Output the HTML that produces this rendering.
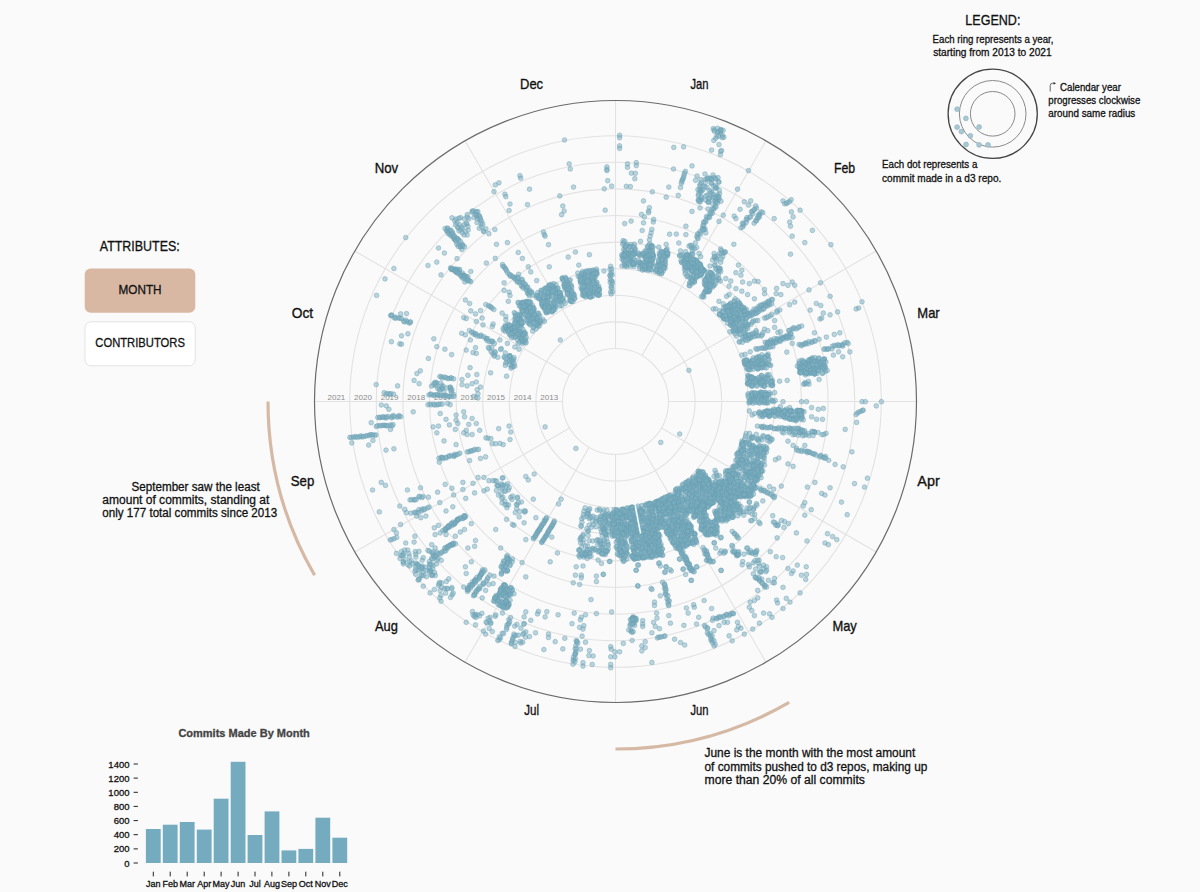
<!DOCTYPE html><html><head><meta charset="utf-8"><style>html,body{margin:0;padding:0;background:#fafafa;}svg{display:block}text{font-family:"Liberation Sans", sans-serif;}</style></head><body>
<svg width="1200" height="892" viewBox="0 0 1200 892">
<rect width="1200" height="892" fill="#fafafa"/>
<circle cx="615.5" cy="401.5" r="53" fill="none" stroke="#e2e2e2" stroke-width="1.1"/>
<circle cx="615.5" cy="401.5" r="79.6" fill="none" stroke="#e2e2e2" stroke-width="1.1"/>
<circle cx="615.5" cy="401.5" r="106.2" fill="none" stroke="#e2e2e2" stroke-width="1.1"/>
<circle cx="615.5" cy="401.5" r="132.8" fill="none" stroke="#e2e2e2" stroke-width="1.1"/>
<circle cx="615.5" cy="401.5" r="159.4" fill="none" stroke="#e2e2e2" stroke-width="1.1"/>
<circle cx="615.5" cy="401.5" r="186" fill="none" stroke="#e2e2e2" stroke-width="1.1"/>
<circle cx="615.5" cy="401.5" r="212.6" fill="none" stroke="#e2e2e2" stroke-width="1.1"/>
<circle cx="615.5" cy="401.5" r="239.2" fill="none" stroke="#e2e2e2" stroke-width="1.1"/>
<circle cx="615.5" cy="401.5" r="265.8" fill="none" stroke="#e2e2e2" stroke-width="1.1"/>
<line x1="615.5" y1="348.5" x2="615.5" y2="100.5" stroke="#e2e2e2" stroke-width="1.1"/>
<line x1="642" y1="355.6" x2="766" y2="140.8" stroke="#e2e2e2" stroke-width="1.1"/>
<line x1="661.4" y1="375" x2="876.2" y2="251" stroke="#e2e2e2" stroke-width="1.1"/>
<line x1="668.5" y1="401.5" x2="916.5" y2="401.5" stroke="#e2e2e2" stroke-width="1.1"/>
<line x1="661.4" y1="428" x2="876.2" y2="552" stroke="#e2e2e2" stroke-width="1.1"/>
<line x1="642" y1="447.4" x2="766" y2="662.2" stroke="#e2e2e2" stroke-width="1.1"/>
<line x1="615.5" y1="454.5" x2="615.5" y2="702.5" stroke="#e2e2e2" stroke-width="1.1"/>
<line x1="589" y1="447.4" x2="465" y2="662.2" stroke="#e2e2e2" stroke-width="1.1"/>
<line x1="569.6" y1="428" x2="354.8" y2="552" stroke="#e2e2e2" stroke-width="1.1"/>
<line x1="562.5" y1="401.5" x2="314.5" y2="401.5" stroke="#e2e2e2" stroke-width="1.1"/>
<line x1="569.6" y1="375" x2="354.8" y2="251" stroke="#e2e2e2" stroke-width="1.1"/>
<line x1="589" y1="355.6" x2="465" y2="140.8" stroke="#e2e2e2" stroke-width="1.1"/>
<circle cx="615.5" cy="401.5" r="301" fill="none" stroke="#6b6b6b" stroke-width="1.2"/>
<text x="549.2" y="400" font-size="8" fill="#8a8a8a" text-anchor="middle">2013</text>
<text x="522.6" y="400" font-size="8" fill="#8a8a8a" text-anchor="middle">2014</text>
<text x="496" y="400" font-size="8" fill="#8a8a8a" text-anchor="middle">2015</text>
<text x="469.4" y="400" font-size="8" fill="#8a8a8a" text-anchor="middle">2016</text>
<text x="442.8" y="400" font-size="8" fill="#8a8a8a" text-anchor="middle">2017</text>
<text x="416.2" y="400" font-size="8" fill="#8a8a8a" text-anchor="middle">2018</text>
<text x="389.6" y="400" font-size="8" fill="#8a8a8a" text-anchor="middle">2019</text>
<text x="363" y="400" font-size="8" fill="#8a8a8a" text-anchor="middle">2020</text>
<text x="336.4" y="400" font-size="8" fill="#8a8a8a" text-anchor="middle">2021</text>
<g fill="#7aadc0" fill-opacity="0.5" stroke="#6a9fb2" stroke-opacity="0.55" stroke-width="0.8"><circle cx="495.3" cy="184.9" r="2.35"/><circle cx="499.0" cy="182.8" r="2.35"/><circle cx="494.0" cy="191.7" r="2.35"/><circle cx="504.9" cy="194.2" r="2.35"/><circle cx="505.8" cy="196.7" r="2.35"/><circle cx="510.0" cy="204.0" r="2.35"/><circle cx="509.1" cy="210.5" r="2.35"/><circle cx="405.7" cy="237.6" r="2.35"/><circle cx="494.8" cy="229.5" r="2.35"/><circle cx="488.9" cy="233.7" r="2.35"/><circle cx="496.5" cy="244.3" r="2.35"/><circle cx="507.4" cy="242.6" r="2.35"/><circle cx="438.5" cy="248.0" r="2.35"/><circle cx="445.0" cy="228.5" r="2.35"/><circle cx="446.8" cy="230.3" r="2.35"/><circle cx="446.9" cy="231.2" r="2.35"/><circle cx="448.3" cy="232.3" r="2.35"/><circle cx="448.4" cy="233.9" r="2.35"/><circle cx="450.3" cy="234.6" r="2.35"/><circle cx="451.2" cy="236.1" r="2.35"/><circle cx="453.0" cy="236.7" r="2.35"/><circle cx="454.1" cy="238.4" r="2.35"/><circle cx="454.1" cy="239.1" r="2.35"/><circle cx="455.5" cy="240.3" r="2.35"/><circle cx="455.8" cy="241.1" r="2.35"/><circle cx="456.8" cy="244.1" r="2.35"/><circle cx="459.0" cy="244.8" r="2.35"/><circle cx="458.1" cy="246.3" r="2.35"/><circle cx="460.8" cy="247.1" r="2.35"/><circle cx="460.4" cy="246.9" r="2.35"/><circle cx="461.9" cy="249.6" r="2.35"/><circle cx="447.4" cy="228.0" r="2.35"/><circle cx="447.7" cy="228.7" r="2.35"/><circle cx="449.6" cy="230.4" r="2.35"/><circle cx="450.8" cy="230.4" r="2.35"/><circle cx="451.9" cy="231.5" r="2.35"/><circle cx="452.8" cy="233.3" r="2.35"/><circle cx="452.5" cy="234.5" r="2.35"/><circle cx="454.2" cy="236.4" r="2.35"/><circle cx="454.2" cy="235.9" r="2.35"/><circle cx="457.1" cy="238.4" r="2.35"/><circle cx="456.4" cy="238.3" r="2.35"/><circle cx="458.2" cy="239.3" r="2.35"/><circle cx="458.7" cy="240.3" r="2.35"/><circle cx="460.5" cy="241.5" r="2.35"/><circle cx="462.1" cy="244.3" r="2.35"/><circle cx="462.6" cy="245.1" r="2.35"/><circle cx="462.8" cy="246.1" r="2.35"/><circle cx="464.6" cy="246.8" r="2.35"/><circle cx="459.1" cy="230.9" r="2.35"/><circle cx="462.5" cy="228.3" r="2.35"/><circle cx="467.2" cy="235.0" r="2.35"/><circle cx="462.4" cy="232.9" r="2.35"/><circle cx="466.9" cy="224.0" r="2.35"/><circle cx="454.7" cy="220.7" r="2.35"/><circle cx="467.3" cy="214.7" r="2.35"/><circle cx="457.0" cy="222.7" r="2.35"/><circle cx="464.4" cy="224.6" r="2.35"/><circle cx="452.0" cy="217.8" r="2.35"/><circle cx="460.5" cy="217.6" r="2.35"/><circle cx="468.2" cy="230.1" r="2.35"/><circle cx="458.3" cy="228.0" r="2.35"/><circle cx="465.4" cy="231.6" r="2.35"/><circle cx="469.0" cy="218.8" r="2.35"/><circle cx="464.1" cy="234.9" r="2.35"/><circle cx="455.6" cy="224.7" r="2.35"/><circle cx="459.0" cy="218.3" r="2.35"/><circle cx="466.3" cy="223.4" r="2.35"/><circle cx="459.5" cy="224.7" r="2.35"/><circle cx="464.5" cy="219.0" r="2.35"/><circle cx="457.5" cy="227.2" r="2.35"/><circle cx="460.8" cy="229.7" r="2.35"/><circle cx="456.0" cy="219.0" r="2.35"/><circle cx="467.3" cy="217.4" r="2.35"/><circle cx="461.3" cy="227.1" r="2.35"/><circle cx="468.0" cy="226.6" r="2.35"/><circle cx="479.4" cy="216.3" r="2.35"/><circle cx="477.6" cy="218.8" r="2.35"/><circle cx="480.9" cy="223.4" r="2.35"/><circle cx="475.7" cy="212.2" r="2.35"/><circle cx="481.4" cy="226.7" r="2.35"/><circle cx="479.3" cy="228.3" r="2.35"/><circle cx="480.2" cy="219.4" r="2.35"/><circle cx="476.6" cy="216.5" r="2.35"/><circle cx="481.6" cy="221.0" r="2.35"/><circle cx="472.2" cy="211.1" r="2.35"/><circle cx="483.8" cy="231.6" r="2.35"/><circle cx="482.8" cy="224.2" r="2.35"/><circle cx="477.8" cy="211.6" r="2.35"/><circle cx="476.9" cy="214.8" r="2.35"/><circle cx="475.2" cy="214.6" r="2.35"/><circle cx="483.6" cy="231.1" r="2.35"/><circle cx="485.9" cy="228.8" r="2.35"/><circle cx="474.0" cy="217.5" r="2.35"/><circle cx="476.7" cy="211.7" r="2.35"/><circle cx="472.2" cy="212.3" r="2.35"/><circle cx="479.2" cy="215.7" r="2.35"/><circle cx="473.3" cy="210.8" r="2.35"/><circle cx="477.0" cy="222.6" r="2.35"/><circle cx="480.3" cy="218.0" r="2.35"/><circle cx="564.5" cy="140.0" r="2.35"/><circle cx="619.6" cy="135.3" r="2.35"/><circle cx="619.6" cy="137.8" r="2.35"/><circle cx="619.6" cy="145.8" r="2.35"/><circle cx="619.6" cy="148.4" r="2.35"/><circle cx="673.8" cy="147.4" r="2.35"/><circle cx="683.6" cy="146.8" r="2.35"/><circle cx="711.6" cy="150.1" r="2.35"/><circle cx="713.3" cy="128.6" r="2.35"/><circle cx="713.8" cy="140.4" r="2.35"/><circle cx="569.2" cy="163.9" r="2.35"/><circle cx="570.3" cy="169.0" r="2.35"/><circle cx="606.9" cy="166.9" r="2.35"/><circle cx="606.9" cy="169.3" r="2.35"/><circle cx="606.9" cy="170.6" r="2.35"/><circle cx="519.9" cy="175.7" r="2.35"/><circle cx="520.7" cy="178.2" r="2.35"/><circle cx="529.5" cy="189.2" r="2.35"/><circle cx="573.5" cy="187.1" r="2.35"/><circle cx="607.7" cy="180.7" r="2.35"/><circle cx="611.6" cy="186.1" r="2.35"/><circle cx="604.3" cy="188.8" r="2.35"/><circle cx="627.5" cy="163.9" r="2.35"/><circle cx="627.5" cy="167.3" r="2.35"/><circle cx="636.3" cy="162.7" r="2.35"/><circle cx="636.3" cy="165.6" r="2.35"/><circle cx="631.4" cy="173.2" r="2.35"/><circle cx="635.4" cy="173.3" r="2.35"/><circle cx="634.8" cy="178.7" r="2.35"/><circle cx="626.4" cy="186.3" r="2.35"/><circle cx="630.4" cy="186.6" r="2.35"/><circle cx="652.3" cy="191.8" r="2.35"/><circle cx="668.8" cy="187.1" r="2.35"/><circle cx="666.2" cy="197.2" r="2.35"/><circle cx="680.5" cy="187.5" r="2.35"/><circle cx="678.3" cy="195.4" r="2.35"/><circle cx="673.5" cy="169.0" r="2.35"/><circle cx="692.0" cy="165.9" r="2.35"/><circle cx="685.4" cy="171.4" r="2.35"/><circle cx="684.5" cy="173.2" r="2.35"/><circle cx="684.0" cy="175.3" r="2.35"/><circle cx="683.6" cy="177.4" r="2.35"/><circle cx="682.9" cy="178.9" r="2.35"/><circle cx="682.1" cy="180.1" r="2.35"/><circle cx="682.0" cy="181.8" r="2.35"/><circle cx="681.3" cy="183.3" r="2.35"/><circle cx="559.8" cy="195.9" r="2.35"/><circle cx="562.8" cy="206.0" r="2.35"/><circle cx="564.1" cy="211.0" r="2.35"/><circle cx="561.6" cy="214.7" r="2.35"/><circle cx="527.5" cy="204.6" r="2.35"/><circle cx="605.2" cy="210.2" r="2.35"/><circle cx="643.5" cy="200.9" r="2.35"/><circle cx="649.4" cy="207.7" r="2.35"/><circle cx="648.6" cy="211.0" r="2.35"/><circle cx="648.6" cy="212.7" r="2.35"/><circle cx="641.5" cy="214.4" r="2.35"/><circle cx="644.4" cy="216.9" r="2.35"/><circle cx="653.6" cy="219.4" r="2.35"/><circle cx="653.3" cy="222.0" r="2.35"/><circle cx="643.5" cy="222.8" r="2.35"/><circle cx="624.7" cy="223.6" r="2.35"/><circle cx="631.1" cy="221.1" r="2.35"/><circle cx="642.2" cy="230.5" r="2.35"/><circle cx="651.9" cy="229.5" r="2.35"/><circle cx="651.1" cy="232.9" r="2.35"/><circle cx="650.2" cy="236.2" r="2.35"/><circle cx="649.4" cy="239.9" r="2.35"/><circle cx="640.5" cy="241.3" r="2.35"/><circle cx="692.0" cy="211.4" r="2.35"/><circle cx="685.9" cy="226.2" r="2.35"/><circle cx="669.6" cy="234.2" r="2.35"/><circle cx="676.3" cy="234.1" r="2.35"/><circle cx="685.9" cy="234.6" r="2.35"/><circle cx="705.8" cy="232.9" r="2.35"/><circle cx="543.4" cy="232.0" r="2.35"/><circle cx="544.3" cy="234.6" r="2.35"/><circle cx="545.1" cy="236.2" r="2.35"/><circle cx="548.5" cy="244.7" r="2.35"/><circle cx="715.1" cy="206.3" r="2.35"/><circle cx="713.6" cy="209.0" r="2.35"/><circle cx="714.0" cy="208.4" r="2.35"/><circle cx="711.9" cy="208.9" r="2.35"/><circle cx="712.4" cy="213.3" r="2.35"/><circle cx="710.5" cy="214.1" r="2.35"/><circle cx="711.2" cy="212.0" r="2.35"/><circle cx="709.9" cy="213.1" r="2.35"/><circle cx="708.7" cy="217.2" r="2.35"/><circle cx="707.3" cy="217.3" r="2.35"/><circle cx="706.5" cy="216.5" r="2.35"/><circle cx="709.5" cy="217.5" r="2.35"/><circle cx="705.8" cy="221.9" r="2.35"/><circle cx="705.8" cy="220.1" r="2.35"/><circle cx="704.3" cy="222.3" r="2.35"/><circle cx="703.6" cy="222.2" r="2.35"/><circle cx="703.7" cy="225.3" r="2.35"/><circle cx="702.9" cy="225.8" r="2.35"/><circle cx="702.6" cy="228.4" r="2.35"/><circle cx="705.1" cy="229.2" r="2.35"/><circle cx="704.1" cy="228.7" r="2.35"/><circle cx="703.7" cy="230.1" r="2.35"/><circle cx="700.0" cy="231.6" r="2.35"/><circle cx="702.2" cy="229.7" r="2.35"/><circle cx="699.0" cy="233.8" r="2.35"/><circle cx="700.7" cy="234.0" r="2.35"/><circle cx="697.6" cy="233.9" r="2.35"/><circle cx="697.4" cy="237.8" r="2.35"/><circle cx="696.8" cy="236.4" r="2.35"/><circle cx="698.1" cy="238.6" r="2.35"/><circle cx="630.0" cy="246.7" r="2.35"/><circle cx="634.7" cy="249.2" r="2.35"/><circle cx="623.0" cy="240.7" r="2.35"/><circle cx="635.3" cy="249.2" r="2.35"/><circle cx="626.9" cy="244.3" r="2.35"/><circle cx="630.9" cy="244.5" r="2.35"/><circle cx="623.4" cy="242.8" r="2.35"/><circle cx="626.5" cy="245.9" r="2.35"/><circle cx="625.1" cy="247.4" r="2.35"/><circle cx="634.3" cy="244.1" r="2.35"/><circle cx="630.0" cy="246.6" r="2.35"/><circle cx="633.0" cy="246.5" r="2.35"/><circle cx="629.6" cy="247.4" r="2.35"/><circle cx="623.6" cy="249.5" r="2.35"/><circle cx="634.5" cy="247.1" r="2.35"/><circle cx="625.3" cy="246.5" r="2.35"/><circle cx="622.7" cy="244.3" r="2.35"/><circle cx="625.3" cy="245.8" r="2.35"/><circle cx="624.8" cy="241.3" r="2.35"/><circle cx="651.6" cy="245.4" r="2.35"/><circle cx="649.8" cy="243.9" r="2.35"/><circle cx="650.5" cy="248.7" r="2.35"/><circle cx="651.6" cy="245.9" r="2.35"/><circle cx="647.4" cy="247.6" r="2.35"/><circle cx="648.3" cy="245.6" r="2.35"/><circle cx="647.8" cy="246.3" r="2.35"/><circle cx="651.0" cy="246.3" r="2.35"/><circle cx="651.0" cy="248.3" r="2.35"/><circle cx="652.0" cy="247.4" r="2.35"/><circle cx="653.1" cy="246.9" r="2.35"/><circle cx="692.6" cy="247.5" r="2.35"/><circle cx="696.6" cy="247.5" r="2.35"/><circle cx="695.3" cy="242.9" r="2.35"/><circle cx="691.6" cy="247.9" r="2.35"/><circle cx="694.5" cy="248.7" r="2.35"/><circle cx="690.5" cy="245.3" r="2.35"/><circle cx="691.6" cy="245.6" r="2.35"/><circle cx="689.0" cy="246.1" r="2.35"/><circle cx="658.7" cy="247.2" r="2.35"/><circle cx="667.1" cy="248.9" r="2.35"/><circle cx="666.2" cy="244.3" r="2.35"/><circle cx="678.8" cy="243.0" r="2.35"/><circle cx="722.5" cy="135.7" r="2.35"/><circle cx="716.8" cy="135.9" r="2.35"/><circle cx="720.6" cy="129.8" r="2.35"/><circle cx="714.1" cy="130.0" r="2.35"/><circle cx="723.8" cy="137.2" r="2.35"/><circle cx="717.8" cy="131.7" r="2.35"/><circle cx="720.2" cy="131.5" r="2.35"/><circle cx="714.4" cy="131.2" r="2.35"/><circle cx="720.6" cy="133.0" r="2.35"/><circle cx="717.7" cy="132.7" r="2.35"/><circle cx="715.8" cy="138.1" r="2.35"/><circle cx="718.8" cy="136.2" r="2.35"/><circle cx="722.2" cy="137.7" r="2.35"/><circle cx="720.8" cy="129.6" r="2.35"/><circle cx="717.5" cy="128.3" r="2.35"/><circle cx="721.0" cy="130.5" r="2.35"/><circle cx="723.1" cy="130.3" r="2.35"/><circle cx="719.0" cy="144.6" r="2.35"/><circle cx="720.7" cy="151.3" r="2.35"/><circle cx="720.4" cy="154.7" r="2.35"/><circle cx="721.6" cy="150.5" r="2.35"/><circle cx="748.5" cy="170.6" r="2.35"/><circle cx="737.5" cy="189.2" r="2.35"/><circle cx="723.3" cy="215.2" r="2.35"/><circle cx="719.0" cy="221.4" r="2.35"/><circle cx="744.3" cy="201.8" r="2.35"/><circle cx="750.7" cy="200.9" r="2.35"/><circle cx="748.5" cy="205.1" r="2.35"/><circle cx="740.1" cy="209.3" r="2.35"/><circle cx="740.9" cy="227.8" r="2.35"/><circle cx="742.8" cy="226.9" r="2.35"/><circle cx="743.9" cy="224.8" r="2.35"/><circle cx="742.5" cy="223.2" r="2.35"/><circle cx="743.3" cy="223.5" r="2.35"/><circle cx="746.2" cy="222.4" r="2.35"/><circle cx="747.4" cy="219.3" r="2.35"/><circle cx="746.2" cy="219.7" r="2.35"/><circle cx="746.9" cy="217.5" r="2.35"/><circle cx="749.6" cy="217.2" r="2.35"/><circle cx="750.7" cy="216.8" r="2.35"/><circle cx="752.7" cy="213.7" r="2.35"/><circle cx="751.6" cy="211.6" r="2.35"/><circle cx="752.0" cy="211.6" r="2.35"/><circle cx="754.5" cy="209.7" r="2.35"/><circle cx="753.8" cy="209.8" r="2.35"/><circle cx="756.5" cy="208.1" r="2.35"/><circle cx="755.8" cy="205.9" r="2.35"/><circle cx="754.1" cy="223.2" r="2.35"/><circle cx="755.7" cy="220.9" r="2.35"/><circle cx="756.6" cy="220.6" r="2.35"/><circle cx="757.2" cy="218.4" r="2.35"/><circle cx="758.3" cy="217.7" r="2.35"/><circle cx="758.1" cy="215.4" r="2.35"/><circle cx="759.3" cy="214.7" r="2.35"/><circle cx="759.7" cy="213.8" r="2.35"/><circle cx="761.3" cy="211.9" r="2.35"/><circle cx="734.2" cy="216.1" r="2.35"/><circle cx="735.9" cy="218.6" r="2.35"/><circle cx="762.8" cy="212.7" r="2.35"/><circle cx="759.4" cy="216.9" r="2.35"/><circle cx="774.2" cy="218.6" r="2.35"/><circle cx="784.6" cy="203.8" r="2.35"/><circle cx="786.6" cy="203.5" r="2.35"/><circle cx="787.4" cy="202.6" r="2.35"/><circle cx="789.5" cy="201.7" r="2.35"/><circle cx="791.2" cy="199.7" r="2.35"/><circle cx="783.0" cy="200.9" r="2.35"/><circle cx="800.1" cy="210.2" r="2.35"/><circle cx="791.4" cy="211.9" r="2.35"/><circle cx="793.1" cy="216.9" r="2.35"/><circle cx="789.7" cy="222.0" r="2.35"/><circle cx="790.5" cy="226.2" r="2.35"/><circle cx="812.4" cy="230.4" r="2.35"/><circle cx="792.2" cy="236.2" r="2.35"/><circle cx="804.8" cy="242.6" r="2.35"/><circle cx="830.9" cy="244.7" r="2.35"/><circle cx="733.8" cy="244.3" r="2.35"/><circle cx="720.7" cy="248.9" r="2.35"/><circle cx="444.4" cy="253.0" r="2.35"/><circle cx="457.0" cy="258.7" r="2.35"/><circle cx="428.0" cy="265.5" r="2.35"/><circle cx="436.8" cy="262.1" r="2.35"/><circle cx="441.0" cy="274.9" r="2.35"/><circle cx="470.8" cy="271.5" r="2.35"/><circle cx="486.4" cy="263.1" r="2.35"/><circle cx="495.3" cy="258.4" r="2.35"/><circle cx="455.9" cy="272.3" r="2.35"/><circle cx="452.0" cy="269.6" r="2.35"/><circle cx="461.7" cy="275.4" r="2.35"/><circle cx="456.2" cy="269.2" r="2.35"/><circle cx="451.3" cy="269.3" r="2.35"/><circle cx="459.5" cy="269.4" r="2.35"/><circle cx="463.5" cy="275.1" r="2.35"/><circle cx="468.5" cy="280.7" r="2.35"/><circle cx="462.4" cy="278.1" r="2.35"/><circle cx="459.3" cy="272.7" r="2.35"/><circle cx="455.7" cy="270.2" r="2.35"/><circle cx="464.8" cy="282.0" r="2.35"/><circle cx="457.5" cy="269.8" r="2.35"/><circle cx="459.3" cy="270.0" r="2.35"/><circle cx="463.8" cy="275.6" r="2.35"/><circle cx="462.4" cy="273.0" r="2.35"/><circle cx="468.0" cy="276.8" r="2.35"/><circle cx="455.0" cy="269.0" r="2.35"/><circle cx="453.3" cy="269.1" r="2.35"/><circle cx="466.0" cy="279.0" r="2.35"/><circle cx="465.2" cy="276.2" r="2.35"/><circle cx="457.2" cy="271.4" r="2.35"/><circle cx="466.2" cy="276.5" r="2.35"/><circle cx="463.4" cy="275.2" r="2.35"/><circle cx="450.6" cy="267.8" r="2.35"/><circle cx="451.2" cy="268.4" r="2.35"/><circle cx="452.5" cy="269.2" r="2.35"/><circle cx="454.5" cy="270.6" r="2.35"/><circle cx="455.4" cy="271.2" r="2.35"/><circle cx="456.5" cy="271.7" r="2.35"/><circle cx="457.8" cy="273.1" r="2.35"/><circle cx="458.9" cy="273.9" r="2.35"/><circle cx="460.9" cy="275.3" r="2.35"/><circle cx="461.1" cy="276.2" r="2.35"/><circle cx="463.2" cy="277.0" r="2.35"/><circle cx="464.5" cy="277.1" r="2.35"/><circle cx="464.9" cy="278.6" r="2.35"/><circle cx="467.0" cy="278.8" r="2.35"/><circle cx="467.3" cy="280.7" r="2.35"/><circle cx="469.7" cy="280.8" r="2.35"/><circle cx="470.8" cy="281.7" r="2.35"/><circle cx="393.9" cy="268.5" r="2.35"/><circle cx="385.0" cy="278.9" r="2.35"/><circle cx="376.6" cy="295.4" r="2.35"/><circle cx="502.6" cy="264.5" r="2.35"/><circle cx="502.9" cy="266.3" r="2.35"/><circle cx="504.1" cy="266.8" r="2.35"/><circle cx="505.2" cy="268.2" r="2.35"/><circle cx="505.7" cy="269.3" r="2.35"/><circle cx="506.6" cy="270.7" r="2.35"/><circle cx="507.5" cy="272.8" r="2.35"/><circle cx="509.5" cy="274.4" r="2.35"/><circle cx="510.2" cy="276.2" r="2.35"/><circle cx="510.9" cy="275.2" r="2.35"/><circle cx="512.8" cy="277.0" r="2.35"/><circle cx="514.6" cy="278.3" r="2.35"/><circle cx="504.1" cy="282.8" r="2.35"/><circle cx="504.1" cy="290.4" r="2.35"/><circle cx="509.1" cy="292.1" r="2.35"/><circle cx="510.0" cy="295.4" r="2.35"/><circle cx="508.3" cy="301.3" r="2.35"/><circle cx="465.4" cy="300.0" r="2.35"/><circle cx="469.6" cy="303.5" r="2.35"/><circle cx="470.8" cy="310.9" r="2.35"/><circle cx="475.5" cy="313.9" r="2.35"/><circle cx="480.5" cy="310.6" r="2.35"/><circle cx="485.8" cy="304.5" r="2.35"/><circle cx="488.5" cy="305.7" r="2.35"/><circle cx="489.8" cy="306.5" r="2.35"/><circle cx="491.1" cy="307.2" r="2.35"/><circle cx="492.1" cy="308.2" r="2.35"/><circle cx="493.9" cy="309.5" r="2.35"/><circle cx="502.1" cy="313.1" r="2.35"/><circle cx="505.8" cy="316.4" r="2.35"/><circle cx="505.8" cy="319.8" r="2.35"/><circle cx="463.7" cy="317.6" r="2.35"/><circle cx="466.2" cy="318.6" r="2.35"/><circle cx="476.3" cy="321.5" r="2.35"/><circle cx="482.2" cy="318.1" r="2.35"/><circle cx="483.0" cy="324.9" r="2.35"/><circle cx="492.3" cy="326.5" r="2.35"/><circle cx="493.1" cy="324.0" r="2.35"/><circle cx="390.7" cy="315.7" r="2.35"/><circle cx="391.2" cy="315.1" r="2.35"/><circle cx="391.9" cy="315.2" r="2.35"/><circle cx="394.4" cy="318.0" r="2.35"/><circle cx="395.2" cy="317.1" r="2.35"/><circle cx="396.1" cy="318.2" r="2.35"/><circle cx="398.7" cy="317.9" r="2.35"/><circle cx="400.0" cy="318.3" r="2.35"/><circle cx="401.5" cy="318.5" r="2.35"/><circle cx="403.8" cy="321.3" r="2.35"/><circle cx="405.8" cy="320.1" r="2.35"/><circle cx="404.5" cy="321.9" r="2.35"/><circle cx="407.2" cy="321.7" r="2.35"/><circle cx="409.2" cy="323.1" r="2.35"/><circle cx="410.2" cy="322.4" r="2.35"/><circle cx="410.5" cy="321.8" r="2.35"/><circle cx="400.6" cy="313.9" r="2.35"/><circle cx="406.5" cy="313.6" r="2.35"/><circle cx="401.5" cy="335.8" r="2.35"/><circle cx="407.9" cy="333.8" r="2.35"/><circle cx="391.4" cy="341.7" r="2.35"/><circle cx="399.8" cy="343.9" r="2.35"/><circle cx="401.5" cy="344.2" r="2.35"/><circle cx="433.8" cy="338.8" r="2.35"/><circle cx="436.8" cy="346.7" r="2.35"/><circle cx="444.9" cy="349.2" r="2.35"/><circle cx="451.6" cy="354.6" r="2.35"/><circle cx="428.4" cy="358.5" r="2.35"/><circle cx="469.4" cy="330.5" r="2.35"/><circle cx="473.0" cy="332.4" r="2.35"/><circle cx="471.6" cy="332.2" r="2.35"/><circle cx="474.0" cy="334.3" r="2.35"/><circle cx="475.3" cy="334.0" r="2.35"/><circle cx="476.1" cy="333.9" r="2.35"/><circle cx="476.9" cy="335.9" r="2.35"/><circle cx="479.4" cy="336.3" r="2.35"/><circle cx="480.9" cy="335.0" r="2.35"/><circle cx="481.3" cy="336.2" r="2.35"/><circle cx="484.1" cy="336.9" r="2.35"/><circle cx="486.0" cy="338.8" r="2.35"/><circle cx="486.4" cy="338.6" r="2.35"/><circle cx="487.7" cy="338.6" r="2.35"/><circle cx="487.2" cy="340.7" r="2.35"/><circle cx="489.6" cy="341.6" r="2.35"/><circle cx="491.7" cy="341.0" r="2.35"/><circle cx="492.0" cy="341.9" r="2.35"/><circle cx="492.8" cy="341.5" r="2.35"/><circle cx="494.3" cy="343.5" r="2.35"/><circle cx="461.7" cy="333.3" r="2.35"/><circle cx="465.4" cy="334.9" r="2.35"/><circle cx="470.4" cy="340.0" r="2.35"/><circle cx="466.2" cy="350.1" r="2.35"/><circle cx="475.5" cy="347.6" r="2.35"/><circle cx="476.3" cy="353.4" r="2.35"/><circle cx="473.0" cy="352.6" r="2.35"/><circle cx="507.8" cy="324.5" r="2.35"/><circle cx="505.5" cy="331.4" r="2.35"/><circle cx="509.1" cy="327.7" r="2.35"/><circle cx="513.7" cy="330.0" r="2.35"/><circle cx="511.1" cy="329.2" r="2.35"/><circle cx="508.9" cy="333.1" r="2.35"/><circle cx="506.7" cy="326.5" r="2.35"/><circle cx="509.8" cy="335.1" r="2.35"/><circle cx="511.7" cy="326.2" r="2.35"/><circle cx="512.5" cy="335.5" r="2.35"/><circle cx="506.7" cy="329.4" r="2.35"/><circle cx="512.4" cy="328.6" r="2.35"/><circle cx="513.2" cy="327.7" r="2.35"/><circle cx="503.8" cy="330.1" r="2.35"/><circle cx="506.8" cy="327.0" r="2.35"/><circle cx="512.0" cy="327.9" r="2.35"/><circle cx="513.5" cy="329.9" r="2.35"/><circle cx="513.7" cy="330.6" r="2.35"/><circle cx="505.2" cy="326.9" r="2.35"/><circle cx="513.5" cy="332.7" r="2.35"/><circle cx="507.8" cy="327.4" r="2.35"/><circle cx="503.1" cy="328.5" r="2.35"/><circle cx="510.4" cy="334.6" r="2.35"/><circle cx="507.7" cy="330.2" r="2.35"/><circle cx="509.5" cy="325.3" r="2.35"/><circle cx="508.2" cy="327.4" r="2.35"/><circle cx="507.9" cy="329.7" r="2.35"/><circle cx="504.9" cy="326.8" r="2.35"/><circle cx="510.0" cy="328.8" r="2.35"/><circle cx="513.7" cy="337.6" r="2.35"/><circle cx="509.2" cy="325.0" r="2.35"/><circle cx="511.6" cy="333.2" r="2.35"/><circle cx="509.7" cy="329.9" r="2.35"/><circle cx="512.0" cy="328.8" r="2.35"/><circle cx="508.1" cy="331.1" r="2.35"/><circle cx="513.1" cy="329.0" r="2.35"/><circle cx="512.5" cy="328.1" r="2.35"/><circle cx="505.4" cy="325.3" r="2.35"/><circle cx="499.9" cy="340.0" r="2.35"/><circle cx="507.4" cy="343.4" r="2.35"/><circle cx="511.6" cy="337.5" r="2.35"/><circle cx="506.9" cy="361.8" r="2.35"/><circle cx="489.2" cy="348.6" r="2.35"/><circle cx="509.1" cy="360.6" r="2.35"/><circle cx="509.9" cy="355.7" r="2.35"/><circle cx="491.4" cy="347.4" r="2.35"/><circle cx="511.9" cy="361.8" r="2.35"/><circle cx="504.3" cy="357.5" r="2.35"/><circle cx="494.5" cy="355.2" r="2.35"/><circle cx="509.8" cy="361.2" r="2.35"/><circle cx="509.8" cy="364.8" r="2.35"/><circle cx="504.6" cy="356.7" r="2.35"/><circle cx="505.7" cy="363.1" r="2.35"/><circle cx="497.8" cy="357.3" r="2.35"/><circle cx="511.8" cy="358.9" r="2.35"/><circle cx="501.3" cy="348.7" r="2.35"/><circle cx="505.3" cy="352.9" r="2.35"/><circle cx="511.1" cy="368.2" r="2.35"/><circle cx="513.6" cy="359.6" r="2.35"/><circle cx="494.9" cy="351.7" r="2.35"/><circle cx="509.4" cy="356.2" r="2.35"/><circle cx="509.6" cy="356.5" r="2.35"/><circle cx="509.9" cy="355.9" r="2.35"/><circle cx="512.6" cy="360.6" r="2.35"/><circle cx="512.1" cy="365.4" r="2.35"/><circle cx="513.1" cy="366.4" r="2.35"/><circle cx="506.1" cy="358.7" r="2.35"/><circle cx="494.2" cy="356.1" r="2.35"/><circle cx="488.4" cy="347.4" r="2.35"/><circle cx="495.2" cy="352.6" r="2.35"/><circle cx="492.8" cy="353.5" r="2.35"/><circle cx="500.6" cy="349.4" r="2.35"/><circle cx="513.8" cy="363.2" r="2.35"/><circle cx="505.3" cy="365.4" r="2.35"/><circle cx="491.1" cy="351.7" r="2.35"/><circle cx="511.9" cy="366.9" r="2.35"/><circle cx="490.6" cy="372.8" r="2.35"/><circle cx="506.6" cy="376.2" r="2.35"/><circle cx="470.1" cy="367.7" r="2.35"/><circle cx="467.9" cy="375.3" r="2.35"/><circle cx="476.8" cy="374.5" r="2.35"/><circle cx="462.0" cy="379.5" r="2.35"/><circle cx="467.1" cy="385.9" r="2.35"/><circle cx="472.1" cy="383.7" r="2.35"/><circle cx="476.3" cy="382.0" r="2.35"/><circle cx="480.5" cy="387.1" r="2.35"/><circle cx="477.2" cy="389.6" r="2.35"/><circle cx="478.0" cy="393.8" r="2.35"/><circle cx="462.0" cy="384.6" r="2.35"/><circle cx="439.8" cy="376.5" r="2.35"/><circle cx="441.3" cy="376.7" r="2.35"/><circle cx="442.3" cy="378.0" r="2.35"/><circle cx="444.5" cy="377.1" r="2.35"/><circle cx="445.8" cy="377.6" r="2.35"/><circle cx="447.5" cy="378.4" r="2.35"/><circle cx="448.9" cy="378.6" r="2.35"/><circle cx="450.9" cy="377.9" r="2.35"/><circle cx="451.5" cy="378.1" r="2.35"/><circle cx="453.6" cy="378.9" r="2.35"/><circle cx="450.4" cy="387.3" r="2.35"/><circle cx="447.2" cy="387.8" r="2.35"/><circle cx="443.1" cy="386.0" r="2.35"/><circle cx="452.0" cy="389.9" r="2.35"/><circle cx="450.2" cy="387.2" r="2.35"/><circle cx="436.7" cy="382.9" r="2.35"/><circle cx="442.4" cy="388.6" r="2.35"/><circle cx="436.2" cy="385.8" r="2.35"/><circle cx="451.4" cy="392.4" r="2.35"/><circle cx="453.7" cy="394.6" r="2.35"/><circle cx="439.8" cy="390.2" r="2.35"/><circle cx="450.5" cy="388.6" r="2.35"/><circle cx="431.6" cy="386.1" r="2.35"/><circle cx="443.9" cy="391.7" r="2.35"/><circle cx="439.6" cy="389.3" r="2.35"/><circle cx="433.7" cy="384.8" r="2.35"/><circle cx="442.2" cy="388.1" r="2.35"/><circle cx="441.5" cy="385.9" r="2.35"/><circle cx="437.7" cy="388.6" r="2.35"/><circle cx="435.5" cy="382.3" r="2.35"/><circle cx="434.1" cy="383.0" r="2.35"/><circle cx="440.7" cy="383.2" r="2.35"/><circle cx="435.7" cy="383.7" r="2.35"/><circle cx="450.9" cy="390.5" r="2.35"/><circle cx="428.9" cy="395.0" r="2.35"/><circle cx="430.3" cy="394.2" r="2.35"/><circle cx="431.7" cy="394.3" r="2.35"/><circle cx="433.3" cy="395.6" r="2.35"/><circle cx="434.6" cy="395.2" r="2.35"/><circle cx="436.1" cy="394.7" r="2.35"/><circle cx="437.7" cy="394.8" r="2.35"/><circle cx="438.5" cy="395.1" r="2.35"/><circle cx="440.5" cy="395.3" r="2.35"/><circle cx="441.6" cy="395.6" r="2.35"/><circle cx="443.5" cy="396.1" r="2.35"/><circle cx="445.1" cy="395.5" r="2.35"/><circle cx="445.7" cy="395.4" r="2.35"/><circle cx="447.2" cy="396.2" r="2.35"/><circle cx="448.7" cy="396.4" r="2.35"/><circle cx="450.0" cy="396.4" r="2.35"/><circle cx="451.8" cy="396.4" r="2.35"/><circle cx="453.9" cy="396.5" r="2.35"/><circle cx="414.1" cy="380.4" r="2.35"/><circle cx="419.1" cy="383.7" r="2.35"/><circle cx="416.9" cy="373.6" r="2.35"/><circle cx="420.3" cy="370.8" r="2.35"/><circle cx="376.2" cy="384.6" r="2.35"/><circle cx="397.6" cy="385.9" r="2.35"/><circle cx="384.1" cy="392.7" r="2.35"/><circle cx="386.2" cy="394.0" r="2.35"/><circle cx="388.0" cy="393.4" r="2.35"/><circle cx="389.7" cy="394.3" r="2.35"/><circle cx="391.0" cy="393.7" r="2.35"/><circle cx="393.6" cy="394.2" r="2.35"/><circle cx="473.8" cy="396.3" r="2.35"/><circle cx="478.0" cy="398.0" r="2.35"/><circle cx="610.6" cy="266.3" r="2.35"/><circle cx="610.0" cy="269.4" r="2.35"/><circle cx="611.8" cy="269.1" r="2.35"/><circle cx="611.6" cy="272.6" r="2.35"/><circle cx="610.7" cy="274.2" r="2.35"/><circle cx="609.8" cy="275.3" r="2.35"/><circle cx="612.2" cy="275.0" r="2.35"/><circle cx="610.5" cy="276.6" r="2.35"/><circle cx="610.2" cy="279.7" r="2.35"/><circle cx="611.9" cy="281.1" r="2.35"/><circle cx="611.8" cy="281.1" r="2.35"/><circle cx="610.2" cy="282.5" r="2.35"/><circle cx="612.4" cy="283.3" r="2.35"/><circle cx="611.7" cy="285.7" r="2.35"/><circle cx="611.0" cy="287.3" r="2.35"/><circle cx="612.0" cy="288.3" r="2.35"/><circle cx="610.7" cy="291.8" r="2.35"/><circle cx="612.6" cy="291.8" r="2.35"/><circle cx="611.1" cy="294.0" r="2.35"/><circle cx="599.2" cy="289.8" r="2.35"/><circle cx="594.6" cy="286.5" r="2.35"/><circle cx="594.2" cy="288.7" r="2.35"/><circle cx="592.9" cy="270.0" r="2.35"/><circle cx="597.4" cy="292.5" r="2.35"/><circle cx="593.1" cy="273.7" r="2.35"/><circle cx="591.8" cy="274.9" r="2.35"/><circle cx="598.2" cy="288.6" r="2.35"/><circle cx="592.2" cy="277.8" r="2.35"/><circle cx="591.3" cy="281.8" r="2.35"/><circle cx="599.4" cy="288.9" r="2.35"/><circle cx="596.2" cy="270.6" r="2.35"/><circle cx="599.6" cy="293.2" r="2.35"/><circle cx="595.5" cy="272.3" r="2.35"/><circle cx="599.4" cy="295.0" r="2.35"/><circle cx="596.5" cy="282.8" r="2.35"/><circle cx="594.7" cy="293.2" r="2.35"/><circle cx="594.6" cy="277.9" r="2.35"/><circle cx="589.5" cy="270.5" r="2.35"/><circle cx="595.3" cy="277.0" r="2.35"/><circle cx="590.9" cy="278.2" r="2.35"/><circle cx="595.5" cy="292.2" r="2.35"/><circle cx="592.9" cy="272.9" r="2.35"/><circle cx="597.9" cy="286.9" r="2.35"/><circle cx="596.4" cy="293.4" r="2.35"/><circle cx="593.4" cy="279.9" r="2.35"/><circle cx="591.6" cy="288.8" r="2.35"/><circle cx="597.2" cy="294.6" r="2.35"/><circle cx="590.3" cy="281.3" r="2.35"/><circle cx="593.7" cy="280.6" r="2.35"/><circle cx="592.0" cy="292.0" r="2.35"/><circle cx="591.4" cy="287.3" r="2.35"/><circle cx="592.8" cy="281.1" r="2.35"/><circle cx="596.0" cy="274.3" r="2.35"/><circle cx="593.7" cy="276.5" r="2.35"/><circle cx="595.6" cy="283.8" r="2.35"/><circle cx="594.3" cy="271.6" r="2.35"/><circle cx="596.2" cy="286.9" r="2.35"/><circle cx="592.7" cy="296.2" r="2.35"/><circle cx="598.5" cy="290.1" r="2.35"/><circle cx="596.8" cy="282.3" r="2.35"/><circle cx="596.4" cy="272.8" r="2.35"/><circle cx="598.4" cy="295.2" r="2.35"/><circle cx="591.5" cy="287.5" r="2.35"/><circle cx="596.8" cy="272.4" r="2.35"/><circle cx="596.5" cy="293.4" r="2.35"/><circle cx="591.6" cy="275.4" r="2.35"/><circle cx="597.4" cy="290.4" r="2.35"/><circle cx="598.7" cy="286.2" r="2.35"/><circle cx="592.1" cy="292.2" r="2.35"/><circle cx="593.0" cy="284.9" r="2.35"/><circle cx="598.2" cy="295.3" r="2.35"/><circle cx="593.6" cy="273.2" r="2.35"/><circle cx="594.8" cy="284.3" r="2.35"/><circle cx="595.3" cy="274.1" r="2.35"/><circle cx="593.2" cy="270.6" r="2.35"/><circle cx="596.4" cy="269.1" r="2.35"/><circle cx="593.6" cy="274.0" r="2.35"/><circle cx="592.4" cy="280.5" r="2.35"/><circle cx="591.7" cy="276.8" r="2.35"/><circle cx="593.0" cy="283.1" r="2.35"/><circle cx="597.0" cy="274.2" r="2.35"/><circle cx="590.3" cy="271.0" r="2.35"/><circle cx="599.0" cy="289.7" r="2.35"/><circle cx="595.7" cy="272.8" r="2.35"/><circle cx="594.7" cy="287.5" r="2.35"/><circle cx="586.2" cy="290.7" r="2.35"/><circle cx="584.1" cy="295.8" r="2.35"/><circle cx="586.2" cy="287.3" r="2.35"/><circle cx="585.4" cy="282.8" r="2.35"/><circle cx="578.2" cy="276.3" r="2.35"/><circle cx="582.7" cy="273.3" r="2.35"/><circle cx="584.4" cy="276.0" r="2.35"/><circle cx="586.2" cy="281.6" r="2.35"/><circle cx="585.4" cy="277.8" r="2.35"/><circle cx="582.1" cy="289.5" r="2.35"/><circle cx="586.9" cy="276.2" r="2.35"/><circle cx="582.5" cy="295.2" r="2.35"/><circle cx="588.4" cy="291.2" r="2.35"/><circle cx="587.3" cy="281.8" r="2.35"/><circle cx="590.3" cy="292.0" r="2.35"/><circle cx="589.1" cy="295.9" r="2.35"/><circle cx="589.0" cy="285.5" r="2.35"/><circle cx="581.1" cy="287.7" r="2.35"/><circle cx="582.6" cy="271.5" r="2.35"/><circle cx="584.7" cy="293.4" r="2.35"/><circle cx="587.9" cy="295.9" r="2.35"/><circle cx="586.1" cy="275.6" r="2.35"/><circle cx="585.1" cy="271.9" r="2.35"/><circle cx="587.7" cy="278.3" r="2.35"/><circle cx="587.9" cy="271.5" r="2.35"/><circle cx="585.6" cy="273.3" r="2.35"/><circle cx="589.5" cy="292.4" r="2.35"/><circle cx="585.3" cy="286.2" r="2.35"/><circle cx="581.4" cy="281.3" r="2.35"/><circle cx="580.9" cy="282.2" r="2.35"/><circle cx="582.1" cy="288.7" r="2.35"/><circle cx="584.1" cy="280.6" r="2.35"/><circle cx="585.6" cy="296.9" r="2.35"/><circle cx="590.9" cy="296.6" r="2.35"/><circle cx="581.5" cy="273.5" r="2.35"/><circle cx="583.6" cy="294.8" r="2.35"/><circle cx="581.7" cy="275.2" r="2.35"/><circle cx="588.3" cy="276.3" r="2.35"/><circle cx="585.1" cy="282.1" r="2.35"/><circle cx="580.6" cy="281.7" r="2.35"/><circle cx="587.8" cy="285.2" r="2.35"/><circle cx="586.5" cy="270.9" r="2.35"/><circle cx="580.7" cy="283.3" r="2.35"/><circle cx="585.9" cy="281.9" r="2.35"/><circle cx="584.3" cy="293.3" r="2.35"/><circle cx="588.8" cy="287.9" r="2.35"/><circle cx="582.6" cy="291.6" r="2.35"/><circle cx="586.9" cy="290.6" r="2.35"/><circle cx="587.4" cy="285.8" r="2.35"/><circle cx="585.4" cy="293.8" r="2.35"/><circle cx="590.6" cy="295.9" r="2.35"/><circle cx="581.5" cy="277.0" r="2.35"/><circle cx="582.9" cy="289.9" r="2.35"/><circle cx="588.4" cy="276.7" r="2.35"/><circle cx="584.6" cy="285.8" r="2.35"/><circle cx="584.3" cy="285.9" r="2.35"/><circle cx="584.0" cy="287.0" r="2.35"/><circle cx="590.4" cy="290.8" r="2.35"/><circle cx="589.1" cy="281.6" r="2.35"/><circle cx="579.8" cy="277.1" r="2.35"/><circle cx="583.7" cy="292.2" r="2.35"/><circle cx="582.5" cy="286.6" r="2.35"/><circle cx="588.7" cy="281.6" r="2.35"/><circle cx="584.4" cy="295.4" r="2.35"/><circle cx="588.0" cy="272.1" r="2.35"/><circle cx="589.8" cy="296.7" r="2.35"/><circle cx="582.2" cy="281.0" r="2.35"/><circle cx="580.3" cy="277.4" r="2.35"/><circle cx="587.2" cy="282.5" r="2.35"/><circle cx="582.3" cy="281.2" r="2.35"/><circle cx="590.6" cy="297.2" r="2.35"/><circle cx="581.9" cy="278.5" r="2.35"/><circle cx="584.1" cy="292.5" r="2.35"/><circle cx="587.7" cy="275.5" r="2.35"/><circle cx="580.1" cy="280.6" r="2.35"/><circle cx="589.4" cy="293.3" r="2.35"/><circle cx="588.9" cy="281.6" r="2.35"/><circle cx="577.8" cy="273.0" r="2.35"/><circle cx="587.3" cy="280.6" r="2.35"/><circle cx="580.5" cy="279.2" r="2.35"/><circle cx="569.5" cy="300.7" r="2.35"/><circle cx="568.6" cy="289.6" r="2.35"/><circle cx="567.0" cy="290.8" r="2.35"/><circle cx="570.7" cy="300.8" r="2.35"/><circle cx="573.4" cy="293.7" r="2.35"/><circle cx="571.3" cy="294.9" r="2.35"/><circle cx="564.8" cy="287.2" r="2.35"/><circle cx="574.0" cy="295.5" r="2.35"/><circle cx="566.8" cy="287.0" r="2.35"/><circle cx="562.3" cy="278.1" r="2.35"/><circle cx="570.3" cy="280.0" r="2.35"/><circle cx="569.1" cy="280.4" r="2.35"/><circle cx="569.1" cy="290.5" r="2.35"/><circle cx="564.9" cy="284.9" r="2.35"/><circle cx="562.3" cy="278.2" r="2.35"/><circle cx="570.7" cy="298.1" r="2.35"/><circle cx="566.4" cy="288.5" r="2.35"/><circle cx="568.4" cy="290.0" r="2.35"/><circle cx="563.3" cy="279.0" r="2.35"/><circle cx="571.6" cy="301.6" r="2.35"/><circle cx="569.3" cy="287.9" r="2.35"/><circle cx="569.2" cy="295.3" r="2.35"/><circle cx="567.4" cy="293.1" r="2.35"/><circle cx="565.8" cy="278.6" r="2.35"/><circle cx="567.9" cy="285.3" r="2.35"/><circle cx="565.0" cy="289.5" r="2.35"/><circle cx="563.7" cy="280.5" r="2.35"/><circle cx="570.9" cy="290.1" r="2.35"/><circle cx="569.8" cy="294.7" r="2.35"/><circle cx="571.0" cy="284.8" r="2.35"/><circle cx="572.2" cy="299.0" r="2.35"/><circle cx="566.9" cy="288.8" r="2.35"/><circle cx="567.9" cy="285.9" r="2.35"/><circle cx="571.7" cy="296.3" r="2.35"/><circle cx="571.3" cy="286.0" r="2.35"/><circle cx="569.6" cy="296.6" r="2.35"/><circle cx="569.0" cy="283.1" r="2.35"/><circle cx="566.7" cy="283.2" r="2.35"/><circle cx="567.1" cy="282.0" r="2.35"/><circle cx="563.9" cy="284.8" r="2.35"/><circle cx="564.3" cy="285.6" r="2.35"/><circle cx="566.3" cy="285.2" r="2.35"/><circle cx="574.1" cy="294.7" r="2.35"/><circle cx="570.5" cy="300.0" r="2.35"/><circle cx="565.3" cy="277.3" r="2.35"/><circle cx="565.7" cy="279.1" r="2.35"/><circle cx="571.0" cy="301.3" r="2.35"/><circle cx="573.0" cy="301.3" r="2.35"/><circle cx="567.4" cy="285.4" r="2.35"/><circle cx="565.0" cy="283.9" r="2.35"/><circle cx="571.8" cy="290.8" r="2.35"/><circle cx="571.7" cy="287.7" r="2.35"/><circle cx="574.7" cy="298.3" r="2.35"/><circle cx="567.3" cy="294.7" r="2.35"/><circle cx="564.7" cy="287.0" r="2.35"/><circle cx="567.4" cy="293.7" r="2.35"/><circle cx="562.9" cy="280.3" r="2.35"/><circle cx="572.2" cy="293.1" r="2.35"/><circle cx="574.6" cy="298.6" r="2.35"/><circle cx="573.1" cy="296.9" r="2.35"/><circle cx="567.2" cy="288.9" r="2.35"/><circle cx="568.7" cy="286.6" r="2.35"/><circle cx="568.7" cy="289.0" r="2.35"/><circle cx="545.1" cy="288.1" r="2.35"/><circle cx="547.4" cy="308.8" r="2.35"/><circle cx="554.1" cy="287.5" r="2.35"/><circle cx="539.6" cy="297.5" r="2.35"/><circle cx="557.2" cy="292.7" r="2.35"/><circle cx="559.8" cy="292.6" r="2.35"/><circle cx="546.7" cy="309.1" r="2.35"/><circle cx="545.8" cy="307.5" r="2.35"/><circle cx="563.1" cy="298.1" r="2.35"/><circle cx="555.8" cy="293.1" r="2.35"/><circle cx="538.5" cy="297.9" r="2.35"/><circle cx="561.0" cy="300.7" r="2.35"/><circle cx="548.3" cy="291.0" r="2.35"/><circle cx="554.2" cy="305.9" r="2.35"/><circle cx="548.4" cy="312.2" r="2.35"/><circle cx="545.4" cy="308.6" r="2.35"/><circle cx="546.0" cy="312.2" r="2.35"/><circle cx="547.7" cy="302.0" r="2.35"/><circle cx="544.0" cy="307.8" r="2.35"/><circle cx="557.9" cy="288.0" r="2.35"/><circle cx="552.9" cy="286.6" r="2.35"/><circle cx="543.9" cy="307.9" r="2.35"/><circle cx="548.9" cy="306.1" r="2.35"/><circle cx="537.3" cy="295.8" r="2.35"/><circle cx="547.3" cy="301.2" r="2.35"/><circle cx="540.7" cy="293.5" r="2.35"/><circle cx="541.3" cy="300.4" r="2.35"/><circle cx="542.7" cy="304.8" r="2.35"/><circle cx="541.8" cy="304.8" r="2.35"/><circle cx="541.1" cy="290.6" r="2.35"/><circle cx="542.4" cy="306.2" r="2.35"/><circle cx="550.8" cy="288.8" r="2.35"/><circle cx="546.8" cy="288.4" r="2.35"/><circle cx="553.9" cy="306.0" r="2.35"/><circle cx="544.1" cy="301.6" r="2.35"/><circle cx="555.6" cy="288.4" r="2.35"/><circle cx="550.9" cy="285.6" r="2.35"/><circle cx="549.8" cy="307.4" r="2.35"/><circle cx="555.2" cy="289.4" r="2.35"/><circle cx="546.7" cy="295.9" r="2.35"/><circle cx="542.4" cy="298.6" r="2.35"/><circle cx="558.0" cy="296.1" r="2.35"/><circle cx="558.1" cy="296.0" r="2.35"/><circle cx="554.7" cy="297.6" r="2.35"/><circle cx="544.9" cy="301.9" r="2.35"/><circle cx="544.1" cy="294.5" r="2.35"/><circle cx="552.5" cy="310.1" r="2.35"/><circle cx="565.1" cy="303.5" r="2.35"/><circle cx="548.6" cy="293.0" r="2.35"/><circle cx="545.4" cy="295.7" r="2.35"/><circle cx="563.8" cy="301.2" r="2.35"/><circle cx="556.4" cy="295.5" r="2.35"/><circle cx="553.3" cy="304.0" r="2.35"/><circle cx="560.7" cy="298.7" r="2.35"/><circle cx="560.5" cy="295.5" r="2.35"/><circle cx="558.4" cy="296.8" r="2.35"/><circle cx="555.6" cy="305.1" r="2.35"/><circle cx="553.9" cy="306.9" r="2.35"/><circle cx="552.1" cy="312.0" r="2.35"/><circle cx="551.3" cy="288.9" r="2.35"/><circle cx="551.6" cy="291.6" r="2.35"/><circle cx="537.9" cy="295.4" r="2.35"/><circle cx="555.0" cy="309.3" r="2.35"/><circle cx="546.1" cy="302.7" r="2.35"/><circle cx="545.2" cy="292.0" r="2.35"/><circle cx="552.0" cy="291.8" r="2.35"/><circle cx="546.5" cy="311.8" r="2.35"/><circle cx="550.1" cy="285.2" r="2.35"/><circle cx="547.4" cy="295.1" r="2.35"/><circle cx="551.3" cy="292.5" r="2.35"/><circle cx="548.9" cy="285.9" r="2.35"/><circle cx="560.2" cy="296.9" r="2.35"/><circle cx="552.7" cy="306.9" r="2.35"/><circle cx="553.0" cy="291.4" r="2.35"/><circle cx="544.5" cy="306.6" r="2.35"/><circle cx="553.8" cy="307.7" r="2.35"/><circle cx="548.2" cy="310.1" r="2.35"/><circle cx="553.7" cy="287.7" r="2.35"/><circle cx="547.3" cy="304.1" r="2.35"/><circle cx="546.2" cy="300.9" r="2.35"/><circle cx="549.9" cy="295.8" r="2.35"/><circle cx="540.4" cy="298.4" r="2.35"/><circle cx="560.2" cy="301.5" r="2.35"/><circle cx="545.4" cy="307.7" r="2.35"/><circle cx="559.2" cy="296.4" r="2.35"/><circle cx="560.6" cy="295.0" r="2.35"/><circle cx="548.7" cy="296.8" r="2.35"/><circle cx="554.2" cy="301.1" r="2.35"/><circle cx="556.0" cy="284.6" r="2.35"/><circle cx="552.3" cy="309.4" r="2.35"/><circle cx="551.8" cy="292.0" r="2.35"/><circle cx="546.3" cy="288.0" r="2.35"/><circle cx="537.7" cy="292.7" r="2.35"/><circle cx="552.9" cy="286.1" r="2.35"/><circle cx="545.9" cy="296.3" r="2.35"/><circle cx="549.1" cy="286.6" r="2.35"/><circle cx="536.7" cy="297.4" r="2.35"/><circle cx="550.1" cy="294.5" r="2.35"/><circle cx="539.5" cy="299.0" r="2.35"/><circle cx="549.0" cy="306.5" r="2.35"/><circle cx="548.8" cy="285.2" r="2.35"/><circle cx="552.3" cy="285.6" r="2.35"/><circle cx="547.7" cy="298.1" r="2.35"/><circle cx="536.2" cy="295.7" r="2.35"/><circle cx="557.6" cy="299.9" r="2.35"/><circle cx="561.9" cy="305.6" r="2.35"/><circle cx="555.7" cy="289.3" r="2.35"/><circle cx="555.6" cy="300.2" r="2.35"/><circle cx="548.7" cy="307.6" r="2.35"/><circle cx="559.6" cy="295.6" r="2.35"/><circle cx="553.4" cy="290.2" r="2.35"/><circle cx="555.2" cy="290.5" r="2.35"/><circle cx="547.6" cy="302.4" r="2.35"/><circle cx="552.3" cy="296.4" r="2.35"/><circle cx="560.1" cy="300.3" r="2.35"/><circle cx="555.9" cy="306.8" r="2.35"/><circle cx="547.3" cy="297.3" r="2.35"/><circle cx="557.7" cy="288.5" r="2.35"/><circle cx="548.2" cy="310.8" r="2.35"/><circle cx="552.0" cy="292.2" r="2.35"/><circle cx="558.7" cy="298.8" r="2.35"/><circle cx="550.0" cy="299.8" r="2.35"/><circle cx="559.8" cy="294.0" r="2.35"/><circle cx="542.1" cy="302.1" r="2.35"/><circle cx="552.7" cy="311.1" r="2.35"/><circle cx="548.1" cy="297.1" r="2.35"/><circle cx="559.0" cy="301.3" r="2.35"/><circle cx="544.9" cy="307.6" r="2.35"/><circle cx="559.9" cy="295.1" r="2.35"/><circle cx="551.9" cy="310.8" r="2.35"/><circle cx="542.0" cy="303.7" r="2.35"/><circle cx="545.5" cy="303.5" r="2.35"/><circle cx="553.5" cy="308.2" r="2.35"/><circle cx="541.9" cy="303.0" r="2.35"/><circle cx="541.4" cy="292.5" r="2.35"/><circle cx="559.0" cy="297.7" r="2.35"/><circle cx="548.1" cy="301.1" r="2.35"/><circle cx="544.0" cy="289.4" r="2.35"/><circle cx="541.3" cy="290.3" r="2.35"/><circle cx="547.5" cy="311.1" r="2.35"/><circle cx="553.6" cy="290.6" r="2.35"/><circle cx="546.4" cy="312.8" r="2.35"/><circle cx="538.8" cy="298.2" r="2.35"/><circle cx="558.2" cy="296.0" r="2.35"/><circle cx="553.0" cy="305.6" r="2.35"/><circle cx="559.6" cy="295.2" r="2.35"/><circle cx="553.6" cy="283.7" r="2.35"/><circle cx="553.3" cy="302.5" r="2.35"/><circle cx="557.0" cy="293.8" r="2.35"/><circle cx="550.5" cy="292.3" r="2.35"/><circle cx="556.0" cy="297.5" r="2.35"/><circle cx="560.4" cy="293.2" r="2.35"/><circle cx="548.5" cy="308.8" r="2.35"/><circle cx="545.0" cy="291.0" r="2.35"/><circle cx="559.5" cy="292.8" r="2.35"/><circle cx="540.2" cy="296.0" r="2.35"/><circle cx="551.4" cy="311.0" r="2.35"/><circle cx="551.0" cy="284.3" r="2.35"/><circle cx="552.4" cy="292.3" r="2.35"/><circle cx="552.5" cy="304.7" r="2.35"/><circle cx="543.9" cy="296.5" r="2.35"/><circle cx="562.3" cy="299.8" r="2.35"/><circle cx="559.9" cy="300.0" r="2.35"/><circle cx="562.5" cy="298.7" r="2.35"/><circle cx="552.8" cy="290.9" r="2.35"/><circle cx="559.9" cy="305.9" r="2.35"/><circle cx="554.7" cy="302.6" r="2.35"/><circle cx="543.8" cy="301.8" r="2.35"/><circle cx="554.0" cy="303.3" r="2.35"/><circle cx="547.6" cy="292.5" r="2.35"/><circle cx="559.8" cy="292.3" r="2.35"/><circle cx="547.7" cy="310.7" r="2.35"/><circle cx="553.8" cy="310.2" r="2.35"/><circle cx="545.0" cy="310.0" r="2.35"/><circle cx="556.7" cy="301.2" r="2.35"/><circle cx="513.5" cy="276.9" r="2.35"/><circle cx="515.8" cy="277.5" r="2.35"/><circle cx="515.5" cy="279.7" r="2.35"/><circle cx="517.3" cy="282.0" r="2.35"/><circle cx="517.8" cy="281.4" r="2.35"/><circle cx="520.0" cy="281.9" r="2.35"/><circle cx="519.5" cy="282.9" r="2.35"/><circle cx="522.5" cy="286.2" r="2.35"/><circle cx="521.3" cy="285.9" r="2.35"/><circle cx="523.8" cy="286.5" r="2.35"/><circle cx="523.0" cy="288.1" r="2.35"/><circle cx="526.1" cy="289.5" r="2.35"/><circle cx="526.9" cy="290.4" r="2.35"/><circle cx="527.5" cy="293.2" r="2.35"/><circle cx="528.5" cy="292.9" r="2.35"/><circle cx="528.9" cy="294.3" r="2.35"/><circle cx="529.4" cy="295.8" r="2.35"/><circle cx="518.6" cy="274.3" r="2.35"/><circle cx="518.0" cy="277.3" r="2.35"/><circle cx="518.0" cy="278.5" r="2.35"/><circle cx="521.4" cy="279.2" r="2.35"/><circle cx="522.4" cy="279.9" r="2.35"/><circle cx="522.9" cy="282.8" r="2.35"/><circle cx="523.0" cy="282.3" r="2.35"/><circle cx="525.3" cy="284.3" r="2.35"/><circle cx="524.9" cy="284.6" r="2.35"/><circle cx="526.5" cy="287.5" r="2.35"/><circle cx="526.8" cy="287.2" r="2.35"/><circle cx="527.8" cy="287.2" r="2.35"/><circle cx="529.7" cy="290.4" r="2.35"/><circle cx="530.0" cy="291.5" r="2.35"/><circle cx="531.5" cy="292.0" r="2.35"/><circle cx="531.8" cy="292.6" r="2.35"/><circle cx="532.7" cy="295.0" r="2.35"/><circle cx="527.1" cy="306.0" r="2.35"/><circle cx="521.3" cy="302.8" r="2.35"/><circle cx="531.5" cy="316.5" r="2.35"/><circle cx="532.1" cy="319.4" r="2.35"/><circle cx="529.3" cy="313.9" r="2.35"/><circle cx="528.0" cy="316.8" r="2.35"/><circle cx="523.3" cy="308.0" r="2.35"/><circle cx="532.5" cy="318.0" r="2.35"/><circle cx="527.1" cy="307.0" r="2.35"/><circle cx="535.4" cy="318.4" r="2.35"/><circle cx="521.7" cy="305.2" r="2.35"/><circle cx="533.3" cy="308.1" r="2.35"/><circle cx="531.8" cy="313.2" r="2.35"/><circle cx="528.4" cy="309.2" r="2.35"/><circle cx="529.9" cy="322.0" r="2.35"/><circle cx="540.6" cy="322.9" r="2.35"/><circle cx="536.8" cy="322.8" r="2.35"/><circle cx="539.1" cy="326.2" r="2.35"/><circle cx="524.0" cy="310.4" r="2.35"/><circle cx="533.4" cy="310.3" r="2.35"/><circle cx="538.3" cy="323.0" r="2.35"/><circle cx="520.9" cy="303.6" r="2.35"/><circle cx="527.0" cy="320.7" r="2.35"/><circle cx="532.5" cy="305.5" r="2.35"/><circle cx="530.2" cy="312.1" r="2.35"/><circle cx="536.3" cy="322.1" r="2.35"/><circle cx="537.5" cy="313.1" r="2.35"/><circle cx="537.4" cy="324.5" r="2.35"/><circle cx="527.4" cy="309.2" r="2.35"/><circle cx="533.5" cy="318.2" r="2.35"/><circle cx="531.7" cy="322.5" r="2.35"/><circle cx="522.7" cy="303.1" r="2.35"/><circle cx="540.0" cy="321.5" r="2.35"/><circle cx="544.4" cy="321.3" r="2.35"/><circle cx="532.7" cy="331.1" r="2.35"/><circle cx="542.8" cy="319.5" r="2.35"/><circle cx="527.6" cy="322.4" r="2.35"/><circle cx="533.6" cy="327.3" r="2.35"/><circle cx="521.5" cy="303.3" r="2.35"/><circle cx="535.4" cy="318.0" r="2.35"/><circle cx="530.2" cy="311.5" r="2.35"/><circle cx="529.2" cy="323.4" r="2.35"/><circle cx="526.2" cy="319.6" r="2.35"/><circle cx="525.5" cy="315.3" r="2.35"/><circle cx="528.2" cy="307.2" r="2.35"/><circle cx="530.4" cy="306.7" r="2.35"/><circle cx="534.1" cy="309.1" r="2.35"/><circle cx="532.8" cy="311.5" r="2.35"/><circle cx="522.6" cy="304.1" r="2.35"/><circle cx="525.4" cy="302.4" r="2.35"/><circle cx="529.4" cy="311.7" r="2.35"/><circle cx="524.7" cy="308.5" r="2.35"/><circle cx="537.2" cy="323.7" r="2.35"/><circle cx="531.8" cy="307.6" r="2.35"/><circle cx="534.5" cy="316.5" r="2.35"/><circle cx="536.1" cy="315.3" r="2.35"/><circle cx="520.3" cy="306.3" r="2.35"/><circle cx="531.0" cy="306.7" r="2.35"/><circle cx="524.9" cy="302.5" r="2.35"/><circle cx="528.8" cy="308.2" r="2.35"/><circle cx="518.1" cy="302.5" r="2.35"/><circle cx="528.2" cy="316.1" r="2.35"/><circle cx="526.7" cy="301.6" r="2.35"/><circle cx="528.7" cy="309.7" r="2.35"/><circle cx="535.9" cy="318.1" r="2.35"/><circle cx="522.1" cy="309.3" r="2.35"/><circle cx="538.6" cy="315.0" r="2.35"/><circle cx="527.6" cy="317.2" r="2.35"/><circle cx="524.1" cy="305.6" r="2.35"/><circle cx="530.5" cy="315.3" r="2.35"/><circle cx="539.4" cy="321.9" r="2.35"/><circle cx="536.0" cy="328.9" r="2.35"/><circle cx="531.9" cy="318.7" r="2.35"/><circle cx="529.1" cy="313.3" r="2.35"/><circle cx="537.5" cy="318.3" r="2.35"/><circle cx="518.5" cy="302.7" r="2.35"/><circle cx="526.4" cy="310.1" r="2.35"/><circle cx="537.6" cy="325.8" r="2.35"/><circle cx="524.5" cy="307.8" r="2.35"/><circle cx="527.7" cy="310.1" r="2.35"/><circle cx="530.5" cy="315.2" r="2.35"/><circle cx="530.3" cy="324.0" r="2.35"/><circle cx="537.0" cy="319.1" r="2.35"/><circle cx="525.3" cy="305.9" r="2.35"/><circle cx="540.4" cy="320.8" r="2.35"/><circle cx="539.9" cy="316.0" r="2.35"/><circle cx="523.3" cy="310.4" r="2.35"/><circle cx="526.1" cy="301.9" r="2.35"/><circle cx="526.7" cy="312.3" r="2.35"/><circle cx="527.2" cy="301.4" r="2.35"/><circle cx="530.5" cy="319.2" r="2.35"/><circle cx="522.1" cy="311.5" r="2.35"/><circle cx="533.6" cy="311.5" r="2.35"/><circle cx="530.1" cy="306.5" r="2.35"/><circle cx="528.3" cy="304.6" r="2.35"/><circle cx="537.6" cy="320.0" r="2.35"/><circle cx="522.4" cy="310.4" r="2.35"/><circle cx="535.1" cy="325.4" r="2.35"/><circle cx="524.5" cy="314.2" r="2.35"/><circle cx="530.6" cy="302.3" r="2.35"/><circle cx="529.8" cy="302.0" r="2.35"/><circle cx="531.0" cy="312.4" r="2.35"/><circle cx="530.1" cy="307.7" r="2.35"/><circle cx="536.7" cy="323.5" r="2.35"/><circle cx="533.1" cy="327.5" r="2.35"/><circle cx="521.2" cy="307.1" r="2.35"/><circle cx="528.4" cy="316.8" r="2.35"/><circle cx="528.4" cy="314.4" r="2.35"/><circle cx="522.7" cy="311.0" r="2.35"/><circle cx="519.3" cy="305.8" r="2.35"/><circle cx="534.2" cy="314.2" r="2.35"/><circle cx="523.2" cy="302.0" r="2.35"/><circle cx="527.9" cy="303.1" r="2.35"/><circle cx="532.2" cy="310.4" r="2.35"/><circle cx="529.3" cy="302.8" r="2.35"/><circle cx="522.2" cy="302.7" r="2.35"/><circle cx="538.7" cy="313.4" r="2.35"/><circle cx="523.9" cy="305.9" r="2.35"/><circle cx="533.8" cy="308.2" r="2.35"/><circle cx="526.0" cy="315.5" r="2.35"/><circle cx="534.5" cy="323.3" r="2.35"/><circle cx="529.8" cy="324.8" r="2.35"/><circle cx="528.8" cy="301.9" r="2.35"/><circle cx="537.2" cy="318.0" r="2.35"/><circle cx="540.5" cy="320.5" r="2.35"/><circle cx="533.2" cy="317.9" r="2.35"/><circle cx="531.4" cy="311.9" r="2.35"/><circle cx="515.4" cy="331.1" r="2.35"/><circle cx="518.8" cy="324.1" r="2.35"/><circle cx="523.3" cy="340.4" r="2.35"/><circle cx="518.7" cy="325.2" r="2.35"/><circle cx="520.0" cy="336.6" r="2.35"/><circle cx="517.7" cy="340.2" r="2.35"/><circle cx="521.6" cy="335.0" r="2.35"/><circle cx="518.3" cy="315.3" r="2.35"/><circle cx="522.1" cy="340.2" r="2.35"/><circle cx="522.3" cy="339.3" r="2.35"/><circle cx="515.4" cy="328.1" r="2.35"/><circle cx="523.4" cy="342.3" r="2.35"/><circle cx="514.7" cy="319.5" r="2.35"/><circle cx="516.0" cy="321.2" r="2.35"/><circle cx="520.1" cy="326.0" r="2.35"/><circle cx="524.4" cy="333.4" r="2.35"/><circle cx="522.9" cy="341.2" r="2.35"/><circle cx="520.0" cy="314.5" r="2.35"/><circle cx="518.7" cy="334.1" r="2.35"/><circle cx="523.3" cy="341.0" r="2.35"/><circle cx="516.1" cy="329.4" r="2.35"/><circle cx="521.2" cy="319.2" r="2.35"/><circle cx="514.4" cy="327.2" r="2.35"/><circle cx="515.2" cy="313.7" r="2.35"/><circle cx="518.3" cy="333.7" r="2.35"/><circle cx="522.0" cy="339.9" r="2.35"/><circle cx="516.4" cy="322.0" r="2.35"/><circle cx="520.4" cy="315.4" r="2.35"/><circle cx="518.6" cy="317.5" r="2.35"/><circle cx="519.7" cy="317.0" r="2.35"/><circle cx="521.3" cy="322.3" r="2.35"/><circle cx="524.2" cy="332.2" r="2.35"/><circle cx="520.2" cy="319.7" r="2.35"/><circle cx="521.5" cy="333.6" r="2.35"/><circle cx="518.2" cy="331.0" r="2.35"/><circle cx="520.7" cy="339.8" r="2.35"/><circle cx="526.2" cy="337.4" r="2.35"/><circle cx="517.7" cy="316.3" r="2.35"/><circle cx="522.4" cy="343.5" r="2.35"/><circle cx="515.6" cy="317.2" r="2.35"/><circle cx="515.4" cy="315.6" r="2.35"/><circle cx="518.1" cy="319.5" r="2.35"/><circle cx="525.3" cy="339.9" r="2.35"/><circle cx="523.0" cy="329.4" r="2.35"/><circle cx="519.0" cy="334.5" r="2.35"/><circle cx="518.3" cy="331.3" r="2.35"/><circle cx="514.7" cy="331.5" r="2.35"/><circle cx="518.6" cy="320.0" r="2.35"/><circle cx="515.7" cy="327.5" r="2.35"/><circle cx="526.1" cy="342.8" r="2.35"/><circle cx="520.3" cy="323.5" r="2.35"/><circle cx="518.3" cy="343.4" r="2.35"/><circle cx="516.9" cy="332.7" r="2.35"/><circle cx="520.2" cy="322.0" r="2.35"/><circle cx="521.8" cy="321.1" r="2.35"/><circle cx="525.4" cy="334.1" r="2.35"/><circle cx="519.6" cy="331.5" r="2.35"/><circle cx="525.2" cy="338.9" r="2.35"/><circle cx="514.4" cy="323.5" r="2.35"/><circle cx="514.1" cy="327.1" r="2.35"/><circle cx="520.6" cy="325.3" r="2.35"/><circle cx="518.4" cy="318.3" r="2.35"/><circle cx="515.8" cy="323.9" r="2.35"/><circle cx="516.9" cy="336.6" r="2.35"/><circle cx="520.9" cy="322.8" r="2.35"/><circle cx="521.6" cy="324.1" r="2.35"/><circle cx="523.5" cy="334.5" r="2.35"/><circle cx="520.0" cy="337.6" r="2.35"/><circle cx="520.5" cy="320.2" r="2.35"/><circle cx="522.1" cy="323.8" r="2.35"/><circle cx="514.8" cy="347.0" r="2.35"/><circle cx="525.1" cy="332.9" r="2.35"/><circle cx="514.3" cy="312.7" r="2.35"/><circle cx="522.9" cy="334.3" r="2.35"/><circle cx="525.1" cy="342.1" r="2.35"/><circle cx="521.7" cy="338.6" r="2.35"/><circle cx="517.5" cy="326.2" r="2.35"/><circle cx="519.4" cy="322.9" r="2.35"/><circle cx="522.3" cy="340.6" r="2.35"/><circle cx="519.7" cy="341.8" r="2.35"/><circle cx="520.5" cy="321.4" r="2.35"/><circle cx="514.6" cy="323.4" r="2.35"/><circle cx="520.3" cy="331.4" r="2.35"/><circle cx="515.8" cy="336.0" r="2.35"/><circle cx="517.0" cy="325.5" r="2.35"/><circle cx="515.3" cy="337.0" r="2.35"/><circle cx="516.0" cy="319.5" r="2.35"/><circle cx="522.0" cy="323.5" r="2.35"/><circle cx="519.7" cy="315.3" r="2.35"/><circle cx="519.6" cy="333.7" r="2.35"/><circle cx="520.9" cy="327.6" r="2.35"/><circle cx="515.8" cy="331.1" r="2.35"/><circle cx="521.7" cy="322.4" r="2.35"/><circle cx="518.6" cy="334.6" r="2.35"/><circle cx="517.9" cy="334.2" r="2.35"/><circle cx="517.3" cy="318.3" r="2.35"/><circle cx="517.4" cy="315.0" r="2.35"/><circle cx="514.8" cy="327.3" r="2.35"/><circle cx="519.0" cy="349.2" r="2.35"/><circle cx="514.0" cy="357.7" r="2.35"/><circle cx="514.8" cy="366.1" r="2.35"/><circle cx="604.0" cy="271.0" r="2.35"/><circle cx="518.2" cy="252.5" r="2.35"/><circle cx="522.4" cy="258.4" r="2.35"/><circle cx="528.3" cy="266.8" r="2.35"/><circle cx="530.8" cy="271.9" r="2.35"/><circle cx="536.7" cy="280.6" r="2.35"/><circle cx="549.3" cy="266.8" r="2.35"/><circle cx="568.2" cy="257.1" r="2.35"/><circle cx="575.4" cy="252.0" r="2.35"/><circle cx="589.4" cy="254.7" r="2.35"/><circle cx="578.8" cy="265.1" r="2.35"/><circle cx="560.3" cy="340.0" r="2.35"/><circle cx="626.0" cy="264.4" r="2.35"/><circle cx="622.4" cy="256.4" r="2.35"/><circle cx="629.5" cy="260.0" r="2.35"/><circle cx="629.7" cy="260.1" r="2.35"/><circle cx="634.5" cy="253.8" r="2.35"/><circle cx="628.4" cy="251.3" r="2.35"/><circle cx="631.6" cy="259.4" r="2.35"/><circle cx="634.6" cy="251.9" r="2.35"/><circle cx="628.8" cy="254.7" r="2.35"/><circle cx="627.0" cy="266.5" r="2.35"/><circle cx="624.7" cy="252.4" r="2.35"/><circle cx="627.0" cy="254.8" r="2.35"/><circle cx="631.6" cy="262.3" r="2.35"/><circle cx="625.0" cy="265.2" r="2.35"/><circle cx="624.8" cy="251.1" r="2.35"/><circle cx="623.9" cy="260.5" r="2.35"/><circle cx="631.6" cy="262.3" r="2.35"/><circle cx="623.8" cy="257.2" r="2.35"/><circle cx="632.2" cy="260.9" r="2.35"/><circle cx="631.9" cy="252.6" r="2.35"/><circle cx="632.3" cy="252.9" r="2.35"/><circle cx="622.1" cy="258.9" r="2.35"/><circle cx="630.0" cy="261.0" r="2.35"/><circle cx="628.1" cy="253.2" r="2.35"/><circle cx="629.1" cy="258.3" r="2.35"/><circle cx="621.7" cy="254.9" r="2.35"/><circle cx="626.6" cy="263.1" r="2.35"/><circle cx="633.9" cy="266.5" r="2.35"/><circle cx="629.1" cy="256.2" r="2.35"/><circle cx="632.6" cy="263.6" r="2.35"/><circle cx="634.4" cy="254.3" r="2.35"/><circle cx="634.6" cy="260.0" r="2.35"/><circle cx="630.2" cy="254.1" r="2.35"/><circle cx="634.0" cy="252.5" r="2.35"/><circle cx="630.4" cy="266.1" r="2.35"/><circle cx="632.3" cy="253.7" r="2.35"/><circle cx="634.1" cy="264.2" r="2.35"/><circle cx="634.4" cy="263.5" r="2.35"/><circle cx="634.3" cy="253.7" r="2.35"/><circle cx="624.5" cy="254.3" r="2.35"/><circle cx="628.0" cy="253.2" r="2.35"/><circle cx="633.2" cy="264.2" r="2.35"/><circle cx="626.2" cy="254.6" r="2.35"/><circle cx="623.5" cy="253.8" r="2.35"/><circle cx="625.3" cy="255.7" r="2.35"/><circle cx="631.1" cy="251.0" r="2.35"/><circle cx="628.8" cy="264.2" r="2.35"/><circle cx="624.8" cy="261.4" r="2.35"/><circle cx="625.0" cy="266.2" r="2.35"/><circle cx="628.2" cy="256.5" r="2.35"/><circle cx="633.7" cy="258.7" r="2.35"/><circle cx="626.7" cy="253.3" r="2.35"/><circle cx="623.1" cy="255.7" r="2.35"/><circle cx="622.0" cy="266.0" r="2.35"/><circle cx="633.1" cy="264.3" r="2.35"/><circle cx="628.0" cy="256.3" r="2.35"/><circle cx="625.5" cy="252.5" r="2.35"/><circle cx="625.5" cy="255.6" r="2.35"/><circle cx="628.3" cy="253.4" r="2.35"/><circle cx="628.5" cy="258.8" r="2.35"/><circle cx="623.5" cy="260.6" r="2.35"/><circle cx="633.3" cy="262.8" r="2.35"/><circle cx="628.8" cy="254.3" r="2.35"/><circle cx="631.1" cy="254.1" r="2.35"/><circle cx="632.9" cy="254.7" r="2.35"/><circle cx="624.1" cy="264.1" r="2.35"/><circle cx="624.4" cy="255.1" r="2.35"/><circle cx="630.8" cy="256.6" r="2.35"/><circle cx="644.4" cy="268.9" r="2.35"/><circle cx="651.6" cy="270.1" r="2.35"/><circle cx="646.9" cy="257.8" r="2.35"/><circle cx="647.4" cy="258.4" r="2.35"/><circle cx="653.1" cy="255.3" r="2.35"/><circle cx="651.0" cy="266.0" r="2.35"/><circle cx="642.7" cy="266.2" r="2.35"/><circle cx="649.0" cy="266.3" r="2.35"/><circle cx="646.3" cy="252.9" r="2.35"/><circle cx="645.8" cy="269.7" r="2.35"/><circle cx="652.2" cy="256.5" r="2.35"/><circle cx="648.3" cy="250.6" r="2.35"/><circle cx="649.4" cy="261.9" r="2.35"/><circle cx="644.4" cy="255.6" r="2.35"/><circle cx="639.7" cy="255.0" r="2.35"/><circle cx="645.0" cy="258.8" r="2.35"/><circle cx="640.8" cy="264.5" r="2.35"/><circle cx="638.6" cy="253.8" r="2.35"/><circle cx="642.8" cy="253.7" r="2.35"/><circle cx="650.8" cy="269.4" r="2.35"/><circle cx="645.6" cy="256.9" r="2.35"/><circle cx="651.2" cy="265.4" r="2.35"/><circle cx="648.3" cy="268.9" r="2.35"/><circle cx="639.6" cy="262.4" r="2.35"/><circle cx="642.5" cy="270.1" r="2.35"/><circle cx="639.5" cy="268.6" r="2.35"/><circle cx="652.3" cy="251.2" r="2.35"/><circle cx="651.9" cy="260.3" r="2.35"/><circle cx="652.1" cy="259.5" r="2.35"/><circle cx="653.3" cy="256.4" r="2.35"/><circle cx="641.4" cy="263.2" r="2.35"/><circle cx="653.2" cy="255.2" r="2.35"/><circle cx="648.9" cy="255.4" r="2.35"/><circle cx="644.1" cy="262.7" r="2.35"/><circle cx="650.1" cy="260.1" r="2.35"/><circle cx="652.6" cy="263.2" r="2.35"/><circle cx="639.0" cy="262.9" r="2.35"/><circle cx="639.0" cy="255.1" r="2.35"/><circle cx="646.6" cy="258.4" r="2.35"/><circle cx="648.9" cy="258.3" r="2.35"/><circle cx="650.7" cy="261.3" r="2.35"/><circle cx="647.5" cy="262.6" r="2.35"/><circle cx="646.1" cy="261.0" r="2.35"/><circle cx="638.6" cy="253.1" r="2.35"/><circle cx="643.2" cy="254.7" r="2.35"/><circle cx="641.4" cy="264.4" r="2.35"/><circle cx="645.2" cy="253.3" r="2.35"/><circle cx="648.4" cy="253.6" r="2.35"/><circle cx="643.0" cy="254.2" r="2.35"/><circle cx="648.7" cy="260.3" r="2.35"/><circle cx="638.7" cy="264.8" r="2.35"/><circle cx="641.2" cy="255.5" r="2.35"/><circle cx="640.0" cy="262.5" r="2.35"/><circle cx="646.9" cy="255.2" r="2.35"/><circle cx="653.5" cy="258.1" r="2.35"/><circle cx="640.5" cy="266.7" r="2.35"/><circle cx="646.2" cy="259.6" r="2.35"/><circle cx="647.6" cy="259.7" r="2.35"/><circle cx="645.0" cy="250.9" r="2.35"/><circle cx="650.6" cy="261.2" r="2.35"/><circle cx="649.3" cy="251.2" r="2.35"/><circle cx="645.6" cy="257.1" r="2.35"/><circle cx="646.4" cy="264.3" r="2.35"/><circle cx="642.4" cy="265.3" r="2.35"/><circle cx="649.0" cy="251.5" r="2.35"/><circle cx="651.5" cy="262.7" r="2.35"/><circle cx="642.5" cy="268.6" r="2.35"/><circle cx="639.1" cy="262.1" r="2.35"/><circle cx="651.4" cy="264.7" r="2.35"/><circle cx="652.3" cy="259.8" r="2.35"/><circle cx="652.3" cy="250.9" r="2.35"/><circle cx="651.0" cy="253.9" r="2.35"/><circle cx="648.3" cy="270.3" r="2.35"/><circle cx="646.0" cy="267.4" r="2.35"/><circle cx="648.8" cy="267.3" r="2.35"/><circle cx="638.5" cy="260.2" r="2.35"/><circle cx="648.3" cy="264.9" r="2.35"/><circle cx="652.7" cy="253.7" r="2.35"/><circle cx="646.4" cy="262.8" r="2.35"/><circle cx="644.5" cy="269.0" r="2.35"/><circle cx="646.1" cy="251.5" r="2.35"/><circle cx="648.2" cy="265.3" r="2.35"/><circle cx="649.1" cy="260.0" r="2.35"/><circle cx="645.6" cy="267.6" r="2.35"/><circle cx="649.1" cy="264.4" r="2.35"/><circle cx="650.9" cy="252.1" r="2.35"/><circle cx="649.1" cy="267.5" r="2.35"/><circle cx="649.6" cy="269.3" r="2.35"/><circle cx="644.5" cy="265.6" r="2.35"/><circle cx="650.1" cy="265.2" r="2.35"/><circle cx="646.3" cy="259.9" r="2.35"/><circle cx="652.4" cy="254.4" r="2.35"/><circle cx="643.3" cy="253.5" r="2.35"/><circle cx="663.2" cy="270.9" r="2.35"/><circle cx="660.7" cy="259.7" r="2.35"/><circle cx="663.6" cy="265.9" r="2.35"/><circle cx="659.1" cy="273.1" r="2.35"/><circle cx="663.6" cy="252.3" r="2.35"/><circle cx="661.0" cy="258.5" r="2.35"/><circle cx="657.9" cy="264.9" r="2.35"/><circle cx="661.2" cy="267.2" r="2.35"/><circle cx="666.8" cy="255.3" r="2.35"/><circle cx="659.0" cy="265.3" r="2.35"/><circle cx="662.9" cy="267.1" r="2.35"/><circle cx="656.5" cy="268.6" r="2.35"/><circle cx="660.8" cy="251.7" r="2.35"/><circle cx="667.9" cy="252.9" r="2.35"/><circle cx="667.2" cy="255.4" r="2.35"/><circle cx="657.3" cy="271.8" r="2.35"/><circle cx="661.6" cy="273.7" r="2.35"/><circle cx="656.7" cy="266.1" r="2.35"/><circle cx="661.9" cy="256.7" r="2.35"/><circle cx="659.7" cy="269.5" r="2.35"/><circle cx="659.5" cy="272.7" r="2.35"/><circle cx="665.1" cy="265.2" r="2.35"/><circle cx="659.4" cy="253.1" r="2.35"/><circle cx="660.6" cy="270.2" r="2.35"/><circle cx="665.1" cy="268.1" r="2.35"/><circle cx="655.6" cy="271.4" r="2.35"/><circle cx="664.1" cy="253.1" r="2.35"/><circle cx="661.5" cy="273.2" r="2.35"/><circle cx="659.2" cy="263.8" r="2.35"/><circle cx="662.3" cy="264.9" r="2.35"/><circle cx="659.9" cy="263.2" r="2.35"/><circle cx="665.2" cy="263.8" r="2.35"/><circle cx="658.3" cy="263.6" r="2.35"/><circle cx="665.8" cy="251.9" r="2.35"/><circle cx="665.1" cy="261.9" r="2.35"/><circle cx="660.0" cy="255.3" r="2.35"/><circle cx="656.5" cy="270.1" r="2.35"/><circle cx="665.0" cy="260.3" r="2.35"/><circle cx="667.5" cy="255.6" r="2.35"/><circle cx="655.9" cy="269.5" r="2.35"/><circle cx="665.5" cy="254.5" r="2.35"/><circle cx="661.6" cy="251.9" r="2.35"/><circle cx="662.0" cy="263.0" r="2.35"/><circle cx="661.3" cy="270.7" r="2.35"/><circle cx="665.6" cy="258.6" r="2.35"/><circle cx="662.3" cy="253.7" r="2.35"/><circle cx="662.9" cy="259.5" r="2.35"/><circle cx="664.3" cy="257.5" r="2.35"/><circle cx="659.7" cy="265.7" r="2.35"/><circle cx="659.3" cy="255.6" r="2.35"/><circle cx="661.4" cy="266.3" r="2.35"/><circle cx="658.4" cy="259.8" r="2.35"/><circle cx="661.6" cy="259.9" r="2.35"/><circle cx="657.0" cy="266.2" r="2.35"/><circle cx="664.6" cy="256.1" r="2.35"/><circle cx="660.5" cy="270.2" r="2.35"/><circle cx="666.1" cy="250.2" r="2.35"/><circle cx="661.0" cy="255.3" r="2.35"/><circle cx="664.1" cy="267.5" r="2.35"/><circle cx="666.2" cy="250.3" r="2.35"/><circle cx="665.5" cy="253.5" r="2.35"/><circle cx="658.8" cy="261.1" r="2.35"/><circle cx="663.7" cy="256.2" r="2.35"/><circle cx="663.8" cy="268.3" r="2.35"/><circle cx="667.7" cy="253.6" r="2.35"/><circle cx="661.9" cy="258.9" r="2.35"/><circle cx="662.3" cy="252.4" r="2.35"/><circle cx="667.2" cy="253.1" r="2.35"/><circle cx="679.7" cy="255.5" r="2.35"/><circle cx="700.9" cy="271.7" r="2.35"/><circle cx="685.5" cy="260.1" r="2.35"/><circle cx="687.9" cy="267.6" r="2.35"/><circle cx="690.5" cy="260.4" r="2.35"/><circle cx="698.4" cy="269.7" r="2.35"/><circle cx="703.9" cy="270.5" r="2.35"/><circle cx="701.1" cy="274.1" r="2.35"/><circle cx="694.4" cy="261.8" r="2.35"/><circle cx="681.7" cy="262.5" r="2.35"/><circle cx="700.4" cy="265.3" r="2.35"/><circle cx="690.6" cy="254.8" r="2.35"/><circle cx="693.1" cy="259.5" r="2.35"/><circle cx="688.2" cy="267.6" r="2.35"/><circle cx="699.4" cy="267.7" r="2.35"/><circle cx="692.2" cy="253.5" r="2.35"/><circle cx="692.5" cy="271.2" r="2.35"/><circle cx="689.7" cy="264.8" r="2.35"/><circle cx="697.7" cy="263.1" r="2.35"/><circle cx="685.6" cy="267.4" r="2.35"/><circle cx="687.7" cy="262.4" r="2.35"/><circle cx="690.2" cy="282.9" r="2.35"/><circle cx="700.8" cy="275.7" r="2.35"/><circle cx="694.6" cy="265.1" r="2.35"/><circle cx="699.4" cy="264.7" r="2.35"/><circle cx="702.5" cy="270.4" r="2.35"/><circle cx="688.0" cy="259.8" r="2.35"/><circle cx="694.4" cy="280.0" r="2.35"/><circle cx="689.4" cy="265.2" r="2.35"/><circle cx="691.2" cy="278.8" r="2.35"/><circle cx="689.1" cy="285.6" r="2.35"/><circle cx="683.6" cy="261.7" r="2.35"/><circle cx="687.8" cy="267.5" r="2.35"/><circle cx="696.2" cy="272.5" r="2.35"/><circle cx="693.8" cy="272.0" r="2.35"/><circle cx="686.7" cy="276.3" r="2.35"/><circle cx="687.7" cy="255.9" r="2.35"/><circle cx="699.9" cy="263.8" r="2.35"/><circle cx="687.9" cy="259.8" r="2.35"/><circle cx="696.6" cy="276.0" r="2.35"/><circle cx="689.3" cy="255.8" r="2.35"/><circle cx="694.4" cy="281.7" r="2.35"/><circle cx="687.8" cy="275.8" r="2.35"/><circle cx="699.6" cy="266.7" r="2.35"/><circle cx="687.9" cy="254.9" r="2.35"/><circle cx="685.6" cy="261.7" r="2.35"/><circle cx="690.4" cy="274.8" r="2.35"/><circle cx="683.4" cy="255.0" r="2.35"/><circle cx="684.4" cy="269.1" r="2.35"/><circle cx="691.6" cy="269.5" r="2.35"/><circle cx="692.9" cy="278.1" r="2.35"/><circle cx="703.3" cy="269.8" r="2.35"/><circle cx="696.6" cy="260.2" r="2.35"/><circle cx="695.8" cy="278.0" r="2.35"/><circle cx="691.9" cy="283.7" r="2.35"/><circle cx="693.9" cy="259.9" r="2.35"/><circle cx="685.1" cy="273.7" r="2.35"/><circle cx="683.8" cy="260.7" r="2.35"/><circle cx="689.0" cy="265.9" r="2.35"/><circle cx="697.9" cy="268.8" r="2.35"/><circle cx="699.9" cy="269.6" r="2.35"/><circle cx="688.6" cy="264.1" r="2.35"/><circle cx="690.5" cy="269.2" r="2.35"/><circle cx="692.5" cy="269.2" r="2.35"/><circle cx="695.9" cy="260.1" r="2.35"/><circle cx="688.8" cy="258.9" r="2.35"/><circle cx="693.9" cy="268.5" r="2.35"/><circle cx="693.8" cy="264.2" r="2.35"/><circle cx="684.9" cy="266.3" r="2.35"/><circle cx="684.8" cy="260.2" r="2.35"/><circle cx="700.7" cy="266.3" r="2.35"/><circle cx="704.1" cy="270.3" r="2.35"/><circle cx="686.2" cy="263.8" r="2.35"/><circle cx="690.7" cy="264.9" r="2.35"/><circle cx="685.5" cy="256.7" r="2.35"/><circle cx="702.7" cy="269.2" r="2.35"/><circle cx="691.5" cy="263.4" r="2.35"/><circle cx="693.8" cy="267.1" r="2.35"/><circle cx="693.0" cy="275.0" r="2.35"/><circle cx="686.7" cy="265.8" r="2.35"/><circle cx="699.4" cy="268.0" r="2.35"/><circle cx="685.6" cy="265.3" r="2.35"/><circle cx="687.9" cy="258.3" r="2.35"/><circle cx="696.9" cy="267.2" r="2.35"/><circle cx="687.8" cy="263.9" r="2.35"/><circle cx="683.7" cy="260.9" r="2.35"/><circle cx="693.5" cy="267.5" r="2.35"/><circle cx="700.7" cy="269.4" r="2.35"/><circle cx="696.2" cy="266.5" r="2.35"/><circle cx="687.4" cy="268.3" r="2.35"/><circle cx="701.3" cy="268.2" r="2.35"/><circle cx="700.4" cy="272.8" r="2.35"/><circle cx="693.5" cy="258.7" r="2.35"/><circle cx="704.0" cy="271.5" r="2.35"/><circle cx="694.2" cy="268.2" r="2.35"/><circle cx="700.7" cy="269.7" r="2.35"/><circle cx="697.2" cy="262.3" r="2.35"/><circle cx="696.4" cy="262.1" r="2.35"/><circle cx="691.0" cy="267.7" r="2.35"/><circle cx="687.2" cy="254.7" r="2.35"/><circle cx="692.2" cy="281.0" r="2.35"/><circle cx="689.8" cy="285.8" r="2.35"/><circle cx="697.5" cy="262.0" r="2.35"/><circle cx="702.8" cy="270.6" r="2.35"/><circle cx="693.6" cy="276.3" r="2.35"/><circle cx="686.4" cy="267.2" r="2.35"/><circle cx="684.9" cy="264.6" r="2.35"/><circle cx="700.5" cy="264.4" r="2.35"/><circle cx="684.4" cy="257.3" r="2.35"/><circle cx="702.7" cy="271.8" r="2.35"/><circle cx="692.8" cy="254.2" r="2.35"/><circle cx="693.5" cy="260.0" r="2.35"/><circle cx="687.4" cy="270.3" r="2.35"/><circle cx="694.4" cy="282.1" r="2.35"/><circle cx="685.3" cy="266.7" r="2.35"/><circle cx="689.7" cy="277.9" r="2.35"/><circle cx="691.6" cy="267.0" r="2.35"/><circle cx="698.8" cy="264.6" r="2.35"/><circle cx="696.6" cy="276.5" r="2.35"/><circle cx="698.2" cy="276.1" r="2.35"/><circle cx="696.8" cy="270.9" r="2.35"/><circle cx="687.4" cy="257.1" r="2.35"/><circle cx="697.9" cy="275.6" r="2.35"/><circle cx="701.5" cy="274.2" r="2.35"/><circle cx="692.8" cy="280.9" r="2.35"/><circle cx="681.2" cy="255.2" r="2.35"/><circle cx="681.8" cy="262.1" r="2.35"/><circle cx="691.4" cy="279.1" r="2.35"/><circle cx="696.7" cy="276.8" r="2.35"/><circle cx="685.6" cy="258.7" r="2.35"/><circle cx="685.1" cy="260.3" r="2.35"/><circle cx="701.4" cy="273.6" r="2.35"/><circle cx="693.2" cy="268.1" r="2.35"/><circle cx="695.3" cy="271.5" r="2.35"/><circle cx="700.9" cy="270.1" r="2.35"/><circle cx="691.1" cy="267.9" r="2.35"/><circle cx="687.2" cy="258.6" r="2.35"/><circle cx="689.6" cy="282.8" r="2.35"/><circle cx="686.9" cy="259.0" r="2.35"/><circle cx="679.7" cy="255.8" r="2.35"/><circle cx="691.8" cy="270.0" r="2.35"/><circle cx="701.3" cy="267.4" r="2.35"/><circle cx="691.6" cy="270.7" r="2.35"/><circle cx="681.0" cy="260.7" r="2.35"/><circle cx="692.1" cy="270.4" r="2.35"/><circle cx="699.9" cy="274.9" r="2.35"/><circle cx="688.6" cy="265.7" r="2.35"/><circle cx="684.1" cy="264.0" r="2.35"/><circle cx="691.4" cy="280.9" r="2.35"/><circle cx="697.3" cy="272.8" r="2.35"/><circle cx="685.4" cy="271.2" r="2.35"/><circle cx="690.5" cy="259.1" r="2.35"/><circle cx="686.5" cy="255.2" r="2.35"/><circle cx="680.5" cy="250.8" r="2.35"/><circle cx="685.6" cy="251.7" r="2.35"/><circle cx="692.3" cy="250.8" r="2.35"/><circle cx="699.0" cy="253.4" r="2.35"/><circle cx="700.7" cy="256.7" r="2.35"/><circle cx="710.0" cy="283.8" r="2.35"/><circle cx="711.0" cy="272.7" r="2.35"/><circle cx="709.4" cy="279.6" r="2.35"/><circle cx="703.8" cy="297.0" r="2.35"/><circle cx="708.4" cy="287.1" r="2.35"/><circle cx="707.6" cy="291.4" r="2.35"/><circle cx="705.1" cy="284.7" r="2.35"/><circle cx="711.3" cy="275.2" r="2.35"/><circle cx="704.8" cy="284.9" r="2.35"/><circle cx="708.1" cy="290.5" r="2.35"/><circle cx="710.6" cy="276.6" r="2.35"/><circle cx="705.6" cy="292.0" r="2.35"/><circle cx="705.8" cy="280.1" r="2.35"/><circle cx="706.3" cy="286.5" r="2.35"/><circle cx="711.4" cy="274.8" r="2.35"/><circle cx="706.9" cy="291.4" r="2.35"/><circle cx="709.7" cy="288.9" r="2.35"/><circle cx="712.4" cy="280.9" r="2.35"/><circle cx="706.9" cy="279.8" r="2.35"/><circle cx="708.0" cy="291.3" r="2.35"/><circle cx="705.2" cy="291.4" r="2.35"/><circle cx="707.0" cy="277.8" r="2.35"/><circle cx="704.3" cy="282.8" r="2.35"/><circle cx="712.0" cy="279.2" r="2.35"/><circle cx="710.7" cy="273.6" r="2.35"/><circle cx="706.5" cy="284.6" r="2.35"/><circle cx="704.5" cy="279.8" r="2.35"/><circle cx="712.4" cy="273.7" r="2.35"/><circle cx="711.6" cy="283.3" r="2.35"/><circle cx="707.0" cy="276.4" r="2.35"/><circle cx="710.3" cy="283.0" r="2.35"/><circle cx="705.9" cy="291.2" r="2.35"/><circle cx="708.1" cy="291.6" r="2.35"/><circle cx="707.1" cy="282.5" r="2.35"/><circle cx="712.4" cy="277.2" r="2.35"/><circle cx="711.1" cy="286.2" r="2.35"/><circle cx="710.1" cy="283.8" r="2.35"/><circle cx="712.8" cy="274.8" r="2.35"/><circle cx="713.5" cy="285.5" r="2.35"/><circle cx="708.6" cy="271.9" r="2.35"/><circle cx="714.0" cy="285.4" r="2.35"/><circle cx="709.3" cy="291.3" r="2.35"/><circle cx="705.7" cy="280.0" r="2.35"/><circle cx="708.5" cy="275.7" r="2.35"/><circle cx="703.6" cy="294.4" r="2.35"/><circle cx="709.0" cy="280.7" r="2.35"/><circle cx="707.0" cy="288.0" r="2.35"/><circle cx="710.9" cy="279.5" r="2.35"/><circle cx="705.1" cy="280.7" r="2.35"/><circle cx="707.6" cy="276.3" r="2.35"/><circle cx="708.6" cy="291.7" r="2.35"/><circle cx="710.4" cy="273.0" r="2.35"/><circle cx="702.8" cy="296.8" r="2.35"/><circle cx="713.8" cy="277.7" r="2.35"/><circle cx="708.8" cy="277.9" r="2.35"/><circle cx="709.9" cy="289.5" r="2.35"/><circle cx="709.1" cy="286.5" r="2.35"/><circle cx="701.6" cy="296.4" r="2.35"/><circle cx="710.2" cy="272.7" r="2.35"/><circle cx="706.0" cy="289.6" r="2.35"/><circle cx="704.2" cy="292.6" r="2.35"/><circle cx="709.6" cy="285.0" r="2.35"/><circle cx="712.6" cy="287.0" r="2.35"/><circle cx="707.9" cy="275.2" r="2.35"/><circle cx="710.3" cy="286.3" r="2.35"/><circle cx="710.0" cy="266.0" r="2.35"/><circle cx="712.5" cy="260.1" r="2.35"/><circle cx="713.3" cy="308.9" r="2.35"/><circle cx="688.9" cy="370.3" r="2.35"/><circle cx="717.3" cy="256.1" r="2.35"/><circle cx="725.0" cy="251.9" r="2.35"/><circle cx="715.0" cy="265.2" r="2.35"/><circle cx="714.1" cy="253.5" r="2.35"/><circle cx="714.2" cy="257.5" r="2.35"/><circle cx="722.8" cy="252.7" r="2.35"/><circle cx="715.5" cy="258.0" r="2.35"/><circle cx="716.5" cy="258.8" r="2.35"/><circle cx="719.4" cy="253.7" r="2.35"/><circle cx="724.3" cy="253.0" r="2.35"/><circle cx="721.4" cy="250.5" r="2.35"/><circle cx="725.2" cy="252.0" r="2.35"/><circle cx="720.7" cy="262.3" r="2.35"/><circle cx="716.5" cy="260.6" r="2.35"/><circle cx="714.7" cy="265.1" r="2.35"/><circle cx="721.3" cy="258.8" r="2.35"/><circle cx="714.5" cy="256.3" r="2.35"/><circle cx="721.5" cy="253.3" r="2.35"/><circle cx="722.7" cy="256.7" r="2.35"/><circle cx="715.4" cy="283.7" r="2.35"/><circle cx="718.3" cy="271.3" r="2.35"/><circle cx="716.3" cy="279.5" r="2.35"/><circle cx="718.3" cy="274.6" r="2.35"/><circle cx="718.5" cy="267.9" r="2.35"/><circle cx="715.5" cy="268.7" r="2.35"/><circle cx="718.6" cy="279.7" r="2.35"/><circle cx="718.8" cy="278.0" r="2.35"/><circle cx="716.3" cy="276.5" r="2.35"/><circle cx="716.9" cy="269.5" r="2.35"/><circle cx="719.5" cy="269.2" r="2.35"/><circle cx="715.9" cy="281.1" r="2.35"/><circle cx="719.8" cy="268.5" r="2.35"/><circle cx="719.2" cy="271.1" r="2.35"/><circle cx="720.1" cy="268.5" r="2.35"/><circle cx="720.7" cy="271.5" r="2.35"/><circle cx="790.5" cy="254.2" r="2.35"/><circle cx="738.4" cy="265.1" r="2.35"/><circle cx="735.9" cy="272.7" r="2.35"/><circle cx="741.8" cy="270.2" r="2.35"/><circle cx="740.9" cy="275.2" r="2.35"/><circle cx="725.8" cy="278.6" r="2.35"/><circle cx="720.4" cy="281.1" r="2.35"/><circle cx="730.8" cy="281.1" r="2.35"/><circle cx="729.1" cy="286.2" r="2.35"/><circle cx="735.9" cy="288.7" r="2.35"/><circle cx="742.6" cy="282.0" r="2.35"/><circle cx="749.3" cy="283.6" r="2.35"/><circle cx="754.4" cy="281.1" r="2.35"/><circle cx="758.1" cy="281.6" r="2.35"/><circle cx="741.8" cy="291.2" r="2.35"/><circle cx="747.6" cy="294.6" r="2.35"/><circle cx="729.1" cy="294.6" r="2.35"/><circle cx="726.6" cy="296.3" r="2.35"/><circle cx="754.4" cy="298.8" r="2.35"/><circle cx="764.5" cy="289.5" r="2.35"/><circle cx="764.5" cy="293.7" r="2.35"/><circle cx="776.6" cy="288.4" r="2.35"/><circle cx="776.2" cy="293.7" r="2.35"/><circle cx="780.9" cy="294.6" r="2.35"/><circle cx="783.0" cy="283.6" r="2.35"/><circle cx="788.0" cy="285.3" r="2.35"/><circle cx="792.2" cy="282.0" r="2.35"/><circle cx="794.7" cy="285.3" r="2.35"/><circle cx="719.0" cy="301.3" r="2.35"/><circle cx="723.3" cy="303.8" r="2.35"/><circle cx="715.7" cy="308.9" r="2.35"/><circle cx="732.6" cy="320.1" r="2.35"/><circle cx="725.6" cy="309.7" r="2.35"/><circle cx="734.8" cy="320.8" r="2.35"/><circle cx="733.7" cy="310.9" r="2.35"/><circle cx="729.1" cy="305.7" r="2.35"/><circle cx="736.8" cy="313.7" r="2.35"/><circle cx="719.8" cy="314.9" r="2.35"/><circle cx="740.8" cy="305.2" r="2.35"/><circle cx="730.0" cy="316.9" r="2.35"/><circle cx="725.3" cy="307.3" r="2.35"/><circle cx="739.4" cy="303.0" r="2.35"/><circle cx="730.5" cy="310.5" r="2.35"/><circle cx="736.9" cy="305.3" r="2.35"/><circle cx="729.3" cy="313.6" r="2.35"/><circle cx="746.7" cy="309.7" r="2.35"/><circle cx="730.1" cy="324.7" r="2.35"/><circle cx="730.2" cy="305.6" r="2.35"/><circle cx="731.9" cy="316.8" r="2.35"/><circle cx="744.5" cy="308.8" r="2.35"/><circle cx="729.8" cy="314.0" r="2.35"/><circle cx="739.1" cy="308.9" r="2.35"/><circle cx="728.0" cy="305.4" r="2.35"/><circle cx="722.2" cy="311.7" r="2.35"/><circle cx="730.3" cy="318.7" r="2.35"/><circle cx="733.5" cy="310.8" r="2.35"/><circle cx="729.7" cy="306.5" r="2.35"/><circle cx="728.2" cy="318.5" r="2.35"/><circle cx="737.7" cy="300.7" r="2.35"/><circle cx="729.8" cy="307.3" r="2.35"/><circle cx="730.8" cy="325.3" r="2.35"/><circle cx="742.0" cy="311.6" r="2.35"/><circle cx="730.3" cy="303.8" r="2.35"/><circle cx="736.4" cy="320.6" r="2.35"/><circle cx="735.2" cy="315.0" r="2.35"/><circle cx="744.1" cy="307.6" r="2.35"/><circle cx="732.2" cy="322.4" r="2.35"/><circle cx="734.1" cy="304.8" r="2.35"/><circle cx="722.2" cy="316.2" r="2.35"/><circle cx="728.4" cy="309.5" r="2.35"/><circle cx="730.2" cy="313.1" r="2.35"/><circle cx="732.6" cy="321.6" r="2.35"/><circle cx="741.3" cy="315.7" r="2.35"/><circle cx="731.2" cy="305.9" r="2.35"/><circle cx="722.3" cy="315.4" r="2.35"/><circle cx="738.5" cy="316.0" r="2.35"/><circle cx="744.1" cy="312.5" r="2.35"/><circle cx="738.0" cy="308.0" r="2.35"/><circle cx="725.9" cy="309.2" r="2.35"/><circle cx="727.4" cy="323.2" r="2.35"/><circle cx="732.1" cy="307.0" r="2.35"/><circle cx="719.9" cy="310.8" r="2.35"/><circle cx="728.9" cy="309.0" r="2.35"/><circle cx="734.1" cy="300.9" r="2.35"/><circle cx="732.2" cy="311.5" r="2.35"/><circle cx="732.2" cy="305.3" r="2.35"/><circle cx="731.4" cy="307.1" r="2.35"/><circle cx="727.6" cy="309.6" r="2.35"/><circle cx="739.1" cy="307.1" r="2.35"/><circle cx="723.7" cy="318.9" r="2.35"/><circle cx="734.4" cy="301.5" r="2.35"/><circle cx="741.4" cy="308.8" r="2.35"/><circle cx="740.5" cy="311.2" r="2.35"/><circle cx="723.1" cy="317.6" r="2.35"/><circle cx="741.6" cy="309.3" r="2.35"/><circle cx="739.1" cy="309.5" r="2.35"/><circle cx="734.9" cy="318.2" r="2.35"/><circle cx="730.6" cy="322.3" r="2.35"/><circle cx="738.8" cy="306.6" r="2.35"/><circle cx="737.4" cy="313.3" r="2.35"/><circle cx="719.7" cy="314.2" r="2.35"/><circle cx="735.9" cy="304.5" r="2.35"/><circle cx="734.6" cy="316.9" r="2.35"/><circle cx="730.7" cy="303.2" r="2.35"/><circle cx="727.6" cy="309.7" r="2.35"/><circle cx="730.6" cy="311.2" r="2.35"/><circle cx="734.0" cy="317.7" r="2.35"/><circle cx="734.1" cy="314.0" r="2.35"/><circle cx="725.1" cy="313.6" r="2.35"/><circle cx="733.6" cy="313.7" r="2.35"/><circle cx="735.1" cy="316.7" r="2.35"/><circle cx="727.1" cy="310.3" r="2.35"/><circle cx="729.0" cy="314.5" r="2.35"/><circle cx="742.4" cy="309.6" r="2.35"/><circle cx="733.5" cy="322.5" r="2.35"/><circle cx="741.9" cy="307.7" r="2.35"/><circle cx="737.9" cy="316.5" r="2.35"/><circle cx="737.5" cy="310.6" r="2.35"/><circle cx="724.8" cy="319.1" r="2.35"/><circle cx="738.3" cy="305.6" r="2.35"/><circle cx="739.5" cy="303.5" r="2.35"/><circle cx="735.3" cy="317.1" r="2.35"/><circle cx="727.9" cy="308.7" r="2.35"/><circle cx="730.0" cy="304.6" r="2.35"/><circle cx="727.2" cy="319.5" r="2.35"/><circle cx="728.8" cy="306.2" r="2.35"/><circle cx="725.2" cy="306.6" r="2.35"/><circle cx="743.9" cy="310.9" r="2.35"/><circle cx="723.4" cy="316.1" r="2.35"/><circle cx="730.1" cy="317.8" r="2.35"/><circle cx="733.9" cy="312.4" r="2.35"/><circle cx="740.5" cy="307.3" r="2.35"/><circle cx="737.2" cy="313.8" r="2.35"/><circle cx="731.0" cy="319.2" r="2.35"/><circle cx="742.3" cy="306.8" r="2.35"/><circle cx="738.2" cy="303.2" r="2.35"/><circle cx="730.4" cy="315.5" r="2.35"/><circle cx="725.0" cy="318.8" r="2.35"/><circle cx="726.7" cy="319.1" r="2.35"/><circle cx="735.1" cy="298.9" r="2.35"/><circle cx="723.8" cy="307.7" r="2.35"/><circle cx="728.0" cy="312.0" r="2.35"/><circle cx="719.3" cy="314.2" r="2.35"/><circle cx="735.0" cy="309.8" r="2.35"/><circle cx="734.6" cy="307.1" r="2.35"/><circle cx="738.6" cy="310.4" r="2.35"/><circle cx="735.4" cy="305.1" r="2.35"/><circle cx="727.4" cy="306.2" r="2.35"/><circle cx="729.6" cy="314.6" r="2.35"/><circle cx="744.4" cy="312.4" r="2.35"/><circle cx="734.6" cy="305.4" r="2.35"/><circle cx="734.3" cy="316.7" r="2.35"/><circle cx="745.7" cy="311.4" r="2.35"/><circle cx="728.4" cy="311.5" r="2.35"/><circle cx="737.5" cy="308.1" r="2.35"/><circle cx="738.4" cy="305.9" r="2.35"/><circle cx="725.1" cy="315.6" r="2.35"/><circle cx="736.5" cy="314.0" r="2.35"/><circle cx="736.6" cy="320.1" r="2.35"/><circle cx="725.0" cy="315.7" r="2.35"/><circle cx="723.2" cy="311.6" r="2.35"/><circle cx="744.8" cy="311.7" r="2.35"/><circle cx="731.9" cy="324.2" r="2.35"/><circle cx="731.0" cy="322.2" r="2.35"/><circle cx="732.7" cy="323.6" r="2.35"/><circle cx="734.2" cy="322.9" r="2.35"/><circle cx="735.5" cy="320.0" r="2.35"/><circle cx="737.7" cy="320.9" r="2.35"/><circle cx="738.5" cy="319.7" r="2.35"/><circle cx="740.0" cy="318.1" r="2.35"/><circle cx="740.4" cy="317.8" r="2.35"/><circle cx="741.2" cy="317.7" r="2.35"/><circle cx="743.4" cy="315.8" r="2.35"/><circle cx="745.4" cy="314.9" r="2.35"/><circle cx="745.5" cy="314.4" r="2.35"/><circle cx="747.7" cy="313.6" r="2.35"/><circle cx="747.3" cy="314.4" r="2.35"/><circle cx="749.2" cy="313.5" r="2.35"/><circle cx="751.3" cy="313.1" r="2.35"/><circle cx="751.7" cy="312.2" r="2.35"/><circle cx="753.3" cy="311.5" r="2.35"/><circle cx="754.0" cy="309.0" r="2.35"/><circle cx="756.1" cy="310.2" r="2.35"/><circle cx="756.6" cy="308.6" r="2.35"/><circle cx="758.5" cy="306.7" r="2.35"/><circle cx="759.8" cy="307.7" r="2.35"/><circle cx="760.3" cy="305.1" r="2.35"/><circle cx="761.7" cy="305.3" r="2.35"/><circle cx="763.5" cy="304.0" r="2.35"/><circle cx="763.5" cy="305.0" r="2.35"/><circle cx="765.9" cy="303.1" r="2.35"/><circle cx="767.7" cy="301.6" r="2.35"/><circle cx="768.7" cy="302.6" r="2.35"/><circle cx="769.3" cy="300.9" r="2.35"/><circle cx="771.8" cy="299.5" r="2.35"/><circle cx="772.4" cy="299.6" r="2.35"/><circle cx="732.5" cy="326.4" r="2.35"/><circle cx="733.9" cy="325.7" r="2.35"/><circle cx="734.4" cy="325.2" r="2.35"/><circle cx="736.1" cy="323.2" r="2.35"/><circle cx="736.7" cy="323.7" r="2.35"/><circle cx="739.8" cy="323.2" r="2.35"/><circle cx="740.7" cy="322.7" r="2.35"/><circle cx="742.4" cy="320.9" r="2.35"/><circle cx="743.0" cy="319.1" r="2.35"/><circle cx="742.6" cy="318.4" r="2.35"/><circle cx="745.3" cy="319.7" r="2.35"/><circle cx="746.2" cy="318.8" r="2.35"/><circle cx="746.8" cy="317.6" r="2.35"/><circle cx="749.1" cy="315.5" r="2.35"/><circle cx="749.5" cy="316.1" r="2.35"/><circle cx="751.3" cy="315.4" r="2.35"/><circle cx="752.5" cy="314.9" r="2.35"/><circle cx="753.9" cy="313.6" r="2.35"/><circle cx="755.8" cy="313.5" r="2.35"/><circle cx="756.6" cy="313.1" r="2.35"/><circle cx="757.8" cy="312.1" r="2.35"/><circle cx="758.8" cy="311.2" r="2.35"/><circle cx="759.6" cy="309.5" r="2.35"/><circle cx="761.6" cy="309.9" r="2.35"/><circle cx="763.3" cy="309.1" r="2.35"/><circle cx="764.1" cy="308.4" r="2.35"/><circle cx="766.1" cy="305.9" r="2.35"/><circle cx="765.7" cy="305.5" r="2.35"/><circle cx="767.4" cy="306.0" r="2.35"/><circle cx="769.6" cy="304.8" r="2.35"/><circle cx="768.9" cy="303.5" r="2.35"/><circle cx="771.6" cy="303.9" r="2.35"/><circle cx="729.8" cy="331.8" r="2.35"/><circle cx="733.2" cy="331.1" r="2.35"/><circle cx="734.1" cy="331.1" r="2.35"/><circle cx="735.8" cy="328.9" r="2.35"/><circle cx="738.0" cy="328.6" r="2.35"/><circle cx="739.4" cy="328.2" r="2.35"/><circle cx="740.3" cy="328.1" r="2.35"/><circle cx="739.4" cy="325.8" r="2.35"/><circle cx="743.5" cy="325.0" r="2.35"/><circle cx="743.5" cy="326.0" r="2.35"/><circle cx="746.2" cy="324.5" r="2.35"/><circle cx="746.1" cy="325.8" r="2.35"/><circle cx="747.8" cy="324.9" r="2.35"/><circle cx="748.4" cy="324.3" r="2.35"/><circle cx="750.9" cy="324.5" r="2.35"/><circle cx="752.1" cy="322.2" r="2.35"/><circle cx="753.2" cy="321.1" r="2.35"/><circle cx="755.6" cy="320.5" r="2.35"/><circle cx="737.6" cy="331.1" r="2.35"/><circle cx="745.6" cy="325.5" r="2.35"/><circle cx="736.3" cy="336.1" r="2.35"/><circle cx="743.6" cy="328.0" r="2.35"/><circle cx="733.2" cy="330.2" r="2.35"/><circle cx="734.2" cy="327.2" r="2.35"/><circle cx="737.4" cy="329.8" r="2.35"/><circle cx="745.2" cy="334.7" r="2.35"/><circle cx="735.9" cy="328.5" r="2.35"/><circle cx="735.0" cy="328.2" r="2.35"/><circle cx="744.1" cy="330.1" r="2.35"/><circle cx="735.0" cy="330.9" r="2.35"/><circle cx="738.7" cy="330.6" r="2.35"/><circle cx="745.3" cy="333.1" r="2.35"/><circle cx="745.6" cy="329.0" r="2.35"/><circle cx="745.5" cy="334.8" r="2.35"/><circle cx="747.7" cy="328.7" r="2.35"/><circle cx="745.4" cy="324.8" r="2.35"/><circle cx="740.3" cy="330.1" r="2.35"/><circle cx="740.0" cy="331.3" r="2.35"/><circle cx="747.2" cy="326.6" r="2.35"/><circle cx="739.9" cy="334.3" r="2.35"/><circle cx="740.9" cy="330.8" r="2.35"/><circle cx="746.0" cy="322.8" r="2.35"/><circle cx="740.3" cy="333.8" r="2.35"/><circle cx="740.4" cy="328.5" r="2.35"/><circle cx="734.8" cy="333.8" r="2.35"/><circle cx="739.6" cy="341.4" r="2.35"/><circle cx="739.2" cy="342.1" r="2.35"/><circle cx="742.3" cy="342.3" r="2.35"/><circle cx="744.0" cy="339.5" r="2.35"/><circle cx="745.7" cy="339.9" r="2.35"/><circle cx="747.2" cy="340.4" r="2.35"/><circle cx="749.0" cy="338.7" r="2.35"/><circle cx="749.3" cy="338.6" r="2.35"/><circle cx="750.9" cy="337.8" r="2.35"/><circle cx="751.2" cy="336.9" r="2.35"/><circle cx="753.7" cy="336.5" r="2.35"/><circle cx="755.6" cy="336.3" r="2.35"/><circle cx="757.3" cy="335.3" r="2.35"/><circle cx="758.6" cy="335.9" r="2.35"/><circle cx="761.2" cy="335.9" r="2.35"/><circle cx="762.4" cy="334.7" r="2.35"/><circle cx="762.9" cy="332.7" r="2.35"/><circle cx="742.6" cy="337.4" r="2.35"/><circle cx="743.6" cy="336.8" r="2.35"/><circle cx="745.6" cy="336.3" r="2.35"/><circle cx="747.7" cy="335.3" r="2.35"/><circle cx="748.6" cy="335.0" r="2.35"/><circle cx="749.9" cy="334.6" r="2.35"/><circle cx="752.0" cy="334.6" r="2.35"/><circle cx="752.7" cy="333.3" r="2.35"/><circle cx="754.7" cy="333.2" r="2.35"/><circle cx="756.2" cy="332.1" r="2.35"/><circle cx="756.1" cy="330.7" r="2.35"/><circle cx="764.5" cy="329.1" r="2.35"/><circle cx="767.8" cy="330.7" r="2.35"/><circle cx="757.7" cy="320.6" r="2.35"/><circle cx="774.6" cy="320.6" r="2.35"/><circle cx="774.6" cy="327.4" r="2.35"/><circle cx="777.9" cy="332.4" r="2.35"/><circle cx="780.4" cy="331.6" r="2.35"/><circle cx="764.7" cy="318.1" r="2.35"/><circle cx="766.3" cy="317.8" r="2.35"/><circle cx="768.0" cy="316.9" r="2.35"/><circle cx="770.4" cy="315.8" r="2.35"/><circle cx="771.9" cy="314.5" r="2.35"/><circle cx="776.5" cy="312.3" r="2.35"/><circle cx="777.4" cy="311.0" r="2.35"/><circle cx="779.8" cy="310.0" r="2.35"/><circle cx="765.3" cy="342.4" r="2.35"/><circle cx="767.1" cy="342.4" r="2.35"/><circle cx="768.3" cy="342.1" r="2.35"/><circle cx="770.2" cy="340.8" r="2.35"/><circle cx="771.9" cy="341.9" r="2.35"/><circle cx="771.0" cy="339.9" r="2.35"/><circle cx="773.5" cy="341.4" r="2.35"/><circle cx="774.5" cy="338.7" r="2.35"/><circle cx="777.0" cy="338.7" r="2.35"/><circle cx="777.0" cy="339.6" r="2.35"/><circle cx="779.2" cy="339.4" r="2.35"/><circle cx="781.2" cy="336.9" r="2.35"/><circle cx="782.1" cy="338.2" r="2.35"/><circle cx="783.3" cy="337.7" r="2.35"/><circle cx="785.0" cy="336.6" r="2.35"/><circle cx="786.8" cy="336.5" r="2.35"/><circle cx="786.7" cy="335.7" r="2.35"/><circle cx="789.6" cy="335.4" r="2.35"/><circle cx="790.9" cy="333.6" r="2.35"/><circle cx="790.7" cy="333.7" r="2.35"/><circle cx="767.2" cy="344.3" r="2.35"/><circle cx="767.5" cy="345.0" r="2.35"/><circle cx="769.9" cy="343.2" r="2.35"/><circle cx="772.5" cy="342.3" r="2.35"/><circle cx="773.3" cy="343.9" r="2.35"/><circle cx="774.9" cy="342.3" r="2.35"/><circle cx="775.2" cy="342.3" r="2.35"/><circle cx="776.5" cy="342.4" r="2.35"/><circle cx="778.8" cy="340.6" r="2.35"/><circle cx="780.1" cy="341.4" r="2.35"/><circle cx="780.8" cy="340.3" r="2.35"/><circle cx="782.3" cy="338.7" r="2.35"/><circle cx="784.0" cy="339.1" r="2.35"/><circle cx="786.4" cy="337.7" r="2.35"/><circle cx="787.6" cy="338.4" r="2.35"/><circle cx="788.0" cy="337.0" r="2.35"/><circle cx="790.2" cy="337.3" r="2.35"/><circle cx="788.9" cy="330.7" r="2.35"/><circle cx="789.3" cy="330.4" r="2.35"/><circle cx="791.8" cy="329.1" r="2.35"/><circle cx="793.7" cy="327.6" r="2.35"/><circle cx="793.9" cy="328.8" r="2.35"/><circle cx="796.3" cy="328.9" r="2.35"/><circle cx="798.4" cy="327.7" r="2.35"/><circle cx="798.9" cy="326.8" r="2.35"/><circle cx="801.7" cy="326.0" r="2.35"/><circle cx="755.8" cy="348.7" r="2.35"/><circle cx="757.1" cy="349.4" r="2.35"/><circle cx="759.0" cy="348.5" r="2.35"/><circle cx="761.4" cy="348.1" r="2.35"/><circle cx="762.9" cy="347.9" r="2.35"/><circle cx="764.4" cy="348.4" r="2.35"/><circle cx="765.6" cy="348.0" r="2.35"/><circle cx="767.0" cy="347.0" r="2.35"/><circle cx="769.1" cy="347.3" r="2.35"/><circle cx="770.9" cy="346.7" r="2.35"/><circle cx="772.9" cy="346.7" r="2.35"/><circle cx="792.2" cy="337.5" r="2.35"/><circle cx="792.2" cy="343.4" r="2.35"/><circle cx="786.8" cy="352.1" r="2.35"/><circle cx="750.2" cy="351.8" r="2.35"/><circle cx="741.8" cy="355.1" r="2.35"/><circle cx="745.1" cy="354.3" r="2.35"/><circle cx="789.7" cy="304.7" r="2.35"/><circle cx="794.7" cy="302.1" r="2.35"/><circle cx="809.0" cy="289.9" r="2.35"/><circle cx="820.5" cy="282.8" r="2.35"/><circle cx="816.3" cy="303.5" r="2.35"/><circle cx="820.8" cy="305.5" r="2.35"/><circle cx="810.2" cy="310.1" r="2.35"/><circle cx="830.1" cy="296.3" r="2.35"/><circle cx="830.1" cy="314.8" r="2.35"/><circle cx="837.6" cy="311.9" r="2.35"/><circle cx="823.3" cy="313.1" r="2.35"/><circle cx="821.7" cy="318.1" r="2.35"/><circle cx="820.0" cy="319.0" r="2.35"/><circle cx="862.0" cy="301.8" r="2.35"/><circle cx="858.7" cy="308.0" r="2.35"/><circle cx="856.1" cy="308.9" r="2.35"/><circle cx="814.4" cy="332.8" r="2.35"/><circle cx="819.1" cy="339.2" r="2.35"/><circle cx="826.4" cy="337.1" r="2.35"/><circle cx="834.3" cy="334.4" r="2.35"/><circle cx="839.8" cy="332.8" r="2.35"/><circle cx="799.1" cy="344.5" r="2.35"/><circle cx="800.7" cy="344.5" r="2.35"/><circle cx="801.5" cy="345.8" r="2.35"/><circle cx="803.4" cy="344.5" r="2.35"/><circle cx="804.6" cy="343.8" r="2.35"/><circle cx="805.8" cy="342.8" r="2.35"/><circle cx="806.1" cy="343.9" r="2.35"/><circle cx="808.5" cy="343.6" r="2.35"/><circle cx="808.8" cy="341.6" r="2.35"/><circle cx="811.9" cy="342.1" r="2.35"/><circle cx="812.0" cy="342.1" r="2.35"/><circle cx="814.4" cy="340.6" r="2.35"/><circle cx="815.2" cy="341.2" r="2.35"/><circle cx="824.8" cy="348.8" r="2.35"/><circle cx="824.0" cy="349.3" r="2.35"/><circle cx="826.9" cy="349.1" r="2.35"/><circle cx="827.6" cy="349.2" r="2.35"/><circle cx="828.6" cy="348.9" r="2.35"/><circle cx="832.0" cy="348.9" r="2.35"/><circle cx="832.3" cy="346.3" r="2.35"/><circle cx="834.2" cy="345.4" r="2.35"/><circle cx="835.9" cy="345.8" r="2.35"/><circle cx="837.8" cy="344.7" r="2.35"/><circle cx="839.5" cy="345.6" r="2.35"/><circle cx="839.1" cy="345.7" r="2.35"/><circle cx="842.6" cy="346.2" r="2.35"/><circle cx="842.4" cy="344.7" r="2.35"/><circle cx="843.0" cy="344.7" r="2.35"/><circle cx="844.7" cy="342.8" r="2.35"/><circle cx="847.0" cy="342.4" r="2.35"/><circle cx="848.2" cy="343.5" r="2.35"/><circle cx="833.4" cy="355.1" r="2.35"/><circle cx="842.7" cy="356.8" r="2.35"/><circle cx="838.5" cy="351.8" r="2.35"/><circle cx="849.9" cy="351.8" r="2.35"/><circle cx="821.2" cy="361.8" r="2.35"/><circle cx="817.2" cy="362.2" r="2.35"/><circle cx="807.7" cy="364.0" r="2.35"/><circle cx="809.8" cy="359.7" r="2.35"/><circle cx="814.8" cy="372.6" r="2.35"/><circle cx="810.8" cy="368.3" r="2.35"/><circle cx="814.4" cy="366.9" r="2.35"/><circle cx="799.5" cy="361.0" r="2.35"/><circle cx="807.8" cy="372.9" r="2.35"/><circle cx="800.0" cy="369.2" r="2.35"/><circle cx="802.0" cy="360.2" r="2.35"/><circle cx="803.4" cy="370.3" r="2.35"/><circle cx="799.7" cy="367.5" r="2.35"/><circle cx="820.0" cy="368.0" r="2.35"/><circle cx="811.0" cy="373.1" r="2.35"/><circle cx="813.5" cy="361.4" r="2.35"/><circle cx="805.0" cy="372.5" r="2.35"/><circle cx="804.8" cy="365.0" r="2.35"/><circle cx="819.9" cy="366.6" r="2.35"/><circle cx="809.0" cy="361.8" r="2.35"/><circle cx="799.9" cy="366.9" r="2.35"/><circle cx="817.3" cy="370.5" r="2.35"/><circle cx="801.5" cy="366.3" r="2.35"/><circle cx="803.8" cy="373.1" r="2.35"/><circle cx="810.2" cy="366.8" r="2.35"/><circle cx="820.0" cy="367.2" r="2.35"/><circle cx="799.5" cy="372.1" r="2.35"/><circle cx="800.5" cy="369.2" r="2.35"/><circle cx="814.7" cy="372.1" r="2.35"/><circle cx="823.1" cy="367.7" r="2.35"/><circle cx="810.6" cy="360.2" r="2.35"/><circle cx="807.8" cy="372.3" r="2.35"/><circle cx="809.9" cy="371.2" r="2.35"/><circle cx="809.4" cy="361.8" r="2.35"/><circle cx="813.5" cy="373.1" r="2.35"/><circle cx="823.9" cy="366.2" r="2.35"/><circle cx="805.5" cy="374.9" r="2.35"/><circle cx="809.5" cy="364.2" r="2.35"/><circle cx="806.0" cy="363.2" r="2.35"/><circle cx="799.8" cy="366.4" r="2.35"/><circle cx="810.9" cy="372.8" r="2.35"/><circle cx="818.9" cy="366.2" r="2.35"/><circle cx="824.5" cy="359.2" r="2.35"/><circle cx="814.7" cy="374.0" r="2.35"/><circle cx="799.0" cy="363.4" r="2.35"/><circle cx="802.4" cy="362.7" r="2.35"/><circle cx="812.8" cy="368.3" r="2.35"/><circle cx="825.9" cy="362.0" r="2.35"/><circle cx="824.3" cy="359.0" r="2.35"/><circle cx="801.7" cy="370.0" r="2.35"/><circle cx="822.5" cy="367.2" r="2.35"/><circle cx="808.1" cy="367.1" r="2.35"/><circle cx="823.6" cy="361.5" r="2.35"/><circle cx="824.8" cy="366.8" r="2.35"/><circle cx="804.9" cy="362.2" r="2.35"/><circle cx="816.0" cy="368.2" r="2.35"/><circle cx="814.2" cy="361.9" r="2.35"/><circle cx="811.0" cy="369.8" r="2.35"/><circle cx="810.4" cy="359.5" r="2.35"/><circle cx="816.4" cy="360.4" r="2.35"/><circle cx="823.4" cy="362.2" r="2.35"/><circle cx="814.3" cy="370.4" r="2.35"/><circle cx="813.8" cy="360.0" r="2.35"/><circle cx="814.5" cy="374.0" r="2.35"/><circle cx="811.0" cy="359.6" r="2.35"/><circle cx="824.2" cy="367.3" r="2.35"/><circle cx="808.9" cy="373.8" r="2.35"/><circle cx="805.3" cy="370.4" r="2.35"/><circle cx="806.7" cy="362.6" r="2.35"/><circle cx="805.1" cy="368.5" r="2.35"/><circle cx="819.3" cy="362.4" r="2.35"/><circle cx="824.7" cy="365.6" r="2.35"/><circle cx="812.5" cy="368.4" r="2.35"/><circle cx="814.7" cy="370.4" r="2.35"/><circle cx="825.6" cy="371.2" r="2.35"/><circle cx="800.4" cy="372.3" r="2.35"/><circle cx="804.6" cy="370.9" r="2.35"/><circle cx="799.8" cy="363.4" r="2.35"/><circle cx="808.4" cy="361.9" r="2.35"/><circle cx="817.3" cy="367.4" r="2.35"/><circle cx="817.3" cy="373.4" r="2.35"/><circle cx="800.8" cy="368.6" r="2.35"/><circle cx="802.0" cy="364.6" r="2.35"/><circle cx="810.9" cy="370.8" r="2.35"/><circle cx="819.3" cy="365.8" r="2.35"/><circle cx="820.1" cy="363.5" r="2.35"/><circle cx="808.0" cy="366.2" r="2.35"/><circle cx="824.3" cy="369.4" r="2.35"/><circle cx="812.0" cy="364.4" r="2.35"/><circle cx="810.2" cy="363.3" r="2.35"/><circle cx="812.1" cy="358.2" r="2.35"/><circle cx="824.1" cy="359.5" r="2.35"/><circle cx="806.7" cy="373.0" r="2.35"/><circle cx="801.2" cy="367.7" r="2.35"/><circle cx="804.6" cy="362.4" r="2.35"/><circle cx="803.8" cy="362.7" r="2.35"/><circle cx="810.5" cy="372.4" r="2.35"/><circle cx="825.5" cy="367.5" r="2.35"/><circle cx="807.0" cy="364.5" r="2.35"/><circle cx="805.7" cy="364.9" r="2.35"/><circle cx="820.9" cy="362.1" r="2.35"/><circle cx="820.4" cy="365.2" r="2.35"/><circle cx="799.2" cy="367.1" r="2.35"/><circle cx="811.8" cy="369.6" r="2.35"/><circle cx="805.4" cy="364.2" r="2.35"/><circle cx="804.8" cy="371.6" r="2.35"/><circle cx="800.7" cy="372.6" r="2.35"/><circle cx="814.6" cy="368.9" r="2.35"/><circle cx="810.3" cy="370.0" r="2.35"/><circle cx="818.2" cy="368.5" r="2.35"/><circle cx="822.4" cy="373.5" r="2.35"/><circle cx="812.4" cy="358.1" r="2.35"/><circle cx="804.5" cy="362.1" r="2.35"/><circle cx="812.3" cy="361.3" r="2.35"/><circle cx="817.7" cy="370.6" r="2.35"/><circle cx="817.5" cy="361.2" r="2.35"/><circle cx="814.8" cy="373.7" r="2.35"/><circle cx="817.0" cy="364.2" r="2.35"/><circle cx="800.2" cy="372.8" r="2.35"/><circle cx="816.8" cy="365.3" r="2.35"/><circle cx="822.8" cy="372.8" r="2.35"/><circle cx="803.7" cy="366.4" r="2.35"/><circle cx="814.9" cy="357.7" r="2.35"/><circle cx="813.3" cy="372.2" r="2.35"/><circle cx="806.6" cy="368.5" r="2.35"/><circle cx="818.7" cy="370.6" r="2.35"/><circle cx="822.5" cy="367.9" r="2.35"/><circle cx="818.5" cy="358.2" r="2.35"/><circle cx="806.4" cy="373.1" r="2.35"/><circle cx="814.6" cy="361.8" r="2.35"/><circle cx="809.3" cy="365.9" r="2.35"/><circle cx="808.4" cy="360.0" r="2.35"/><circle cx="812.9" cy="364.3" r="2.35"/><circle cx="801.1" cy="372.7" r="2.35"/><circle cx="803.0" cy="361.1" r="2.35"/><circle cx="827.2" cy="370.5" r="2.35"/><circle cx="806.0" cy="373.1" r="2.35"/><circle cx="822.0" cy="359.5" r="2.35"/><circle cx="819.1" cy="358.2" r="2.35"/><circle cx="808.4" cy="381.4" r="2.35"/><circle cx="803.7" cy="384.2" r="2.35"/><circle cx="805.0" cy="382.6" r="2.35"/><circle cx="805.0" cy="383.9" r="2.35"/><circle cx="809.0" cy="384.1" r="2.35"/><circle cx="806.6" cy="383.7" r="2.35"/><circle cx="819.1" cy="379.5" r="2.35"/><circle cx="797.3" cy="366.1" r="2.35"/><circle cx="757.6" cy="369.1" r="2.35"/><circle cx="759.2" cy="357.5" r="2.35"/><circle cx="759.1" cy="365.4" r="2.35"/><circle cx="752.0" cy="367.0" r="2.35"/><circle cx="762.9" cy="364.9" r="2.35"/><circle cx="759.6" cy="361.9" r="2.35"/><circle cx="759.5" cy="361.8" r="2.35"/><circle cx="758.7" cy="361.8" r="2.35"/><circle cx="750.5" cy="362.2" r="2.35"/><circle cx="758.1" cy="358.8" r="2.35"/><circle cx="758.4" cy="356.4" r="2.35"/><circle cx="749.4" cy="361.5" r="2.35"/><circle cx="744.6" cy="360.2" r="2.35"/><circle cx="757.3" cy="364.1" r="2.35"/><circle cx="762.1" cy="367.6" r="2.35"/><circle cx="755.1" cy="364.3" r="2.35"/><circle cx="747.4" cy="362.0" r="2.35"/><circle cx="747.1" cy="369.0" r="2.35"/><circle cx="764.6" cy="364.3" r="2.35"/><circle cx="768.5" cy="364.2" r="2.35"/><circle cx="769.8" cy="364.9" r="2.35"/><circle cx="748.2" cy="363.2" r="2.35"/><circle cx="754.9" cy="363.7" r="2.35"/><circle cx="764.8" cy="363.6" r="2.35"/><circle cx="756.0" cy="365.3" r="2.35"/><circle cx="768.2" cy="354.2" r="2.35"/><circle cx="747.6" cy="362.6" r="2.35"/><circle cx="749.9" cy="367.7" r="2.35"/><circle cx="765.5" cy="356.8" r="2.35"/><circle cx="746.2" cy="364.3" r="2.35"/><circle cx="749.8" cy="365.4" r="2.35"/><circle cx="769.0" cy="359.9" r="2.35"/><circle cx="759.6" cy="364.1" r="2.35"/><circle cx="748.7" cy="369.7" r="2.35"/><circle cx="747.7" cy="362.7" r="2.35"/><circle cx="759.9" cy="362.3" r="2.35"/><circle cx="744.6" cy="363.0" r="2.35"/><circle cx="761.5" cy="359.6" r="2.35"/><circle cx="746.6" cy="367.4" r="2.35"/><circle cx="746.3" cy="361.7" r="2.35"/><circle cx="750.3" cy="369.8" r="2.35"/><circle cx="759.4" cy="361.8" r="2.35"/><circle cx="763.6" cy="362.9" r="2.35"/><circle cx="767.9" cy="356.3" r="2.35"/><circle cx="752.0" cy="364.0" r="2.35"/><circle cx="751.7" cy="365.8" r="2.35"/><circle cx="753.2" cy="357.9" r="2.35"/><circle cx="756.5" cy="358.0" r="2.35"/><circle cx="764.2" cy="364.5" r="2.35"/><circle cx="762.8" cy="357.3" r="2.35"/><circle cx="756.1" cy="358.9" r="2.35"/><circle cx="761.8" cy="354.8" r="2.35"/><circle cx="766.3" cy="367.9" r="2.35"/><circle cx="766.1" cy="363.9" r="2.35"/><circle cx="760.2" cy="361.6" r="2.35"/><circle cx="759.2" cy="362.5" r="2.35"/><circle cx="754.2" cy="363.9" r="2.35"/><circle cx="747.0" cy="360.0" r="2.35"/><circle cx="753.4" cy="369.1" r="2.35"/><circle cx="761.3" cy="367.7" r="2.35"/><circle cx="763.6" cy="365.3" r="2.35"/><circle cx="757.9" cy="364.1" r="2.35"/><circle cx="744.5" cy="360.9" r="2.35"/><circle cx="744.9" cy="364.5" r="2.35"/><circle cx="744.8" cy="361.6" r="2.35"/><circle cx="748.4" cy="369.4" r="2.35"/><circle cx="751.7" cy="360.6" r="2.35"/><circle cx="765.7" cy="362.6" r="2.35"/><circle cx="752.5" cy="360.8" r="2.35"/><circle cx="767.1" cy="355.9" r="2.35"/><circle cx="745.6" cy="364.1" r="2.35"/><circle cx="762.9" cy="364.3" r="2.35"/><circle cx="746.9" cy="364.1" r="2.35"/><circle cx="759.5" cy="365.3" r="2.35"/><circle cx="762.5" cy="360.9" r="2.35"/><circle cx="764.0" cy="361.4" r="2.35"/><circle cx="746.8" cy="360.8" r="2.35"/><circle cx="748.3" cy="366.6" r="2.35"/><circle cx="744.4" cy="362.3" r="2.35"/><circle cx="770.7" cy="365.4" r="2.35"/><circle cx="756.7" cy="357.5" r="2.35"/><circle cx="753.7" cy="359.9" r="2.35"/><circle cx="751.3" cy="364.0" r="2.35"/><circle cx="766.6" cy="355.3" r="2.35"/><circle cx="760.3" cy="357.1" r="2.35"/><circle cx="748.5" cy="364.7" r="2.35"/><circle cx="764.9" cy="358.0" r="2.35"/><circle cx="761.5" cy="367.5" r="2.35"/><circle cx="759.3" cy="360.6" r="2.35"/><circle cx="753.0" cy="366.6" r="2.35"/><circle cx="762.3" cy="364.0" r="2.35"/><circle cx="761.9" cy="363.7" r="2.35"/><circle cx="758.3" cy="368.6" r="2.35"/><circle cx="746.3" cy="359.9" r="2.35"/><circle cx="758.2" cy="368.0" r="2.35"/><circle cx="756.7" cy="368.0" r="2.35"/><circle cx="755.6" cy="363.4" r="2.35"/><circle cx="764.5" cy="367.4" r="2.35"/><circle cx="757.4" cy="361.8" r="2.35"/><circle cx="768.8" cy="359.0" r="2.35"/><circle cx="763.2" cy="381.2" r="2.35"/><circle cx="761.4" cy="375.5" r="2.35"/><circle cx="764.1" cy="381.9" r="2.35"/><circle cx="771.3" cy="384.7" r="2.35"/><circle cx="764.2" cy="381.3" r="2.35"/><circle cx="765.5" cy="377.1" r="2.35"/><circle cx="747.9" cy="382.8" r="2.35"/><circle cx="757.1" cy="379.6" r="2.35"/><circle cx="750.8" cy="377.4" r="2.35"/><circle cx="761.4" cy="379.5" r="2.35"/><circle cx="771.9" cy="381.0" r="2.35"/><circle cx="754.8" cy="378.8" r="2.35"/><circle cx="748.0" cy="384.1" r="2.35"/><circle cx="747.5" cy="383.5" r="2.35"/><circle cx="748.5" cy="376.8" r="2.35"/><circle cx="753.4" cy="378.3" r="2.35"/><circle cx="750.3" cy="379.7" r="2.35"/><circle cx="748.4" cy="375.9" r="2.35"/><circle cx="749.3" cy="378.5" r="2.35"/><circle cx="749.2" cy="382.3" r="2.35"/><circle cx="761.9" cy="384.4" r="2.35"/><circle cx="748.3" cy="382.2" r="2.35"/><circle cx="751.2" cy="386.0" r="2.35"/><circle cx="751.1" cy="377.8" r="2.35"/><circle cx="772.6" cy="384.9" r="2.35"/><circle cx="767.1" cy="374.8" r="2.35"/><circle cx="747.8" cy="375.5" r="2.35"/><circle cx="761.6" cy="385.5" r="2.35"/><circle cx="750.8" cy="378.7" r="2.35"/><circle cx="759.8" cy="381.2" r="2.35"/><circle cx="770.6" cy="377.9" r="2.35"/><circle cx="756.6" cy="382.8" r="2.35"/><circle cx="756.5" cy="378.6" r="2.35"/><circle cx="760.7" cy="377.1" r="2.35"/><circle cx="756.9" cy="386.1" r="2.35"/><circle cx="749.3" cy="377.5" r="2.35"/><circle cx="762.7" cy="378.1" r="2.35"/><circle cx="760.6" cy="382.8" r="2.35"/><circle cx="750.8" cy="377.1" r="2.35"/><circle cx="753.3" cy="383.1" r="2.35"/><circle cx="764.1" cy="386.2" r="2.35"/><circle cx="756.0" cy="380.6" r="2.35"/><circle cx="752.5" cy="385.9" r="2.35"/><circle cx="765.5" cy="382.2" r="2.35"/><circle cx="752.4" cy="384.1" r="2.35"/><circle cx="767.6" cy="376.2" r="2.35"/><circle cx="751.1" cy="384.8" r="2.35"/><circle cx="761.6" cy="383.5" r="2.35"/><circle cx="772.1" cy="383.6" r="2.35"/><circle cx="750.9" cy="377.1" r="2.35"/><circle cx="765.7" cy="382.0" r="2.35"/><circle cx="770.2" cy="383.0" r="2.35"/><circle cx="755.4" cy="381.9" r="2.35"/><circle cx="764.0" cy="385.8" r="2.35"/><circle cx="772.4" cy="380.5" r="2.35"/><circle cx="759.1" cy="382.4" r="2.35"/><circle cx="760.2" cy="379.9" r="2.35"/><circle cx="751.6" cy="377.0" r="2.35"/><circle cx="760.9" cy="379.5" r="2.35"/><circle cx="761.0" cy="383.3" r="2.35"/><circle cx="751.2" cy="378.1" r="2.35"/><circle cx="766.8" cy="378.2" r="2.35"/><circle cx="757.0" cy="385.1" r="2.35"/><circle cx="747.5" cy="379.3" r="2.35"/><circle cx="752.3" cy="386.0" r="2.35"/><circle cx="772.5" cy="385.1" r="2.35"/><circle cx="760.4" cy="381.4" r="2.35"/><circle cx="763.3" cy="383.1" r="2.35"/><circle cx="768.5" cy="384.7" r="2.35"/><circle cx="761.7" cy="375.6" r="2.35"/><circle cx="765.3" cy="379.5" r="2.35"/><circle cx="760.9" cy="383.5" r="2.35"/><circle cx="771.3" cy="382.4" r="2.35"/><circle cx="764.4" cy="386.2" r="2.35"/><circle cx="747.8" cy="383.2" r="2.35"/><circle cx="749.8" cy="381.3" r="2.35"/><circle cx="753.6" cy="379.2" r="2.35"/><circle cx="768.1" cy="378.4" r="2.35"/><circle cx="770.8" cy="381.9" r="2.35"/><circle cx="770.8" cy="381.9" r="2.35"/><circle cx="763.0" cy="381.1" r="2.35"/><circle cx="769.2" cy="374.7" r="2.35"/><circle cx="749.7" cy="377.6" r="2.35"/><circle cx="771.5" cy="385.8" r="2.35"/><circle cx="751.4" cy="378.3" r="2.35"/><circle cx="758.7" cy="377.5" r="2.35"/><circle cx="752.2" cy="377.2" r="2.35"/><circle cx="779.6" cy="381.2" r="2.35"/><circle cx="787.2" cy="380.4" r="2.35"/><circle cx="774.6" cy="392.6" r="2.35"/><circle cx="765.7" cy="392.8" r="2.35"/><circle cx="762.8" cy="398.9" r="2.35"/><circle cx="753.0" cy="395.8" r="2.35"/><circle cx="748.1" cy="393.8" r="2.35"/><circle cx="758.3" cy="397.1" r="2.35"/><circle cx="753.4" cy="399.4" r="2.35"/><circle cx="762.5" cy="400.0" r="2.35"/><circle cx="759.6" cy="396.8" r="2.35"/><circle cx="764.0" cy="397.1" r="2.35"/><circle cx="761.7" cy="396.9" r="2.35"/><circle cx="754.4" cy="398.0" r="2.35"/><circle cx="765.7" cy="396.8" r="2.35"/><circle cx="755.9" cy="395.1" r="2.35"/><circle cx="753.7" cy="392.8" r="2.35"/><circle cx="761.5" cy="399.0" r="2.35"/><circle cx="761.7" cy="399.9" r="2.35"/><circle cx="760.4" cy="392.3" r="2.35"/><circle cx="761.0" cy="392.2" r="2.35"/><circle cx="757.0" cy="400.0" r="2.35"/><circle cx="767.6" cy="394.8" r="2.35"/><circle cx="751.9" cy="393.2" r="2.35"/><circle cx="750.9" cy="394.4" r="2.35"/><circle cx="767.2" cy="394.5" r="2.35"/><circle cx="769.4" cy="399.5" r="2.35"/><circle cx="770.4" cy="394.1" r="2.35"/><circle cx="766.2" cy="397.3" r="2.35"/><circle cx="751.9" cy="398.4" r="2.35"/><circle cx="761.5" cy="392.8" r="2.35"/><circle cx="757.4" cy="394.6" r="2.35"/><circle cx="758.7" cy="394.0" r="2.35"/><circle cx="751.8" cy="392.7" r="2.35"/><circle cx="762.7" cy="394.3" r="2.35"/><circle cx="755.4" cy="397.3" r="2.35"/><circle cx="764.5" cy="395.2" r="2.35"/><circle cx="769.4" cy="392.7" r="2.35"/><circle cx="753.9" cy="398.5" r="2.35"/><circle cx="756.9" cy="393.4" r="2.35"/><circle cx="765.1" cy="392.3" r="2.35"/><circle cx="767.8" cy="394.3" r="2.35"/><circle cx="765.3" cy="394.9" r="2.35"/><circle cx="760.1" cy="394.4" r="2.35"/><circle cx="767.2" cy="394.7" r="2.35"/><circle cx="751.1" cy="399.6" r="2.35"/><circle cx="765.8" cy="394.3" r="2.35"/><circle cx="757.9" cy="395.5" r="2.35"/><circle cx="752.6" cy="398.5" r="2.35"/><circle cx="766.3" cy="398.3" r="2.35"/><circle cx="752.0" cy="395.4" r="2.35"/><circle cx="762.7" cy="392.6" r="2.35"/><circle cx="765.2" cy="394.5" r="2.35"/><circle cx="748.0" cy="395.4" r="2.35"/><circle cx="768.7" cy="394.6" r="2.35"/><circle cx="754.8" cy="393.3" r="2.35"/><circle cx="756.2" cy="393.1" r="2.35"/><circle cx="748.5" cy="397.5" r="2.35"/><circle cx="381.3" cy="405.0" r="2.35"/><circle cx="386.3" cy="405.9" r="2.35"/><circle cx="388.9" cy="409.3" r="2.35"/><circle cx="377.8" cy="417.4" r="2.35"/><circle cx="379.7" cy="417.6" r="2.35"/><circle cx="380.1" cy="417.4" r="2.35"/><circle cx="382.6" cy="417.4" r="2.35"/><circle cx="383.0" cy="416.7" r="2.35"/><circle cx="384.7" cy="417.4" r="2.35"/><circle cx="386.1" cy="418.0" r="2.35"/><circle cx="386.6" cy="416.8" r="2.35"/><circle cx="388.3" cy="416.5" r="2.35"/><circle cx="391.6" cy="417.8" r="2.35"/><circle cx="391.9" cy="416.9" r="2.35"/><circle cx="393.2" cy="415.4" r="2.35"/><circle cx="394.2" cy="416.7" r="2.35"/><circle cx="397.1" cy="417.1" r="2.35"/><circle cx="399.0" cy="415.5" r="2.35"/><circle cx="398.9" cy="416.7" r="2.35"/><circle cx="400.8" cy="416.7" r="2.35"/><circle cx="376.3" cy="426.5" r="2.35"/><circle cx="377.4" cy="425.8" r="2.35"/><circle cx="379.8" cy="425.5" r="2.35"/><circle cx="380.8" cy="425.8" r="2.35"/><circle cx="382.9" cy="425.4" r="2.35"/><circle cx="384.1" cy="425.3" r="2.35"/><circle cx="385.4" cy="425.4" r="2.35"/><circle cx="386.6" cy="425.8" r="2.35"/><circle cx="388.4" cy="425.7" r="2.35"/><circle cx="390.5" cy="424.9" r="2.35"/><circle cx="392.0" cy="425.9" r="2.35"/><circle cx="393.0" cy="424.7" r="2.35"/><circle cx="371.2" cy="422.7" r="2.35"/><circle cx="390.5" cy="429.4" r="2.35"/><circle cx="349.9" cy="437.4" r="2.35"/><circle cx="351.3" cy="437.4" r="2.35"/><circle cx="353.3" cy="437.0" r="2.35"/><circle cx="355.3" cy="437.2" r="2.35"/><circle cx="356.0" cy="436.5" r="2.35"/><circle cx="357.9" cy="437.2" r="2.35"/><circle cx="359.8" cy="436.8" r="2.35"/><circle cx="361.0" cy="435.9" r="2.35"/><circle cx="362.3" cy="436.9" r="2.35"/><circle cx="363.6" cy="436.5" r="2.35"/><circle cx="365.7" cy="436.1" r="2.35"/><circle cx="367.0" cy="435.6" r="2.35"/><circle cx="368.9" cy="435.7" r="2.35"/><circle cx="370.1" cy="434.7" r="2.35"/><circle cx="371.6" cy="434.8" r="2.35"/><circle cx="372.7" cy="434.9" r="2.35"/><circle cx="374.6" cy="435.3" r="2.35"/><circle cx="376.0" cy="434.9" r="2.35"/><circle cx="351.8" cy="442.9" r="2.35"/><circle cx="368.7" cy="445.1" r="2.35"/><circle cx="372.9" cy="440.4" r="2.35"/><circle cx="386.0" cy="450.1" r="2.35"/><circle cx="393.9" cy="448.8" r="2.35"/><circle cx="413.2" cy="411.8" r="2.35"/><circle cx="428.0" cy="404.8" r="2.35"/><circle cx="429.9" cy="404.1" r="2.35"/><circle cx="431.3" cy="404.8" r="2.35"/><circle cx="433.9" cy="404.1" r="2.35"/><circle cx="434.7" cy="405.1" r="2.35"/><circle cx="437.0" cy="404.9" r="2.35"/><circle cx="438.5" cy="404.4" r="2.35"/><circle cx="440.2" cy="404.2" r="2.35"/><circle cx="442.3" cy="404.1" r="2.35"/><circle cx="447.7" cy="403.4" r="2.35"/><circle cx="450.2" cy="404.7" r="2.35"/><circle cx="440.2" cy="413.5" r="2.35"/><circle cx="446.0" cy="419.3" r="2.35"/><circle cx="449.4" cy="424.9" r="2.35"/><circle cx="438.5" cy="426.1" r="2.35"/><circle cx="433.1" cy="426.9" r="2.35"/><circle cx="436.8" cy="432.8" r="2.35"/><circle cx="444.0" cy="440.9" r="2.35"/><circle cx="456.1" cy="444.6" r="2.35"/><circle cx="456.1" cy="415.1" r="2.35"/><circle cx="456.1" cy="420.2" r="2.35"/><circle cx="457.8" cy="423.5" r="2.35"/><circle cx="455.3" cy="429.4" r="2.35"/><circle cx="463.7" cy="411.8" r="2.35"/><circle cx="464.5" cy="416.8" r="2.35"/><circle cx="468.8" cy="424.4" r="2.35"/><circle cx="472.1" cy="418.5" r="2.35"/><circle cx="476.3" cy="423.5" r="2.35"/><circle cx="479.7" cy="430.3" r="2.35"/><circle cx="466.2" cy="430.3" r="2.35"/><circle cx="467.1" cy="434.5" r="2.35"/><circle cx="472.1" cy="434.5" r="2.35"/><circle cx="463.7" cy="432.8" r="2.35"/><circle cx="485.9" cy="437.9" r="2.35"/><circle cx="488.0" cy="438.1" r="2.35"/><circle cx="490.9" cy="438.6" r="2.35"/><circle cx="492.3" cy="443.7" r="2.35"/><circle cx="495.7" cy="443.7" r="2.35"/><circle cx="499.9" cy="443.4" r="2.35"/><circle cx="503.2" cy="444.6" r="2.35"/><circle cx="498.7" cy="428.6" r="2.35"/><circle cx="509.1" cy="426.1" r="2.35"/><circle cx="510.8" cy="432.0" r="2.35"/><circle cx="510.0" cy="439.5" r="2.35"/><circle cx="438.9" cy="458.3" r="2.35"/><circle cx="441.0" cy="457.5" r="2.35"/><circle cx="441.7" cy="457.5" r="2.35"/><circle cx="442.6" cy="457.4" r="2.35"/><circle cx="443.1" cy="458.7" r="2.35"/><circle cx="446.2" cy="457.9" r="2.35"/><circle cx="446.0" cy="457.3" r="2.35"/><circle cx="449.1" cy="455.8" r="2.35"/><circle cx="449.1" cy="456.6" r="2.35"/><circle cx="451.4" cy="455.5" r="2.35"/><circle cx="454.1" cy="456.4" r="2.35"/><circle cx="453.8" cy="455.8" r="2.35"/><circle cx="454.8" cy="454.3" r="2.35"/><circle cx="456.2" cy="454.9" r="2.35"/><circle cx="458.1" cy="454.2" r="2.35"/><circle cx="459.9" cy="453.2" r="2.35"/><circle cx="467.4" cy="451.8" r="2.35"/><circle cx="468.8" cy="451.8" r="2.35"/><circle cx="470.7" cy="450.8" r="2.35"/><circle cx="471.3" cy="451.0" r="2.35"/><circle cx="473.2" cy="450.6" r="2.35"/><circle cx="474.6" cy="449.3" r="2.35"/><circle cx="476.9" cy="449.6" r="2.35"/><circle cx="478.6" cy="449.4" r="2.35"/><circle cx="469.6" cy="460.6" r="2.35"/><circle cx="480.5" cy="458.5" r="2.35"/><circle cx="485.6" cy="456.9" r="2.35"/><circle cx="439.3" cy="462.2" r="2.35"/><circle cx="381.3" cy="482.4" r="2.35"/><circle cx="385.5" cy="485.4" r="2.35"/><circle cx="372.5" cy="490.0" r="2.35"/><circle cx="407.4" cy="490.0" r="2.35"/><circle cx="420.5" cy="487.8" r="2.35"/><circle cx="410.0" cy="499.9" r="2.35"/><circle cx="411.6" cy="499.7" r="2.35"/><circle cx="414.3" cy="500.1" r="2.35"/><circle cx="414.5" cy="499.5" r="2.35"/><circle cx="416.3" cy="499.5" r="2.35"/><circle cx="418.9" cy="496.8" r="2.35"/><circle cx="419.7" cy="496.3" r="2.35"/><circle cx="421.9" cy="497.6" r="2.35"/><circle cx="423.1" cy="496.5" r="2.35"/><circle cx="428.4" cy="497.2" r="2.35"/><circle cx="410.8" cy="513.2" r="2.35"/><circle cx="414.3" cy="512.6" r="2.35"/><circle cx="415.4" cy="512.3" r="2.35"/><circle cx="417.0" cy="512.8" r="2.35"/><circle cx="418.5" cy="512.1" r="2.35"/><circle cx="418.9" cy="509.6" r="2.35"/><circle cx="421.4" cy="510.8" r="2.35"/><circle cx="422.1" cy="509.0" r="2.35"/><circle cx="424.2" cy="509.7" r="2.35"/><circle cx="424.4" cy="508.8" r="2.35"/><circle cx="427.6" cy="507.9" r="2.35"/><circle cx="429.1" cy="507.0" r="2.35"/><circle cx="416.6" cy="516.1" r="2.35"/><circle cx="420.8" cy="517.7" r="2.35"/><circle cx="425.9" cy="516.1" r="2.35"/><circle cx="399.8" cy="506.0" r="2.35"/><circle cx="404.8" cy="509.3" r="2.35"/><circle cx="406.5" cy="512.7" r="2.35"/><circle cx="379.3" cy="511.9" r="2.35"/><circle cx="437.6" cy="492.2" r="2.35"/><circle cx="445.2" cy="484.4" r="2.35"/><circle cx="451.9" cy="488.3" r="2.35"/><circle cx="453.6" cy="495.0" r="2.35"/><circle cx="462.9" cy="482.4" r="2.35"/><circle cx="462.9" cy="489.5" r="2.35"/><circle cx="465.7" cy="498.4" r="2.35"/><circle cx="473.0" cy="483.3" r="2.35"/><circle cx="474.6" cy="492.9" r="2.35"/><circle cx="478.0" cy="477.4" r="2.35"/><circle cx="483.9" cy="477.4" r="2.35"/><circle cx="488.9" cy="480.7" r="2.35"/><circle cx="483.9" cy="490.8" r="2.35"/><circle cx="487.3" cy="489.2" r="2.35"/><circle cx="439.8" cy="502.6" r="2.35"/><circle cx="446.0" cy="511.0" r="2.35"/><circle cx="452.8" cy="506.8" r="2.35"/><circle cx="508.4" cy="489.9" r="2.35"/><circle cx="512.5" cy="496.0" r="2.35"/><circle cx="502.1" cy="502.8" r="2.35"/><circle cx="507.5" cy="483.8" r="2.35"/><circle cx="498.5" cy="495.1" r="2.35"/><circle cx="502.3" cy="485.2" r="2.35"/><circle cx="503.0" cy="477.8" r="2.35"/><circle cx="506.8" cy="504.9" r="2.35"/><circle cx="497.7" cy="485.7" r="2.35"/><circle cx="498.5" cy="485.7" r="2.35"/><circle cx="510.7" cy="497.4" r="2.35"/><circle cx="506.9" cy="507.7" r="2.35"/><circle cx="506.6" cy="485.8" r="2.35"/><circle cx="508.5" cy="504.9" r="2.35"/><circle cx="504.9" cy="501.3" r="2.35"/><circle cx="509.3" cy="487.7" r="2.35"/><circle cx="502.8" cy="497.3" r="2.35"/><circle cx="504.9" cy="491.1" r="2.35"/><circle cx="495.1" cy="480.7" r="2.35"/><circle cx="502.2" cy="478.0" r="2.35"/><circle cx="503.7" cy="485.1" r="2.35"/><circle cx="496.6" cy="481.2" r="2.35"/><circle cx="501.4" cy="483.9" r="2.35"/><circle cx="501.7" cy="498.5" r="2.35"/><circle cx="501.0" cy="488.9" r="2.35"/><circle cx="501.2" cy="493.8" r="2.35"/><circle cx="511.9" cy="499.5" r="2.35"/><circle cx="502.4" cy="487.7" r="2.35"/><circle cx="505.0" cy="504.7" r="2.35"/><circle cx="496.9" cy="485.4" r="2.35"/><circle cx="505.2" cy="491.1" r="2.35"/><circle cx="493.0" cy="480.6" r="2.35"/><circle cx="496.4" cy="490.6" r="2.35"/><circle cx="506.6" cy="519.4" r="2.35"/><circle cx="512.5" cy="524.5" r="2.35"/><circle cx="445.4" cy="530.4" r="2.35"/><circle cx="445.0" cy="530.0" r="2.35"/><circle cx="446.6" cy="528.1" r="2.35"/><circle cx="448.8" cy="525.8" r="2.35"/><circle cx="448.4" cy="527.2" r="2.35"/><circle cx="449.8" cy="526.0" r="2.35"/><circle cx="451.6" cy="523.9" r="2.35"/><circle cx="454.4" cy="524.1" r="2.35"/><circle cx="453.0" cy="522.1" r="2.35"/><circle cx="454.7" cy="523.3" r="2.35"/><circle cx="457.1" cy="520.3" r="2.35"/><circle cx="457.7" cy="519.1" r="2.35"/><circle cx="457.7" cy="519.5" r="2.35"/><circle cx="460.2" cy="518.1" r="2.35"/><circle cx="462.7" cy="518.6" r="2.35"/><circle cx="464.0" cy="517.4" r="2.35"/><circle cx="465.4" cy="517.1" r="2.35"/><circle cx="465.1" cy="515.9" r="2.35"/><circle cx="434.3" cy="527.8" r="2.35"/><circle cx="438.5" cy="525.3" r="2.35"/><circle cx="435.1" cy="534.6" r="2.35"/><circle cx="440.2" cy="532.9" r="2.35"/><circle cx="446.0" cy="534.6" r="2.35"/><circle cx="455.3" cy="536.2" r="2.35"/><circle cx="460.3" cy="532.0" r="2.35"/><circle cx="464.5" cy="529.5" r="2.35"/><circle cx="471.3" cy="523.6" r="2.35"/><circle cx="495.7" cy="529.5" r="2.35"/><circle cx="393.9" cy="529.5" r="2.35"/><circle cx="400.6" cy="524.5" r="2.35"/><circle cx="396.4" cy="532.9" r="2.35"/><circle cx="390.2" cy="539.9" r="2.35"/><circle cx="391.9" cy="539.5" r="2.35"/><circle cx="394.2" cy="538.6" r="2.35"/><circle cx="396.7" cy="537.4" r="2.35"/><circle cx="405.7" cy="543.0" r="2.35"/><circle cx="414.9" cy="536.2" r="2.35"/><circle cx="414.1" cy="542.1" r="2.35"/><circle cx="431.7" cy="544.7" r="2.35"/><circle cx="435.1" cy="548.0" r="2.35"/><circle cx="445.2" cy="548.0" r="2.35"/><circle cx="451.9" cy="544.7" r="2.35"/><circle cx="475.5" cy="540.5" r="2.35"/><circle cx="474.6" cy="546.3" r="2.35"/><circle cx="467.9" cy="548.0" r="2.35"/><circle cx="500.7" cy="548.0" r="2.35"/><circle cx="447.1" cy="547.0" r="2.35"/><circle cx="448.0" cy="546.1" r="2.35"/><circle cx="450.5" cy="544.7" r="2.35"/><circle cx="452.2" cy="544.5" r="2.35"/><circle cx="453.3" cy="543.5" r="2.35"/><circle cx="545.1" cy="426.9" r="2.35"/><circle cx="575.9" cy="448.4" r="2.35"/><circle cx="660.8" cy="442.4" r="2.35"/><circle cx="679.7" cy="434.0" r="2.35"/><circle cx="525.8" cy="476.5" r="2.35"/><circle cx="528.3" cy="479.9" r="2.35"/><circle cx="534.2" cy="474.0" r="2.35"/><circle cx="533.3" cy="499.2" r="2.35"/><circle cx="561.1" cy="499.2" r="2.35"/><circle cx="558.6" cy="504.0" r="2.35"/><circle cx="517.0" cy="504.8" r="2.35"/><circle cx="521.4" cy="502.0" r="2.35"/><circle cx="519.7" cy="511.4" r="2.35"/><circle cx="517.3" cy="498.2" r="2.35"/><circle cx="524.5" cy="512.1" r="2.35"/><circle cx="516.6" cy="504.4" r="2.35"/><circle cx="516.7" cy="508.5" r="2.35"/><circle cx="525.5" cy="511.2" r="2.35"/><circle cx="524.3" cy="510.8" r="2.35"/><circle cx="518.5" cy="502.6" r="2.35"/><circle cx="515.3" cy="512.7" r="2.35"/><circle cx="517.5" cy="497.2" r="2.35"/><circle cx="519.2" cy="516.9" r="2.35"/><circle cx="514.0" cy="525.3" r="2.35"/><circle cx="524.1" cy="522.8" r="2.35"/><circle cx="525.8" cy="539.6" r="2.35"/><circle cx="535.9" cy="517.7" r="2.35"/><circle cx="551.8" cy="537.1" r="2.35"/><circle cx="589.1" cy="525.0" r="2.35"/><circle cx="580.0" cy="539.4" r="2.35"/><circle cx="588.4" cy="513.7" r="2.35"/><circle cx="589.1" cy="540.8" r="2.35"/><circle cx="581.5" cy="547.5" r="2.35"/><circle cx="587.4" cy="549.8" r="2.35"/><circle cx="583.3" cy="534.3" r="2.35"/><circle cx="588.0" cy="513.7" r="2.35"/><circle cx="583.9" cy="511.2" r="2.35"/><circle cx="592.8" cy="548.5" r="2.35"/><circle cx="581.2" cy="526.4" r="2.35"/><circle cx="588.4" cy="530.9" r="2.35"/><circle cx="588.2" cy="535.6" r="2.35"/><circle cx="585.1" cy="507.8" r="2.35"/><circle cx="589.9" cy="549.7" r="2.35"/><circle cx="593.0" cy="548.5" r="2.35"/><circle cx="583.5" cy="539.8" r="2.35"/><circle cx="589.7" cy="508.7" r="2.35"/><circle cx="587.1" cy="516.3" r="2.35"/><circle cx="590.3" cy="517.7" r="2.35"/><circle cx="587.8" cy="531.2" r="2.35"/><circle cx="587.7" cy="546.0" r="2.35"/><circle cx="581.0" cy="537.3" r="2.35"/><circle cx="587.6" cy="511.7" r="2.35"/><circle cx="592.8" cy="521.4" r="2.35"/><circle cx="589.0" cy="518.5" r="2.35"/><circle cx="580.6" cy="542.9" r="2.35"/><circle cx="580.8" cy="538.2" r="2.35"/><circle cx="593.1" cy="516.2" r="2.35"/><circle cx="582.0" cy="522.2" r="2.35"/><circle cx="579.7" cy="549.9" r="2.35"/><circle cx="583.3" cy="514.7" r="2.35"/><circle cx="578.6" cy="550.0" r="2.35"/><circle cx="588.9" cy="510.1" r="2.35"/><circle cx="581.0" cy="525.7" r="2.35"/><circle cx="583.0" cy="543.0" r="2.35"/><circle cx="591.0" cy="517.1" r="2.35"/><circle cx="581.7" cy="518.7" r="2.35"/><circle cx="583.6" cy="517.2" r="2.35"/><circle cx="582.8" cy="535.8" r="2.35"/><circle cx="585.4" cy="545.9" r="2.35"/><circle cx="591.4" cy="527.2" r="2.35"/><circle cx="586.8" cy="528.7" r="2.35"/><circle cx="593.4" cy="524.5" r="2.35"/><circle cx="587.0" cy="513.8" r="2.35"/><circle cx="592.8" cy="541.0" r="2.35"/><circle cx="604.2" cy="540.9" r="2.35"/><circle cx="600.1" cy="542.9" r="2.35"/><circle cx="599.2" cy="509.0" r="2.35"/><circle cx="604.2" cy="539.6" r="2.35"/><circle cx="603.2" cy="530.8" r="2.35"/><circle cx="603.7" cy="510.0" r="2.35"/><circle cx="602.5" cy="544.4" r="2.35"/><circle cx="596.3" cy="519.8" r="2.35"/><circle cx="602.7" cy="525.0" r="2.35"/><circle cx="605.4" cy="514.7" r="2.35"/><circle cx="603.8" cy="529.2" r="2.35"/><circle cx="605.9" cy="534.8" r="2.35"/><circle cx="605.2" cy="520.2" r="2.35"/><circle cx="608.1" cy="523.0" r="2.35"/><circle cx="604.2" cy="522.2" r="2.35"/><circle cx="606.6" cy="538.7" r="2.35"/><circle cx="602.6" cy="547.2" r="2.35"/><circle cx="608.1" cy="523.3" r="2.35"/><circle cx="599.4" cy="522.2" r="2.35"/><circle cx="599.2" cy="520.7" r="2.35"/><circle cx="596.6" cy="540.4" r="2.35"/><circle cx="600.0" cy="544.2" r="2.35"/><circle cx="596.0" cy="521.7" r="2.35"/><circle cx="607.9" cy="544.5" r="2.35"/><circle cx="608.2" cy="548.8" r="2.35"/><circle cx="607.3" cy="535.0" r="2.35"/><circle cx="609.2" cy="513.9" r="2.35"/><circle cx="601.6" cy="532.2" r="2.35"/><circle cx="606.0" cy="532.6" r="2.35"/><circle cx="597.6" cy="544.7" r="2.35"/><circle cx="602.2" cy="535.2" r="2.35"/><circle cx="594.9" cy="549.5" r="2.35"/><circle cx="595.1" cy="549.5" r="2.35"/><circle cx="604.1" cy="527.9" r="2.35"/><circle cx="604.3" cy="528.1" r="2.35"/><circle cx="607.7" cy="542.2" r="2.35"/><circle cx="595.9" cy="526.8" r="2.35"/><circle cx="599.4" cy="540.9" r="2.35"/><circle cx="600.1" cy="523.2" r="2.35"/><circle cx="608.2" cy="531.4" r="2.35"/><circle cx="600.5" cy="518.6" r="2.35"/><circle cx="596.2" cy="517.7" r="2.35"/><circle cx="597.9" cy="539.6" r="2.35"/><circle cx="608.7" cy="524.0" r="2.35"/><circle cx="597.2" cy="510.1" r="2.35"/><circle cx="608.2" cy="545.1" r="2.35"/><circle cx="698.3" cy="471.2" r="2.35"/><circle cx="698.5" cy="471.3" r="2.35"/><circle cx="699.3" cy="472.7" r="2.35"/><circle cx="700.1" cy="473.6" r="2.35"/><circle cx="703.1" cy="474.8" r="2.35"/><circle cx="703.2" cy="475.8" r="2.35"/><circle cx="704.3" cy="477.8" r="2.35"/><circle cx="705.9" cy="478.5" r="2.35"/><circle cx="707.7" cy="479.5" r="2.35"/><circle cx="708.3" cy="480.8" r="2.35"/><circle cx="708.8" cy="481.3" r="2.35"/><circle cx="709.6" cy="482.9" r="2.35"/><circle cx="712.1" cy="483.0" r="2.35"/><circle cx="712.8" cy="485.2" r="2.35"/><circle cx="693.1" cy="479.1" r="2.35"/><circle cx="699.0" cy="483.3" r="2.35"/><circle cx="709.1" cy="479.9" r="2.35"/><circle cx="757.6" cy="401.9" r="2.35"/><circle cx="773.5" cy="401.7" r="2.35"/><circle cx="750.8" cy="400.7" r="2.35"/><circle cx="751.0" cy="401.2" r="2.35"/><circle cx="750.3" cy="402.5" r="2.35"/><circle cx="753.4" cy="400.0" r="2.35"/><circle cx="749.9" cy="400.1" r="2.35"/><circle cx="772.1" cy="400.1" r="2.35"/><circle cx="759.1" cy="402.8" r="2.35"/><circle cx="772.2" cy="400.9" r="2.35"/><circle cx="748.9" cy="402.9" r="2.35"/><circle cx="767.1" cy="403.1" r="2.35"/><circle cx="768.3" cy="402.5" r="2.35"/><circle cx="766.2" cy="402.3" r="2.35"/><circle cx="766.3" cy="400.4" r="2.35"/><circle cx="755.6" cy="402.4" r="2.35"/><circle cx="775.2" cy="400.5" r="2.35"/><circle cx="753.9" cy="401.1" r="2.35"/><circle cx="764.6" cy="403.0" r="2.35"/><circle cx="753.0" cy="403.2" r="2.35"/><circle cx="762.3" cy="400.2" r="2.35"/><circle cx="763.3" cy="401.2" r="2.35"/><circle cx="759.9" cy="403.0" r="2.35"/><circle cx="749.4" cy="401.0" r="2.35"/><circle cx="764.1" cy="401.2" r="2.35"/><circle cx="762.6" cy="402.3" r="2.35"/><circle cx="761.7" cy="400.3" r="2.35"/><circle cx="764.3" cy="400.2" r="2.35"/><circle cx="783.0" cy="401.7" r="2.35"/><circle cx="801.5" cy="401.7" r="2.35"/><circle cx="806.5" cy="401.7" r="2.35"/><circle cx="862.0" cy="401.7" r="2.35"/><circle cx="865.4" cy="401.7" r="2.35"/><circle cx="881.4" cy="401.7" r="2.35"/><circle cx="876.3" cy="405.9" r="2.35"/><circle cx="856.6" cy="422.4" r="2.35"/><circle cx="845.2" cy="429.4" r="2.35"/><circle cx="851.9" cy="451.8" r="2.35"/><circle cx="856.0" cy="414.6" r="2.35"/><circle cx="857.4" cy="413.1" r="2.35"/><circle cx="858.8" cy="412.0" r="2.35"/><circle cx="860.8" cy="411.4" r="2.35"/><circle cx="862.5" cy="410.4" r="2.35"/><circle cx="863.2" cy="410.2" r="2.35"/><circle cx="775.6" cy="412.0" r="2.35"/><circle cx="795.4" cy="419.2" r="2.35"/><circle cx="783.3" cy="412.7" r="2.35"/><circle cx="768.7" cy="416.3" r="2.35"/><circle cx="770.1" cy="411.5" r="2.35"/><circle cx="798.5" cy="414.8" r="2.35"/><circle cx="782.9" cy="414.9" r="2.35"/><circle cx="764.2" cy="412.9" r="2.35"/><circle cx="765.8" cy="411.8" r="2.35"/><circle cx="802.3" cy="411.2" r="2.35"/><circle cx="800.6" cy="410.8" r="2.35"/><circle cx="784.0" cy="416.8" r="2.35"/><circle cx="783.7" cy="411.4" r="2.35"/><circle cx="790.4" cy="412.5" r="2.35"/><circle cx="752.1" cy="415.0" r="2.35"/><circle cx="801.5" cy="411.0" r="2.35"/><circle cx="786.6" cy="411.9" r="2.35"/><circle cx="801.4" cy="412.3" r="2.35"/><circle cx="792.7" cy="412.1" r="2.35"/><circle cx="762.7" cy="416.5" r="2.35"/><circle cx="778.2" cy="415.2" r="2.35"/><circle cx="794.1" cy="417.4" r="2.35"/><circle cx="786.4" cy="409.1" r="2.35"/><circle cx="780.3" cy="410.6" r="2.35"/><circle cx="778.0" cy="410.6" r="2.35"/><circle cx="766.1" cy="413.8" r="2.35"/><circle cx="775.0" cy="412.8" r="2.35"/><circle cx="775.9" cy="409.5" r="2.35"/><circle cx="778.9" cy="409.6" r="2.35"/><circle cx="787.9" cy="417.5" r="2.35"/><circle cx="771.5" cy="411.0" r="2.35"/><circle cx="778.6" cy="412.5" r="2.35"/><circle cx="781.0" cy="412.6" r="2.35"/><circle cx="765.1" cy="412.3" r="2.35"/><circle cx="795.3" cy="419.9" r="2.35"/><circle cx="794.9" cy="419.2" r="2.35"/><circle cx="788.5" cy="416.6" r="2.35"/><circle cx="780.8" cy="414.6" r="2.35"/><circle cx="768.7" cy="415.0" r="2.35"/><circle cx="792.6" cy="418.8" r="2.35"/><circle cx="796.1" cy="420.8" r="2.35"/><circle cx="777.7" cy="410.5" r="2.35"/><circle cx="794.6" cy="418.5" r="2.35"/><circle cx="769.0" cy="413.2" r="2.35"/><circle cx="801.0" cy="415.2" r="2.35"/><circle cx="789.2" cy="410.6" r="2.35"/><circle cx="792.9" cy="414.3" r="2.35"/><circle cx="758.6" cy="413.1" r="2.35"/><circle cx="766.3" cy="412.1" r="2.35"/><circle cx="770.3" cy="414.9" r="2.35"/><circle cx="763.9" cy="411.7" r="2.35"/><circle cx="754.5" cy="413.6" r="2.35"/><circle cx="804.1" cy="411.8" r="2.35"/><circle cx="767.4" cy="410.4" r="2.35"/><circle cx="790.7" cy="418.9" r="2.35"/><circle cx="791.3" cy="415.0" r="2.35"/><circle cx="800.1" cy="417.3" r="2.35"/><circle cx="784.1" cy="416.2" r="2.35"/><circle cx="774.0" cy="412.4" r="2.35"/><circle cx="801.6" cy="418.3" r="2.35"/><circle cx="800.0" cy="410.7" r="2.35"/><circle cx="788.4" cy="412.0" r="2.35"/><circle cx="761.2" cy="413.5" r="2.35"/><circle cx="797.6" cy="410.4" r="2.35"/><circle cx="797.8" cy="418.2" r="2.35"/><circle cx="767.1" cy="411.6" r="2.35"/><circle cx="767.5" cy="414.2" r="2.35"/><circle cx="798.1" cy="412.3" r="2.35"/><circle cx="781.9" cy="412.5" r="2.35"/><circle cx="784.4" cy="410.4" r="2.35"/><circle cx="785.3" cy="418.1" r="2.35"/><circle cx="801.1" cy="411.0" r="2.35"/><circle cx="785.0" cy="410.7" r="2.35"/><circle cx="788.3" cy="414.6" r="2.35"/><circle cx="800.6" cy="415.2" r="2.35"/><circle cx="798.4" cy="413.4" r="2.35"/><circle cx="766.7" cy="411.2" r="2.35"/><circle cx="762.9" cy="416.2" r="2.35"/><circle cx="799.5" cy="414.5" r="2.35"/><circle cx="791.3" cy="410.5" r="2.35"/><circle cx="783.6" cy="416.5" r="2.35"/><circle cx="779.9" cy="416.4" r="2.35"/><circle cx="801.2" cy="415.8" r="2.35"/><circle cx="773.6" cy="409.2" r="2.35"/><circle cx="790.7" cy="411.2" r="2.35"/><circle cx="781.9" cy="412.8" r="2.35"/><circle cx="797.3" cy="410.9" r="2.35"/><circle cx="769.5" cy="416.2" r="2.35"/><circle cx="765.3" cy="414.7" r="2.35"/><circle cx="786.9" cy="417.6" r="2.35"/><circle cx="769.0" cy="413.9" r="2.35"/><circle cx="796.4" cy="417.2" r="2.35"/><circle cx="796.7" cy="419.4" r="2.35"/><circle cx="783.1" cy="412.9" r="2.35"/><circle cx="803.3" cy="419.9" r="2.35"/><circle cx="791.4" cy="411.1" r="2.35"/><circle cx="787.8" cy="414.0" r="2.35"/><circle cx="759.5" cy="412.6" r="2.35"/><circle cx="769.8" cy="415.8" r="2.35"/><circle cx="790.6" cy="419.2" r="2.35"/><circle cx="797.4" cy="414.7" r="2.35"/><circle cx="790.8" cy="410.5" r="2.35"/><circle cx="773.9" cy="411.4" r="2.35"/><circle cx="789.3" cy="419.0" r="2.35"/><circle cx="778.4" cy="409.8" r="2.35"/><circle cx="784.8" cy="410.5" r="2.35"/><circle cx="799.3" cy="414.5" r="2.35"/><circle cx="798.6" cy="410.8" r="2.35"/><circle cx="794.0" cy="411.3" r="2.35"/><circle cx="798.2" cy="411.6" r="2.35"/><circle cx="783.0" cy="416.5" r="2.35"/><circle cx="760.0" cy="416.1" r="2.35"/><circle cx="778.5" cy="409.2" r="2.35"/><circle cx="767.8" cy="413.4" r="2.35"/><circle cx="774.4" cy="415.8" r="2.35"/><circle cx="789.6" cy="419.1" r="2.35"/><circle cx="761.0" cy="414.5" r="2.35"/><circle cx="780.8" cy="414.2" r="2.35"/><circle cx="802.4" cy="417.0" r="2.35"/><circle cx="800.0" cy="410.5" r="2.35"/><circle cx="768.5" cy="411.8" r="2.35"/><circle cx="775.4" cy="411.3" r="2.35"/><circle cx="768.6" cy="412.0" r="2.35"/><circle cx="774.2" cy="411.3" r="2.35"/><circle cx="797.3" cy="410.3" r="2.35"/><circle cx="767.3" cy="411.8" r="2.35"/><circle cx="775.5" cy="416.2" r="2.35"/><circle cx="784.5" cy="411.8" r="2.35"/><circle cx="790.0" cy="410.4" r="2.35"/><circle cx="764.6" cy="414.5" r="2.35"/><circle cx="793.3" cy="419.9" r="2.35"/><circle cx="799.3" cy="411.1" r="2.35"/><circle cx="799.3" cy="411.0" r="2.35"/><circle cx="778.0" cy="413.5" r="2.35"/><circle cx="801.5" cy="414.6" r="2.35"/><circle cx="801.1" cy="419.3" r="2.35"/><circle cx="772.0" cy="410.7" r="2.35"/><circle cx="749.3" cy="410.9" r="2.35"/><circle cx="759.4" cy="411.8" r="2.35"/><circle cx="769.5" cy="411.8" r="2.35"/><circle cx="780.4" cy="406.7" r="2.35"/><circle cx="789.7" cy="407.6" r="2.35"/><circle cx="811.6" cy="407.6" r="2.35"/><circle cx="818.3" cy="409.3" r="2.35"/><circle cx="823.3" cy="408.4" r="2.35"/><circle cx="811.6" cy="416.8" r="2.35"/><circle cx="816.6" cy="419.3" r="2.35"/><circle cx="822.5" cy="419.3" r="2.35"/><circle cx="757.4" cy="426.1" r="2.35"/><circle cx="761.0" cy="426.5" r="2.35"/><circle cx="762.3" cy="427.6" r="2.35"/><circle cx="762.3" cy="426.8" r="2.35"/><circle cx="763.9" cy="426.3" r="2.35"/><circle cx="765.6" cy="427.8" r="2.35"/><circle cx="767.5" cy="427.5" r="2.35"/><circle cx="768.8" cy="427.8" r="2.35"/><circle cx="770.6" cy="426.8" r="2.35"/><circle cx="770.9" cy="427.3" r="2.35"/><circle cx="773.9" cy="428.5" r="2.35"/><circle cx="774.9" cy="428.7" r="2.35"/><circle cx="776.7" cy="428.7" r="2.35"/><circle cx="778.1" cy="429.0" r="2.35"/><circle cx="778.8" cy="427.5" r="2.35"/><circle cx="781.1" cy="428.6" r="2.35"/><circle cx="782.4" cy="427.7" r="2.35"/><circle cx="784.3" cy="428.8" r="2.35"/><circle cx="785.1" cy="428.6" r="2.35"/><circle cx="786.2" cy="428.3" r="2.35"/><circle cx="789.3" cy="427.8" r="2.35"/><circle cx="789.6" cy="429.0" r="2.35"/><circle cx="791.1" cy="428.7" r="2.35"/><circle cx="791.6" cy="429.6" r="2.35"/><circle cx="793.0" cy="428.7" r="2.35"/><circle cx="795.3" cy="428.3" r="2.35"/><circle cx="798.0" cy="430.0" r="2.35"/><circle cx="797.4" cy="428.2" r="2.35"/><circle cx="798.9" cy="428.7" r="2.35"/><circle cx="800.7" cy="429.4" r="2.35"/><circle cx="782.2" cy="432.1" r="2.35"/><circle cx="826.1" cy="433.3" r="2.35"/><circle cx="794.7" cy="434.6" r="2.35"/><circle cx="788.9" cy="432.7" r="2.35"/><circle cx="808.3" cy="433.5" r="2.35"/><circle cx="806.0" cy="434.8" r="2.35"/><circle cx="793.1" cy="431.4" r="2.35"/><circle cx="798.2" cy="435.2" r="2.35"/><circle cx="822.0" cy="434.7" r="2.35"/><circle cx="789.7" cy="431.4" r="2.35"/><circle cx="804.6" cy="430.6" r="2.35"/><circle cx="809.0" cy="435.7" r="2.35"/><circle cx="800.9" cy="432.7" r="2.35"/><circle cx="801.1" cy="431.8" r="2.35"/><circle cx="801.5" cy="430.8" r="2.35"/><circle cx="792.8" cy="434.6" r="2.35"/><circle cx="823.9" cy="434.4" r="2.35"/><circle cx="814.8" cy="432.0" r="2.35"/><circle cx="814.1" cy="431.9" r="2.35"/><circle cx="799.4" cy="432.2" r="2.35"/><circle cx="804.5" cy="432.3" r="2.35"/><circle cx="811.9" cy="431.8" r="2.35"/><circle cx="818.0" cy="432.5" r="2.35"/><circle cx="813.1" cy="435.6" r="2.35"/><circle cx="804.3" cy="435.1" r="2.35"/><circle cx="799.5" cy="432.7" r="2.35"/><circle cx="783.6" cy="433.0" r="2.35"/><circle cx="802.3" cy="430.7" r="2.35"/><circle cx="795.0" cy="432.8" r="2.35"/><circle cx="802.6" cy="435.8" r="2.35"/><circle cx="814.6" cy="432.2" r="2.35"/><circle cx="812.3" cy="431.3" r="2.35"/><circle cx="802.5" cy="430.7" r="2.35"/><circle cx="788.0" cy="441.2" r="2.35"/><circle cx="793.1" cy="445.4" r="2.35"/><circle cx="804.8" cy="445.4" r="2.35"/><circle cx="749.2" cy="438.6" r="2.35"/><circle cx="745.5" cy="436.2" r="2.35"/><circle cx="757.8" cy="439.9" r="2.35"/><circle cx="762.0" cy="439.8" r="2.35"/><circle cx="746.2" cy="433.6" r="2.35"/><circle cx="760.6" cy="438.2" r="2.35"/><circle cx="769.7" cy="441.6" r="2.35"/><circle cx="767.3" cy="440.5" r="2.35"/><circle cx="751.8" cy="437.7" r="2.35"/><circle cx="758.5" cy="439.0" r="2.35"/><circle cx="752.2" cy="436.6" r="2.35"/><circle cx="750.9" cy="438.9" r="2.35"/><circle cx="744.9" cy="438.9" r="2.35"/><circle cx="768.1" cy="436.8" r="2.35"/><circle cx="768.2" cy="437.2" r="2.35"/><circle cx="763.0" cy="435.7" r="2.35"/><circle cx="752.2" cy="437.7" r="2.35"/><circle cx="771.0" cy="440.1" r="2.35"/><circle cx="749.5" cy="433.3" r="2.35"/><circle cx="767.2" cy="437.5" r="2.35"/><circle cx="757.0" cy="439.1" r="2.35"/><circle cx="764.0" cy="436.6" r="2.35"/><circle cx="758.5" cy="441.1" r="2.35"/><circle cx="753.6" cy="437.9" r="2.35"/><circle cx="756.3" cy="434.3" r="2.35"/><circle cx="770.8" cy="438.6" r="2.35"/><circle cx="772.1" cy="439.4" r="2.35"/><circle cx="796.5" cy="448.2" r="2.35"/><circle cx="796.6" cy="450.1" r="2.35"/><circle cx="798.6" cy="450.7" r="2.35"/><circle cx="801.2" cy="451.4" r="2.35"/><circle cx="801.8" cy="450.1" r="2.35"/><circle cx="804.2" cy="451.1" r="2.35"/><circle cx="806.5" cy="451.3" r="2.35"/><circle cx="807.5" cy="451.3" r="2.35"/><circle cx="807.4" cy="452.7" r="2.35"/><circle cx="809.7" cy="452.2" r="2.35"/><circle cx="809.6" cy="452.1" r="2.35"/><circle cx="812.0" cy="453.4" r="2.35"/><circle cx="813.6" cy="454.2" r="2.35"/><circle cx="814.8" cy="453.8" r="2.35"/><circle cx="816.0" cy="455.2" r="2.35"/><circle cx="819.6" cy="457.0" r="2.35"/><circle cx="820.9" cy="455.5" r="2.35"/><circle cx="820.6" cy="455.8" r="2.35"/><circle cx="823.7" cy="457.7" r="2.35"/><circle cx="825.4" cy="456.4" r="2.35"/><circle cx="824.0" cy="457.7" r="2.35"/><circle cx="825.7" cy="458.3" r="2.35"/><circle cx="828.7" cy="460.3" r="2.35"/><circle cx="747.6" cy="465.0" r="2.35"/><circle cx="756.8" cy="466.2" r="2.35"/><circle cx="751.3" cy="463.3" r="2.35"/><circle cx="763.9" cy="452.6" r="2.35"/><circle cx="735.9" cy="460.1" r="2.35"/><circle cx="738.9" cy="462.2" r="2.35"/><circle cx="745.1" cy="470.5" r="2.35"/><circle cx="757.4" cy="454.5" r="2.35"/><circle cx="744.9" cy="442.6" r="2.35"/><circle cx="739.6" cy="452.9" r="2.35"/><circle cx="753.1" cy="475.5" r="2.35"/><circle cx="757.9" cy="461.5" r="2.35"/><circle cx="752.8" cy="461.7" r="2.35"/><circle cx="737.7" cy="456.7" r="2.35"/><circle cx="741.5" cy="445.2" r="2.35"/><circle cx="764.3" cy="455.9" r="2.35"/><circle cx="757.7" cy="454.6" r="2.35"/><circle cx="743.2" cy="453.8" r="2.35"/><circle cx="749.6" cy="471.7" r="2.35"/><circle cx="756.5" cy="448.6" r="2.35"/><circle cx="736.6" cy="454.3" r="2.35"/><circle cx="740.9" cy="450.0" r="2.35"/><circle cx="742.9" cy="442.4" r="2.35"/><circle cx="758.9" cy="462.4" r="2.35"/><circle cx="747.4" cy="461.8" r="2.35"/><circle cx="765.7" cy="446.7" r="2.35"/><circle cx="761.3" cy="470.0" r="2.35"/><circle cx="753.7" cy="462.8" r="2.35"/><circle cx="760.1" cy="464.8" r="2.35"/><circle cx="762.8" cy="457.0" r="2.35"/><circle cx="741.0" cy="458.8" r="2.35"/><circle cx="753.9" cy="474.6" r="2.35"/><circle cx="760.5" cy="465.0" r="2.35"/><circle cx="758.5" cy="468.2" r="2.35"/><circle cx="752.3" cy="465.6" r="2.35"/><circle cx="742.2" cy="450.6" r="2.35"/><circle cx="756.0" cy="450.9" r="2.35"/><circle cx="748.8" cy="443.6" r="2.35"/><circle cx="732.8" cy="467.1" r="2.35"/><circle cx="741.5" cy="444.0" r="2.35"/><circle cx="755.4" cy="461.8" r="2.35"/><circle cx="740.0" cy="456.2" r="2.35"/><circle cx="758.9" cy="447.3" r="2.35"/><circle cx="761.5" cy="451.2" r="2.35"/><circle cx="737.1" cy="463.6" r="2.35"/><circle cx="752.8" cy="447.0" r="2.35"/><circle cx="759.2" cy="451.4" r="2.35"/><circle cx="755.7" cy="447.0" r="2.35"/><circle cx="755.6" cy="464.4" r="2.35"/><circle cx="749.9" cy="445.0" r="2.35"/><circle cx="758.0" cy="453.9" r="2.35"/><circle cx="757.6" cy="475.7" r="2.35"/><circle cx="742.5" cy="442.6" r="2.35"/><circle cx="742.0" cy="441.0" r="2.35"/><circle cx="733.1" cy="466.6" r="2.35"/><circle cx="743.1" cy="463.7" r="2.35"/><circle cx="753.2" cy="465.9" r="2.35"/><circle cx="747.7" cy="451.7" r="2.35"/><circle cx="746.7" cy="442.6" r="2.35"/><circle cx="755.8" cy="448.4" r="2.35"/><circle cx="757.5" cy="450.8" r="2.35"/><circle cx="744.3" cy="449.6" r="2.35"/><circle cx="740.4" cy="453.2" r="2.35"/><circle cx="763.9" cy="448.7" r="2.35"/><circle cx="760.3" cy="446.0" r="2.35"/><circle cx="745.6" cy="450.0" r="2.35"/><circle cx="744.6" cy="464.9" r="2.35"/><circle cx="738.0" cy="452.4" r="2.35"/><circle cx="749.8" cy="450.9" r="2.35"/><circle cx="743.6" cy="447.6" r="2.35"/><circle cx="750.0" cy="469.5" r="2.35"/><circle cx="764.1" cy="458.2" r="2.35"/><circle cx="740.1" cy="448.6" r="2.35"/><circle cx="758.7" cy="456.2" r="2.35"/><circle cx="751.2" cy="448.9" r="2.35"/><circle cx="760.5" cy="466.7" r="2.35"/><circle cx="749.9" cy="457.4" r="2.35"/><circle cx="738.7" cy="453.2" r="2.35"/><circle cx="761.4" cy="465.1" r="2.35"/><circle cx="757.7" cy="455.2" r="2.35"/><circle cx="748.3" cy="463.1" r="2.35"/><circle cx="752.8" cy="451.5" r="2.35"/><circle cx="742.7" cy="450.2" r="2.35"/><circle cx="746.5" cy="460.5" r="2.35"/><circle cx="738.6" cy="464.7" r="2.35"/><circle cx="741.9" cy="458.9" r="2.35"/><circle cx="753.7" cy="466.9" r="2.35"/><circle cx="758.4" cy="467.2" r="2.35"/><circle cx="741.7" cy="451.5" r="2.35"/><circle cx="735.3" cy="467.0" r="2.35"/><circle cx="744.7" cy="458.9" r="2.35"/><circle cx="760.4" cy="466.6" r="2.35"/><circle cx="764.0" cy="461.2" r="2.35"/><circle cx="760.2" cy="464.8" r="2.35"/><circle cx="747.3" cy="454.0" r="2.35"/><circle cx="760.6" cy="448.5" r="2.35"/><circle cx="755.6" cy="460.4" r="2.35"/><circle cx="752.4" cy="445.8" r="2.35"/><circle cx="759.6" cy="446.1" r="2.35"/><circle cx="737.6" cy="469.0" r="2.35"/><circle cx="734.4" cy="465.9" r="2.35"/><circle cx="752.5" cy="453.8" r="2.35"/><circle cx="737.6" cy="466.2" r="2.35"/><circle cx="740.8" cy="460.3" r="2.35"/><circle cx="753.8" cy="448.0" r="2.35"/><circle cx="743.4" cy="446.3" r="2.35"/><circle cx="734.5" cy="467.8" r="2.35"/><circle cx="739.8" cy="468.7" r="2.35"/><circle cx="744.1" cy="456.7" r="2.35"/><circle cx="740.5" cy="459.5" r="2.35"/><circle cx="749.3" cy="443.1" r="2.35"/><circle cx="741.5" cy="453.4" r="2.35"/><circle cx="742.3" cy="443.3" r="2.35"/><circle cx="746.3" cy="460.4" r="2.35"/><circle cx="742.5" cy="459.6" r="2.35"/><circle cx="754.1" cy="467.1" r="2.35"/><circle cx="761.1" cy="477.7" r="2.35"/><circle cx="745.9" cy="458.3" r="2.35"/><circle cx="761.0" cy="471.9" r="2.35"/><circle cx="755.4" cy="472.3" r="2.35"/><circle cx="752.4" cy="454.4" r="2.35"/><circle cx="747.4" cy="464.8" r="2.35"/><circle cx="752.7" cy="446.0" r="2.35"/><circle cx="765.5" cy="450.2" r="2.35"/><circle cx="761.3" cy="471.9" r="2.35"/><circle cx="746.2" cy="472.3" r="2.35"/><circle cx="742.9" cy="449.8" r="2.35"/><circle cx="742.2" cy="445.6" r="2.35"/><circle cx="753.1" cy="445.2" r="2.35"/><circle cx="757.8" cy="458.7" r="2.35"/><circle cx="749.2" cy="455.2" r="2.35"/><circle cx="742.7" cy="466.0" r="2.35"/><circle cx="739.9" cy="461.3" r="2.35"/><circle cx="738.4" cy="461.3" r="2.35"/><circle cx="750.1" cy="447.3" r="2.35"/><circle cx="763.4" cy="448.1" r="2.35"/><circle cx="760.8" cy="456.4" r="2.35"/><circle cx="746.3" cy="443.9" r="2.35"/><circle cx="766.1" cy="448.4" r="2.35"/><circle cx="763.7" cy="453.2" r="2.35"/><circle cx="753.8" cy="460.4" r="2.35"/><circle cx="757.1" cy="457.1" r="2.35"/><circle cx="750.7" cy="455.1" r="2.35"/><circle cx="752.6" cy="465.3" r="2.35"/><circle cx="742.7" cy="467.5" r="2.35"/><circle cx="764.5" cy="465.1" r="2.35"/><circle cx="752.9" cy="470.7" r="2.35"/><circle cx="755.5" cy="469.5" r="2.35"/><circle cx="737.6" cy="453.8" r="2.35"/><circle cx="761.5" cy="465.8" r="2.35"/><circle cx="761.4" cy="448.9" r="2.35"/><circle cx="742.7" cy="444.6" r="2.35"/><circle cx="742.4" cy="460.6" r="2.35"/><circle cx="760.4" cy="449.0" r="2.35"/><circle cx="761.4" cy="470.3" r="2.35"/><circle cx="762.1" cy="463.4" r="2.35"/><circle cx="756.2" cy="449.0" r="2.35"/><circle cx="746.8" cy="462.1" r="2.35"/><circle cx="762.8" cy="470.9" r="2.35"/><circle cx="739.3" cy="464.2" r="2.35"/><circle cx="766.3" cy="452.2" r="2.35"/><circle cx="760.1" cy="474.8" r="2.35"/><circle cx="763.6" cy="446.2" r="2.35"/><circle cx="758.2" cy="474.7" r="2.35"/><circle cx="736.3" cy="466.0" r="2.35"/><circle cx="763.5" cy="452.0" r="2.35"/><circle cx="743.8" cy="453.2" r="2.35"/><circle cx="753.4" cy="465.9" r="2.35"/><circle cx="751.7" cy="456.4" r="2.35"/><circle cx="749.1" cy="444.7" r="2.35"/><circle cx="752.1" cy="448.0" r="2.35"/><circle cx="741.4" cy="450.7" r="2.35"/><circle cx="747.4" cy="472.2" r="2.35"/><circle cx="749.4" cy="465.5" r="2.35"/><circle cx="737.4" cy="459.2" r="2.35"/><circle cx="751.6" cy="450.4" r="2.35"/><circle cx="760.7" cy="456.2" r="2.35"/><circle cx="740.0" cy="463.1" r="2.35"/><circle cx="767.0" cy="448.8" r="2.35"/><circle cx="757.7" cy="462.5" r="2.35"/><circle cx="763.0" cy="454.2" r="2.35"/><circle cx="754.3" cy="473.3" r="2.35"/><circle cx="740.7" cy="463.3" r="2.35"/><circle cx="745.3" cy="466.3" r="2.35"/><circle cx="742.4" cy="464.8" r="2.35"/><circle cx="741.8" cy="459.5" r="2.35"/><circle cx="756.2" cy="450.2" r="2.35"/><circle cx="775.4" cy="459.7" r="2.35"/><circle cx="778.8" cy="458.0" r="2.35"/><circle cx="788.0" cy="463.9" r="2.35"/><circle cx="793.1" cy="466.4" r="2.35"/><circle cx="835.1" cy="464.4" r="2.35"/><circle cx="843.2" cy="466.8" r="2.35"/><circle cx="756.5" cy="487.4" r="2.35"/><circle cx="760.0" cy="488.6" r="2.35"/><circle cx="761.3" cy="489.6" r="2.35"/><circle cx="761.3" cy="490.7" r="2.35"/><circle cx="763.3" cy="490.6" r="2.35"/><circle cx="764.5" cy="490.6" r="2.35"/><circle cx="765.6" cy="492.0" r="2.35"/><circle cx="767.8" cy="492.5" r="2.35"/><circle cx="767.8" cy="493.1" r="2.35"/><circle cx="770.3" cy="494.3" r="2.35"/><circle cx="771.7" cy="494.2" r="2.35"/><circle cx="772.8" cy="496.4" r="2.35"/><circle cx="774.4" cy="496.4" r="2.35"/><circle cx="774.2" cy="497.7" r="2.35"/><circle cx="769.5" cy="486.6" r="2.35"/><circle cx="773.7" cy="489.2" r="2.35"/><circle cx="781.3" cy="486.1" r="2.35"/><circle cx="762.8" cy="500.9" r="2.35"/><circle cx="749.3" cy="501.8" r="2.35"/><circle cx="753.5" cy="509.3" r="2.35"/><circle cx="743.4" cy="511.9" r="2.35"/><circle cx="807.4" cy="487.1" r="2.35"/><circle cx="814.9" cy="482.4" r="2.35"/><circle cx="830.1" cy="487.8" r="2.35"/><circle cx="821.7" cy="493.4" r="2.35"/><circle cx="825.0" cy="495.0" r="2.35"/><circle cx="854.5" cy="483.6" r="2.35"/><circle cx="867.4" cy="478.2" r="2.35"/><circle cx="864.5" cy="487.1" r="2.35"/><circle cx="804.8" cy="502.6" r="2.35"/><circle cx="803.2" cy="506.0" r="2.35"/><circle cx="811.2" cy="509.7" r="2.35"/><circle cx="804.8" cy="515.2" r="2.35"/><circle cx="841.5" cy="502.1" r="2.35"/><circle cx="847.2" cy="514.7" r="2.35"/><circle cx="778.2" cy="524.1" r="2.35"/><circle cx="784.6" cy="521.7" r="2.35"/><circle cx="777.2" cy="525.5" r="2.35"/><circle cx="788.4" cy="523.5" r="2.35"/><circle cx="781.5" cy="520.4" r="2.35"/><circle cx="775.5" cy="525.0" r="2.35"/><circle cx="772.7" cy="515.7" r="2.35"/><circle cx="773.3" cy="522.0" r="2.35"/><circle cx="774.7" cy="522.5" r="2.35"/><circle cx="783.9" cy="527.4" r="2.35"/><circle cx="777.9" cy="525.7" r="2.35"/><circle cx="796.4" cy="532.9" r="2.35"/><circle cx="777.1" cy="537.9" r="2.35"/><circle cx="827.5" cy="533.7" r="2.35"/><circle cx="832.6" cy="536.6" r="2.35"/><circle cx="836.8" cy="539.6" r="2.35"/><circle cx="825.0" cy="543.0" r="2.35"/><circle cx="828.4" cy="544.7" r="2.35"/><circle cx="807.0" cy="541.0" r="2.35"/><circle cx="720.7" cy="537.9" r="2.35"/><circle cx="714.0" cy="543.0" r="2.35"/><circle cx="732.5" cy="546.3" r="2.35"/><circle cx="747.6" cy="548.0" r="2.35"/><circle cx="419.0" cy="551.4" r="2.35"/><circle cx="401.1" cy="555.6" r="2.35"/><circle cx="408.3" cy="564.9" r="2.35"/><circle cx="417.0" cy="564.2" r="2.35"/><circle cx="403.5" cy="555.3" r="2.35"/><circle cx="427.9" cy="550.4" r="2.35"/><circle cx="415.9" cy="557.1" r="2.35"/><circle cx="438.1" cy="558.2" r="2.35"/><circle cx="432.3" cy="574.7" r="2.35"/><circle cx="408.8" cy="553.5" r="2.35"/><circle cx="409.5" cy="561.7" r="2.35"/><circle cx="403.4" cy="553.7" r="2.35"/><circle cx="415.2" cy="551.7" r="2.35"/><circle cx="401.5" cy="551.5" r="2.35"/><circle cx="417.9" cy="564.3" r="2.35"/><circle cx="415.8" cy="563.0" r="2.35"/><circle cx="422.3" cy="567.7" r="2.35"/><circle cx="402.1" cy="555.5" r="2.35"/><circle cx="432.9" cy="554.0" r="2.35"/><circle cx="430.4" cy="570.6" r="2.35"/><circle cx="429.3" cy="561.5" r="2.35"/><circle cx="422.2" cy="560.2" r="2.35"/><circle cx="405.2" cy="559.6" r="2.35"/><circle cx="412.8" cy="563.7" r="2.35"/><circle cx="415.8" cy="554.3" r="2.35"/><circle cx="403.6" cy="561.8" r="2.35"/><circle cx="407.6" cy="550.1" r="2.35"/><circle cx="423.5" cy="572.0" r="2.35"/><circle cx="429.4" cy="551.1" r="2.35"/><circle cx="436.9" cy="552.0" r="2.35"/><circle cx="418.0" cy="570.3" r="2.35"/><circle cx="411.2" cy="560.8" r="2.35"/><circle cx="422.3" cy="566.1" r="2.35"/><circle cx="419.9" cy="570.0" r="2.35"/><circle cx="403.4" cy="563.9" r="2.35"/><circle cx="418.4" cy="565.7" r="2.35"/><circle cx="409.8" cy="566.0" r="2.35"/><circle cx="431.9" cy="552.8" r="2.35"/><circle cx="430.1" cy="570.2" r="2.35"/><circle cx="433.2" cy="551.8" r="2.35"/><circle cx="409.4" cy="556.5" r="2.35"/><circle cx="430.8" cy="570.8" r="2.35"/><circle cx="403.1" cy="562.1" r="2.35"/><circle cx="441.3" cy="560.3" r="2.35"/><circle cx="429.3" cy="572.0" r="2.35"/><circle cx="429.2" cy="567.8" r="2.35"/><circle cx="400.0" cy="558.4" r="2.35"/><circle cx="404.7" cy="550.0" r="2.35"/><circle cx="429.7" cy="564.2" r="2.35"/><circle cx="433.2" cy="565.5" r="2.35"/><circle cx="421.1" cy="575.1" r="2.35"/><circle cx="426.5" cy="576.7" r="2.35"/><circle cx="423.4" cy="575.6" r="2.35"/><circle cx="415.0" cy="571.2" r="2.35"/><circle cx="425.5" cy="567.2" r="2.35"/><circle cx="434.6" cy="572.7" r="2.35"/><circle cx="435.3" cy="575.5" r="2.35"/><circle cx="419.3" cy="578.5" r="2.35"/><circle cx="431.3" cy="564.0" r="2.35"/><circle cx="415.9" cy="566.4" r="2.35"/><circle cx="430.0" cy="564.8" r="2.35"/><circle cx="421.3" cy="567.2" r="2.35"/><circle cx="415.6" cy="569.3" r="2.35"/><circle cx="418.1" cy="579.9" r="2.35"/><circle cx="436.5" cy="563.9" r="2.35"/><circle cx="418.9" cy="579.8" r="2.35"/><circle cx="421.7" cy="568.4" r="2.35"/><circle cx="432.8" cy="568.6" r="2.35"/><circle cx="431.2" cy="575.2" r="2.35"/><circle cx="415.7" cy="574.2" r="2.35"/><circle cx="421.7" cy="575.6" r="2.35"/><circle cx="425.6" cy="570.5" r="2.35"/><circle cx="432.5" cy="575.5" r="2.35"/><circle cx="396.4" cy="553.4" r="2.35"/><circle cx="423.3" cy="557.6" r="2.35"/><circle cx="431.7" cy="558.4" r="2.35"/><circle cx="436.8" cy="560.1" r="2.35"/><circle cx="423.3" cy="586.2" r="2.35"/><circle cx="430.1" cy="592.9" r="2.35"/><circle cx="434.3" cy="589.5" r="2.35"/><circle cx="438.5" cy="585.3" r="2.35"/><circle cx="452.2" cy="594.7" r="2.35"/><circle cx="441.7" cy="587.5" r="2.35"/><circle cx="451.8" cy="587.5" r="2.35"/><circle cx="441.0" cy="601.2" r="2.35"/><circle cx="444.6" cy="588.4" r="2.35"/><circle cx="450.5" cy="597.4" r="2.35"/><circle cx="446.8" cy="588.4" r="2.35"/><circle cx="441.4" cy="582.9" r="2.35"/><circle cx="439.5" cy="582.5" r="2.35"/><circle cx="440.1" cy="590.6" r="2.35"/><circle cx="447.6" cy="588.8" r="2.35"/><circle cx="446.3" cy="581.5" r="2.35"/><circle cx="453.2" cy="593.1" r="2.35"/><circle cx="451.7" cy="588.8" r="2.35"/><circle cx="445.6" cy="593.2" r="2.35"/><circle cx="448.8" cy="578.8" r="2.35"/><circle cx="439.3" cy="583.8" r="2.35"/><circle cx="440.9" cy="595.4" r="2.35"/><circle cx="439.8" cy="597.9" r="2.35"/><circle cx="471.3" cy="561.8" r="2.35"/><circle cx="465.4" cy="566.8" r="2.35"/><circle cx="466.2" cy="573.5" r="2.35"/><circle cx="463.7" cy="587.0" r="2.35"/><circle cx="467.4" cy="591.5" r="2.35"/><circle cx="467.7" cy="589.2" r="2.35"/><circle cx="467.6" cy="589.6" r="2.35"/><circle cx="468.4" cy="587.5" r="2.35"/><circle cx="469.6" cy="585.2" r="2.35"/><circle cx="472.7" cy="584.9" r="2.35"/><circle cx="472.2" cy="584.5" r="2.35"/><circle cx="472.4" cy="581.9" r="2.35"/><circle cx="474.7" cy="580.9" r="2.35"/><circle cx="475.4" cy="580.4" r="2.35"/><circle cx="475.4" cy="579.4" r="2.35"/><circle cx="476.7" cy="577.5" r="2.35"/><circle cx="479.3" cy="575.8" r="2.35"/><circle cx="480.7" cy="574.9" r="2.35"/><circle cx="480.7" cy="575.0" r="2.35"/><circle cx="482.3" cy="571.3" r="2.35"/><circle cx="481.2" cy="572.9" r="2.35"/><circle cx="482.5" cy="569.9" r="2.35"/><circle cx="473.4" cy="595.7" r="2.35"/><circle cx="474.5" cy="594.8" r="2.35"/><circle cx="475.2" cy="592.5" r="2.35"/><circle cx="476.6" cy="591.8" r="2.35"/><circle cx="476.6" cy="590.3" r="2.35"/><circle cx="477.8" cy="589.2" r="2.35"/><circle cx="479.6" cy="588.8" r="2.35"/><circle cx="479.2" cy="588.1" r="2.35"/><circle cx="480.1" cy="586.4" r="2.35"/><circle cx="483.2" cy="584.6" r="2.35"/><circle cx="483.2" cy="583.2" r="2.35"/><circle cx="484.0" cy="583.1" r="2.35"/><circle cx="486.4" cy="580.8" r="2.35"/><circle cx="487.4" cy="579.0" r="2.35"/><circle cx="487.9" cy="577.5" r="2.35"/><circle cx="489.8" cy="575.2" r="2.35"/><circle cx="494.0" cy="576.1" r="2.35"/><circle cx="488.9" cy="584.5" r="2.35"/><circle cx="493.1" cy="583.6" r="2.35"/><circle cx="485.6" cy="590.4" r="2.35"/><circle cx="482.2" cy="597.9" r="2.35"/><circle cx="474.6" cy="595.1" r="2.35"/><circle cx="508.4" cy="557.8" r="2.35"/><circle cx="501.6" cy="573.7" r="2.35"/><circle cx="509.6" cy="560.9" r="2.35"/><circle cx="507.2" cy="571.0" r="2.35"/><circle cx="504.4" cy="563.9" r="2.35"/><circle cx="503.1" cy="568.5" r="2.35"/><circle cx="507.6" cy="559.8" r="2.35"/><circle cx="506.3" cy="564.1" r="2.35"/><circle cx="509.9" cy="565.7" r="2.35"/><circle cx="507.3" cy="570.3" r="2.35"/><circle cx="501.3" cy="566.3" r="2.35"/><circle cx="503.7" cy="560.8" r="2.35"/><circle cx="506.0" cy="565.9" r="2.35"/><circle cx="501.3" cy="567.2" r="2.35"/><circle cx="505.5" cy="571.1" r="2.35"/><circle cx="506.5" cy="556.8" r="2.35"/><circle cx="507.5" cy="570.7" r="2.35"/><circle cx="507.6" cy="563.1" r="2.35"/><circle cx="504.2" cy="561.6" r="2.35"/><circle cx="503.5" cy="567.4" r="2.35"/><circle cx="501.6" cy="572.0" r="2.35"/><circle cx="501.3" cy="574.1" r="2.35"/><circle cx="508.2" cy="559.7" r="2.35"/><circle cx="510.2" cy="564.6" r="2.35"/><circle cx="502.7" cy="563.6" r="2.35"/><circle cx="503.9" cy="570.0" r="2.35"/><circle cx="507.3" cy="558.2" r="2.35"/><circle cx="507.3" cy="555.5" r="2.35"/><circle cx="510.0" cy="560.0" r="2.35"/><circle cx="512.4" cy="559.0" r="2.35"/><circle cx="512.2" cy="561.8" r="2.35"/><circle cx="507.1" cy="558.8" r="2.35"/><circle cx="505.4" cy="566.1" r="2.35"/><circle cx="507.4" cy="606.7" r="2.35"/><circle cx="497.3" cy="596.6" r="2.35"/><circle cx="496.6" cy="597.1" r="2.35"/><circle cx="508.1" cy="606.6" r="2.35"/><circle cx="496.7" cy="596.4" r="2.35"/><circle cx="504.4" cy="604.9" r="2.35"/><circle cx="506.0" cy="606.8" r="2.35"/><circle cx="500.0" cy="595.3" r="2.35"/><circle cx="502.8" cy="605.2" r="2.35"/><circle cx="502.1" cy="591.7" r="2.35"/><circle cx="495.0" cy="598.1" r="2.35"/><circle cx="501.0" cy="601.7" r="2.35"/><circle cx="493.7" cy="600.9" r="2.35"/><circle cx="505.0" cy="590.7" r="2.35"/><circle cx="505.1" cy="585.5" r="2.35"/><circle cx="500.8" cy="590.9" r="2.35"/><circle cx="501.3" cy="592.3" r="2.35"/><circle cx="509.2" cy="604.7" r="2.35"/><circle cx="503.3" cy="607.6" r="2.35"/><circle cx="505.9" cy="601.5" r="2.35"/><circle cx="500.4" cy="591.4" r="2.35"/><circle cx="508.2" cy="604.7" r="2.35"/><circle cx="503.7" cy="584.8" r="2.35"/><circle cx="504.1" cy="592.7" r="2.35"/><circle cx="506.6" cy="602.9" r="2.35"/><circle cx="503.8" cy="604.7" r="2.35"/><circle cx="495.3" cy="600.9" r="2.35"/><circle cx="494.3" cy="601.2" r="2.35"/><circle cx="511.1" cy="587.6" r="2.35"/><circle cx="511.9" cy="589.3" r="2.35"/><circle cx="505.5" cy="607.9" r="2.35"/><circle cx="497.8" cy="596.2" r="2.35"/><circle cx="501.3" cy="587.9" r="2.35"/><circle cx="505.9" cy="600.5" r="2.35"/><circle cx="508.8" cy="595.1" r="2.35"/><circle cx="508.7" cy="590.5" r="2.35"/><circle cx="500.2" cy="605.7" r="2.35"/><circle cx="504.2" cy="599.4" r="2.35"/><circle cx="503.8" cy="592.7" r="2.35"/><circle cx="502.9" cy="587.1" r="2.35"/><circle cx="503.2" cy="603.1" r="2.35"/><circle cx="503.8" cy="585.3" r="2.35"/><circle cx="508.8" cy="594.5" r="2.35"/><circle cx="507.8" cy="602.0" r="2.35"/><circle cx="505.5" cy="593.7" r="2.35"/><circle cx="501.0" cy="602.7" r="2.35"/><circle cx="510.1" cy="600.2" r="2.35"/><circle cx="507.3" cy="596.2" r="2.35"/><circle cx="511.4" cy="592.5" r="2.35"/><circle cx="497.3" cy="599.1" r="2.35"/><circle cx="503.6" cy="588.7" r="2.35"/><circle cx="494.9" cy="597.8" r="2.35"/><circle cx="504.3" cy="595.9" r="2.35"/><circle cx="507.9" cy="605.7" r="2.35"/><circle cx="498.0" cy="601.1" r="2.35"/><circle cx="499.2" cy="600.9" r="2.35"/><circle cx="512.3" cy="590.3" r="2.35"/><circle cx="498.0" cy="601.2" r="2.35"/><circle cx="502.1" cy="606.3" r="2.35"/><circle cx="508.0" cy="595.4" r="2.35"/><circle cx="499.1" cy="593.8" r="2.35"/><circle cx="508.5" cy="603.8" r="2.35"/><circle cx="506.1" cy="601.2" r="2.35"/><circle cx="509.7" cy="594.1" r="2.35"/><circle cx="502.5" cy="594.2" r="2.35"/><circle cx="504.4" cy="588.4" r="2.35"/><circle cx="508.6" cy="588.8" r="2.35"/><circle cx="497.1" cy="596.7" r="2.35"/><circle cx="501.2" cy="594.8" r="2.35"/><circle cx="495.5" cy="597.4" r="2.35"/><circle cx="506.9" cy="607.8" r="2.35"/><circle cx="510.5" cy="587.8" r="2.35"/><circle cx="496.0" cy="595.5" r="2.35"/><circle cx="505.8" cy="589.0" r="2.35"/><circle cx="506.8" cy="588.5" r="2.35"/><circle cx="499.7" cy="593.0" r="2.35"/><circle cx="504.9" cy="591.5" r="2.35"/><circle cx="499.0" cy="604.8" r="2.35"/><circle cx="504.8" cy="584.9" r="2.35"/><circle cx="505.4" cy="596.2" r="2.35"/><circle cx="501.1" cy="589.5" r="2.35"/><circle cx="505.0" cy="585.6" r="2.35"/><circle cx="507.1" cy="589.5" r="2.35"/><circle cx="500.7" cy="590.0" r="2.35"/><circle cx="500.3" cy="596.1" r="2.35"/><circle cx="494.8" cy="597.9" r="2.35"/><circle cx="505.9" cy="601.0" r="2.35"/><circle cx="501.7" cy="606.3" r="2.35"/><circle cx="500.5" cy="589.3" r="2.35"/><circle cx="508.9" cy="590.7" r="2.35"/><circle cx="510.6" cy="594.9" r="2.35"/><circle cx="500.6" cy="591.4" r="2.35"/><circle cx="503.4" cy="593.7" r="2.35"/><circle cx="506.3" cy="601.1" r="2.35"/><circle cx="503.5" cy="607.8" r="2.35"/><circle cx="497.7" cy="603.8" r="2.35"/><circle cx="473.0" cy="614.7" r="2.35"/><circle cx="475.7" cy="615.3" r="2.35"/><circle cx="477.6" cy="614.5" r="2.35"/><circle cx="472.5" cy="611.5" r="2.35"/><circle cx="475.2" cy="614.7" r="2.35"/><circle cx="479.6" cy="615.8" r="2.35"/><circle cx="475.9" cy="617.4" r="2.35"/><circle cx="481.9" cy="613.3" r="2.35"/><circle cx="474.2" cy="616.4" r="2.35"/><circle cx="466.2" cy="622.3" r="2.35"/><circle cx="475.5" cy="624.9" r="2.35"/><circle cx="485.6" cy="634.1" r="2.35"/><circle cx="492.3" cy="631.6" r="2.35"/><circle cx="502.4" cy="613.1" r="2.35"/><circle cx="483.4" cy="631.1" r="2.35"/><circle cx="486.9" cy="622.9" r="2.35"/><circle cx="490.0" cy="617.4" r="2.35"/><circle cx="490.7" cy="623.5" r="2.35"/><circle cx="488.1" cy="618.3" r="2.35"/><circle cx="486.1" cy="622.1" r="2.35"/><circle cx="495.2" cy="616.3" r="2.35"/><circle cx="490.8" cy="622.7" r="2.35"/><circle cx="489.2" cy="628.5" r="2.35"/><circle cx="489.5" cy="620.8" r="2.35"/><circle cx="495.8" cy="614.9" r="2.35"/><circle cx="506.5" cy="629.4" r="2.35"/><circle cx="506.8" cy="627.6" r="2.35"/><circle cx="506.9" cy="625.2" r="2.35"/><circle cx="508.2" cy="624.0" r="2.35"/><circle cx="509.1" cy="623.6" r="2.35"/><circle cx="509.7" cy="621.4" r="2.35"/><circle cx="508.8" cy="619.5" r="2.35"/><circle cx="510.6" cy="617.5" r="2.35"/><circle cx="497.8" cy="640.5" r="2.35"/><circle cx="499.3" cy="639.7" r="2.35"/><circle cx="500.5" cy="637.9" r="2.35"/><circle cx="499.3" cy="636.9" r="2.35"/><circle cx="502.3" cy="633.3" r="2.35"/><circle cx="503.6" cy="633.5" r="2.35"/><circle cx="511.3" cy="643.7" r="2.35"/><circle cx="511.5" cy="642.9" r="2.35"/><circle cx="511.9" cy="641.2" r="2.35"/><circle cx="512.7" cy="639.1" r="2.35"/><circle cx="513.0" cy="637.7" r="2.35"/><circle cx="514.2" cy="635.9" r="2.35"/><circle cx="513.9" cy="634.1" r="2.35"/><circle cx="584.9" cy="553.8" r="2.35"/><circle cx="581.6" cy="555.3" r="2.35"/><circle cx="584.2" cy="552.3" r="2.35"/><circle cx="584.2" cy="555.2" r="2.35"/><circle cx="587.2" cy="553.2" r="2.35"/><circle cx="592.9" cy="550.6" r="2.35"/><circle cx="584.2" cy="552.4" r="2.35"/><circle cx="591.0" cy="556.2" r="2.35"/><circle cx="583.7" cy="557.0" r="2.35"/><circle cx="589.8" cy="552.9" r="2.35"/><circle cx="586.2" cy="555.7" r="2.35"/><circle cx="580.4" cy="554.7" r="2.35"/><circle cx="578.9" cy="555.6" r="2.35"/><circle cx="587.9" cy="552.4" r="2.35"/><circle cx="586.0" cy="554.4" r="2.35"/><circle cx="585.1" cy="553.5" r="2.35"/><circle cx="579.8" cy="557.1" r="2.35"/><circle cx="589.6" cy="553.8" r="2.35"/><circle cx="579.5" cy="550.7" r="2.35"/><circle cx="589.4" cy="556.5" r="2.35"/><circle cx="586.9" cy="550.2" r="2.35"/><circle cx="582.0" cy="553.9" r="2.35"/><circle cx="599.2" cy="550.2" r="2.35"/><circle cx="603.8" cy="553.8" r="2.35"/><circle cx="598.8" cy="551.7" r="2.35"/><circle cx="607.2" cy="550.5" r="2.35"/><circle cx="599.5" cy="550.2" r="2.35"/><circle cx="607.2" cy="551.4" r="2.35"/><circle cx="598.1" cy="551.7" r="2.35"/><circle cx="601.5" cy="553.8" r="2.35"/><circle cx="681.3" cy="551.2" r="2.35"/><circle cx="682.0" cy="553.5" r="2.35"/><circle cx="682.5" cy="554.5" r="2.35"/><circle cx="684.2" cy="556.9" r="2.35"/><circle cx="685.8" cy="556.8" r="2.35"/><circle cx="684.2" cy="558.9" r="2.35"/><circle cx="685.6" cy="560.8" r="2.35"/><circle cx="686.5" cy="560.1" r="2.35"/><circle cx="687.6" cy="563.9" r="2.35"/><circle cx="689.3" cy="565.0" r="2.35"/><circle cx="689.4" cy="563.9" r="2.35"/><circle cx="689.2" cy="567.5" r="2.35"/><circle cx="689.3" cy="568.4" r="2.35"/><circle cx="692.3" cy="569.2" r="2.35"/><circle cx="691.4" cy="569.3" r="2.35"/><circle cx="693.2" cy="571.2" r="2.35"/><circle cx="704.8" cy="553.9" r="2.35"/><circle cx="706.5" cy="550.9" r="2.35"/><circle cx="713.3" cy="561.4" r="2.35"/><circle cx="708.5" cy="560.1" r="2.35"/><circle cx="707.5" cy="554.4" r="2.35"/><circle cx="706.4" cy="560.3" r="2.35"/><circle cx="557.4" cy="553.0" r="2.35"/><circle cx="550.2" cy="561.8" r="2.35"/><circle cx="522.1" cy="562.6" r="2.35"/><circle cx="525.8" cy="576.9" r="2.35"/><circle cx="576.2" cy="566.8" r="2.35"/><circle cx="583.0" cy="566.0" r="2.35"/><circle cx="575.4" cy="575.2" r="2.35"/><circle cx="581.3" cy="575.2" r="2.35"/><circle cx="581.3" cy="577.8" r="2.35"/><circle cx="573.2" cy="582.8" r="2.35"/><circle cx="579.6" cy="584.5" r="2.35"/><circle cx="587.2" cy="558.4" r="2.35"/><circle cx="598.1" cy="560.1" r="2.35"/><circle cx="601.5" cy="563.5" r="2.35"/><circle cx="609.9" cy="561.4" r="2.35"/><circle cx="623.3" cy="561.4" r="2.35"/><circle cx="596.4" cy="576.1" r="2.35"/><circle cx="603.2" cy="574.4" r="2.35"/><circle cx="596.4" cy="581.6" r="2.35"/><circle cx="636.0" cy="570.2" r="2.35"/><circle cx="638.5" cy="565.1" r="2.35"/><circle cx="658.7" cy="563.5" r="2.35"/><circle cx="660.3" cy="566.0" r="2.35"/><circle cx="666.2" cy="566.8" r="2.35"/><circle cx="665.4" cy="571.9" r="2.35"/><circle cx="671.3" cy="571.0" r="2.35"/><circle cx="683.0" cy="569.3" r="2.35"/><circle cx="685.6" cy="574.4" r="2.35"/><circle cx="696.5" cy="566.8" r="2.35"/><circle cx="691.0" cy="580.3" r="2.35"/><circle cx="679.7" cy="559.3" r="2.35"/><circle cx="707.4" cy="560.1" r="2.35"/><circle cx="712.5" cy="561.8" r="2.35"/><circle cx="638.0" cy="586.2" r="2.35"/><circle cx="651.9" cy="589.5" r="2.35"/><circle cx="660.3" cy="595.8" r="2.35"/><circle cx="662.5" cy="582.2" r="2.35"/><circle cx="664.4" cy="584.3" r="2.35"/><circle cx="665.2" cy="586.3" r="2.35"/><circle cx="664.6" cy="588.4" r="2.35"/><circle cx="665.6" cy="588.8" r="2.35"/><circle cx="666.1" cy="590.0" r="2.35"/><circle cx="665.3" cy="592.5" r="2.35"/><circle cx="665.9" cy="594.3" r="2.35"/><circle cx="665.8" cy="594.4" r="2.35"/><circle cx="667.9" cy="595.6" r="2.35"/><circle cx="667.0" cy="598.6" r="2.35"/><circle cx="668.1" cy="600.2" r="2.35"/><circle cx="669.3" cy="601.0" r="2.35"/><circle cx="667.9" cy="602.9" r="2.35"/><circle cx="668.7" cy="604.6" r="2.35"/><circle cx="668.6" cy="605.6" r="2.35"/><circle cx="654.5" cy="602.1" r="2.35"/><circle cx="654.5" cy="605.5" r="2.35"/><circle cx="704.1" cy="600.5" r="2.35"/><circle cx="711.6" cy="608.5" r="2.35"/><circle cx="686.4" cy="608.0" r="2.35"/><circle cx="693.6" cy="604.7" r="2.35"/><circle cx="694.3" cy="607.2" r="2.35"/><circle cx="688.1" cy="613.1" r="2.35"/><circle cx="698.7" cy="617.3" r="2.35"/><circle cx="712.5" cy="620.3" r="2.35"/><circle cx="696.5" cy="624.0" r="2.35"/><circle cx="683.9" cy="625.4" r="2.35"/><circle cx="591.0" cy="599.6" r="2.35"/><circle cx="611.6" cy="611.9" r="2.35"/><circle cx="596.4" cy="613.6" r="2.35"/><circle cx="574.2" cy="613.1" r="2.35"/><circle cx="525.8" cy="611.9" r="2.35"/><circle cx="538.4" cy="611.4" r="2.35"/><circle cx="537.5" cy="613.9" r="2.35"/><circle cx="546.8" cy="611.7" r="2.35"/><circle cx="545.1" cy="616.9" r="2.35"/><circle cx="558.1" cy="614.8" r="2.35"/><circle cx="524.1" cy="616.9" r="2.35"/><circle cx="530.8" cy="620.3" r="2.35"/><circle cx="516.9" cy="624.4" r="2.35"/><circle cx="515.9" cy="635.3" r="2.35"/><circle cx="515.0" cy="646.5" r="2.35"/><circle cx="524.3" cy="623.6" r="2.35"/><circle cx="514.7" cy="626.1" r="2.35"/><circle cx="523.7" cy="624.2" r="2.35"/><circle cx="520.9" cy="628.2" r="2.35"/><circle cx="520.8" cy="643.1" r="2.35"/><circle cx="525.5" cy="637.1" r="2.35"/><circle cx="522.8" cy="634.3" r="2.35"/><circle cx="520.3" cy="641.3" r="2.35"/><circle cx="523.9" cy="633.2" r="2.35"/><circle cx="515.4" cy="642.5" r="2.35"/><circle cx="525.8" cy="631.9" r="2.35"/><circle cx="518.2" cy="635.2" r="2.35"/><circle cx="535.5" cy="632.8" r="2.35"/><circle cx="522.7" cy="642.2" r="2.35"/><circle cx="529.5" cy="636.6" r="2.35"/><circle cx="514.0" cy="593.7" r="2.35"/><circle cx="548.5" cy="634.1" r="2.35"/><circle cx="548.5" cy="637.5" r="2.35"/><circle cx="555.2" cy="641.7" r="2.35"/><circle cx="564.8" cy="638.3" r="2.35"/><circle cx="543.9" cy="649.6" r="2.35"/><circle cx="562.8" cy="648.9" r="2.35"/><circle cx="572.0" cy="623.7" r="2.35"/><circle cx="581.3" cy="617.3" r="2.35"/><circle cx="585.5" cy="614.8" r="2.35"/><circle cx="580.4" cy="619.8" r="2.35"/><circle cx="579.6" cy="627.4" r="2.35"/><circle cx="583.8" cy="625.7" r="2.35"/><circle cx="583.0" cy="629.1" r="2.35"/><circle cx="582.1" cy="636.1" r="2.35"/><circle cx="585.5" cy="642.2" r="2.35"/><circle cx="576.3" cy="640.6" r="2.35"/><circle cx="577.1" cy="641.7" r="2.35"/><circle cx="576.7" cy="641.9" r="2.35"/><circle cx="577.7" cy="643.4" r="2.35"/><circle cx="575.8" cy="645.7" r="2.35"/><circle cx="576.3" cy="648.5" r="2.35"/><circle cx="575.1" cy="648.8" r="2.35"/><circle cx="575.9" cy="651.7" r="2.35"/><circle cx="575.5" cy="653.6" r="2.35"/><circle cx="575.2" cy="653.7" r="2.35"/><circle cx="575.0" cy="654.6" r="2.35"/><circle cx="573.4" cy="657.2" r="2.35"/><circle cx="575.4" cy="658.6" r="2.35"/><circle cx="574.0" cy="659.8" r="2.35"/><circle cx="573.1" cy="660.5" r="2.35"/><circle cx="574.9" cy="661.8" r="2.35"/><circle cx="573.0" cy="664.2" r="2.35"/><circle cx="580.4" cy="649.2" r="2.35"/><circle cx="589.4" cy="650.6" r="2.35"/><circle cx="588.9" cy="655.6" r="2.35"/><circle cx="593.1" cy="656.0" r="2.35"/><circle cx="592.2" cy="664.4" r="2.35"/><circle cx="583.0" cy="662.7" r="2.35"/><circle cx="583.0" cy="666.1" r="2.35"/><circle cx="610.7" cy="646.7" r="2.35"/><circle cx="611.2" cy="649.2" r="2.35"/><circle cx="614.9" cy="651.8" r="2.35"/><circle cx="619.6" cy="651.8" r="2.35"/><circle cx="610.7" cy="656.8" r="2.35"/><circle cx="614.9" cy="656.8" r="2.35"/><circle cx="610.7" cy="664.4" r="2.35"/><circle cx="610.7" cy="667.7" r="2.35"/><circle cx="635.1" cy="620.4" r="2.35"/><circle cx="634.7" cy="618.4" r="2.35"/><circle cx="633.8" cy="618.4" r="2.35"/><circle cx="633.1" cy="617.7" r="2.35"/><circle cx="634.7" cy="625.5" r="2.35"/><circle cx="630.4" cy="624.5" r="2.35"/><circle cx="631.1" cy="630.2" r="2.35"/><circle cx="633.1" cy="616.8" r="2.35"/><circle cx="634.7" cy="620.3" r="2.35"/><circle cx="632.3" cy="618.3" r="2.35"/><circle cx="631.2" cy="631.5" r="2.35"/><circle cx="634.0" cy="622.7" r="2.35"/><circle cx="632.1" cy="632.3" r="2.35"/><circle cx="628.7" cy="630.0" r="2.35"/><circle cx="630.9" cy="623.6" r="2.35"/><circle cx="633.4" cy="623.7" r="2.35"/><circle cx="636.1" cy="620.6" r="2.35"/><circle cx="630.0" cy="625.9" r="2.35"/><circle cx="632.5" cy="624.4" r="2.35"/><circle cx="635.4" cy="618.2" r="2.35"/><circle cx="630.4" cy="619.6" r="2.35"/><circle cx="633.2" cy="631.7" r="2.35"/><circle cx="632.7" cy="618.0" r="2.35"/><circle cx="631.1" cy="619.9" r="2.35"/><circle cx="632.7" cy="618.8" r="2.35"/><circle cx="636.1" cy="618.7" r="2.35"/><circle cx="632.6" cy="619.9" r="2.35"/><circle cx="623.3" cy="643.4" r="2.35"/><circle cx="632.1" cy="640.5" r="2.35"/><circle cx="642.7" cy="620.6" r="2.35"/><circle cx="642.7" cy="624.0" r="2.35"/><circle cx="642.7" cy="626.5" r="2.35"/><circle cx="656.6" cy="613.1" r="2.35"/><circle cx="657.0" cy="618.1" r="2.35"/><circle cx="653.6" cy="622.3" r="2.35"/><circle cx="655.3" cy="626.5" r="2.35"/><circle cx="659.5" cy="628.7" r="2.35"/><circle cx="651.9" cy="632.8" r="2.35"/><circle cx="668.8" cy="615.6" r="2.35"/><circle cx="670.4" cy="623.2" r="2.35"/><circle cx="657.4" cy="638.0" r="2.35"/><circle cx="658.5" cy="637.0" r="2.35"/><circle cx="660.0" cy="637.2" r="2.35"/><circle cx="661.7" cy="636.8" r="2.35"/><circle cx="664.2" cy="636.3" r="2.35"/><circle cx="665.0" cy="635.9" r="2.35"/><circle cx="645.2" cy="641.7" r="2.35"/><circle cx="641.8" cy="645.9" r="2.35"/><circle cx="645.2" cy="647.6" r="2.35"/><circle cx="641.8" cy="650.9" r="2.35"/><circle cx="651.9" cy="662.4" r="2.35"/><circle cx="674.6" cy="639.2" r="2.35"/><circle cx="680.5" cy="642.5" r="2.35"/><circle cx="684.7" cy="645.0" r="2.35"/><circle cx="704.6" cy="625.4" r="2.35"/><circle cx="705.3" cy="626.9" r="2.35"/><circle cx="707.6" cy="627.8" r="2.35"/><circle cx="707.3" cy="628.9" r="2.35"/><circle cx="707.4" cy="632.9" r="2.35"/><circle cx="710.1" cy="633.6" r="2.35"/><circle cx="708.5" cy="634.5" r="2.35"/><circle cx="710.4" cy="636.0" r="2.35"/><circle cx="712.2" cy="635.9" r="2.35"/><circle cx="710.9" cy="638.4" r="2.35"/><circle cx="711.1" cy="640.5" r="2.35"/><circle cx="712.1" cy="639.9" r="2.35"/><circle cx="712.5" cy="642.9" r="2.35"/><circle cx="715.2" cy="644.4" r="2.35"/><circle cx="719.9" cy="553.2" r="2.35"/><circle cx="725.0" cy="551.2" r="2.35"/><circle cx="723.8" cy="553.2" r="2.35"/><circle cx="737.7" cy="555.3" r="2.35"/><circle cx="736.8" cy="554.0" r="2.35"/><circle cx="736.5" cy="554.2" r="2.35"/><circle cx="732.7" cy="551.3" r="2.35"/><circle cx="734.4" cy="552.6" r="2.35"/><circle cx="736.6" cy="555.8" r="2.35"/><circle cx="737.5" cy="554.4" r="2.35"/><circle cx="737.9" cy="552.4" r="2.35"/><circle cx="738.0" cy="554.7" r="2.35"/><circle cx="733.3" cy="551.7" r="2.35"/><circle cx="738.8" cy="551.8" r="2.35"/><circle cx="749.7" cy="552.6" r="2.35"/><circle cx="756.8" cy="550.3" r="2.35"/><circle cx="755.9" cy="553.0" r="2.35"/><circle cx="752.0" cy="553.1" r="2.35"/><circle cx="748.5" cy="552.1" r="2.35"/><circle cx="752.7" cy="553.1" r="2.35"/><circle cx="755.6" cy="554.7" r="2.35"/><circle cx="756.3" cy="551.6" r="2.35"/><circle cx="770.3" cy="551.7" r="2.35"/><circle cx="776.2" cy="556.7" r="2.35"/><circle cx="782.6" cy="557.6" r="2.35"/><circle cx="721.1" cy="570.5" r="2.35"/><circle cx="743.9" cy="554.2" r="2.35"/><circle cx="763.5" cy="565.2" r="2.35"/><circle cx="764.7" cy="587.0" r="2.35"/><circle cx="753.3" cy="562.9" r="2.35"/><circle cx="759.1" cy="560.4" r="2.35"/><circle cx="763.6" cy="568.6" r="2.35"/><circle cx="758.5" cy="563.4" r="2.35"/><circle cx="774.4" cy="582.8" r="2.35"/><circle cx="748.4" cy="564.7" r="2.35"/><circle cx="761.1" cy="572.0" r="2.35"/><circle cx="759.3" cy="566.2" r="2.35"/><circle cx="773.0" cy="582.7" r="2.35"/><circle cx="742.2" cy="564.8" r="2.35"/><circle cx="766.5" cy="566.8" r="2.35"/><circle cx="755.6" cy="569.1" r="2.35"/><circle cx="774.5" cy="578.4" r="2.35"/><circle cx="761.7" cy="579.0" r="2.35"/><circle cx="753.3" cy="573.8" r="2.35"/><circle cx="765.8" cy="571.7" r="2.35"/><circle cx="760.7" cy="571.4" r="2.35"/><circle cx="754.8" cy="560.8" r="2.35"/><circle cx="755.2" cy="577.6" r="2.35"/><circle cx="759.8" cy="572.3" r="2.35"/><circle cx="766.6" cy="570.2" r="2.35"/><circle cx="768.4" cy="580.3" r="2.35"/><circle cx="755.8" cy="577.2" r="2.35"/><circle cx="756.9" cy="578.6" r="2.35"/><circle cx="758.7" cy="579.1" r="2.35"/><circle cx="759.6" cy="580.0" r="2.35"/><circle cx="760.0" cy="581.2" r="2.35"/><circle cx="762.0" cy="583.1" r="2.35"/><circle cx="762.6" cy="583.4" r="2.35"/><circle cx="764.5" cy="585.3" r="2.35"/><circle cx="765.2" cy="585.5" r="2.35"/><circle cx="766.5" cy="587.1" r="2.35"/><circle cx="788.0" cy="568.5" r="2.35"/><circle cx="793.1" cy="571.0" r="2.35"/><circle cx="791.4" cy="573.5" r="2.35"/><circle cx="797.3" cy="565.1" r="2.35"/><circle cx="806.2" cy="566.8" r="2.35"/><circle cx="801.5" cy="575.2" r="2.35"/><circle cx="806.5" cy="574.4" r="2.35"/><circle cx="805.7" cy="579.4" r="2.35"/><circle cx="783.0" cy="587.3" r="2.35"/><circle cx="800.1" cy="592.9" r="2.35"/><circle cx="757.7" cy="590.4" r="2.35"/><circle cx="757.7" cy="597.9" r="2.35"/><circle cx="754.4" cy="600.5" r="2.35"/><circle cx="750.2" cy="602.1" r="2.35"/><circle cx="749.3" cy="607.2" r="2.35"/><circle cx="751.8" cy="610.6" r="2.35"/><circle cx="754.4" cy="615.6" r="2.35"/><circle cx="763.6" cy="613.1" r="2.35"/><circle cx="769.5" cy="613.9" r="2.35"/><circle cx="772.0" cy="617.3" r="2.35"/><circle cx="776.6" cy="600.1" r="2.35"/><circle cx="777.6" cy="603.0" r="2.35"/><circle cx="786.3" cy="598.4" r="2.35"/><circle cx="790.0" cy="602.1" r="2.35"/><circle cx="783.0" cy="608.5" r="2.35"/><circle cx="713.1" cy="618.1" r="2.35"/><circle cx="716.3" cy="618.2" r="2.35"/><circle cx="717.0" cy="618.7" r="2.35"/><circle cx="718.8" cy="617.6" r="2.35"/><circle cx="719.3" cy="616.6" r="2.35"/><circle cx="720.9" cy="617.3" r="2.35"/><circle cx="723.7" cy="616.1" r="2.35"/><circle cx="723.9" cy="616.8" r="2.35"/><circle cx="726.5" cy="614.5" r="2.35"/><circle cx="726.7" cy="614.6" r="2.35"/><circle cx="728.7" cy="615.8" r="2.35"/><circle cx="730.1" cy="614.7" r="2.35"/><circle cx="731.5" cy="613.4" r="2.35"/><circle cx="733.3" cy="613.7" r="2.35"/><circle cx="733.2" cy="613.4" r="2.35"/><circle cx="719.0" cy="625.7" r="2.35"/><circle cx="724.1" cy="622.3" r="2.35"/><circle cx="727.5" cy="622.3" r="2.35"/><circle cx="737.5" cy="622.3" r="2.35"/><circle cx="738.4" cy="626.5" r="2.35"/><circle cx="736.7" cy="629.9" r="2.35"/><circle cx="740.9" cy="628.2" r="2.35"/><circle cx="744.3" cy="634.1" r="2.35"/><circle cx="752.7" cy="629.1" r="2.35"/><circle cx="759.4" cy="623.2" r="2.35"/><circle cx="729.1" cy="635.8" r="2.35"/><circle cx="732.2" cy="640.8" r="2.35"/><circle cx="714.0" cy="630.7" r="2.35"/><circle cx="714.0" cy="645.9" r="2.35"/><circle cx="714.0" cy="640.8" r="2.35"/><circle cx="701.5" cy="199.8" r="2.35"/><circle cx="715.2" cy="201.4" r="2.35"/><circle cx="709.8" cy="178.5" r="2.35"/><circle cx="717.9" cy="196.5" r="2.35"/><circle cx="716.0" cy="187.8" r="2.35"/><circle cx="711.2" cy="191.3" r="2.35"/><circle cx="719.6" cy="193.7" r="2.35"/><circle cx="705.4" cy="179.4" r="2.35"/><circle cx="699.7" cy="185.9" r="2.35"/><circle cx="708.6" cy="201.7" r="2.35"/><circle cx="711.6" cy="179.7" r="2.35"/><circle cx="718.9" cy="182.1" r="2.35"/><circle cx="700.5" cy="188.7" r="2.35"/><circle cx="705.9" cy="200.2" r="2.35"/><circle cx="713.5" cy="186.1" r="2.35"/><circle cx="700.6" cy="191.2" r="2.35"/><circle cx="700.8" cy="179.7" r="2.35"/><circle cx="716.7" cy="187.5" r="2.35"/><circle cx="718.2" cy="196.0" r="2.35"/><circle cx="707.1" cy="195.2" r="2.35"/><circle cx="716.9" cy="198.3" r="2.35"/><circle cx="715.4" cy="188.4" r="2.35"/><circle cx="712.3" cy="198.1" r="2.35"/><circle cx="711.8" cy="192.9" r="2.35"/><circle cx="700.5" cy="199.5" r="2.35"/><circle cx="701.4" cy="191.2" r="2.35"/><circle cx="701.3" cy="197.6" r="2.35"/><circle cx="709.3" cy="198.3" r="2.35"/><circle cx="710.9" cy="182.9" r="2.35"/><circle cx="703.1" cy="189.6" r="2.35"/><circle cx="695.6" cy="180.3" r="2.35"/><circle cx="699.6" cy="190.2" r="2.35"/><circle cx="715.8" cy="179.1" r="2.35"/><circle cx="697.9" cy="189.7" r="2.35"/><circle cx="707.4" cy="178.6" r="2.35"/><circle cx="709.2" cy="190.4" r="2.35"/><circle cx="700.2" cy="184.2" r="2.35"/><circle cx="708.5" cy="198.6" r="2.35"/><circle cx="713.2" cy="197.1" r="2.35"/><circle cx="710.9" cy="178.4" r="2.35"/><circle cx="713.7" cy="177.6" r="2.35"/><circle cx="700.4" cy="192.3" r="2.35"/><circle cx="698.5" cy="199.4" r="2.35"/><circle cx="712.6" cy="203.5" r="2.35"/><circle cx="716.5" cy="195.2" r="2.35"/><circle cx="703.4" cy="186.0" r="2.35"/><circle cx="719.3" cy="190.4" r="2.35"/><circle cx="718.8" cy="181.9" r="2.35"/><circle cx="716.3" cy="200.8" r="2.35"/><circle cx="698.3" cy="195.4" r="2.35"/><circle cx="710.2" cy="193.4" r="2.35"/><circle cx="711.7" cy="183.3" r="2.35"/><circle cx="719.0" cy="199.1" r="2.35"/><circle cx="698.6" cy="194.0" r="2.35"/><circle cx="717.6" cy="200.8" r="2.35"/><circle cx="701.3" cy="182.6" r="2.35"/><circle cx="713.3" cy="194.6" r="2.35"/><circle cx="708.2" cy="202.1" r="2.35"/><circle cx="700.1" cy="201.9" r="2.35"/><circle cx="718.0" cy="177.7" r="2.35"/><circle cx="720.9" cy="201.2" r="2.35"/><circle cx="715.3" cy="197.5" r="2.35"/><circle cx="719.0" cy="197.2" r="2.35"/><circle cx="698.3" cy="200.5" r="2.35"/><circle cx="707.0" cy="187.4" r="2.35"/><circle cx="701.3" cy="196.8" r="2.35"/><circle cx="715.6" cy="202.9" r="2.35"/><circle cx="715.4" cy="178.2" r="2.35"/><circle cx="699.0" cy="201.6" r="2.35"/><circle cx="705.2" cy="182.8" r="2.35"/><circle cx="707.1" cy="179.1" r="2.35"/><circle cx="705.8" cy="195.9" r="2.35"/><circle cx="704.9" cy="187.2" r="2.35"/><circle cx="717.4" cy="203.0" r="2.35"/><circle cx="715.3" cy="185.8" r="2.35"/><circle cx="708.5" cy="202.2" r="2.35"/><circle cx="708.4" cy="177.8" r="2.35"/><circle cx="697.0" cy="176.0" r="2.35"/><circle cx="705.0" cy="174.0" r="2.35"/><circle cx="713.0" cy="175.0" r="2.35"/><circle cx="700.0" cy="208.0" r="2.35"/><circle cx="708.0" cy="209.0" r="2.35"/><circle cx="716.0" cy="207.0" r="2.35"/><circle cx="617.0" cy="521.7" r="2.35"/><circle cx="619.3" cy="531.7" r="2.35"/><circle cx="624.0" cy="529.4" r="2.35"/><circle cx="621.3" cy="527.2" r="2.35"/><circle cx="612.6" cy="518.8" r="2.35"/><circle cx="612.5" cy="531.9" r="2.35"/><circle cx="612.8" cy="515.5" r="2.35"/><circle cx="614.0" cy="517.1" r="2.35"/><circle cx="627.9" cy="529.1" r="2.35"/><circle cx="623.3" cy="531.7" r="2.35"/><circle cx="614.2" cy="514.8" r="2.35"/><circle cx="624.7" cy="530.5" r="2.35"/><circle cx="622.8" cy="518.7" r="2.35"/><circle cx="614.1" cy="525.5" r="2.35"/><circle cx="622.5" cy="509.0" r="2.35"/><circle cx="628.1" cy="526.0" r="2.35"/><circle cx="613.7" cy="521.9" r="2.35"/><circle cx="626.4" cy="515.1" r="2.35"/><circle cx="623.5" cy="509.6" r="2.35"/><circle cx="613.0" cy="519.4" r="2.35"/><circle cx="615.0" cy="530.9" r="2.35"/><circle cx="619.8" cy="513.7" r="2.35"/><circle cx="627.5" cy="529.2" r="2.35"/><circle cx="614.4" cy="515.7" r="2.35"/><circle cx="628.1" cy="512.9" r="2.35"/><circle cx="612.5" cy="520.0" r="2.35"/><circle cx="626.8" cy="530.6" r="2.35"/><circle cx="611.6" cy="514.0" r="2.35"/><circle cx="620.0" cy="524.2" r="2.35"/><circle cx="623.0" cy="514.9" r="2.35"/><circle cx="622.7" cy="514.4" r="2.35"/><circle cx="614.9" cy="513.6" r="2.35"/><circle cx="628.2" cy="528.3" r="2.35"/><circle cx="617.7" cy="530.5" r="2.35"/><circle cx="621.5" cy="522.0" r="2.35"/><circle cx="612.5" cy="527.0" r="2.35"/><circle cx="616.8" cy="521.7" r="2.35"/><circle cx="618.2" cy="514.7" r="2.35"/><circle cx="623.2" cy="528.0" r="2.35"/><circle cx="624.6" cy="524.7" r="2.35"/><circle cx="624.7" cy="512.3" r="2.35"/><circle cx="614.0" cy="509.6" r="2.35"/><circle cx="626.6" cy="536.1" r="2.35"/><circle cx="618.4" cy="512.4" r="2.35"/><circle cx="618.0" cy="526.1" r="2.35"/><circle cx="620.1" cy="525.6" r="2.35"/><circle cx="612.2" cy="527.6" r="2.35"/><circle cx="612.4" cy="536.3" r="2.35"/><circle cx="625.2" cy="516.3" r="2.35"/><circle cx="614.4" cy="535.3" r="2.35"/><circle cx="614.4" cy="518.1" r="2.35"/><circle cx="615.4" cy="534.2" r="2.35"/><circle cx="627.9" cy="526.8" r="2.35"/><circle cx="623.4" cy="520.8" r="2.35"/><circle cx="621.0" cy="514.2" r="2.35"/><circle cx="626.9" cy="533.5" r="2.35"/><circle cx="620.0" cy="525.5" r="2.35"/><circle cx="619.8" cy="533.8" r="2.35"/><circle cx="616.1" cy="510.1" r="2.35"/><circle cx="614.9" cy="535.5" r="2.35"/><circle cx="622.9" cy="509.4" r="2.35"/><circle cx="613.2" cy="514.1" r="2.35"/><circle cx="623.3" cy="531.8" r="2.35"/><circle cx="623.9" cy="533.5" r="2.35"/><circle cx="622.2" cy="524.3" r="2.35"/><circle cx="622.2" cy="533.9" r="2.35"/><circle cx="619.7" cy="518.0" r="2.35"/><circle cx="618.7" cy="519.5" r="2.35"/><circle cx="625.7" cy="535.9" r="2.35"/><circle cx="627.6" cy="516.1" r="2.35"/><circle cx="618.5" cy="532.8" r="2.35"/><circle cx="617.4" cy="523.5" r="2.35"/><circle cx="617.3" cy="510.3" r="2.35"/><circle cx="615.4" cy="534.7" r="2.35"/><circle cx="626.7" cy="508.1" r="2.35"/><circle cx="620.9" cy="536.4" r="2.35"/><circle cx="618.7" cy="515.6" r="2.35"/><circle cx="618.6" cy="516.8" r="2.35"/><circle cx="628.6" cy="510.8" r="2.35"/><circle cx="619.1" cy="528.8" r="2.35"/><circle cx="622.9" cy="528.4" r="2.35"/><circle cx="619.3" cy="513.7" r="2.35"/><circle cx="613.7" cy="512.3" r="2.35"/><circle cx="612.1" cy="514.1" r="2.35"/><circle cx="624.0" cy="517.3" r="2.35"/><circle cx="621.4" cy="514.8" r="2.35"/><circle cx="611.9" cy="519.9" r="2.35"/><circle cx="617.0" cy="528.1" r="2.35"/><circle cx="623.2" cy="524.2" r="2.35"/><circle cx="612.3" cy="531.2" r="2.35"/><circle cx="623.3" cy="516.6" r="2.35"/><circle cx="612.2" cy="530.7" r="2.35"/><circle cx="617.1" cy="536.0" r="2.35"/><circle cx="619.1" cy="511.9" r="2.35"/><circle cx="620.9" cy="510.0" r="2.35"/><circle cx="626.4" cy="524.5" r="2.35"/><circle cx="622.1" cy="533.0" r="2.35"/><circle cx="612.3" cy="534.4" r="2.35"/><circle cx="617.7" cy="521.0" r="2.35"/><circle cx="617.0" cy="517.4" r="2.35"/><circle cx="627.4" cy="524.2" r="2.35"/><circle cx="613.5" cy="517.1" r="2.35"/><circle cx="614.8" cy="530.4" r="2.35"/><circle cx="614.9" cy="532.6" r="2.35"/><circle cx="621.6" cy="518.1" r="2.35"/><circle cx="626.2" cy="532.0" r="2.35"/><circle cx="615.6" cy="523.6" r="2.35"/><circle cx="628.1" cy="508.0" r="2.35"/><circle cx="612.2" cy="524.5" r="2.35"/><circle cx="625.3" cy="523.6" r="2.35"/><circle cx="624.7" cy="521.3" r="2.35"/><circle cx="612.5" cy="516.8" r="2.35"/><circle cx="617.2" cy="513.4" r="2.35"/><circle cx="612.5" cy="528.2" r="2.35"/><circle cx="614.7" cy="519.0" r="2.35"/><circle cx="625.6" cy="510.9" r="2.35"/><circle cx="627.0" cy="534.9" r="2.35"/><circle cx="613.8" cy="522.2" r="2.35"/><circle cx="621.4" cy="532.9" r="2.35"/><circle cx="616.6" cy="509.8" r="2.35"/><circle cx="620.3" cy="513.7" r="2.35"/><circle cx="619.8" cy="529.8" r="2.35"/><circle cx="626.4" cy="517.9" r="2.35"/><circle cx="617.1" cy="532.7" r="2.35"/><circle cx="624.6" cy="528.9" r="2.35"/><circle cx="618.2" cy="521.8" r="2.35"/><circle cx="623.2" cy="510.8" r="2.35"/><circle cx="618.6" cy="526.0" r="2.35"/><circle cx="627.2" cy="517.7" r="2.35"/><circle cx="628.9" cy="523.8" r="2.35"/><circle cx="617.7" cy="511.7" r="2.35"/><circle cx="620.4" cy="526.9" r="2.35"/><circle cx="622.2" cy="517.4" r="2.35"/><circle cx="614.6" cy="535.9" r="2.35"/><circle cx="628.9" cy="517.4" r="2.35"/><circle cx="622.4" cy="526.7" r="2.35"/><circle cx="616.3" cy="516.7" r="2.35"/><circle cx="613.1" cy="525.2" r="2.35"/><circle cx="614.2" cy="524.1" r="2.35"/><circle cx="618.9" cy="513.6" r="2.35"/><circle cx="623.3" cy="534.4" r="2.35"/><circle cx="622.3" cy="528.2" r="2.35"/><circle cx="627.2" cy="515.8" r="2.35"/><circle cx="626.9" cy="516.4" r="2.35"/><circle cx="620.6" cy="528.0" r="2.35"/><circle cx="624.0" cy="534.3" r="2.35"/><circle cx="614.1" cy="523.7" r="2.35"/><circle cx="622.9" cy="518.6" r="2.35"/><circle cx="622.8" cy="534.1" r="2.35"/><circle cx="626.5" cy="545.5" r="2.35"/><circle cx="626.3" cy="552.7" r="2.35"/><circle cx="619.7" cy="539.0" r="2.35"/><circle cx="622.6" cy="544.2" r="2.35"/><circle cx="626.8" cy="559.2" r="2.35"/><circle cx="620.8" cy="550.5" r="2.35"/><circle cx="619.5" cy="542.0" r="2.35"/><circle cx="622.0" cy="558.6" r="2.35"/><circle cx="626.2" cy="553.3" r="2.35"/><circle cx="623.4" cy="543.2" r="2.35"/><circle cx="618.5" cy="554.8" r="2.35"/><circle cx="622.3" cy="551.4" r="2.35"/><circle cx="625.2" cy="542.9" r="2.35"/><circle cx="619.3" cy="549.8" r="2.35"/><circle cx="619.7" cy="549.0" r="2.35"/><circle cx="621.0" cy="555.0" r="2.35"/><circle cx="625.4" cy="544.2" r="2.35"/><circle cx="622.4" cy="555.0" r="2.35"/><circle cx="624.0" cy="557.6" r="2.35"/><circle cx="627.0" cy="553.2" r="2.35"/><circle cx="625.0" cy="542.1" r="2.35"/><circle cx="620.5" cy="548.3" r="2.35"/><circle cx="617.3" cy="549.1" r="2.35"/><circle cx="620.1" cy="539.2" r="2.35"/><circle cx="626.2" cy="549.6" r="2.35"/><circle cx="622.9" cy="541.9" r="2.35"/><circle cx="621.0" cy="543.8" r="2.35"/><circle cx="624.9" cy="538.9" r="2.35"/><circle cx="622.0" cy="555.9" r="2.35"/><circle cx="623.9" cy="541.0" r="2.35"/><circle cx="620.4" cy="543.7" r="2.35"/><circle cx="622.2" cy="546.3" r="2.35"/><circle cx="616.1" cy="547.0" r="2.35"/><circle cx="622.3" cy="551.2" r="2.35"/><circle cx="618.0" cy="540.3" r="2.35"/><circle cx="618.8" cy="539.3" r="2.35"/><circle cx="620.4" cy="552.0" r="2.35"/><circle cx="619.6" cy="551.3" r="2.35"/><circle cx="622.0" cy="543.4" r="2.35"/><circle cx="623.7" cy="555.0" r="2.35"/><circle cx="627.3" cy="548.4" r="2.35"/><circle cx="619.5" cy="547.8" r="2.35"/><circle cx="625.5" cy="551.8" r="2.35"/><circle cx="621.3" cy="539.1" r="2.35"/><circle cx="625.3" cy="549.8" r="2.35"/><circle cx="619.1" cy="548.9" r="2.35"/><circle cx="622.3" cy="540.9" r="2.35"/><circle cx="627.5" cy="554.5" r="2.35"/><circle cx="619.2" cy="543.1" r="2.35"/><circle cx="627.2" cy="546.7" r="2.35"/><circle cx="619.8" cy="555.5" r="2.35"/><circle cx="617.5" cy="540.6" r="2.35"/><circle cx="621.6" cy="538.2" r="2.35"/><circle cx="625.4" cy="556.2" r="2.35"/><circle cx="623.4" cy="559.3" r="2.35"/><circle cx="622.6" cy="544.2" r="2.35"/><circle cx="616.9" cy="546.3" r="2.35"/><circle cx="620.2" cy="547.5" r="2.35"/><circle cx="619.6" cy="551.1" r="2.35"/><circle cx="621.6" cy="542.5" r="2.35"/><circle cx="620.9" cy="546.2" r="2.35"/><circle cx="619.0" cy="549.5" r="2.35"/><circle cx="616.2" cy="542.3" r="2.35"/><circle cx="620.8" cy="552.3" r="2.35"/><circle cx="617.3" cy="554.0" r="2.35"/><circle cx="605.4" cy="533.8" r="2.35"/><circle cx="604.4" cy="515.4" r="2.35"/><circle cx="607.6" cy="515.8" r="2.35"/><circle cx="602.3" cy="516.8" r="2.35"/><circle cx="607.0" cy="510.1" r="2.35"/><circle cx="602.5" cy="527.2" r="2.35"/><circle cx="607.7" cy="517.3" r="2.35"/><circle cx="605.8" cy="520.8" r="2.35"/><circle cx="604.0" cy="518.4" r="2.35"/><circle cx="607.6" cy="516.6" r="2.35"/><circle cx="605.1" cy="528.1" r="2.35"/><circle cx="607.7" cy="522.8" r="2.35"/><circle cx="602.4" cy="528.8" r="2.35"/><circle cx="600.1" cy="510.3" r="2.35"/><circle cx="600.7" cy="516.6" r="2.35"/><circle cx="607.8" cy="516.1" r="2.35"/><circle cx="607.8" cy="527.8" r="2.35"/><circle cx="605.6" cy="534.0" r="2.35"/><circle cx="604.0" cy="533.1" r="2.35"/><circle cx="600.8" cy="516.0" r="2.35"/><circle cx="606.9" cy="526.0" r="2.35"/><circle cx="606.7" cy="514.5" r="2.35"/><circle cx="604.7" cy="517.6" r="2.35"/><circle cx="600.5" cy="528.7" r="2.35"/><circle cx="602.8" cy="512.3" r="2.35"/><circle cx="604.9" cy="521.5" r="2.35"/><circle cx="601.2" cy="526.3" r="2.35"/><circle cx="605.3" cy="554.6" r="2.35"/><circle cx="604.4" cy="550.4" r="2.35"/><circle cx="604.0" cy="544.4" r="2.35"/><circle cx="605.1" cy="553.1" r="2.35"/><circle cx="601.6" cy="548.1" r="2.35"/><circle cx="601.9" cy="553.7" r="2.35"/><circle cx="602.7" cy="553.9" r="2.35"/><circle cx="606.4" cy="551.2" r="2.35"/><circle cx="600.2" cy="540.2" r="2.35"/><circle cx="603.3" cy="548.1" r="2.35"/><circle cx="605.6" cy="550.9" r="2.35"/><circle cx="641.5" cy="510.2" r="2.35"/><circle cx="654.7" cy="508.8" r="2.35"/><circle cx="632.9" cy="522.3" r="2.35"/><circle cx="638.6" cy="558.3" r="2.35"/><circle cx="634.8" cy="546.1" r="2.35"/><circle cx="648.9" cy="544.0" r="2.35"/><circle cx="637.6" cy="557.6" r="2.35"/><circle cx="638.9" cy="556.6" r="2.35"/><circle cx="656.8" cy="501.5" r="2.35"/><circle cx="649.0" cy="533.1" r="2.35"/><circle cx="645.6" cy="523.0" r="2.35"/><circle cx="640.4" cy="513.2" r="2.35"/><circle cx="635.7" cy="548.1" r="2.35"/><circle cx="633.7" cy="543.9" r="2.35"/><circle cx="643.2" cy="547.3" r="2.35"/><circle cx="642.4" cy="558.1" r="2.35"/><circle cx="649.5" cy="526.0" r="2.35"/><circle cx="631.9" cy="524.4" r="2.35"/><circle cx="633.8" cy="550.4" r="2.35"/><circle cx="659.2" cy="554.6" r="2.35"/><circle cx="656.8" cy="505.4" r="2.35"/><circle cx="643.2" cy="508.3" r="2.35"/><circle cx="649.7" cy="503.3" r="2.35"/><circle cx="634.6" cy="531.7" r="2.35"/><circle cx="632.4" cy="508.7" r="2.35"/><circle cx="656.3" cy="543.6" r="2.35"/><circle cx="631.0" cy="533.0" r="2.35"/><circle cx="652.8" cy="540.3" r="2.35"/><circle cx="655.3" cy="548.9" r="2.35"/><circle cx="649.5" cy="531.2" r="2.35"/><circle cx="636.8" cy="524.5" r="2.35"/><circle cx="632.4" cy="556.5" r="2.35"/><circle cx="642.5" cy="512.4" r="2.35"/><circle cx="634.8" cy="523.2" r="2.35"/><circle cx="648.1" cy="517.8" r="2.35"/><circle cx="649.6" cy="510.7" r="2.35"/><circle cx="659.6" cy="540.7" r="2.35"/><circle cx="642.4" cy="529.9" r="2.35"/><circle cx="651.2" cy="555.0" r="2.35"/><circle cx="654.5" cy="530.9" r="2.35"/><circle cx="639.7" cy="541.8" r="2.35"/><circle cx="634.7" cy="535.5" r="2.35"/><circle cx="636.7" cy="525.6" r="2.35"/><circle cx="631.7" cy="515.1" r="2.35"/><circle cx="634.3" cy="508.2" r="2.35"/><circle cx="649.8" cy="508.4" r="2.35"/><circle cx="634.2" cy="559.0" r="2.35"/><circle cx="648.3" cy="544.2" r="2.35"/><circle cx="649.5" cy="555.5" r="2.35"/><circle cx="645.5" cy="536.9" r="2.35"/><circle cx="636.3" cy="548.5" r="2.35"/><circle cx="633.6" cy="524.5" r="2.35"/><circle cx="657.3" cy="519.2" r="2.35"/><circle cx="637.6" cy="528.1" r="2.35"/><circle cx="637.0" cy="531.6" r="2.35"/><circle cx="630.2" cy="510.5" r="2.35"/><circle cx="646.0" cy="518.2" r="2.35"/><circle cx="630.6" cy="529.0" r="2.35"/><circle cx="659.0" cy="513.4" r="2.35"/><circle cx="658.4" cy="522.6" r="2.35"/><circle cx="653.1" cy="542.7" r="2.35"/><circle cx="646.1" cy="548.9" r="2.35"/><circle cx="654.6" cy="511.9" r="2.35"/><circle cx="649.9" cy="555.9" r="2.35"/><circle cx="647.3" cy="529.1" r="2.35"/><circle cx="641.7" cy="528.0" r="2.35"/><circle cx="642.8" cy="515.7" r="2.35"/><circle cx="635.4" cy="516.0" r="2.35"/><circle cx="639.5" cy="517.5" r="2.35"/><circle cx="652.4" cy="518.7" r="2.35"/><circle cx="652.6" cy="554.0" r="2.35"/><circle cx="658.7" cy="540.6" r="2.35"/><circle cx="658.7" cy="534.2" r="2.35"/><circle cx="658.1" cy="510.5" r="2.35"/><circle cx="657.9" cy="539.7" r="2.35"/><circle cx="647.0" cy="525.4" r="2.35"/><circle cx="650.0" cy="557.4" r="2.35"/><circle cx="652.8" cy="529.3" r="2.35"/><circle cx="660.6" cy="546.3" r="2.35"/><circle cx="637.4" cy="546.9" r="2.35"/><circle cx="634.6" cy="554.4" r="2.35"/><circle cx="636.9" cy="556.5" r="2.35"/><circle cx="641.7" cy="518.3" r="2.35"/><circle cx="636.5" cy="546.6" r="2.35"/><circle cx="632.0" cy="512.6" r="2.35"/><circle cx="658.4" cy="536.3" r="2.35"/><circle cx="649.7" cy="546.0" r="2.35"/><circle cx="647.4" cy="523.2" r="2.35"/><circle cx="646.0" cy="551.8" r="2.35"/><circle cx="630.5" cy="525.9" r="2.35"/><circle cx="651.1" cy="509.3" r="2.35"/><circle cx="644.0" cy="511.8" r="2.35"/><circle cx="639.1" cy="545.2" r="2.35"/><circle cx="650.1" cy="518.6" r="2.35"/><circle cx="641.0" cy="515.7" r="2.35"/><circle cx="633.2" cy="555.7" r="2.35"/><circle cx="660.6" cy="554.9" r="2.35"/><circle cx="655.0" cy="534.7" r="2.35"/><circle cx="653.5" cy="525.3" r="2.35"/><circle cx="652.3" cy="518.8" r="2.35"/><circle cx="637.7" cy="543.2" r="2.35"/><circle cx="654.2" cy="552.2" r="2.35"/><circle cx="640.3" cy="518.3" r="2.35"/><circle cx="638.7" cy="515.4" r="2.35"/><circle cx="635.2" cy="516.2" r="2.35"/><circle cx="659.3" cy="551.6" r="2.35"/><circle cx="649.3" cy="503.5" r="2.35"/><circle cx="661.1" cy="551.1" r="2.35"/><circle cx="636.3" cy="526.3" r="2.35"/><circle cx="639.7" cy="534.2" r="2.35"/><circle cx="645.5" cy="540.5" r="2.35"/><circle cx="651.8" cy="556.7" r="2.35"/><circle cx="651.2" cy="520.5" r="2.35"/><circle cx="648.6" cy="523.1" r="2.35"/><circle cx="650.3" cy="529.3" r="2.35"/><circle cx="653.7" cy="537.8" r="2.35"/><circle cx="647.2" cy="517.6" r="2.35"/><circle cx="640.8" cy="556.9" r="2.35"/><circle cx="634.3" cy="559.2" r="2.35"/><circle cx="634.4" cy="548.7" r="2.35"/><circle cx="638.6" cy="541.8" r="2.35"/><circle cx="634.5" cy="557.4" r="2.35"/><circle cx="657.1" cy="528.9" r="2.35"/><circle cx="656.2" cy="556.0" r="2.35"/><circle cx="635.9" cy="528.9" r="2.35"/><circle cx="632.4" cy="514.4" r="2.35"/><circle cx="654.8" cy="546.1" r="2.35"/><circle cx="649.0" cy="514.7" r="2.35"/><circle cx="635.8" cy="517.5" r="2.35"/><circle cx="638.6" cy="535.6" r="2.35"/><circle cx="647.3" cy="523.3" r="2.35"/><circle cx="657.2" cy="522.2" r="2.35"/><circle cx="649.0" cy="543.6" r="2.35"/><circle cx="655.8" cy="533.9" r="2.35"/><circle cx="633.1" cy="555.6" r="2.35"/><circle cx="653.4" cy="506.0" r="2.35"/><circle cx="634.4" cy="541.5" r="2.35"/><circle cx="641.7" cy="549.4" r="2.35"/><circle cx="652.6" cy="513.0" r="2.35"/><circle cx="650.8" cy="554.5" r="2.35"/><circle cx="634.0" cy="519.8" r="2.35"/><circle cx="652.5" cy="536.1" r="2.35"/><circle cx="642.5" cy="547.5" r="2.35"/><circle cx="634.1" cy="550.2" r="2.35"/><circle cx="656.6" cy="517.6" r="2.35"/><circle cx="645.5" cy="526.9" r="2.35"/><circle cx="646.9" cy="522.5" r="2.35"/><circle cx="662.3" cy="548.8" r="2.35"/><circle cx="632.8" cy="557.6" r="2.35"/><circle cx="645.4" cy="542.9" r="2.35"/><circle cx="640.1" cy="509.7" r="2.35"/><circle cx="653.5" cy="530.2" r="2.35"/><circle cx="653.1" cy="514.2" r="2.35"/><circle cx="639.3" cy="555.0" r="2.35"/><circle cx="650.3" cy="549.8" r="2.35"/><circle cx="657.6" cy="501.2" r="2.35"/><circle cx="635.7" cy="541.8" r="2.35"/><circle cx="646.8" cy="503.8" r="2.35"/><circle cx="662.8" cy="555.4" r="2.35"/><circle cx="633.9" cy="538.2" r="2.35"/><circle cx="652.5" cy="557.2" r="2.35"/><circle cx="630.3" cy="528.1" r="2.35"/><circle cx="636.2" cy="535.5" r="2.35"/><circle cx="648.7" cy="537.7" r="2.35"/><circle cx="649.3" cy="524.2" r="2.35"/><circle cx="633.1" cy="512.9" r="2.35"/><circle cx="636.1" cy="558.2" r="2.35"/><circle cx="650.1" cy="521.6" r="2.35"/><circle cx="656.6" cy="505.5" r="2.35"/><circle cx="648.1" cy="543.8" r="2.35"/><circle cx="642.7" cy="551.6" r="2.35"/><circle cx="651.1" cy="544.0" r="2.35"/><circle cx="634.4" cy="535.2" r="2.35"/><circle cx="642.8" cy="556.8" r="2.35"/><circle cx="658.9" cy="549.0" r="2.35"/><circle cx="641.2" cy="534.7" r="2.35"/><circle cx="647.4" cy="544.1" r="2.35"/><circle cx="655.5" cy="542.0" r="2.35"/><circle cx="630.6" cy="520.0" r="2.35"/><circle cx="658.5" cy="542.7" r="2.35"/><circle cx="638.8" cy="510.5" r="2.35"/><circle cx="659.8" cy="536.1" r="2.35"/><circle cx="651.1" cy="526.2" r="2.35"/><circle cx="647.0" cy="521.1" r="2.35"/><circle cx="646.3" cy="557.1" r="2.35"/><circle cx="630.9" cy="508.0" r="2.35"/><circle cx="657.1" cy="552.0" r="2.35"/><circle cx="632.0" cy="543.6" r="2.35"/><circle cx="629.7" cy="516.4" r="2.35"/><circle cx="633.9" cy="550.9" r="2.35"/><circle cx="633.3" cy="508.1" r="2.35"/><circle cx="657.3" cy="545.7" r="2.35"/><circle cx="631.4" cy="520.0" r="2.35"/><circle cx="642.5" cy="529.4" r="2.35"/><circle cx="633.1" cy="522.6" r="2.35"/><circle cx="654.5" cy="551.1" r="2.35"/><circle cx="647.9" cy="517.9" r="2.35"/><circle cx="657.3" cy="523.5" r="2.35"/><circle cx="634.8" cy="546.5" r="2.35"/><circle cx="646.4" cy="505.7" r="2.35"/><circle cx="639.9" cy="519.3" r="2.35"/><circle cx="653.3" cy="514.8" r="2.35"/><circle cx="635.2" cy="553.9" r="2.35"/><circle cx="637.7" cy="511.5" r="2.35"/><circle cx="634.6" cy="535.1" r="2.35"/><circle cx="651.7" cy="522.8" r="2.35"/><circle cx="637.5" cy="529.7" r="2.35"/><circle cx="652.5" cy="525.3" r="2.35"/><circle cx="642.6" cy="546.1" r="2.35"/><circle cx="653.2" cy="538.7" r="2.35"/><circle cx="660.9" cy="552.1" r="2.35"/><circle cx="657.6" cy="521.9" r="2.35"/><circle cx="653.9" cy="538.1" r="2.35"/><circle cx="657.0" cy="547.6" r="2.35"/><circle cx="653.9" cy="553.4" r="2.35"/><circle cx="632.4" cy="507.3" r="2.35"/><circle cx="631.9" cy="524.1" r="2.35"/><circle cx="643.3" cy="541.9" r="2.35"/><circle cx="648.6" cy="522.8" r="2.35"/><circle cx="642.6" cy="531.4" r="2.35"/><circle cx="654.8" cy="502.4" r="2.35"/><circle cx="649.6" cy="516.1" r="2.35"/><circle cx="641.9" cy="517.2" r="2.35"/><circle cx="649.7" cy="543.2" r="2.35"/><circle cx="631.7" cy="541.2" r="2.35"/><circle cx="632.8" cy="520.1" r="2.35"/><circle cx="639.9" cy="549.3" r="2.35"/><circle cx="649.4" cy="541.6" r="2.35"/><circle cx="631.9" cy="528.7" r="2.35"/><circle cx="648.6" cy="505.0" r="2.35"/><circle cx="635.3" cy="518.7" r="2.35"/><circle cx="658.1" cy="533.3" r="2.35"/><circle cx="640.2" cy="522.3" r="2.35"/><circle cx="631.8" cy="555.8" r="2.35"/><circle cx="631.2" cy="511.1" r="2.35"/><circle cx="645.4" cy="533.5" r="2.35"/><circle cx="634.7" cy="522.7" r="2.35"/><circle cx="633.1" cy="526.6" r="2.35"/><circle cx="642.2" cy="511.2" r="2.35"/><circle cx="648.1" cy="548.7" r="2.35"/><circle cx="653.6" cy="525.0" r="2.35"/><circle cx="641.1" cy="510.6" r="2.35"/><circle cx="643.1" cy="537.3" r="2.35"/><circle cx="652.4" cy="543.3" r="2.35"/><circle cx="644.8" cy="522.8" r="2.35"/><circle cx="656.5" cy="553.5" r="2.35"/><circle cx="642.7" cy="518.6" r="2.35"/><circle cx="635.9" cy="513.6" r="2.35"/><circle cx="651.6" cy="504.0" r="2.35"/><circle cx="635.6" cy="527.9" r="2.35"/><circle cx="637.3" cy="532.0" r="2.35"/><circle cx="657.9" cy="538.1" r="2.35"/><circle cx="645.9" cy="556.3" r="2.35"/><circle cx="630.5" cy="530.8" r="2.35"/><circle cx="648.8" cy="537.6" r="2.35"/><circle cx="629.3" cy="511.2" r="2.35"/><circle cx="633.6" cy="556.9" r="2.35"/><circle cx="632.6" cy="511.1" r="2.35"/><circle cx="632.3" cy="536.6" r="2.35"/><circle cx="639.5" cy="540.0" r="2.35"/><circle cx="655.6" cy="505.8" r="2.35"/><circle cx="641.3" cy="520.4" r="2.35"/><circle cx="631.0" cy="523.4" r="2.35"/><circle cx="656.4" cy="501.9" r="2.35"/><circle cx="654.7" cy="550.8" r="2.35"/><circle cx="644.3" cy="536.6" r="2.35"/><circle cx="635.3" cy="527.2" r="2.35"/><circle cx="652.4" cy="533.6" r="2.35"/><circle cx="632.8" cy="547.9" r="2.35"/><circle cx="653.9" cy="505.4" r="2.35"/><circle cx="652.6" cy="539.0" r="2.35"/><circle cx="645.8" cy="544.2" r="2.35"/><circle cx="634.9" cy="558.2" r="2.35"/><circle cx="634.3" cy="524.2" r="2.35"/><circle cx="636.9" cy="530.9" r="2.35"/><circle cx="655.9" cy="529.0" r="2.35"/><circle cx="645.9" cy="534.7" r="2.35"/><circle cx="650.9" cy="550.2" r="2.35"/><circle cx="641.4" cy="521.3" r="2.35"/><circle cx="633.9" cy="547.7" r="2.35"/><circle cx="653.5" cy="506.3" r="2.35"/><circle cx="655.3" cy="518.2" r="2.35"/><circle cx="633.7" cy="522.3" r="2.35"/><circle cx="644.1" cy="529.6" r="2.35"/><circle cx="659.0" cy="540.4" r="2.35"/><circle cx="643.3" cy="530.8" r="2.35"/><circle cx="632.2" cy="507.1" r="2.35"/><circle cx="657.1" cy="518.1" r="2.35"/><circle cx="635.2" cy="524.9" r="2.35"/><circle cx="648.5" cy="517.7" r="2.35"/><circle cx="655.1" cy="524.1" r="2.35"/><circle cx="651.1" cy="504.0" r="2.35"/><circle cx="656.3" cy="534.7" r="2.35"/><circle cx="651.8" cy="531.9" r="2.35"/><circle cx="643.8" cy="531.1" r="2.35"/><circle cx="635.8" cy="518.9" r="2.35"/><circle cx="657.4" cy="555.1" r="2.35"/><circle cx="650.0" cy="541.7" r="2.35"/><circle cx="660.6" cy="554.2" r="2.35"/><circle cx="652.2" cy="555.6" r="2.35"/><circle cx="639.1" cy="539.4" r="2.35"/><circle cx="651.0" cy="532.1" r="2.35"/><circle cx="651.1" cy="530.9" r="2.35"/><circle cx="662.1" cy="554.8" r="2.35"/><circle cx="648.3" cy="551.7" r="2.35"/><circle cx="641.9" cy="548.6" r="2.35"/><circle cx="635.0" cy="531.7" r="2.35"/><circle cx="642.7" cy="536.7" r="2.35"/><circle cx="637.2" cy="542.9" r="2.35"/><circle cx="652.0" cy="529.9" r="2.35"/><circle cx="637.9" cy="546.1" r="2.35"/><circle cx="655.7" cy="535.1" r="2.35"/><circle cx="656.1" cy="506.1" r="2.35"/><circle cx="632.7" cy="527.6" r="2.35"/><circle cx="653.7" cy="519.4" r="2.35"/><circle cx="649.3" cy="536.2" r="2.35"/><circle cx="646.2" cy="537.6" r="2.35"/><circle cx="657.7" cy="528.1" r="2.35"/><circle cx="637.4" cy="530.0" r="2.35"/><circle cx="636.5" cy="532.6" r="2.35"/><circle cx="646.0" cy="505.9" r="2.35"/><circle cx="647.2" cy="531.8" r="2.35"/><circle cx="641.5" cy="510.8" r="2.35"/><circle cx="653.5" cy="515.7" r="2.35"/><circle cx="642.0" cy="527.1" r="2.35"/><circle cx="642.7" cy="527.8" r="2.35"/><circle cx="652.4" cy="509.1" r="2.35"/><circle cx="640.5" cy="522.1" r="2.35"/><circle cx="653.0" cy="551.7" r="2.35"/><circle cx="642.8" cy="528.2" r="2.35"/><circle cx="638.0" cy="531.0" r="2.35"/><circle cx="636.5" cy="543.4" r="2.35"/><circle cx="646.2" cy="551.0" r="2.35"/><circle cx="645.1" cy="505.1" r="2.35"/><circle cx="653.6" cy="528.7" r="2.35"/><circle cx="650.7" cy="512.7" r="2.35"/><circle cx="658.3" cy="528.3" r="2.35"/><circle cx="649.3" cy="535.2" r="2.35"/><circle cx="652.1" cy="535.3" r="2.35"/><circle cx="631.1" cy="539.3" r="2.35"/><circle cx="659.3" cy="553.7" r="2.35"/><circle cx="650.0" cy="527.4" r="2.35"/><circle cx="654.7" cy="545.2" r="2.35"/><circle cx="630.4" cy="533.9" r="2.35"/><circle cx="646.2" cy="528.7" r="2.35"/><circle cx="639.6" cy="514.9" r="2.35"/><circle cx="652.9" cy="519.1" r="2.35"/><circle cx="630.7" cy="508.3" r="2.35"/><circle cx="649.5" cy="503.7" r="2.35"/><circle cx="653.4" cy="536.9" r="2.35"/><circle cx="654.0" cy="548.9" r="2.35"/><circle cx="647.9" cy="529.7" r="2.35"/><circle cx="641.3" cy="521.8" r="2.35"/><circle cx="640.6" cy="553.5" r="2.35"/><circle cx="638.1" cy="554.3" r="2.35"/><circle cx="641.9" cy="505.5" r="2.35"/><circle cx="652.9" cy="541.3" r="2.35"/><circle cx="658.1" cy="505.6" r="2.35"/><circle cx="651.6" cy="555.3" r="2.35"/><circle cx="655.7" cy="555.1" r="2.35"/><circle cx="633.1" cy="518.2" r="2.35"/><circle cx="649.2" cy="509.8" r="2.35"/><circle cx="632.0" cy="556.5" r="2.35"/><circle cx="654.2" cy="541.5" r="2.35"/><circle cx="642.2" cy="531.0" r="2.35"/><circle cx="638.2" cy="529.5" r="2.35"/><circle cx="636.6" cy="558.4" r="2.35"/><circle cx="652.1" cy="523.8" r="2.35"/><circle cx="648.5" cy="512.8" r="2.35"/><circle cx="631.6" cy="539.7" r="2.35"/><circle cx="644.2" cy="557.9" r="2.35"/><circle cx="661.1" cy="544.3" r="2.35"/><circle cx="648.4" cy="549.4" r="2.35"/><circle cx="641.0" cy="554.3" r="2.35"/><circle cx="652.4" cy="518.2" r="2.35"/><circle cx="653.2" cy="526.3" r="2.35"/><circle cx="637.2" cy="525.6" r="2.35"/><circle cx="640.7" cy="511.6" r="2.35"/><circle cx="658.6" cy="534.7" r="2.35"/><circle cx="648.2" cy="504.7" r="2.35"/><circle cx="634.2" cy="538.8" r="2.35"/><circle cx="650.7" cy="549.8" r="2.35"/><circle cx="638.7" cy="517.0" r="2.35"/><circle cx="642.8" cy="557.2" r="2.35"/><circle cx="655.9" cy="504.0" r="2.35"/><circle cx="651.6" cy="533.4" r="2.35"/><circle cx="647.1" cy="541.6" r="2.35"/><circle cx="643.6" cy="531.6" r="2.35"/><circle cx="656.2" cy="521.0" r="2.35"/><circle cx="639.9" cy="518.6" r="2.35"/><circle cx="643.8" cy="551.7" r="2.35"/><circle cx="633.4" cy="530.7" r="2.35"/><circle cx="645.9" cy="511.2" r="2.35"/><circle cx="642.0" cy="540.3" r="2.35"/><circle cx="644.3" cy="557.1" r="2.35"/><circle cx="659.5" cy="547.0" r="2.35"/><circle cx="636.6" cy="550.5" r="2.35"/><circle cx="631.4" cy="541.2" r="2.35"/><circle cx="658.3" cy="535.6" r="2.35"/><circle cx="635.5" cy="547.9" r="2.35"/><circle cx="655.5" cy="525.5" r="2.35"/><circle cx="648.9" cy="543.2" r="2.35"/><circle cx="631.9" cy="518.9" r="2.35"/><circle cx="642.3" cy="531.7" r="2.35"/><circle cx="647.2" cy="556.6" r="2.35"/><circle cx="641.3" cy="536.4" r="2.35"/><circle cx="646.3" cy="517.6" r="2.35"/><circle cx="652.1" cy="539.7" r="2.35"/><circle cx="634.5" cy="553.0" r="2.35"/><circle cx="647.2" cy="540.4" r="2.35"/><circle cx="641.9" cy="543.2" r="2.35"/><circle cx="651.5" cy="510.6" r="2.35"/><circle cx="659.0" cy="551.3" r="2.35"/><circle cx="655.6" cy="537.3" r="2.35"/><circle cx="638.7" cy="508.3" r="2.35"/><circle cx="633.9" cy="551.3" r="2.35"/><circle cx="649.4" cy="552.5" r="2.35"/><circle cx="657.4" cy="502.2" r="2.35"/><circle cx="631.1" cy="507.4" r="2.35"/><circle cx="630.8" cy="527.7" r="2.35"/><circle cx="656.4" cy="543.7" r="2.35"/><circle cx="649.7" cy="541.7" r="2.35"/><circle cx="658.8" cy="549.0" r="2.35"/><circle cx="633.7" cy="540.5" r="2.35"/><circle cx="640.0" cy="511.8" r="2.35"/><circle cx="651.3" cy="508.1" r="2.35"/><circle cx="630.6" cy="518.5" r="2.35"/><circle cx="647.2" cy="533.0" r="2.35"/><circle cx="644.6" cy="539.0" r="2.35"/><circle cx="641.0" cy="552.2" r="2.35"/><circle cx="649.6" cy="551.0" r="2.35"/><circle cx="649.3" cy="548.7" r="2.35"/><circle cx="652.7" cy="555.6" r="2.35"/><circle cx="638.1" cy="506.1" r="2.35"/><circle cx="632.4" cy="534.4" r="2.35"/><circle cx="632.7" cy="548.1" r="2.35"/><circle cx="661.1" cy="552.0" r="2.35"/><circle cx="630.2" cy="517.4" r="2.35"/><circle cx="643.8" cy="513.1" r="2.35"/><circle cx="634.3" cy="533.7" r="2.35"/><circle cx="629.5" cy="514.0" r="2.35"/><circle cx="647.1" cy="520.7" r="2.35"/><circle cx="662.1" cy="549.3" r="2.35"/><circle cx="645.7" cy="536.1" r="2.35"/><circle cx="635.9" cy="536.0" r="2.35"/><circle cx="640.0" cy="542.6" r="2.35"/><circle cx="638.7" cy="558.1" r="2.35"/><circle cx="643.5" cy="557.2" r="2.35"/><circle cx="655.5" cy="502.4" r="2.35"/><circle cx="659.1" cy="545.6" r="2.35"/><circle cx="632.8" cy="525.0" r="2.35"/><circle cx="640.8" cy="512.5" r="2.35"/><circle cx="658.3" cy="550.8" r="2.35"/><circle cx="633.2" cy="547.3" r="2.35"/><circle cx="631.2" cy="523.5" r="2.35"/><circle cx="649.0" cy="537.3" r="2.35"/><circle cx="642.0" cy="548.0" r="2.35"/><circle cx="631.7" cy="533.3" r="2.35"/><circle cx="646.6" cy="538.8" r="2.35"/><circle cx="652.5" cy="519.7" r="2.35"/><circle cx="632.3" cy="507.4" r="2.35"/><circle cx="641.2" cy="511.9" r="2.35"/><circle cx="637.7" cy="526.3" r="2.35"/><circle cx="639.5" cy="542.3" r="2.35"/><circle cx="659.3" cy="545.0" r="2.35"/><circle cx="636.4" cy="520.1" r="2.35"/><circle cx="658.1" cy="542.3" r="2.35"/><circle cx="651.6" cy="545.0" r="2.35"/><circle cx="633.1" cy="528.1" r="2.35"/><circle cx="672.3" cy="519.9" r="2.35"/><circle cx="669.8" cy="496.8" r="2.35"/><circle cx="680.2" cy="525.6" r="2.35"/><circle cx="672.0" cy="513.6" r="2.35"/><circle cx="681.8" cy="520.3" r="2.35"/><circle cx="685.9" cy="521.7" r="2.35"/><circle cx="670.5" cy="513.1" r="2.35"/><circle cx="663.6" cy="504.9" r="2.35"/><circle cx="690.2" cy="526.8" r="2.35"/><circle cx="684.4" cy="518.0" r="2.35"/><circle cx="669.3" cy="511.2" r="2.35"/><circle cx="673.6" cy="513.1" r="2.35"/><circle cx="671.6" cy="503.7" r="2.35"/><circle cx="678.7" cy="518.1" r="2.35"/><circle cx="688.9" cy="524.8" r="2.35"/><circle cx="661.1" cy="500.9" r="2.35"/><circle cx="669.6" cy="524.5" r="2.35"/><circle cx="661.9" cy="523.3" r="2.35"/><circle cx="674.7" cy="510.8" r="2.35"/><circle cx="677.3" cy="515.8" r="2.35"/><circle cx="671.8" cy="519.0" r="2.35"/><circle cx="683.3" cy="510.6" r="2.35"/><circle cx="660.2" cy="514.2" r="2.35"/><circle cx="677.4" cy="501.8" r="2.35"/><circle cx="688.8" cy="522.9" r="2.35"/><circle cx="664.6" cy="501.9" r="2.35"/><circle cx="659.0" cy="501.5" r="2.35"/><circle cx="659.0" cy="507.7" r="2.35"/><circle cx="682.2" cy="517.3" r="2.35"/><circle cx="671.7" cy="512.0" r="2.35"/><circle cx="681.4" cy="522.6" r="2.35"/><circle cx="664.0" cy="497.8" r="2.35"/><circle cx="684.8" cy="527.3" r="2.35"/><circle cx="660.6" cy="520.3" r="2.35"/><circle cx="672.7" cy="510.1" r="2.35"/><circle cx="662.5" cy="503.0" r="2.35"/><circle cx="666.5" cy="524.2" r="2.35"/><circle cx="665.9" cy="514.4" r="2.35"/><circle cx="684.7" cy="513.8" r="2.35"/><circle cx="680.6" cy="522.1" r="2.35"/><circle cx="668.7" cy="527.5" r="2.35"/><circle cx="681.7" cy="506.7" r="2.35"/><circle cx="667.5" cy="496.5" r="2.35"/><circle cx="678.2" cy="521.0" r="2.35"/><circle cx="680.6" cy="502.9" r="2.35"/><circle cx="667.4" cy="512.8" r="2.35"/><circle cx="679.1" cy="516.0" r="2.35"/><circle cx="668.8" cy="510.0" r="2.35"/><circle cx="672.6" cy="501.2" r="2.35"/><circle cx="671.8" cy="505.6" r="2.35"/><circle cx="674.8" cy="503.6" r="2.35"/><circle cx="676.0" cy="501.1" r="2.35"/><circle cx="660.8" cy="520.7" r="2.35"/><circle cx="663.5" cy="509.7" r="2.35"/><circle cx="667.1" cy="526.1" r="2.35"/><circle cx="675.3" cy="519.1" r="2.35"/><circle cx="665.0" cy="512.9" r="2.35"/><circle cx="673.6" cy="521.5" r="2.35"/><circle cx="658.4" cy="510.7" r="2.35"/><circle cx="683.3" cy="510.3" r="2.35"/><circle cx="670.3" cy="528.1" r="2.35"/><circle cx="690.3" cy="525.6" r="2.35"/><circle cx="665.7" cy="521.0" r="2.35"/><circle cx="676.5" cy="498.7" r="2.35"/><circle cx="685.4" cy="511.9" r="2.35"/><circle cx="678.5" cy="502.9" r="2.35"/><circle cx="666.1" cy="501.3" r="2.35"/><circle cx="662.7" cy="514.9" r="2.35"/><circle cx="671.2" cy="497.0" r="2.35"/><circle cx="668.1" cy="496.4" r="2.35"/><circle cx="661.8" cy="516.4" r="2.35"/><circle cx="676.2" cy="495.4" r="2.35"/><circle cx="674.3" cy="507.2" r="2.35"/><circle cx="670.7" cy="510.3" r="2.35"/><circle cx="679.8" cy="519.9" r="2.35"/><circle cx="677.3" cy="503.9" r="2.35"/><circle cx="662.1" cy="501.6" r="2.35"/><circle cx="664.1" cy="520.7" r="2.35"/><circle cx="675.5" cy="523.6" r="2.35"/><circle cx="675.1" cy="522.5" r="2.35"/><circle cx="665.4" cy="513.6" r="2.35"/><circle cx="662.9" cy="520.8" r="2.35"/><circle cx="675.9" cy="523.4" r="2.35"/><circle cx="659.7" cy="503.7" r="2.35"/><circle cx="681.0" cy="519.4" r="2.35"/><circle cx="665.2" cy="502.5" r="2.35"/><circle cx="668.2" cy="529.1" r="2.35"/><circle cx="663.3" cy="508.1" r="2.35"/><circle cx="664.8" cy="504.6" r="2.35"/><circle cx="681.0" cy="510.1" r="2.35"/><circle cx="660.2" cy="522.0" r="2.35"/><circle cx="662.4" cy="503.9" r="2.35"/><circle cx="676.6" cy="495.3" r="2.35"/><circle cx="673.9" cy="515.4" r="2.35"/><circle cx="677.4" cy="526.4" r="2.35"/><circle cx="684.5" cy="512.1" r="2.35"/><circle cx="659.7" cy="500.6" r="2.35"/><circle cx="679.9" cy="510.6" r="2.35"/><circle cx="666.0" cy="507.8" r="2.35"/><circle cx="674.1" cy="504.6" r="2.35"/><circle cx="677.5" cy="507.9" r="2.35"/><circle cx="660.1" cy="510.8" r="2.35"/><circle cx="684.0" cy="522.6" r="2.35"/><circle cx="673.8" cy="504.7" r="2.35"/><circle cx="660.3" cy="513.9" r="2.35"/><circle cx="659.8" cy="509.5" r="2.35"/><circle cx="683.2" cy="515.1" r="2.35"/><circle cx="675.2" cy="507.9" r="2.35"/><circle cx="680.8" cy="523.0" r="2.35"/><circle cx="674.8" cy="498.0" r="2.35"/><circle cx="666.7" cy="504.1" r="2.35"/><circle cx="669.0" cy="498.9" r="2.35"/><circle cx="677.2" cy="517.7" r="2.35"/><circle cx="675.3" cy="528.5" r="2.35"/><circle cx="663.5" cy="526.6" r="2.35"/><circle cx="671.6" cy="499.3" r="2.35"/><circle cx="668.7" cy="529.0" r="2.35"/><circle cx="663.6" cy="522.0" r="2.35"/><circle cx="674.1" cy="509.0" r="2.35"/><circle cx="665.1" cy="505.8" r="2.35"/><circle cx="679.1" cy="501.3" r="2.35"/><circle cx="660.7" cy="502.7" r="2.35"/><circle cx="681.4" cy="528.0" r="2.35"/><circle cx="671.4" cy="502.3" r="2.35"/><circle cx="686.0" cy="521.2" r="2.35"/><circle cx="661.8" cy="498.8" r="2.35"/><circle cx="669.2" cy="499.4" r="2.35"/><circle cx="663.8" cy="507.1" r="2.35"/><circle cx="676.4" cy="495.3" r="2.35"/><circle cx="683.2" cy="508.2" r="2.35"/><circle cx="667.2" cy="508.5" r="2.35"/><circle cx="675.3" cy="526.9" r="2.35"/><circle cx="670.4" cy="495.2" r="2.35"/><circle cx="686.9" cy="519.8" r="2.35"/><circle cx="661.4" cy="515.1" r="2.35"/><circle cx="668.1" cy="500.6" r="2.35"/><circle cx="684.0" cy="512.8" r="2.35"/><circle cx="666.3" cy="507.1" r="2.35"/><circle cx="670.0" cy="518.5" r="2.35"/><circle cx="670.0" cy="501.5" r="2.35"/><circle cx="677.0" cy="528.1" r="2.35"/><circle cx="686.7" cy="514.6" r="2.35"/><circle cx="660.9" cy="523.5" r="2.35"/><circle cx="668.8" cy="514.9" r="2.35"/><circle cx="678.4" cy="503.5" r="2.35"/><circle cx="675.1" cy="496.0" r="2.35"/><circle cx="670.1" cy="510.4" r="2.35"/><circle cx="675.0" cy="500.7" r="2.35"/><circle cx="664.5" cy="514.5" r="2.35"/><circle cx="685.0" cy="525.0" r="2.35"/><circle cx="661.9" cy="521.9" r="2.35"/><circle cx="670.9" cy="515.3" r="2.35"/><circle cx="672.1" cy="523.2" r="2.35"/><circle cx="670.4" cy="507.5" r="2.35"/><circle cx="660.9" cy="500.1" r="2.35"/><circle cx="662.7" cy="512.1" r="2.35"/><circle cx="661.7" cy="521.6" r="2.35"/><circle cx="673.7" cy="520.2" r="2.35"/><circle cx="667.0" cy="513.8" r="2.35"/><circle cx="689.3" cy="524.6" r="2.35"/><circle cx="679.0" cy="521.1" r="2.35"/><circle cx="677.7" cy="526.2" r="2.35"/><circle cx="661.4" cy="508.0" r="2.35"/><circle cx="680.7" cy="507.6" r="2.35"/><circle cx="665.6" cy="504.0" r="2.35"/><circle cx="668.1" cy="497.7" r="2.35"/><circle cx="664.9" cy="519.3" r="2.35"/><circle cx="663.9" cy="498.6" r="2.35"/><circle cx="665.1" cy="506.4" r="2.35"/><circle cx="667.3" cy="507.1" r="2.35"/><circle cx="665.7" cy="506.6" r="2.35"/><circle cx="676.8" cy="520.7" r="2.35"/><circle cx="679.1" cy="525.2" r="2.35"/><circle cx="674.8" cy="496.5" r="2.35"/><circle cx="658.8" cy="508.6" r="2.35"/><circle cx="662.1" cy="527.5" r="2.35"/><circle cx="661.0" cy="508.4" r="2.35"/><circle cx="674.3" cy="508.2" r="2.35"/><circle cx="660.4" cy="505.7" r="2.35"/><circle cx="667.6" cy="507.6" r="2.35"/><circle cx="659.1" cy="526.9" r="2.35"/><circle cx="678.4" cy="510.0" r="2.35"/><circle cx="685.5" cy="515.6" r="2.35"/><circle cx="669.1" cy="513.2" r="2.35"/><circle cx="665.5" cy="512.1" r="2.35"/><circle cx="666.8" cy="505.9" r="2.35"/><circle cx="674.4" cy="505.5" r="2.35"/><circle cx="688.0" cy="526.2" r="2.35"/><circle cx="677.2" cy="502.7" r="2.35"/><circle cx="675.3" cy="518.8" r="2.35"/><circle cx="660.9" cy="518.9" r="2.35"/><circle cx="663.8" cy="501.3" r="2.35"/><circle cx="676.3" cy="524.1" r="2.35"/><circle cx="667.8" cy="508.9" r="2.35"/><circle cx="664.0" cy="523.8" r="2.35"/><circle cx="669.5" cy="520.3" r="2.35"/><circle cx="678.6" cy="502.4" r="2.35"/><circle cx="670.5" cy="510.7" r="2.35"/><circle cx="660.8" cy="500.7" r="2.35"/><circle cx="677.2" cy="507.8" r="2.35"/><circle cx="669.9" cy="500.4" r="2.35"/><circle cx="669.6" cy="508.2" r="2.35"/><circle cx="679.9" cy="500.8" r="2.35"/><circle cx="660.3" cy="527.2" r="2.35"/><circle cx="669.6" cy="497.8" r="2.35"/><circle cx="678.9" cy="509.5" r="2.35"/><circle cx="658.0" cy="502.4" r="2.35"/><circle cx="675.6" cy="506.7" r="2.35"/><circle cx="675.8" cy="496.0" r="2.35"/><circle cx="677.1" cy="513.0" r="2.35"/><circle cx="681.0" cy="518.2" r="2.35"/><circle cx="658.6" cy="505.4" r="2.35"/><circle cx="659.4" cy="507.4" r="2.35"/><circle cx="675.2" cy="526.5" r="2.35"/><circle cx="663.3" cy="507.2" r="2.35"/><circle cx="659.3" cy="514.3" r="2.35"/><circle cx="684.4" cy="525.4" r="2.35"/><circle cx="675.5" cy="498.0" r="2.35"/><circle cx="674.4" cy="497.6" r="2.35"/><circle cx="665.3" cy="497.2" r="2.35"/><circle cx="669.5" cy="495.4" r="2.35"/><circle cx="664.0" cy="524.0" r="2.35"/><circle cx="679.1" cy="505.3" r="2.35"/><circle cx="662.6" cy="509.9" r="2.35"/><circle cx="671.2" cy="498.2" r="2.35"/><circle cx="675.6" cy="510.9" r="2.35"/><circle cx="660.1" cy="517.1" r="2.35"/><circle cx="678.1" cy="521.0" r="2.35"/><circle cx="668.4" cy="528.9" r="2.35"/><circle cx="663.4" cy="507.2" r="2.35"/><circle cx="673.3" cy="503.1" r="2.35"/><circle cx="666.3" cy="506.7" r="2.35"/><circle cx="671.5" cy="523.1" r="2.35"/><circle cx="679.1" cy="521.7" r="2.35"/><circle cx="659.6" cy="508.5" r="2.35"/><circle cx="670.1" cy="507.9" r="2.35"/><circle cx="659.3" cy="514.6" r="2.35"/><circle cx="663.4" cy="499.7" r="2.35"/><circle cx="671.0" cy="507.2" r="2.35"/><circle cx="680.9" cy="509.5" r="2.35"/><circle cx="669.8" cy="516.4" r="2.35"/><circle cx="683.1" cy="526.5" r="2.35"/><circle cx="670.3" cy="512.7" r="2.35"/><circle cx="669.6" cy="521.2" r="2.35"/><circle cx="673.4" cy="516.5" r="2.35"/><circle cx="686.4" cy="513.2" r="2.35"/><circle cx="682.6" cy="510.4" r="2.35"/><circle cx="668.9" cy="522.7" r="2.35"/><circle cx="660.6" cy="514.8" r="2.35"/><circle cx="666.0" cy="504.8" r="2.35"/><circle cx="678.4" cy="513.3" r="2.35"/><circle cx="676.7" cy="525.0" r="2.35"/><circle cx="663.3" cy="508.3" r="2.35"/><circle cx="667.6" cy="527.8" r="2.35"/><circle cx="668.6" cy="510.8" r="2.35"/><circle cx="670.7" cy="499.3" r="2.35"/><circle cx="680.3" cy="505.8" r="2.35"/><circle cx="668.5" cy="503.9" r="2.35"/><circle cx="677.1" cy="515.1" r="2.35"/><circle cx="680.0" cy="526.2" r="2.35"/><circle cx="691.0" cy="526.4" r="2.35"/><circle cx="660.8" cy="504.7" r="2.35"/><circle cx="658.3" cy="503.9" r="2.35"/><circle cx="674.1" cy="520.5" r="2.35"/><circle cx="674.0" cy="502.5" r="2.35"/><circle cx="691.2" cy="526.8" r="2.35"/><circle cx="682.6" cy="539.8" r="2.35"/><circle cx="682.2" cy="545.4" r="2.35"/><circle cx="674.4" cy="533.8" r="2.35"/><circle cx="696.7" cy="542.5" r="2.35"/><circle cx="686.6" cy="531.9" r="2.35"/><circle cx="694.5" cy="534.0" r="2.35"/><circle cx="669.3" cy="533.0" r="2.35"/><circle cx="693.5" cy="533.7" r="2.35"/><circle cx="690.5" cy="531.7" r="2.35"/><circle cx="681.4" cy="535.1" r="2.35"/><circle cx="684.1" cy="546.5" r="2.35"/><circle cx="665.8" cy="528.6" r="2.35"/><circle cx="666.6" cy="527.1" r="2.35"/><circle cx="670.9" cy="530.7" r="2.35"/><circle cx="677.5" cy="542.6" r="2.35"/><circle cx="682.5" cy="531.2" r="2.35"/><circle cx="668.4" cy="534.2" r="2.35"/><circle cx="675.6" cy="544.2" r="2.35"/><circle cx="679.2" cy="539.9" r="2.35"/><circle cx="691.2" cy="531.5" r="2.35"/><circle cx="687.1" cy="526.4" r="2.35"/><circle cx="687.6" cy="537.3" r="2.35"/><circle cx="679.8" cy="532.7" r="2.35"/><circle cx="685.2" cy="543.3" r="2.35"/><circle cx="680.3" cy="548.2" r="2.35"/><circle cx="680.2" cy="540.1" r="2.35"/><circle cx="686.6" cy="531.7" r="2.35"/><circle cx="684.4" cy="529.2" r="2.35"/><circle cx="684.8" cy="532.0" r="2.35"/><circle cx="691.9" cy="542.7" r="2.35"/><circle cx="694.5" cy="542.2" r="2.35"/><circle cx="670.9" cy="535.9" r="2.35"/><circle cx="681.2" cy="538.1" r="2.35"/><circle cx="683.9" cy="543.7" r="2.35"/><circle cx="674.0" cy="533.0" r="2.35"/><circle cx="677.5" cy="545.6" r="2.35"/><circle cx="672.8" cy="542.2" r="2.35"/><circle cx="672.8" cy="536.2" r="2.35"/><circle cx="683.9" cy="539.1" r="2.35"/><circle cx="695.1" cy="534.6" r="2.35"/><circle cx="673.9" cy="531.0" r="2.35"/><circle cx="685.2" cy="526.9" r="2.35"/><circle cx="682.6" cy="541.8" r="2.35"/><circle cx="691.7" cy="531.3" r="2.35"/><circle cx="685.3" cy="531.9" r="2.35"/><circle cx="680.7" cy="543.7" r="2.35"/><circle cx="681.2" cy="538.3" r="2.35"/><circle cx="670.4" cy="536.9" r="2.35"/><circle cx="688.6" cy="542.2" r="2.35"/><circle cx="685.0" cy="533.1" r="2.35"/><circle cx="674.8" cy="531.9" r="2.35"/><circle cx="694.2" cy="535.9" r="2.35"/><circle cx="675.6" cy="531.0" r="2.35"/><circle cx="684.7" cy="537.6" r="2.35"/><circle cx="681.8" cy="533.1" r="2.35"/><circle cx="671.0" cy="536.3" r="2.35"/><circle cx="677.1" cy="527.8" r="2.35"/><circle cx="687.3" cy="543.5" r="2.35"/><circle cx="683.3" cy="527.0" r="2.35"/><circle cx="676.6" cy="543.8" r="2.35"/><circle cx="671.9" cy="531.2" r="2.35"/><circle cx="677.9" cy="526.4" r="2.35"/><circle cx="695.1" cy="538.8" r="2.35"/><circle cx="691.7" cy="533.4" r="2.35"/><circle cx="676.5" cy="528.5" r="2.35"/><circle cx="676.6" cy="536.6" r="2.35"/><circle cx="692.1" cy="532.8" r="2.35"/><circle cx="694.8" cy="539.9" r="2.35"/><circle cx="692.6" cy="540.9" r="2.35"/><circle cx="676.0" cy="548.0" r="2.35"/><circle cx="686.2" cy="546.1" r="2.35"/><circle cx="689.3" cy="538.6" r="2.35"/><circle cx="670.0" cy="531.2" r="2.35"/><circle cx="687.6" cy="543.7" r="2.35"/><circle cx="694.4" cy="533.7" r="2.35"/><circle cx="678.8" cy="530.3" r="2.35"/><circle cx="678.7" cy="526.1" r="2.35"/><circle cx="691.1" cy="532.1" r="2.35"/><circle cx="686.5" cy="533.8" r="2.35"/><circle cx="674.3" cy="525.7" r="2.35"/><circle cx="672.8" cy="529.1" r="2.35"/><circle cx="666.9" cy="532.1" r="2.35"/><circle cx="683.1" cy="538.2" r="2.35"/><circle cx="686.4" cy="537.0" r="2.35"/><circle cx="671.6" cy="534.9" r="2.35"/><circle cx="677.2" cy="527.0" r="2.35"/><circle cx="666.3" cy="532.0" r="2.35"/><circle cx="666.6" cy="530.4" r="2.35"/><circle cx="668.6" cy="534.4" r="2.35"/><circle cx="665.7" cy="527.5" r="2.35"/><circle cx="689.2" cy="539.7" r="2.35"/><circle cx="689.4" cy="524.7" r="2.35"/><circle cx="692.5" cy="542.8" r="2.35"/><circle cx="683.5" cy="547.0" r="2.35"/><circle cx="684.0" cy="537.8" r="2.35"/><circle cx="680.6" cy="544.0" r="2.35"/><circle cx="677.3" cy="528.9" r="2.35"/><circle cx="685.0" cy="536.0" r="2.35"/><circle cx="676.3" cy="529.8" r="2.35"/><circle cx="689.2" cy="528.4" r="2.35"/><circle cx="678.5" cy="547.2" r="2.35"/><circle cx="677.4" cy="548.5" r="2.35"/><circle cx="672.9" cy="534.9" r="2.35"/><circle cx="679.1" cy="548.8" r="2.35"/><circle cx="683.4" cy="529.1" r="2.35"/><circle cx="694.7" cy="533.6" r="2.35"/><circle cx="677.7" cy="536.7" r="2.35"/><circle cx="674.2" cy="537.4" r="2.35"/><circle cx="678.9" cy="544.8" r="2.35"/><circle cx="671.1" cy="533.1" r="2.35"/><circle cx="691.6" cy="530.1" r="2.35"/><circle cx="693.8" cy="544.4" r="2.35"/><circle cx="688.2" cy="536.1" r="2.35"/><circle cx="688.5" cy="534.3" r="2.35"/><circle cx="681.4" cy="540.1" r="2.35"/><circle cx="667.4" cy="533.9" r="2.35"/><circle cx="672.6" cy="542.8" r="2.35"/><circle cx="671.1" cy="537.6" r="2.35"/><circle cx="684.3" cy="533.7" r="2.35"/><circle cx="687.7" cy="543.9" r="2.35"/><circle cx="671.0" cy="535.2" r="2.35"/><circle cx="689.1" cy="544.0" r="2.35"/><circle cx="691.5" cy="543.0" r="2.35"/><circle cx="671.8" cy="527.5" r="2.35"/><circle cx="681.2" cy="545.3" r="2.35"/><circle cx="678.6" cy="539.4" r="2.35"/><circle cx="670.2" cy="538.4" r="2.35"/><circle cx="685.9" cy="531.0" r="2.35"/><circle cx="690.1" cy="531.0" r="2.35"/><circle cx="687.4" cy="527.7" r="2.35"/><circle cx="674.5" cy="544.8" r="2.35"/><circle cx="673.0" cy="527.1" r="2.35"/><circle cx="688.0" cy="534.0" r="2.35"/><circle cx="676.7" cy="542.6" r="2.35"/><circle cx="669.4" cy="529.8" r="2.35"/><circle cx="673.9" cy="536.8" r="2.35"/><circle cx="678.9" cy="546.9" r="2.35"/><circle cx="674.5" cy="538.1" r="2.35"/><circle cx="671.5" cy="540.3" r="2.35"/><circle cx="673.4" cy="542.2" r="2.35"/><circle cx="680.1" cy="547.7" r="2.35"/><circle cx="688.0" cy="531.8" r="2.35"/><circle cx="667.8" cy="531.6" r="2.35"/><circle cx="692.8" cy="540.4" r="2.35"/><circle cx="684.0" cy="535.5" r="2.35"/><circle cx="695.0" cy="538.0" r="2.35"/><circle cx="683.6" cy="544.8" r="2.35"/><circle cx="691.1" cy="533.9" r="2.35"/><circle cx="682.7" cy="544.8" r="2.35"/><circle cx="683.7" cy="541.1" r="2.35"/><circle cx="688.0" cy="530.5" r="2.35"/><circle cx="696.1" cy="540.2" r="2.35"/><circle cx="680.9" cy="540.1" r="2.35"/><circle cx="677.7" cy="525.8" r="2.35"/><circle cx="689.4" cy="526.4" r="2.35"/><circle cx="675.4" cy="545.7" r="2.35"/><circle cx="686.5" cy="540.1" r="2.35"/><circle cx="696.0" cy="541.6" r="2.35"/><circle cx="692.8" cy="543.0" r="2.35"/><circle cx="681.8" cy="536.6" r="2.35"/><circle cx="674.1" cy="541.8" r="2.35"/><circle cx="678.2" cy="532.7" r="2.35"/><circle cx="686.8" cy="544.6" r="2.35"/><circle cx="675.6" cy="532.8" r="2.35"/><circle cx="688.1" cy="542.5" r="2.35"/><circle cx="686.6" cy="537.5" r="2.35"/><circle cx="687.7" cy="531.5" r="2.35"/><circle cx="685.1" cy="539.5" r="2.35"/><circle cx="716.7" cy="497.3" r="2.35"/><circle cx="713.7" cy="494.5" r="2.35"/><circle cx="700.9" cy="479.8" r="2.35"/><circle cx="720.6" cy="497.1" r="2.35"/><circle cx="698.2" cy="484.9" r="2.35"/><circle cx="686.1" cy="482.5" r="2.35"/><circle cx="694.1" cy="512.9" r="2.35"/><circle cx="691.4" cy="497.4" r="2.35"/><circle cx="700.2" cy="471.6" r="2.35"/><circle cx="697.8" cy="487.8" r="2.35"/><circle cx="703.0" cy="488.1" r="2.35"/><circle cx="716.8" cy="491.1" r="2.35"/><circle cx="688.2" cy="509.9" r="2.35"/><circle cx="693.3" cy="506.8" r="2.35"/><circle cx="689.8" cy="487.9" r="2.35"/><circle cx="695.2" cy="492.9" r="2.35"/><circle cx="712.2" cy="485.8" r="2.35"/><circle cx="701.1" cy="498.5" r="2.35"/><circle cx="695.1" cy="482.4" r="2.35"/><circle cx="679.1" cy="493.2" r="2.35"/><circle cx="702.5" cy="497.3" r="2.35"/><circle cx="689.5" cy="486.2" r="2.35"/><circle cx="688.9" cy="482.5" r="2.35"/><circle cx="690.9" cy="506.0" r="2.35"/><circle cx="701.9" cy="511.5" r="2.35"/><circle cx="703.1" cy="488.3" r="2.35"/><circle cx="701.0" cy="474.1" r="2.35"/><circle cx="716.8" cy="495.8" r="2.35"/><circle cx="694.9" cy="515.1" r="2.35"/><circle cx="697.4" cy="478.4" r="2.35"/><circle cx="695.2" cy="497.1" r="2.35"/><circle cx="708.1" cy="481.3" r="2.35"/><circle cx="710.1" cy="488.9" r="2.35"/><circle cx="696.1" cy="483.5" r="2.35"/><circle cx="717.0" cy="495.6" r="2.35"/><circle cx="712.5" cy="502.5" r="2.35"/><circle cx="687.4" cy="507.9" r="2.35"/><circle cx="709.7" cy="490.6" r="2.35"/><circle cx="689.7" cy="511.9" r="2.35"/><circle cx="707.0" cy="480.7" r="2.35"/><circle cx="693.6" cy="482.9" r="2.35"/><circle cx="683.7" cy="504.6" r="2.35"/><circle cx="709.2" cy="505.0" r="2.35"/><circle cx="689.0" cy="494.3" r="2.35"/><circle cx="711.4" cy="487.4" r="2.35"/><circle cx="699.0" cy="495.7" r="2.35"/><circle cx="691.9" cy="488.7" r="2.35"/><circle cx="706.9" cy="492.5" r="2.35"/><circle cx="696.1" cy="492.3" r="2.35"/><circle cx="694.3" cy="504.7" r="2.35"/><circle cx="689.9" cy="504.6" r="2.35"/><circle cx="699.8" cy="478.4" r="2.35"/><circle cx="708.2" cy="505.2" r="2.35"/><circle cx="706.2" cy="497.1" r="2.35"/><circle cx="694.7" cy="485.9" r="2.35"/><circle cx="698.1" cy="484.4" r="2.35"/><circle cx="708.6" cy="489.2" r="2.35"/><circle cx="700.6" cy="505.5" r="2.35"/><circle cx="713.1" cy="503.0" r="2.35"/><circle cx="717.6" cy="497.5" r="2.35"/><circle cx="690.0" cy="486.1" r="2.35"/><circle cx="688.9" cy="484.1" r="2.35"/><circle cx="709.2" cy="498.4" r="2.35"/><circle cx="703.0" cy="491.0" r="2.35"/><circle cx="711.0" cy="496.9" r="2.35"/><circle cx="709.2" cy="484.6" r="2.35"/><circle cx="685.4" cy="495.4" r="2.35"/><circle cx="695.4" cy="513.2" r="2.35"/><circle cx="696.7" cy="474.8" r="2.35"/><circle cx="689.1" cy="506.8" r="2.35"/><circle cx="707.2" cy="500.2" r="2.35"/><circle cx="706.1" cy="494.4" r="2.35"/><circle cx="688.0" cy="500.2" r="2.35"/><circle cx="706.1" cy="477.6" r="2.35"/><circle cx="687.6" cy="510.1" r="2.35"/><circle cx="712.1" cy="502.4" r="2.35"/><circle cx="707.9" cy="480.1" r="2.35"/><circle cx="696.7" cy="503.4" r="2.35"/><circle cx="675.7" cy="489.7" r="2.35"/><circle cx="703.1" cy="488.8" r="2.35"/><circle cx="685.7" cy="482.5" r="2.35"/><circle cx="699.3" cy="473.4" r="2.35"/><circle cx="704.3" cy="486.9" r="2.35"/><circle cx="693.4" cy="503.7" r="2.35"/><circle cx="693.1" cy="504.1" r="2.35"/><circle cx="690.7" cy="506.3" r="2.35"/><circle cx="689.9" cy="484.3" r="2.35"/><circle cx="702.9" cy="494.8" r="2.35"/><circle cx="679.5" cy="489.9" r="2.35"/><circle cx="681.0" cy="496.9" r="2.35"/><circle cx="678.1" cy="496.1" r="2.35"/><circle cx="688.5" cy="510.2" r="2.35"/><circle cx="698.6" cy="513.1" r="2.35"/><circle cx="703.0" cy="477.8" r="2.35"/><circle cx="702.6" cy="475.3" r="2.35"/><circle cx="678.5" cy="496.7" r="2.35"/><circle cx="692.0" cy="484.9" r="2.35"/><circle cx="693.8" cy="491.8" r="2.35"/><circle cx="714.3" cy="493.6" r="2.35"/><circle cx="701.1" cy="472.3" r="2.35"/><circle cx="693.9" cy="497.6" r="2.35"/><circle cx="692.5" cy="495.0" r="2.35"/><circle cx="684.5" cy="489.5" r="2.35"/><circle cx="683.0" cy="499.9" r="2.35"/><circle cx="703.4" cy="486.3" r="2.35"/><circle cx="706.6" cy="483.5" r="2.35"/><circle cx="699.4" cy="476.5" r="2.35"/><circle cx="697.1" cy="481.0" r="2.35"/><circle cx="717.4" cy="494.9" r="2.35"/><circle cx="677.9" cy="496.4" r="2.35"/><circle cx="711.9" cy="488.5" r="2.35"/><circle cx="703.1" cy="504.2" r="2.35"/><circle cx="691.0" cy="501.8" r="2.35"/><circle cx="691.5" cy="483.3" r="2.35"/><circle cx="705.0" cy="508.8" r="2.35"/><circle cx="692.1" cy="496.4" r="2.35"/><circle cx="700.8" cy="489.8" r="2.35"/><circle cx="684.0" cy="499.6" r="2.35"/><circle cx="701.5" cy="487.0" r="2.35"/><circle cx="676.8" cy="490.9" r="2.35"/><circle cx="703.4" cy="480.7" r="2.35"/><circle cx="698.0" cy="504.5" r="2.35"/><circle cx="716.5" cy="496.1" r="2.35"/><circle cx="706.8" cy="507.3" r="2.35"/><circle cx="698.7" cy="474.7" r="2.35"/><circle cx="691.2" cy="508.3" r="2.35"/><circle cx="705.5" cy="502.0" r="2.35"/><circle cx="703.6" cy="508.1" r="2.35"/><circle cx="694.7" cy="502.4" r="2.35"/><circle cx="696.6" cy="476.5" r="2.35"/><circle cx="696.3" cy="483.8" r="2.35"/><circle cx="713.5" cy="488.8" r="2.35"/><circle cx="708.0" cy="479.0" r="2.35"/><circle cx="700.6" cy="501.2" r="2.35"/><circle cx="712.8" cy="493.4" r="2.35"/><circle cx="696.9" cy="498.7" r="2.35"/><circle cx="705.0" cy="485.9" r="2.35"/><circle cx="682.6" cy="500.7" r="2.35"/><circle cx="694.3" cy="493.8" r="2.35"/><circle cx="694.2" cy="498.1" r="2.35"/><circle cx="698.7" cy="480.1" r="2.35"/><circle cx="702.1" cy="486.7" r="2.35"/><circle cx="683.8" cy="489.8" r="2.35"/><circle cx="701.0" cy="477.1" r="2.35"/><circle cx="695.7" cy="512.0" r="2.35"/><circle cx="685.0" cy="487.5" r="2.35"/><circle cx="690.7" cy="500.3" r="2.35"/><circle cx="702.5" cy="501.8" r="2.35"/><circle cx="702.8" cy="471.8" r="2.35"/><circle cx="676.3" cy="492.5" r="2.35"/><circle cx="700.8" cy="475.7" r="2.35"/><circle cx="683.1" cy="484.0" r="2.35"/><circle cx="709.2" cy="483.1" r="2.35"/><circle cx="702.2" cy="491.0" r="2.35"/><circle cx="695.0" cy="516.2" r="2.35"/><circle cx="699.4" cy="502.7" r="2.35"/><circle cx="711.0" cy="488.6" r="2.35"/><circle cx="687.9" cy="499.7" r="2.35"/><circle cx="703.0" cy="505.8" r="2.35"/><circle cx="696.6" cy="494.0" r="2.35"/><circle cx="707.4" cy="502.5" r="2.35"/><circle cx="686.6" cy="485.5" r="2.35"/><circle cx="689.3" cy="505.1" r="2.35"/><circle cx="715.8" cy="491.1" r="2.35"/><circle cx="702.6" cy="507.6" r="2.35"/><circle cx="698.0" cy="500.2" r="2.35"/><circle cx="685.0" cy="500.1" r="2.35"/><circle cx="691.2" cy="488.8" r="2.35"/><circle cx="712.6" cy="499.9" r="2.35"/><circle cx="686.9" cy="491.4" r="2.35"/><circle cx="679.5" cy="489.4" r="2.35"/><circle cx="713.2" cy="489.7" r="2.35"/><circle cx="697.5" cy="510.3" r="2.35"/><circle cx="705.2" cy="503.6" r="2.35"/><circle cx="699.6" cy="497.4" r="2.35"/><circle cx="698.7" cy="512.0" r="2.35"/><circle cx="700.4" cy="483.2" r="2.35"/><circle cx="703.2" cy="483.3" r="2.35"/><circle cx="687.4" cy="501.2" r="2.35"/><circle cx="705.4" cy="498.4" r="2.35"/><circle cx="712.4" cy="493.7" r="2.35"/><circle cx="704.8" cy="492.0" r="2.35"/><circle cx="696.5" cy="510.1" r="2.35"/><circle cx="689.8" cy="510.1" r="2.35"/><circle cx="708.9" cy="504.4" r="2.35"/><circle cx="713.2" cy="498.8" r="2.35"/><circle cx="717.6" cy="492.1" r="2.35"/><circle cx="693.0" cy="485.8" r="2.35"/><circle cx="679.5" cy="492.0" r="2.35"/><circle cx="694.4" cy="509.7" r="2.35"/><circle cx="701.5" cy="485.1" r="2.35"/><circle cx="688.6" cy="480.6" r="2.35"/><circle cx="689.6" cy="489.8" r="2.35"/><circle cx="695.9" cy="498.5" r="2.35"/><circle cx="710.8" cy="503.7" r="2.35"/><circle cx="709.0" cy="500.5" r="2.35"/><circle cx="716.8" cy="500.1" r="2.35"/><circle cx="676.1" cy="494.7" r="2.35"/><circle cx="698.2" cy="475.4" r="2.35"/><circle cx="711.1" cy="494.5" r="2.35"/><circle cx="704.1" cy="474.8" r="2.35"/><circle cx="702.0" cy="511.0" r="2.35"/><circle cx="697.4" cy="509.9" r="2.35"/><circle cx="698.6" cy="474.6" r="2.35"/><circle cx="710.1" cy="486.9" r="2.35"/><circle cx="714.2" cy="498.2" r="2.35"/><circle cx="696.2" cy="487.6" r="2.35"/><circle cx="699.9" cy="484.3" r="2.35"/><circle cx="702.9" cy="484.0" r="2.35"/><circle cx="696.8" cy="495.4" r="2.35"/><circle cx="710.0" cy="504.6" r="2.35"/><circle cx="698.7" cy="492.1" r="2.35"/><circle cx="703.5" cy="510.7" r="2.35"/><circle cx="691.9" cy="484.9" r="2.35"/><circle cx="682.3" cy="485.0" r="2.35"/><circle cx="707.2" cy="489.1" r="2.35"/><circle cx="703.9" cy="505.5" r="2.35"/><circle cx="681.2" cy="496.8" r="2.35"/><circle cx="705.3" cy="477.2" r="2.35"/><circle cx="718.2" cy="494.9" r="2.35"/><circle cx="691.1" cy="506.2" r="2.35"/><circle cx="700.2" cy="498.9" r="2.35"/><circle cx="701.7" cy="502.5" r="2.35"/><circle cx="704.2" cy="492.9" r="2.35"/><circle cx="710.2" cy="498.9" r="2.35"/><circle cx="688.8" cy="481.9" r="2.35"/><circle cx="688.2" cy="487.7" r="2.35"/><circle cx="680.6" cy="488.4" r="2.35"/><circle cx="700.2" cy="491.7" r="2.35"/><circle cx="692.9" cy="477.2" r="2.35"/><circle cx="702.2" cy="490.6" r="2.35"/><circle cx="700.5" cy="505.3" r="2.35"/><circle cx="715.5" cy="493.6" r="2.35"/><circle cx="716.0" cy="494.0" r="2.35"/><circle cx="682.1" cy="492.0" r="2.35"/><circle cx="709.4" cy="490.5" r="2.35"/><circle cx="691.7" cy="490.1" r="2.35"/><circle cx="693.1" cy="486.6" r="2.35"/><circle cx="706.8" cy="505.3" r="2.35"/><circle cx="688.4" cy="481.3" r="2.35"/><circle cx="703.6" cy="499.7" r="2.35"/><circle cx="708.6" cy="502.6" r="2.35"/><circle cx="716.4" cy="490.4" r="2.35"/><circle cx="713.8" cy="502.2" r="2.35"/><circle cx="689.2" cy="492.8" r="2.35"/><circle cx="693.6" cy="517.3" r="2.35"/><circle cx="682.6" cy="489.5" r="2.35"/><circle cx="705.6" cy="501.8" r="2.35"/><circle cx="690.5" cy="493.1" r="2.35"/><circle cx="698.6" cy="478.8" r="2.35"/><circle cx="685.0" cy="497.8" r="2.35"/><circle cx="687.9" cy="493.5" r="2.35"/><circle cx="702.0" cy="477.9" r="2.35"/><circle cx="710.3" cy="503.6" r="2.35"/><circle cx="694.7" cy="516.2" r="2.35"/><circle cx="684.9" cy="503.7" r="2.35"/><circle cx="704.2" cy="483.5" r="2.35"/><circle cx="692.3" cy="487.9" r="2.35"/><circle cx="693.7" cy="503.1" r="2.35"/><circle cx="702.0" cy="497.0" r="2.35"/><circle cx="693.2" cy="480.3" r="2.35"/><circle cx="690.2" cy="498.5" r="2.35"/><circle cx="678.1" cy="491.3" r="2.35"/><circle cx="683.0" cy="488.0" r="2.35"/><circle cx="685.7" cy="487.8" r="2.35"/><circle cx="674.8" cy="493.6" r="2.35"/><circle cx="709.6" cy="494.3" r="2.35"/><circle cx="691.5" cy="497.6" r="2.35"/><circle cx="695.0" cy="480.1" r="2.35"/><circle cx="715.4" cy="497.0" r="2.35"/><circle cx="715.8" cy="490.3" r="2.35"/><circle cx="710.8" cy="498.3" r="2.35"/><circle cx="703.2" cy="484.2" r="2.35"/><circle cx="703.3" cy="509.8" r="2.35"/><circle cx="713.1" cy="488.2" r="2.35"/><circle cx="696.8" cy="501.1" r="2.35"/><circle cx="682.4" cy="501.6" r="2.35"/><circle cx="690.1" cy="487.0" r="2.35"/><circle cx="692.8" cy="478.2" r="2.35"/><circle cx="687.8" cy="486.6" r="2.35"/><circle cx="708.2" cy="506.8" r="2.35"/><circle cx="708.5" cy="484.0" r="2.35"/><circle cx="700.8" cy="477.9" r="2.35"/><circle cx="689.4" cy="494.3" r="2.35"/><circle cx="711.6" cy="503.3" r="2.35"/><circle cx="708.3" cy="506.6" r="2.35"/><circle cx="706.9" cy="500.5" r="2.35"/><circle cx="712.0" cy="491.1" r="2.35"/><circle cx="704.4" cy="486.8" r="2.35"/><circle cx="701.8" cy="476.5" r="2.35"/><circle cx="711.6" cy="492.3" r="2.35"/><circle cx="675.9" cy="489.6" r="2.35"/><circle cx="700.3" cy="505.4" r="2.35"/><circle cx="703.2" cy="503.2" r="2.35"/><circle cx="689.4" cy="485.1" r="2.35"/><circle cx="687.6" cy="508.9" r="2.35"/><circle cx="706.2" cy="487.1" r="2.35"/><circle cx="682.3" cy="499.3" r="2.35"/><circle cx="699.1" cy="507.7" r="2.35"/><circle cx="697.9" cy="502.4" r="2.35"/><circle cx="689.9" cy="488.0" r="2.35"/><circle cx="685.5" cy="486.5" r="2.35"/><circle cx="694.7" cy="516.8" r="2.35"/><circle cx="700.1" cy="512.4" r="2.35"/><circle cx="704.0" cy="506.3" r="2.35"/><circle cx="677.2" cy="488.4" r="2.35"/><circle cx="693.7" cy="515.4" r="2.35"/><circle cx="704.3" cy="483.8" r="2.35"/><circle cx="697.1" cy="489.3" r="2.35"/><circle cx="693.6" cy="507.0" r="2.35"/><circle cx="696.0" cy="515.4" r="2.35"/><circle cx="692.1" cy="491.1" r="2.35"/><circle cx="699.8" cy="489.0" r="2.35"/><circle cx="711.7" cy="502.3" r="2.35"/><circle cx="694.0" cy="510.2" r="2.35"/><circle cx="686.5" cy="505.8" r="2.35"/><circle cx="696.5" cy="506.7" r="2.35"/><circle cx="699.5" cy="479.5" r="2.35"/><circle cx="686.1" cy="488.3" r="2.35"/><circle cx="708.9" cy="487.7" r="2.35"/><circle cx="698.5" cy="503.9" r="2.35"/><circle cx="677.6" cy="497.2" r="2.35"/><circle cx="700.1" cy="510.4" r="2.35"/><circle cx="692.0" cy="496.1" r="2.35"/><circle cx="685.6" cy="491.9" r="2.35"/><circle cx="703.8" cy="510.4" r="2.35"/><circle cx="693.8" cy="481.9" r="2.35"/><circle cx="702.4" cy="503.5" r="2.35"/><circle cx="702.4" cy="479.1" r="2.35"/><circle cx="685.3" cy="487.9" r="2.35"/><circle cx="718.6" cy="497.5" r="2.35"/><circle cx="688.1" cy="502.0" r="2.35"/><circle cx="696.4" cy="506.0" r="2.35"/><circle cx="677.7" cy="494.8" r="2.35"/><circle cx="708.1" cy="502.4" r="2.35"/><circle cx="705.5" cy="475.2" r="2.35"/><circle cx="709.9" cy="501.8" r="2.35"/><circle cx="695.6" cy="498.3" r="2.35"/><circle cx="687.3" cy="483.7" r="2.35"/><circle cx="688.1" cy="489.2" r="2.35"/><circle cx="705.3" cy="487.9" r="2.35"/><circle cx="689.2" cy="510.9" r="2.35"/><circle cx="708.6" cy="494.9" r="2.35"/><circle cx="677.9" cy="494.3" r="2.35"/><circle cx="691.4" cy="510.6" r="2.35"/><circle cx="717.3" cy="497.9" r="2.35"/><circle cx="704.1" cy="477.7" r="2.35"/><circle cx="700.8" cy="508.4" r="2.35"/><circle cx="700.7" cy="473.9" r="2.35"/><circle cx="707.9" cy="484.5" r="2.35"/><circle cx="706.1" cy="494.4" r="2.35"/><circle cx="698.7" cy="486.5" r="2.35"/><circle cx="699.2" cy="479.9" r="2.35"/><circle cx="687.6" cy="498.4" r="2.35"/><circle cx="698.3" cy="509.5" r="2.35"/><circle cx="701.0" cy="476.4" r="2.35"/><circle cx="692.0" cy="504.4" r="2.35"/><circle cx="702.1" cy="492.8" r="2.35"/><circle cx="716.1" cy="526.8" r="2.35"/><circle cx="698.0" cy="509.9" r="2.35"/><circle cx="717.2" cy="517.1" r="2.35"/><circle cx="706.8" cy="520.1" r="2.35"/><circle cx="702.9" cy="522.5" r="2.35"/><circle cx="704.1" cy="528.5" r="2.35"/><circle cx="709.0" cy="530.3" r="2.35"/><circle cx="714.6" cy="511.3" r="2.35"/><circle cx="697.0" cy="511.1" r="2.35"/><circle cx="717.6" cy="510.9" r="2.35"/><circle cx="704.0" cy="517.3" r="2.35"/><circle cx="716.8" cy="530.5" r="2.35"/><circle cx="699.7" cy="506.6" r="2.35"/><circle cx="703.7" cy="526.7" r="2.35"/><circle cx="716.1" cy="526.1" r="2.35"/><circle cx="704.4" cy="512.9" r="2.35"/><circle cx="701.0" cy="509.2" r="2.35"/><circle cx="717.6" cy="518.7" r="2.35"/><circle cx="701.5" cy="529.3" r="2.35"/><circle cx="717.6" cy="521.2" r="2.35"/><circle cx="711.2" cy="529.7" r="2.35"/><circle cx="703.6" cy="515.1" r="2.35"/><circle cx="713.6" cy="521.9" r="2.35"/><circle cx="704.3" cy="509.8" r="2.35"/><circle cx="716.3" cy="518.5" r="2.35"/><circle cx="706.1" cy="533.9" r="2.35"/><circle cx="709.4" cy="525.7" r="2.35"/><circle cx="702.8" cy="508.3" r="2.35"/><circle cx="701.1" cy="511.0" r="2.35"/><circle cx="702.1" cy="506.0" r="2.35"/><circle cx="710.3" cy="522.2" r="2.35"/><circle cx="696.9" cy="511.9" r="2.35"/><circle cx="716.4" cy="513.1" r="2.35"/><circle cx="707.2" cy="519.7" r="2.35"/><circle cx="713.5" cy="526.1" r="2.35"/><circle cx="695.8" cy="504.7" r="2.35"/><circle cx="700.9" cy="510.4" r="2.35"/><circle cx="706.2" cy="533.7" r="2.35"/><circle cx="704.4" cy="521.0" r="2.35"/><circle cx="703.0" cy="504.8" r="2.35"/><circle cx="708.0" cy="534.4" r="2.35"/><circle cx="712.8" cy="533.7" r="2.35"/><circle cx="705.2" cy="516.1" r="2.35"/><circle cx="708.4" cy="522.2" r="2.35"/><circle cx="697.4" cy="510.3" r="2.35"/><circle cx="702.6" cy="517.5" r="2.35"/><circle cx="713.4" cy="532.8" r="2.35"/><circle cx="703.6" cy="519.0" r="2.35"/><circle cx="701.8" cy="526.1" r="2.35"/><circle cx="713.0" cy="528.3" r="2.35"/><circle cx="712.0" cy="528.6" r="2.35"/><circle cx="716.4" cy="526.4" r="2.35"/><circle cx="701.6" cy="523.6" r="2.35"/><circle cx="715.9" cy="520.3" r="2.35"/><circle cx="702.3" cy="529.6" r="2.35"/><circle cx="713.2" cy="532.8" r="2.35"/><circle cx="716.2" cy="512.5" r="2.35"/><circle cx="705.1" cy="524.0" r="2.35"/><circle cx="706.3" cy="531.4" r="2.35"/><circle cx="713.8" cy="526.9" r="2.35"/><circle cx="699.6" cy="520.3" r="2.35"/><circle cx="698.0" cy="515.7" r="2.35"/><circle cx="716.4" cy="535.2" r="2.35"/><circle cx="700.3" cy="506.7" r="2.35"/><circle cx="696.9" cy="502.5" r="2.35"/><circle cx="699.8" cy="509.8" r="2.35"/><circle cx="703.4" cy="504.9" r="2.35"/><circle cx="704.2" cy="514.0" r="2.35"/><circle cx="700.2" cy="508.3" r="2.35"/><circle cx="702.1" cy="521.6" r="2.35"/><circle cx="717.1" cy="526.3" r="2.35"/><circle cx="703.1" cy="528.5" r="2.35"/><circle cx="704.8" cy="513.1" r="2.35"/><circle cx="707.3" cy="531.3" r="2.35"/><circle cx="707.7" cy="534.5" r="2.35"/><circle cx="717.0" cy="531.5" r="2.35"/><circle cx="701.8" cy="505.9" r="2.35"/><circle cx="704.0" cy="529.2" r="2.35"/><circle cx="702.6" cy="515.9" r="2.35"/><circle cx="709.7" cy="533.6" r="2.35"/><circle cx="701.4" cy="526.8" r="2.35"/><circle cx="708.4" cy="526.4" r="2.35"/><circle cx="706.7" cy="533.4" r="2.35"/><circle cx="704.5" cy="530.7" r="2.35"/><circle cx="706.1" cy="534.9" r="2.35"/><circle cx="699.6" cy="521.4" r="2.35"/><circle cx="714.8" cy="531.0" r="2.35"/><circle cx="710.5" cy="522.1" r="2.35"/><circle cx="715.8" cy="514.1" r="2.35"/><circle cx="714.6" cy="534.0" r="2.35"/><circle cx="706.8" cy="528.8" r="2.35"/><circle cx="717.9" cy="517.3" r="2.35"/><circle cx="707.4" cy="519.9" r="2.35"/><circle cx="705.0" cy="533.3" r="2.35"/><circle cx="716.5" cy="519.7" r="2.35"/><circle cx="714.3" cy="533.8" r="2.35"/><circle cx="717.6" cy="520.6" r="2.35"/><circle cx="699.5" cy="516.9" r="2.35"/><circle cx="712.9" cy="530.8" r="2.35"/><circle cx="699.6" cy="511.5" r="2.35"/><circle cx="703.6" cy="520.7" r="2.35"/><circle cx="716.7" cy="511.2" r="2.35"/><circle cx="704.8" cy="516.9" r="2.35"/><circle cx="704.6" cy="524.6" r="2.35"/><circle cx="705.4" cy="515.8" r="2.35"/><circle cx="700.3" cy="513.2" r="2.35"/><circle cx="701.0" cy="521.1" r="2.35"/><circle cx="701.3" cy="529.8" r="2.35"/><circle cx="715.3" cy="533.5" r="2.35"/><circle cx="714.4" cy="528.7" r="2.35"/><circle cx="701.6" cy="516.3" r="2.35"/><circle cx="701.5" cy="515.1" r="2.35"/><circle cx="701.7" cy="508.3" r="2.35"/><circle cx="701.0" cy="528.6" r="2.35"/><circle cx="697.9" cy="511.0" r="2.35"/><circle cx="699.6" cy="513.9" r="2.35"/><circle cx="707.8" cy="523.8" r="2.35"/><circle cx="713.4" cy="522.3" r="2.35"/><circle cx="714.6" cy="521.8" r="2.35"/><circle cx="699.7" cy="515.8" r="2.35"/><circle cx="703.3" cy="525.4" r="2.35"/><circle cx="701.6" cy="525.5" r="2.35"/><circle cx="703.2" cy="505.8" r="2.35"/><circle cx="704.1" cy="531.2" r="2.35"/><circle cx="715.4" cy="513.5" r="2.35"/><circle cx="706.4" cy="515.4" r="2.35"/><circle cx="708.6" cy="534.9" r="2.35"/><circle cx="712.4" cy="529.4" r="2.35"/><circle cx="717.4" cy="514.0" r="2.35"/><circle cx="707.3" cy="523.4" r="2.35"/><circle cx="717.5" cy="516.2" r="2.35"/><circle cx="714.7" cy="529.9" r="2.35"/><circle cx="711.0" cy="534.4" r="2.35"/><circle cx="717.0" cy="528.3" r="2.35"/><circle cx="714.6" cy="530.2" r="2.35"/><circle cx="711.4" cy="529.9" r="2.35"/><circle cx="700.4" cy="509.3" r="2.35"/><circle cx="708.4" cy="525.5" r="2.35"/><circle cx="715.0" cy="532.4" r="2.35"/><circle cx="711.3" cy="529.9" r="2.35"/><circle cx="717.9" cy="514.1" r="2.35"/><circle cx="716.9" cy="515.8" r="2.35"/><circle cx="715.2" cy="523.1" r="2.35"/><circle cx="708.8" cy="532.2" r="2.35"/><circle cx="727.8" cy="492.0" r="2.35"/><circle cx="720.1" cy="499.6" r="2.35"/><circle cx="734.4" cy="507.5" r="2.35"/><circle cx="730.2" cy="486.3" r="2.35"/><circle cx="720.3" cy="487.6" r="2.35"/><circle cx="727.7" cy="509.3" r="2.35"/><circle cx="724.9" cy="488.9" r="2.35"/><circle cx="718.6" cy="487.5" r="2.35"/><circle cx="724.2" cy="502.7" r="2.35"/><circle cx="736.6" cy="502.9" r="2.35"/><circle cx="724.7" cy="488.0" r="2.35"/><circle cx="733.0" cy="516.2" r="2.35"/><circle cx="735.6" cy="505.2" r="2.35"/><circle cx="717.6" cy="483.2" r="2.35"/><circle cx="727.8" cy="517.5" r="2.35"/><circle cx="725.2" cy="508.6" r="2.35"/><circle cx="719.3" cy="496.9" r="2.35"/><circle cx="718.8" cy="492.7" r="2.35"/><circle cx="724.4" cy="505.7" r="2.35"/><circle cx="727.6" cy="516.1" r="2.35"/><circle cx="729.4" cy="477.0" r="2.35"/><circle cx="730.7" cy="493.1" r="2.35"/><circle cx="733.0" cy="501.6" r="2.35"/><circle cx="727.1" cy="516.1" r="2.35"/><circle cx="727.3" cy="484.7" r="2.35"/><circle cx="732.7" cy="494.6" r="2.35"/><circle cx="719.1" cy="495.8" r="2.35"/><circle cx="726.0" cy="505.0" r="2.35"/><circle cx="738.9" cy="506.4" r="2.35"/><circle cx="740.5" cy="509.9" r="2.35"/><circle cx="726.3" cy="520.8" r="2.35"/><circle cx="718.2" cy="490.3" r="2.35"/><circle cx="723.2" cy="510.3" r="2.35"/><circle cx="736.7" cy="504.2" r="2.35"/><circle cx="725.9" cy="519.3" r="2.35"/><circle cx="723.9" cy="518.5" r="2.35"/><circle cx="728.0" cy="514.7" r="2.35"/><circle cx="730.9" cy="506.0" r="2.35"/><circle cx="720.5" cy="483.4" r="2.35"/><circle cx="729.4" cy="477.8" r="2.35"/><circle cx="728.7" cy="517.1" r="2.35"/><circle cx="720.4" cy="518.2" r="2.35"/><circle cx="723.3" cy="505.8" r="2.35"/><circle cx="730.6" cy="505.1" r="2.35"/><circle cx="729.2" cy="479.6" r="2.35"/><circle cx="732.0" cy="514.7" r="2.35"/><circle cx="716.9" cy="485.9" r="2.35"/><circle cx="735.5" cy="503.9" r="2.35"/><circle cx="726.2" cy="509.8" r="2.35"/><circle cx="722.2" cy="521.2" r="2.35"/><circle cx="727.4" cy="489.1" r="2.35"/><circle cx="719.6" cy="486.3" r="2.35"/><circle cx="732.1" cy="500.0" r="2.35"/><circle cx="728.0" cy="495.9" r="2.35"/><circle cx="719.6" cy="496.5" r="2.35"/><circle cx="722.1" cy="480.8" r="2.35"/><circle cx="720.4" cy="489.4" r="2.35"/><circle cx="731.6" cy="501.8" r="2.35"/><circle cx="717.2" cy="489.3" r="2.35"/><circle cx="719.6" cy="495.1" r="2.35"/><circle cx="729.9" cy="497.5" r="2.35"/><circle cx="726.4" cy="492.5" r="2.35"/><circle cx="738.6" cy="507.2" r="2.35"/><circle cx="717.9" cy="494.9" r="2.35"/><circle cx="718.7" cy="485.1" r="2.35"/><circle cx="720.7" cy="485.1" r="2.35"/><circle cx="736.2" cy="506.7" r="2.35"/><circle cx="723.9" cy="495.1" r="2.35"/><circle cx="730.1" cy="501.5" r="2.35"/><circle cx="729.6" cy="478.1" r="2.35"/><circle cx="722.6" cy="516.7" r="2.35"/><circle cx="720.2" cy="502.5" r="2.35"/><circle cx="730.4" cy="495.9" r="2.35"/><circle cx="721.0" cy="497.3" r="2.35"/><circle cx="726.7" cy="494.7" r="2.35"/><circle cx="722.5" cy="491.8" r="2.35"/><circle cx="718.8" cy="485.9" r="2.35"/><circle cx="720.4" cy="503.2" r="2.35"/><circle cx="741.0" cy="511.8" r="2.35"/><circle cx="734.2" cy="501.4" r="2.35"/><circle cx="727.7" cy="481.4" r="2.35"/><circle cx="728.3" cy="495.8" r="2.35"/><circle cx="722.2" cy="499.8" r="2.35"/><circle cx="720.4" cy="482.1" r="2.35"/><circle cx="737.5" cy="509.7" r="2.35"/><circle cx="718.8" cy="494.8" r="2.35"/><circle cx="731.1" cy="503.7" r="2.35"/><circle cx="729.8" cy="498.5" r="2.35"/><circle cx="730.8" cy="491.7" r="2.35"/><circle cx="729.0" cy="506.1" r="2.35"/><circle cx="733.1" cy="513.1" r="2.35"/><circle cx="722.7" cy="491.5" r="2.35"/><circle cx="722.9" cy="482.2" r="2.35"/><circle cx="719.4" cy="482.4" r="2.35"/><circle cx="718.9" cy="486.7" r="2.35"/><circle cx="729.4" cy="482.7" r="2.35"/><circle cx="730.9" cy="511.2" r="2.35"/><circle cx="724.7" cy="512.9" r="2.35"/><circle cx="723.3" cy="510.7" r="2.35"/><circle cx="718.8" cy="497.3" r="2.35"/><circle cx="732.2" cy="491.2" r="2.35"/><circle cx="718.8" cy="497.0" r="2.35"/><circle cx="726.1" cy="492.6" r="2.35"/><circle cx="720.4" cy="497.9" r="2.35"/><circle cx="739.7" cy="511.7" r="2.35"/><circle cx="732.7" cy="511.1" r="2.35"/><circle cx="718.6" cy="485.0" r="2.35"/><circle cx="724.1" cy="481.7" r="2.35"/><circle cx="726.0" cy="483.3" r="2.35"/><circle cx="727.8" cy="491.6" r="2.35"/><circle cx="726.7" cy="494.2" r="2.35"/><circle cx="736.1" cy="509.8" r="2.35"/><circle cx="733.4" cy="496.7" r="2.35"/><circle cx="723.7" cy="486.5" r="2.35"/><circle cx="726.9" cy="480.7" r="2.35"/><circle cx="716.9" cy="483.8" r="2.35"/><circle cx="722.6" cy="504.3" r="2.35"/><circle cx="720.8" cy="480.9" r="2.35"/><circle cx="736.4" cy="497.6" r="2.35"/><circle cx="734.2" cy="512.2" r="2.35"/><circle cx="718.6" cy="489.5" r="2.35"/><circle cx="727.4" cy="489.8" r="2.35"/><circle cx="737.9" cy="515.8" r="2.35"/><circle cx="718.9" cy="499.6" r="2.35"/><circle cx="733.0" cy="517.3" r="2.35"/><circle cx="730.6" cy="479.8" r="2.35"/><circle cx="720.7" cy="492.6" r="2.35"/><circle cx="723.4" cy="490.9" r="2.35"/><circle cx="721.4" cy="498.8" r="2.35"/><circle cx="719.1" cy="488.3" r="2.35"/><circle cx="729.3" cy="498.0" r="2.35"/><circle cx="725.2" cy="481.5" r="2.35"/><circle cx="726.2" cy="499.0" r="2.35"/><circle cx="726.5" cy="484.0" r="2.35"/><circle cx="726.5" cy="501.4" r="2.35"/><circle cx="739.0" cy="504.4" r="2.35"/><circle cx="720.4" cy="489.4" r="2.35"/><circle cx="725.2" cy="505.5" r="2.35"/><circle cx="724.7" cy="492.1" r="2.35"/><circle cx="726.7" cy="482.6" r="2.35"/><circle cx="721.1" cy="502.4" r="2.35"/><circle cx="724.9" cy="488.0" r="2.35"/><circle cx="721.4" cy="496.7" r="2.35"/><circle cx="723.1" cy="518.8" r="2.35"/><circle cx="727.3" cy="485.7" r="2.35"/><circle cx="720.3" cy="501.5" r="2.35"/><circle cx="728.8" cy="516.5" r="2.35"/><circle cx="726.1" cy="493.9" r="2.35"/><circle cx="731.3" cy="505.8" r="2.35"/><circle cx="717.0" cy="483.7" r="2.35"/><circle cx="725.0" cy="510.2" r="2.35"/><circle cx="733.9" cy="505.4" r="2.35"/><circle cx="718.2" cy="495.8" r="2.35"/><circle cx="727.7" cy="518.8" r="2.35"/><circle cx="725.1" cy="502.1" r="2.35"/><circle cx="722.4" cy="519.9" r="2.35"/><circle cx="727.0" cy="488.0" r="2.35"/><circle cx="724.4" cy="510.9" r="2.35"/><circle cx="730.2" cy="507.6" r="2.35"/><circle cx="723.4" cy="487.0" r="2.35"/><circle cx="729.2" cy="518.5" r="2.35"/><circle cx="722.9" cy="490.9" r="2.35"/><circle cx="717.8" cy="490.2" r="2.35"/><circle cx="722.8" cy="492.1" r="2.35"/><circle cx="719.3" cy="506.6" r="2.35"/><circle cx="730.6" cy="513.2" r="2.35"/><circle cx="720.7" cy="498.1" r="2.35"/><circle cx="725.3" cy="506.4" r="2.35"/><circle cx="717.0" cy="489.0" r="2.35"/><circle cx="729.2" cy="496.8" r="2.35"/><circle cx="720.9" cy="508.6" r="2.35"/><circle cx="720.4" cy="498.7" r="2.35"/><circle cx="730.2" cy="487.9" r="2.35"/><circle cx="721.4" cy="518.9" r="2.35"/><circle cx="722.0" cy="493.4" r="2.35"/><circle cx="730.4" cy="509.5" r="2.35"/><circle cx="732.3" cy="506.3" r="2.35"/><circle cx="732.1" cy="517.1" r="2.35"/><circle cx="724.7" cy="490.3" r="2.35"/><circle cx="736.7" cy="506.4" r="2.35"/><circle cx="727.9" cy="480.8" r="2.35"/><circle cx="732.3" cy="510.8" r="2.35"/><circle cx="725.1" cy="508.6" r="2.35"/><circle cx="725.5" cy="502.8" r="2.35"/><circle cx="732.5" cy="508.4" r="2.35"/><circle cx="731.2" cy="514.8" r="2.35"/><circle cx="723.4" cy="486.0" r="2.35"/><circle cx="720.2" cy="510.0" r="2.35"/><circle cx="733.7" cy="490.5" r="2.35"/><circle cx="718.1" cy="489.7" r="2.35"/><circle cx="718.2" cy="492.1" r="2.35"/><circle cx="720.9" cy="484.5" r="2.35"/><circle cx="733.1" cy="505.9" r="2.35"/><circle cx="734.5" cy="499.0" r="2.35"/><circle cx="724.4" cy="499.0" r="2.35"/><circle cx="728.5" cy="498.2" r="2.35"/><circle cx="726.2" cy="504.0" r="2.35"/><circle cx="732.9" cy="516.9" r="2.35"/><circle cx="734.7" cy="510.0" r="2.35"/><circle cx="739.5" cy="513.3" r="2.35"/><circle cx="724.0" cy="514.8" r="2.35"/><circle cx="728.1" cy="496.7" r="2.35"/><circle cx="723.1" cy="483.6" r="2.35"/><circle cx="732.3" cy="494.5" r="2.35"/><circle cx="731.0" cy="502.7" r="2.35"/><circle cx="727.1" cy="484.6" r="2.35"/><circle cx="721.0" cy="515.6" r="2.35"/><circle cx="721.1" cy="482.8" r="2.35"/><circle cx="722.3" cy="491.6" r="2.35"/><circle cx="727.7" cy="483.7" r="2.35"/><circle cx="725.0" cy="499.4" r="2.35"/><circle cx="725.6" cy="484.9" r="2.35"/><circle cx="729.8" cy="497.6" r="2.35"/><circle cx="723.7" cy="488.4" r="2.35"/><circle cx="731.3" cy="497.0" r="2.35"/><circle cx="725.0" cy="482.4" r="2.35"/><circle cx="725.2" cy="512.5" r="2.35"/><circle cx="726.7" cy="500.1" r="2.35"/><circle cx="732.4" cy="486.6" r="2.35"/><circle cx="719.7" cy="500.6" r="2.35"/><circle cx="717.9" cy="499.6" r="2.35"/><circle cx="725.9" cy="481.6" r="2.35"/><circle cx="720.0" cy="514.4" r="2.35"/><circle cx="730.4" cy="491.4" r="2.35"/><circle cx="718.4" cy="494.7" r="2.35"/><circle cx="729.1" cy="512.9" r="2.35"/><circle cx="720.8" cy="511.4" r="2.35"/><circle cx="725.2" cy="478.1" r="2.35"/><circle cx="734.9" cy="509.4" r="2.35"/><circle cx="724.1" cy="498.5" r="2.35"/><circle cx="718.0" cy="498.2" r="2.35"/><circle cx="719.8" cy="488.1" r="2.35"/><circle cx="718.8" cy="487.9" r="2.35"/><circle cx="735.5" cy="484.9" r="2.35"/><circle cx="740.8" cy="496.8" r="2.35"/><circle cx="749.0" cy="488.4" r="2.35"/><circle cx="731.9" cy="478.7" r="2.35"/><circle cx="740.8" cy="485.9" r="2.35"/><circle cx="743.3" cy="495.5" r="2.35"/><circle cx="756.8" cy="477.5" r="2.35"/><circle cx="758.3" cy="475.8" r="2.35"/><circle cx="738.0" cy="495.2" r="2.35"/><circle cx="743.5" cy="484.1" r="2.35"/><circle cx="745.7" cy="473.7" r="2.35"/><circle cx="743.7" cy="493.6" r="2.35"/><circle cx="731.1" cy="487.2" r="2.35"/><circle cx="738.0" cy="488.1" r="2.35"/><circle cx="753.0" cy="490.4" r="2.35"/><circle cx="744.2" cy="495.7" r="2.35"/><circle cx="746.3" cy="494.2" r="2.35"/><circle cx="732.0" cy="477.5" r="2.35"/><circle cx="732.2" cy="478.2" r="2.35"/><circle cx="730.7" cy="483.5" r="2.35"/><circle cx="741.1" cy="487.4" r="2.35"/><circle cx="738.4" cy="481.3" r="2.35"/><circle cx="734.4" cy="492.0" r="2.35"/><circle cx="740.8" cy="491.3" r="2.35"/><circle cx="750.2" cy="494.0" r="2.35"/><circle cx="737.2" cy="496.6" r="2.35"/><circle cx="732.9" cy="485.9" r="2.35"/><circle cx="748.9" cy="496.4" r="2.35"/><circle cx="747.2" cy="488.6" r="2.35"/><circle cx="728.1" cy="471.4" r="2.35"/><circle cx="749.8" cy="471.1" r="2.35"/><circle cx="756.0" cy="475.0" r="2.35"/><circle cx="739.1" cy="485.4" r="2.35"/><circle cx="730.2" cy="471.4" r="2.35"/><circle cx="744.2" cy="492.7" r="2.35"/><circle cx="750.7" cy="492.3" r="2.35"/><circle cx="733.6" cy="472.5" r="2.35"/><circle cx="744.4" cy="496.0" r="2.35"/><circle cx="753.1" cy="488.9" r="2.35"/><circle cx="739.1" cy="481.1" r="2.35"/><circle cx="736.7" cy="487.7" r="2.35"/><circle cx="747.9" cy="475.0" r="2.35"/><circle cx="729.4" cy="472.9" r="2.35"/><circle cx="750.6" cy="474.6" r="2.35"/><circle cx="750.8" cy="489.3" r="2.35"/><circle cx="739.4" cy="489.8" r="2.35"/><circle cx="754.1" cy="474.1" r="2.35"/><circle cx="737.6" cy="494.0" r="2.35"/><circle cx="736.4" cy="476.4" r="2.35"/><circle cx="741.6" cy="480.1" r="2.35"/><circle cx="744.8" cy="490.6" r="2.35"/><circle cx="750.0" cy="491.6" r="2.35"/><circle cx="742.8" cy="492.9" r="2.35"/><circle cx="751.6" cy="486.4" r="2.35"/><circle cx="733.1" cy="479.2" r="2.35"/><circle cx="734.2" cy="486.6" r="2.35"/><circle cx="756.3" cy="479.3" r="2.35"/><circle cx="741.8" cy="492.7" r="2.35"/><circle cx="737.9" cy="474.2" r="2.35"/><circle cx="738.8" cy="496.2" r="2.35"/><circle cx="743.6" cy="494.4" r="2.35"/><circle cx="734.6" cy="480.7" r="2.35"/><circle cx="743.9" cy="477.5" r="2.35"/><circle cx="745.6" cy="487.1" r="2.35"/><circle cx="737.8" cy="496.4" r="2.35"/><circle cx="739.7" cy="486.1" r="2.35"/><circle cx="750.3" cy="475.8" r="2.35"/><circle cx="748.3" cy="472.2" r="2.35"/><circle cx="744.7" cy="486.8" r="2.35"/><circle cx="735.3" cy="483.2" r="2.35"/><circle cx="757.8" cy="472.8" r="2.35"/><circle cx="748.2" cy="479.9" r="2.35"/><circle cx="750.6" cy="477.0" r="2.35"/><circle cx="736.9" cy="490.7" r="2.35"/><circle cx="732.0" cy="473.6" r="2.35"/><circle cx="731.9" cy="476.6" r="2.35"/><circle cx="743.2" cy="495.7" r="2.35"/><circle cx="755.9" cy="470.9" r="2.35"/><circle cx="737.5" cy="484.8" r="2.35"/><circle cx="730.2" cy="471.4" r="2.35"/><circle cx="735.3" cy="494.9" r="2.35"/><circle cx="734.7" cy="493.1" r="2.35"/><circle cx="725.6" cy="470.9" r="2.35"/><circle cx="733.3" cy="492.5" r="2.35"/><circle cx="752.4" cy="483.3" r="2.35"/><circle cx="727.7" cy="477.4" r="2.35"/><circle cx="740.8" cy="486.7" r="2.35"/><circle cx="741.7" cy="496.2" r="2.35"/><circle cx="731.7" cy="481.3" r="2.35"/><circle cx="751.8" cy="471.4" r="2.35"/><circle cx="737.1" cy="494.5" r="2.35"/><circle cx="753.7" cy="486.2" r="2.35"/><circle cx="730.3" cy="485.6" r="2.35"/><circle cx="748.5" cy="493.2" r="2.35"/><circle cx="753.6" cy="482.4" r="2.35"/><circle cx="746.1" cy="478.3" r="2.35"/><circle cx="752.7" cy="484.1" r="2.35"/><circle cx="742.5" cy="483.5" r="2.35"/><circle cx="737.5" cy="490.9" r="2.35"/><circle cx="739.2" cy="491.9" r="2.35"/><circle cx="757.7" cy="479.2" r="2.35"/><circle cx="729.7" cy="479.9" r="2.35"/><circle cx="757.2" cy="480.5" r="2.35"/><circle cx="740.9" cy="484.9" r="2.35"/><circle cx="732.1" cy="481.7" r="2.35"/><circle cx="738.1" cy="475.0" r="2.35"/><circle cx="740.7" cy="478.9" r="2.35"/><circle cx="725.8" cy="472.8" r="2.35"/><circle cx="731.5" cy="476.4" r="2.35"/><circle cx="745.7" cy="496.8" r="2.35"/><circle cx="747.5" cy="496.1" r="2.35"/><circle cx="743.1" cy="495.0" r="2.35"/><circle cx="751.5" cy="477.7" r="2.35"/><circle cx="730.4" cy="482.2" r="2.35"/><circle cx="754.6" cy="486.5" r="2.35"/><circle cx="739.8" cy="493.2" r="2.35"/><circle cx="725.7" cy="474.2" r="2.35"/><circle cx="757.2" cy="470.5" r="2.35"/><circle cx="731.6" cy="471.5" r="2.35"/><circle cx="745.7" cy="493.5" r="2.35"/><circle cx="750.5" cy="496.4" r="2.35"/><circle cx="740.0" cy="481.7" r="2.35"/><circle cx="755.5" cy="479.2" r="2.35"/><circle cx="734.2" cy="491.4" r="2.35"/><circle cx="751.0" cy="495.4" r="2.35"/><circle cx="732.3" cy="481.4" r="2.35"/><circle cx="734.0" cy="483.7" r="2.35"/><circle cx="751.1" cy="488.2" r="2.35"/><circle cx="742.7" cy="486.2" r="2.35"/><circle cx="755.1" cy="488.7" r="2.35"/><circle cx="740.1" cy="494.9" r="2.35"/><circle cx="740.3" cy="475.1" r="2.35"/><circle cx="753.8" cy="487.2" r="2.35"/><circle cx="734.8" cy="496.4" r="2.35"/><circle cx="751.1" cy="490.1" r="2.35"/><circle cx="737.9" cy="490.7" r="2.35"/><circle cx="752.2" cy="470.3" r="2.35"/><circle cx="728.9" cy="471.5" r="2.35"/><circle cx="748.6" cy="488.4" r="2.35"/><circle cx="749.2" cy="475.5" r="2.35"/><circle cx="737.5" cy="475.5" r="2.35"/><circle cx="749.2" cy="471.4" r="2.35"/><circle cx="752.4" cy="471.8" r="2.35"/><circle cx="727.9" cy="470.7" r="2.35"/><circle cx="732.7" cy="470.5" r="2.35"/><circle cx="750.8" cy="472.5" r="2.35"/><circle cx="754.1" cy="478.6" r="2.35"/><circle cx="749.0" cy="494.7" r="2.35"/><circle cx="738.2" cy="490.0" r="2.35"/><circle cx="748.0" cy="481.1" r="2.35"/><circle cx="755.2" cy="472.9" r="2.35"/><circle cx="735.8" cy="473.3" r="2.35"/><circle cx="747.2" cy="483.1" r="2.35"/><circle cx="734.0" cy="482.9" r="2.35"/><circle cx="737.2" cy="492.6" r="2.35"/><circle cx="755.8" cy="480.2" r="2.35"/><circle cx="742.0" cy="485.3" r="2.35"/><circle cx="746.9" cy="475.1" r="2.35"/><circle cx="754.4" cy="482.0" r="2.35"/><circle cx="747.2" cy="494.9" r="2.35"/><circle cx="749.5" cy="494.7" r="2.35"/><circle cx="737.5" cy="481.6" r="2.35"/><circle cx="751.7" cy="485.7" r="2.35"/><circle cx="744.6" cy="495.2" r="2.35"/><circle cx="751.4" cy="495.0" r="2.35"/><circle cx="751.1" cy="484.7" r="2.35"/><circle cx="733.4" cy="473.3" r="2.35"/><circle cx="738.5" cy="493.5" r="2.35"/><circle cx="752.7" cy="472.6" r="2.35"/><circle cx="745.6" cy="475.5" r="2.35"/><circle cx="734.4" cy="474.4" r="2.35"/><circle cx="751.5" cy="480.8" r="2.35"/><circle cx="736.5" cy="477.6" r="2.35"/><circle cx="734.7" cy="474.1" r="2.35"/><circle cx="744.8" cy="487.4" r="2.35"/><circle cx="750.1" cy="490.4" r="2.35"/><circle cx="744.0" cy="493.4" r="2.35"/><circle cx="736.2" cy="493.3" r="2.35"/><circle cx="734.3" cy="474.1" r="2.35"/><circle cx="730.1" cy="478.3" r="2.35"/><circle cx="745.2" cy="493.9" r="2.35"/><circle cx="728.2" cy="475.2" r="2.35"/><circle cx="744.5" cy="470.6" r="2.35"/><circle cx="727.8" cy="471.0" r="2.35"/><circle cx="741.4" cy="489.4" r="2.35"/><circle cx="743.6" cy="495.0" r="2.35"/><circle cx="748.8" cy="492.3" r="2.35"/><circle cx="744.8" cy="494.2" r="2.35"/><circle cx="745.9" cy="470.6" r="2.35"/><circle cx="751.4" cy="486.4" r="2.35"/><circle cx="747.7" cy="489.9" r="2.35"/><circle cx="730.1" cy="480.8" r="2.35"/><circle cx="729.9" cy="478.8" r="2.35"/><circle cx="752.7" cy="474.9" r="2.35"/><circle cx="753.8" cy="485.1" r="2.35"/><circle cx="739.3" cy="491.1" r="2.35"/><circle cx="742.5" cy="470.5" r="2.35"/><circle cx="753.7" cy="483.9" r="2.35"/><circle cx="744.2" cy="494.7" r="2.35"/><circle cx="750.6" cy="477.6" r="2.35"/><circle cx="754.7" cy="472.8" r="2.35"/><circle cx="730.1" cy="470.7" r="2.35"/><circle cx="745.5" cy="477.1" r="2.35"/><circle cx="730.5" cy="486.3" r="2.35"/><circle cx="732.4" cy="473.9" r="2.35"/><circle cx="732.0" cy="479.3" r="2.35"/><circle cx="728.5" cy="476.3" r="2.35"/><circle cx="760.0" cy="523.7" r="2.35"/><circle cx="748.9" cy="512.2" r="2.35"/><circle cx="741.1" cy="506.8" r="2.35"/><circle cx="756.5" cy="503.7" r="2.35"/><circle cx="750.4" cy="507.4" r="2.35"/><circle cx="754.6" cy="514.3" r="2.35"/><circle cx="750.7" cy="520.7" r="2.35"/><circle cx="752.1" cy="514.1" r="2.35"/><circle cx="743.8" cy="515.2" r="2.35"/><circle cx="751.9" cy="520.5" r="2.35"/><circle cx="754.3" cy="507.0" r="2.35"/><circle cx="756.8" cy="505.3" r="2.35"/><circle cx="758.9" cy="522.2" r="2.35"/><circle cx="746.9" cy="508.0" r="2.35"/><circle cx="749.2" cy="508.2" r="2.35"/><circle cx="679.7" cy="549.6" r="2.35"/><circle cx="683.0" cy="551.8" r="2.35"/><circle cx="681.1" cy="552.3" r="2.35"/><circle cx="681.7" cy="553.9" r="2.35"/><circle cx="684.3" cy="555.9" r="2.35"/><circle cx="685.9" cy="558.1" r="2.35"/><circle cx="686.8" cy="559.9" r="2.35"/><circle cx="686.3" cy="559.4" r="2.35"/><circle cx="687.8" cy="562.5" r="2.35"/><circle cx="687.0" cy="563.7" r="2.35"/><circle cx="687.6" cy="563.7" r="2.35"/><circle cx="689.0" cy="565.0" r="2.35"/><circle cx="690.5" cy="567.6" r="2.35"/><circle cx="690.7" cy="568.3" r="2.35"/><circle cx="691.1" cy="570.6" r="2.35"/><circle cx="692.0" cy="570.7" r="2.35"/><circle cx="694.2" cy="571.8" r="2.35"/><circle cx="703.1" cy="547.5" r="2.35"/><circle cx="704.4" cy="549.8" r="2.35"/><circle cx="704.7" cy="550.6" r="2.35"/><circle cx="706.5" cy="552.5" r="2.35"/><circle cx="706.3" cy="554.3" r="2.35"/><circle cx="707.5" cy="555.2" r="2.35"/><circle cx="708.2" cy="557.4" r="2.35"/><circle cx="709.2" cy="558.7" r="2.35"/><circle cx="710.2" cy="560.6" r="2.35"/><circle cx="710.1" cy="561.8" r="2.35"/><circle cx="732.3" cy="531.4" r="2.35"/><circle cx="734.3" cy="533.3" r="2.35"/><circle cx="734.7" cy="534.1" r="2.35"/><circle cx="736.8" cy="535.6" r="2.35"/><circle cx="737.1" cy="537.2" r="2.35"/><circle cx="738.4" cy="538.1" r="2.35"/><circle cx="717.1" cy="533.3" r="2.35"/><circle cx="721.1" cy="537.3" r="2.35"/><circle cx="714.4" cy="542.7" r="2.35"/><circle cx="715.7" cy="548.1" r="2.35"/><circle cx="721.1" cy="550.8" r="2.35"/><circle cx="725.2" cy="552.1" r="2.35"/><circle cx="731.9" cy="545.4" r="2.35"/><circle cx="734.6" cy="550.8" r="2.35"/><circle cx="738.6" cy="554.8" r="2.35"/><circle cx="742.7" cy="561.5" r="2.35"/><circle cx="746.7" cy="548.1" r="2.35"/><circle cx="750.7" cy="550.8" r="2.35"/><circle cx="754.8" cy="552.1" r="2.35"/><circle cx="757.5" cy="560.2" r="2.35"/><circle cx="749.4" cy="566.9" r="2.35"/><circle cx="758.8" cy="577.7" r="2.35"/><circle cx="721.1" cy="570.3" r="2.35"/><circle cx="691.5" cy="580.4" r="2.35"/><circle cx="696.9" cy="566.9" r="2.35"/><circle cx="683.4" cy="568.9" r="2.35"/><circle cx="679.4" cy="558.8" r="2.35"/><circle cx="659.2" cy="562.9" r="2.35"/><circle cx="665.9" cy="566.9" r="2.35"/><circle cx="664.6" cy="572.3" r="2.35"/><circle cx="670.0" cy="569.6" r="2.35"/><circle cx="636.3" cy="570.3" r="2.35"/><circle cx="637.7" cy="564.9" r="2.35"/><circle cx="624.2" cy="560.8" r="2.35"/><circle cx="609.4" cy="561.5" r="2.35"/><circle cx="603.4" cy="574.3" r="2.35"/><circle cx="637.7" cy="585.7" r="2.35"/><circle cx="664.6" cy="584.4" r="2.35"/><circle cx="651.1" cy="588.4" r="2.35"/><circle cx="753.4" cy="494.2" r="2.35"/><circle cx="749.4" cy="502.3" r="2.35"/><circle cx="753.4" cy="509.0" r="2.35"/><circle cx="746.7" cy="511.7" r="2.35"/><circle cx="754.8" cy="518.5" r="2.35"/><circle cx="442.8" cy="530.6" r="2.35"/><circle cx="445.5" cy="529.2" r="2.35"/><circle cx="445.3" cy="529.0" r="2.35"/><circle cx="448.2" cy="527.8" r="2.35"/><circle cx="447.8" cy="526.7" r="2.35"/><circle cx="448.5" cy="525.9" r="2.35"/><circle cx="451.4" cy="526.0" r="2.35"/><circle cx="451.3" cy="523.5" r="2.35"/><circle cx="453.5" cy="524.6" r="2.35"/><circle cx="454.7" cy="522.9" r="2.35"/><circle cx="456.1" cy="522.0" r="2.35"/><circle cx="457.1" cy="520.1" r="2.35"/><circle cx="458.7" cy="519.6" r="2.35"/><circle cx="458.5" cy="519.5" r="2.35"/><circle cx="460.4" cy="517.8" r="2.35"/><circle cx="462.9" cy="518.3" r="2.35"/><circle cx="463.9" cy="515.8" r="2.35"/><circle cx="464.3" cy="516.8" r="2.35"/><circle cx="464.7" cy="516.0" r="2.35"/><circle cx="432.3" cy="559.0" r="2.35"/><circle cx="434.4" cy="557.5" r="2.35"/><circle cx="433.9" cy="555.9" r="2.35"/><circle cx="435.5" cy="555.7" r="2.35"/><circle cx="436.4" cy="555.8" r="2.35"/><circle cx="437.6" cy="553.7" r="2.35"/><circle cx="439.9" cy="553.8" r="2.35"/><circle cx="442.1" cy="551.9" r="2.35"/><circle cx="441.2" cy="552.9" r="2.35"/><circle cx="444.5" cy="551.2" r="2.35"/><circle cx="445.7" cy="550.7" r="2.35"/><circle cx="444.8" cy="548.0" r="2.35"/><circle cx="447.5" cy="548.4" r="2.35"/><circle cx="448.5" cy="546.7" r="2.35"/><circle cx="450.0" cy="545.3" r="2.35"/><circle cx="450.4" cy="545.7" r="2.35"/><circle cx="453.1" cy="544.9" r="2.35"/><circle cx="453.3" cy="543.4" r="2.35"/><circle cx="455.5" cy="543.8" r="2.35"/><circle cx="468.2" cy="590.1" r="2.35"/><circle cx="467.8" cy="589.1" r="2.35"/><circle cx="470.6" cy="588.0" r="2.35"/><circle cx="470.4" cy="586.8" r="2.35"/><circle cx="470.6" cy="585.1" r="2.35"/><circle cx="472.2" cy="584.3" r="2.35"/><circle cx="472.5" cy="585.1" r="2.35"/><circle cx="475.3" cy="583.1" r="2.35"/><circle cx="474.6" cy="580.9" r="2.35"/><circle cx="475.4" cy="581.3" r="2.35"/><circle cx="477.1" cy="580.2" r="2.35"/><circle cx="479.4" cy="578.6" r="2.35"/><circle cx="479.5" cy="577.3" r="2.35"/><circle cx="479.7" cy="576.7" r="2.35"/><circle cx="481.9" cy="573.5" r="2.35"/><circle cx="481.4" cy="574.1" r="2.35"/><circle cx="483.8" cy="572.0" r="2.35"/><circle cx="484.8" cy="569.9" r="2.35"/><circle cx="715.9" cy="472.9" r="2.35"/><circle cx="703.1" cy="472.3" r="2.35"/><circle cx="706.1" cy="479.2" r="2.35"/><circle cx="715.1" cy="485.5" r="2.35"/><circle cx="716.9" cy="476.9" r="2.35"/><circle cx="706.0" cy="480.6" r="2.35"/><circle cx="714.0" cy="476.3" r="2.35"/><circle cx="714.3" cy="485.2" r="2.35"/><circle cx="715.8" cy="481.5" r="2.35"/><circle cx="719.3" cy="475.7" r="2.35"/><circle cx="716.8" cy="475.3" r="2.35"/><circle cx="718.5" cy="482.8" r="2.35"/><circle cx="718.9" cy="482.0" r="2.35"/><circle cx="715.0" cy="470.3" r="2.35"/><circle cx="715.4" cy="481.8" r="2.35"/><circle cx="533.5" cy="538.7" r="2.35"/><circle cx="533.6" cy="537.8" r="2.35"/><circle cx="535.0" cy="536.7" r="2.35"/><circle cx="535.6" cy="536.0" r="2.35"/><circle cx="535.8" cy="534.8" r="2.35"/><circle cx="537.0" cy="533.5" r="2.35"/><circle cx="537.1" cy="532.6" r="2.35"/><circle cx="537.8" cy="531.4" r="2.35"/><circle cx="538.5" cy="530.5" r="2.35"/><circle cx="539.6" cy="530.1" r="2.35"/><circle cx="539.5" cy="528.8" r="2.35"/><circle cx="540.4" cy="528.2" r="2.35"/><circle cx="541.1" cy="526.4" r="2.35"/><circle cx="541.6" cy="526.2" r="2.35"/><circle cx="542.0" cy="524.4" r="2.35"/><circle cx="543.2" cy="523.9" r="2.35"/><circle cx="543.9" cy="523.1" r="2.35"/><circle cx="544.6" cy="521.2" r="2.35"/><circle cx="544.4" cy="520.3" r="2.35"/><circle cx="545.8" cy="520.1" r="2.35"/><circle cx="546.0" cy="518.3" r="2.35"/><circle cx="546.7" cy="517.8" r="2.35"/><circle cx="541.7" cy="542.5" r="2.35"/><circle cx="542.0" cy="541.9" r="2.35"/><circle cx="542.6" cy="540.6" r="2.35"/><circle cx="543.8" cy="539.6" r="2.35"/><circle cx="543.9" cy="539.0" r="2.35"/><circle cx="544.9" cy="537.5" r="2.35"/><circle cx="545.5" cy="536.2" r="2.35"/><circle cx="546.1" cy="536.1" r="2.35"/><circle cx="546.8" cy="535.1" r="2.35"/><circle cx="547.2" cy="533.7" r="2.35"/><circle cx="547.8" cy="533.0" r="2.35"/><circle cx="548.2" cy="531.6" r="2.35"/><circle cx="549.0" cy="530.9" r="2.35"/><circle cx="549.2" cy="529.6" r="2.35"/><circle cx="550.7" cy="528.0" r="2.35"/><circle cx="551.0" cy="527.3" r="2.35"/><circle cx="551.4" cy="526.5" r="2.35"/><circle cx="552.5" cy="525.5" r="2.35"/><circle cx="552.5" cy="524.5" r="2.35"/><circle cx="553.7" cy="523.0" r="2.35"/><circle cx="553.8" cy="522.3" r="2.35"/><circle cx="554.3" cy="521.0" r="2.35"/></g>
<line x1="635.2" y1="505.5" x2="640.6" y2="533.5" stroke="#f4fbfd" stroke-width="1.6"/>
<text x="699.4" y="89.2" font-size="15" fill="#111" stroke="#111" stroke-width="0.35" text-anchor="middle" textLength="18" lengthAdjust="spacingAndGlyphs">Jan</text>
<text x="844.6" y="173.1" font-size="15" fill="#111" stroke="#111" stroke-width="0.35" text-anchor="middle" textLength="21.2" lengthAdjust="spacingAndGlyphs">Feb</text>
<text x="928.5" y="318.3" font-size="15" fill="#111" stroke="#111" stroke-width="0.35" text-anchor="middle" textLength="22.4" lengthAdjust="spacingAndGlyphs">Mar</text>
<text x="928.5" y="486.1" font-size="15" fill="#111" stroke="#111" stroke-width="0.35" text-anchor="middle" textLength="22.4" lengthAdjust="spacingAndGlyphs">Apr</text>
<text x="844.6" y="631.3" font-size="15" fill="#111" stroke="#111" stroke-width="0.35" text-anchor="middle" textLength="24.4" lengthAdjust="spacingAndGlyphs">May</text>
<text x="699.4" y="715.2" font-size="15" fill="#111" stroke="#111" stroke-width="0.35" text-anchor="middle" textLength="18" lengthAdjust="spacingAndGlyphs">Jun</text>
<text x="531.6" y="715.2" font-size="15" fill="#111" stroke="#111" stroke-width="0.35" text-anchor="middle" textLength="14.8" lengthAdjust="spacingAndGlyphs">Jul</text>
<text x="386.4" y="631.3" font-size="15" fill="#111" stroke="#111" stroke-width="0.35" text-anchor="middle" textLength="22.9" lengthAdjust="spacingAndGlyphs">Aug</text>
<text x="302.5" y="486.1" font-size="15" fill="#111" stroke="#111" stroke-width="0.35" text-anchor="middle" textLength="23.5" lengthAdjust="spacingAndGlyphs">Sep</text>
<text x="302.5" y="318.3" font-size="15" fill="#111" stroke="#111" stroke-width="0.35" text-anchor="middle" textLength="21.4" lengthAdjust="spacingAndGlyphs">Oct</text>
<text x="386.4" y="173.1" font-size="15" fill="#111" stroke="#111" stroke-width="0.35" text-anchor="middle" textLength="23.5" lengthAdjust="spacingAndGlyphs">Nov</text>
<text x="531.6" y="89.2" font-size="15" fill="#111" stroke="#111" stroke-width="0.35" text-anchor="middle" textLength="23" lengthAdjust="spacingAndGlyphs">Dec</text>
<path d="M314.6,575.3 A347.5,347.5 0 0,1 268,401.5" fill="none" stroke="#d6b9a5" stroke-width="3.2"/>
<path d="M789.2,702.4 A347.5,347.5 0 0,1 615.5,749" fill="none" stroke="#d6b9a5" stroke-width="3.2"/>
<text x="131.5" y="490.5" font-size="12.5" fill="#111" stroke="#111" stroke-width="0.3" text-anchor="start" textLength="128.2" lengthAdjust="spacingAndGlyphs">September saw the least</text>
<text x="102.3" y="504" font-size="12.5" fill="#111" stroke="#111" stroke-width="0.3" text-anchor="start" textLength="167.1" lengthAdjust="spacingAndGlyphs">amount of commits, standing at</text>
<text x="102.3" y="517" font-size="12.5" fill="#111" stroke="#111" stroke-width="0.3" text-anchor="start" textLength="174.9" lengthAdjust="spacingAndGlyphs">only 177 total commits since 2013</text>
<text x="704.5" y="757" font-size="12.5" fill="#111" stroke="#111" stroke-width="0.3" text-anchor="start" textLength="210.8" lengthAdjust="spacingAndGlyphs">June is the month with the most amount</text>
<text x="704.5" y="771" font-size="12.5" fill="#111" stroke="#111" stroke-width="0.3" text-anchor="start" textLength="222.8" lengthAdjust="spacingAndGlyphs">of commits pushed to d3 repos, making up</text>
<text x="704.5" y="784" font-size="12.5" fill="#111" stroke="#111" stroke-width="0.3" text-anchor="start" textLength="160.4" lengthAdjust="spacingAndGlyphs">more than 20% of all commits</text>
<text x="965.3" y="24.8" font-size="14" fill="#111" stroke="#111" stroke-width="0.3" text-anchor="start" textLength="55.1" lengthAdjust="spacingAndGlyphs">LEGEND:</text>
<text x="932.6" y="42.9" font-size="10.5" fill="#111" stroke="#111" stroke-width="0.3" text-anchor="start" textLength="120.8" lengthAdjust="spacingAndGlyphs">Each ring represents a year,</text>
<text x="933.2" y="56.3" font-size="10.5" fill="#111" stroke="#111" stroke-width="0.3" text-anchor="start" textLength="118.4" lengthAdjust="spacingAndGlyphs">starting from 2013 to 2021</text>
<circle cx="992.7" cy="113.8" r="44.6" fill="none" stroke="#444" stroke-width="1.3"/>
<circle cx="992.7" cy="113.8" r="33.3" fill="none" stroke="#8a8a8a" stroke-width="1"/>
<circle cx="992.7" cy="113.8" r="22.3" fill="none" stroke="#8a8a8a" stroke-width="1"/>
<circle cx="957.1" cy="109.2" r="2.4" fill="#a9c8d3" stroke="#8db2c0" stroke-width="0.7"/>
<circle cx="965.9" cy="118.4" r="2.4" fill="#a9c8d3" stroke="#8db2c0" stroke-width="0.7"/>
<circle cx="957.1" cy="127.2" r="2.4" fill="#a9c8d3" stroke="#8db2c0" stroke-width="0.7"/>
<circle cx="961.4" cy="131.6" r="2.4" fill="#a9c8d3" stroke="#8db2c0" stroke-width="0.7"/>
<circle cx="979.1" cy="127" r="2.4" fill="#a9c8d3" stroke="#8db2c0" stroke-width="0.7"/>
<circle cx="970.4" cy="135.8" r="2.4" fill="#a9c8d3" stroke="#8db2c0" stroke-width="0.7"/>
<circle cx="966.1" cy="144.5" r="2.4" fill="#a9c8d3" stroke="#8db2c0" stroke-width="0.7"/>
<circle cx="979.1" cy="144.9" r="2.4" fill="#a9c8d3" stroke="#8db2c0" stroke-width="0.7"/>
<circle cx="988" cy="144.9" r="2.4" fill="#a9c8d3" stroke="#8db2c0" stroke-width="0.7"/>
<text x="1060" y="91" font-size="10.5" fill="#111" stroke="#111" stroke-width="0.3" text-anchor="start" textLength="60.9" lengthAdjust="spacingAndGlyphs">Calendar year</text>
<path d="M1050.2,91.5 V85.5 Q1050.2,83.3 1052.4,83.3 L1054.2,83.3" fill="none" stroke="#555" stroke-width="0.9"/><path d="M1053.6,81.9 L1056,83.3 L1053.6,84.7 Z" fill="#333"/>
<text x="1048.3" y="104.3" font-size="10.5" fill="#111" stroke="#111" stroke-width="0.3" text-anchor="start" textLength="92" lengthAdjust="spacingAndGlyphs">progresses clockwise</text>
<text x="1048.3" y="117.4" font-size="10.5" fill="#111" stroke="#111" stroke-width="0.3" text-anchor="start" textLength="87" lengthAdjust="spacingAndGlyphs">around same radius</text>
<text x="882" y="168.4" font-size="10.5" fill="#111" stroke="#111" stroke-width="0.3" text-anchor="start" textLength="95.3" lengthAdjust="spacingAndGlyphs">Each dot represents a</text>
<text x="882" y="182" font-size="10.5" fill="#111" stroke="#111" stroke-width="0.3" text-anchor="start" textLength="119.3" lengthAdjust="spacingAndGlyphs">commit made in a d3 repo.</text>
<text x="99.8" y="251.4" font-size="14.5" fill="#111" stroke="#111" stroke-width="0.3" text-anchor="start" textLength="79.9" lengthAdjust="spacingAndGlyphs">ATTRIBUTES:</text>
<rect x="84.7" y="268.4" width="110.6" height="44.3" rx="6" fill="#d8b8a3"/>
<text x="118.6" y="294.4" font-size="13" fill="#111" stroke="#111" stroke-width="0.3" text-anchor="start" textLength="43" lengthAdjust="spacingAndGlyphs">MONTH</text>
<rect x="85" y="321.8" width="110.2" height="44" rx="6" fill="#ffffff" stroke="#e3e3e3" stroke-width="1"/>
<text x="95.3" y="347.2" font-size="13" fill="#111" stroke="#111" stroke-width="0.3" text-anchor="start" textLength="89.6" lengthAdjust="spacingAndGlyphs">CONTRIBUTORS</text>
<text x="244.1" y="737" font-size="11" fill="#444" stroke="#444" stroke-width="0.3" text-anchor="middle" font-weight="bold">Commits Made By Month</text>
<line x1="133.6" y1="863" x2="137.9" y2="863" stroke="#222" stroke-width="1"/>
<text x="129.5" y="866.5" font-size="9.5" fill="#111" stroke="#111" stroke-width="0.3" text-anchor="end">0</text>
<line x1="133.6" y1="848.9" x2="137.9" y2="848.9" stroke="#222" stroke-width="1"/>
<text x="129.5" y="852.4" font-size="9.5" fill="#111" stroke="#111" stroke-width="0.3" text-anchor="end">200</text>
<line x1="133.6" y1="834.7" x2="137.9" y2="834.7" stroke="#222" stroke-width="1"/>
<text x="129.5" y="838.2" font-size="9.5" fill="#111" stroke="#111" stroke-width="0.3" text-anchor="end">400</text>
<line x1="133.6" y1="820.6" x2="137.9" y2="820.6" stroke="#222" stroke-width="1"/>
<text x="129.5" y="824.1" font-size="9.5" fill="#111" stroke="#111" stroke-width="0.3" text-anchor="end">600</text>
<line x1="133.6" y1="806.4" x2="137.9" y2="806.4" stroke="#222" stroke-width="1"/>
<text x="129.5" y="809.9" font-size="9.5" fill="#111" stroke="#111" stroke-width="0.3" text-anchor="end">800</text>
<line x1="133.6" y1="792.3" x2="137.9" y2="792.3" stroke="#222" stroke-width="1"/>
<text x="129.5" y="795.8" font-size="9.5" fill="#111" stroke="#111" stroke-width="0.3" text-anchor="end">1000</text>
<line x1="133.6" y1="778.1" x2="137.9" y2="778.1" stroke="#222" stroke-width="1"/>
<text x="129.5" y="781.6" font-size="9.5" fill="#111" stroke="#111" stroke-width="0.3" text-anchor="end">1200</text>
<line x1="133.6" y1="764" x2="137.9" y2="764" stroke="#222" stroke-width="1"/>
<text x="129.5" y="767.5" font-size="9.5" fill="#111" stroke="#111" stroke-width="0.3" text-anchor="end">1400</text>
<rect x="145.9" y="829" width="14.8" height="34" fill="#75abbf"/>
<line x1="153.3" y1="871.7" x2="153.3" y2="876.4" stroke="#222" stroke-width="1"/>
<text x="153.3" y="886.5" font-size="9" fill="#111" stroke="#111" stroke-width="0.3" text-anchor="middle">Jan</text>
<rect x="162.8" y="824.7" width="14.8" height="38.3" fill="#75abbf"/>
<line x1="170.2" y1="871.7" x2="170.2" y2="876.4" stroke="#222" stroke-width="1"/>
<text x="170.2" y="886.5" font-size="9" fill="#111" stroke="#111" stroke-width="0.3" text-anchor="middle">Feb</text>
<rect x="179.8" y="822" width="14.8" height="41" fill="#75abbf"/>
<line x1="187.2" y1="871.7" x2="187.2" y2="876.4" stroke="#222" stroke-width="1"/>
<text x="187.2" y="886.5" font-size="9" fill="#111" stroke="#111" stroke-width="0.3" text-anchor="middle">Mar</text>
<rect x="196.8" y="829.6" width="14.8" height="33.4" fill="#75abbf"/>
<line x1="204.2" y1="871.7" x2="204.2" y2="876.4" stroke="#222" stroke-width="1"/>
<text x="204.2" y="886.5" font-size="9" fill="#111" stroke="#111" stroke-width="0.3" text-anchor="middle">Apr</text>
<rect x="213.7" y="798.7" width="14.8" height="64.3" fill="#75abbf"/>
<line x1="221.1" y1="871.7" x2="221.1" y2="876.4" stroke="#222" stroke-width="1"/>
<text x="221.1" y="886.5" font-size="9" fill="#111" stroke="#111" stroke-width="0.3" text-anchor="middle">May</text>
<rect x="230.7" y="761.8" width="14.8" height="101.2" fill="#75abbf"/>
<line x1="238.1" y1="871.7" x2="238.1" y2="876.4" stroke="#222" stroke-width="1"/>
<text x="238.1" y="886.5" font-size="9" fill="#111" stroke="#111" stroke-width="0.3" text-anchor="middle">Jun</text>
<rect x="247.6" y="835" width="14.8" height="28" fill="#75abbf"/>
<line x1="255" y1="871.7" x2="255" y2="876.4" stroke="#222" stroke-width="1"/>
<text x="255" y="886.5" font-size="9" fill="#111" stroke="#111" stroke-width="0.3" text-anchor="middle">Jul</text>
<rect x="264.6" y="811.4" width="14.8" height="51.6" fill="#75abbf"/>
<line x1="271.9" y1="871.7" x2="271.9" y2="876.4" stroke="#222" stroke-width="1"/>
<text x="271.9" y="886.5" font-size="9" fill="#111" stroke="#111" stroke-width="0.3" text-anchor="middle">Aug</text>
<rect x="281.5" y="850.4" width="14.8" height="12.6" fill="#75abbf"/>
<line x1="288.9" y1="871.7" x2="288.9" y2="876.4" stroke="#222" stroke-width="1"/>
<text x="288.9" y="886.5" font-size="9" fill="#111" stroke="#111" stroke-width="0.3" text-anchor="middle">Sep</text>
<rect x="298.4" y="848.9" width="14.8" height="14.1" fill="#75abbf"/>
<line x1="305.8" y1="871.7" x2="305.8" y2="876.4" stroke="#222" stroke-width="1"/>
<text x="305.8" y="886.5" font-size="9" fill="#111" stroke="#111" stroke-width="0.3" text-anchor="middle">Oct</text>
<rect x="315.4" y="817.7" width="14.8" height="45.3" fill="#75abbf"/>
<line x1="322.8" y1="871.7" x2="322.8" y2="876.4" stroke="#222" stroke-width="1"/>
<text x="322.8" y="886.5" font-size="9" fill="#111" stroke="#111" stroke-width="0.3" text-anchor="middle">Nov</text>
<rect x="332.4" y="837.7" width="14.8" height="25.3" fill="#75abbf"/>
<line x1="339.8" y1="871.7" x2="339.8" y2="876.4" stroke="#222" stroke-width="1"/>
<text x="339.8" y="886.5" font-size="9" fill="#111" stroke="#111" stroke-width="0.3" text-anchor="middle">Dec</text>
</svg></body></html>
